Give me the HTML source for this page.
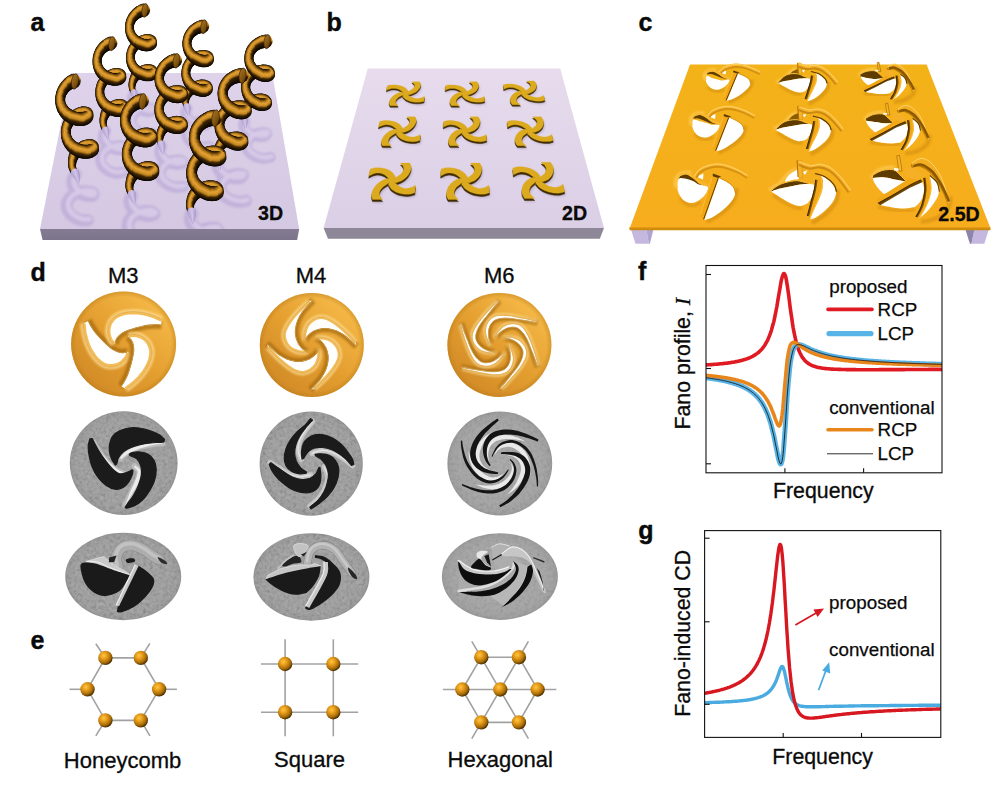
<!DOCTYPE html>
<html><head><meta charset="utf-8"><title>Figure</title>
<style>html,body{margin:0;padding:0;background:#fff;}body{width:1002px;height:787px;overflow:hidden;font-family:"Liberation Sans",sans-serif;}svg{display:block}</style>
</head><body>
<svg width="1002" height="787" viewBox="0 0 1002 787">
<rect width="1002" height="787" fill="#fff"/>
<linearGradient id="sa" x1="0" y1="0" x2="0" y2="1"><stop offset="0" stop-color="#ded3eb"/><stop offset="1" stop-color="#d5c8e2"/></linearGradient>
<linearGradient id="sas" x1="0" y1="0" x2="0" y2="1"><stop offset="0" stop-color="#857c94"/><stop offset="1" stop-color="#7c748a"/></linearGradient>
<path d="M71 73H272.1L299.2 229H40Z" fill="url(#sa)"/>
<path d="M40 229H299.2L297.1 239.9H42.6Z" fill="url(#sas)"/>
<linearGradient id="sb" x1="0" y1="0" x2="0" y2="1"><stop offset="0" stop-color="#e7dbed"/><stop offset="1" stop-color="#dbcfe6"/></linearGradient>
<path d="M367.8 68.5H560.2L604 228.1H323.6Z" fill="url(#sb)"/>
<path d="M323.6 228.1H604L599.8 238.7H328Z" fill="#8e8798"/>
<linearGradient id="gc" x1="0" y1="0" x2="0" y2="1"><stop offset="0" stop-color="#f3b218"/><stop offset="1" stop-color="#f7ad1e"/></linearGradient>
<path d="M631 229.5H646.3L648.9 243.7H635.5Z" fill="#c4b8e0"/><path d="M646.3 229.5H653.4L649.9 243.7H648.9Z" fill="#b0a4d0"/>
<path d="M974.4 229.5H988.8L984.3 243.7H971.4Z" fill="#c4b8e0"/><path d="M965.4 229.5H974.4L971.4 243.7H969.9Z" fill="#8d84ab"/>
<path d="M690 64.6H926.6L990.4 228H629.8Z" fill="url(#gc)"/>
<path d="M629.2 227.6H990.6L990.4 230.2H629.6Z" fill="#d08c0a"/>
<linearGradient id="hg0" x1="0" y1="0" x2="0" y2="1"><stop offset="0%" stop-color="#060300"/><stop offset="37.5%" stop-color="#3e2503"/><stop offset="54%" stop-color="#c4861f"/><stop offset="75%" stop-color="#e2a236"/><stop offset="85%" stop-color="#b47818"/><stop offset="95.5%" stop-color="#452a04"/><stop offset="100%" stop-color="#0c0600"/></linearGradient>
<linearGradient id="hg1" x1="0" y1="0" x2="0" y2="1"><stop offset="0%" stop-color="#060300"/><stop offset="30.2%" stop-color="#3e2503"/><stop offset="47.4%" stop-color="#c4861f"/><stop offset="68.8%" stop-color="#e2a236"/><stop offset="81.2%" stop-color="#b47818"/><stop offset="94.4%" stop-color="#452a04"/><stop offset="100%" stop-color="#0c0600"/></linearGradient>
<linearGradient id="hg2" x1="0" y1="0" x2="0" y2="1"><stop offset="0%" stop-color="#060300"/><stop offset="23.8%" stop-color="#3e2503"/><stop offset="41.2%" stop-color="#c4861f"/><stop offset="62.5%" stop-color="#e2a236"/><stop offset="77.5%" stop-color="#b47818"/><stop offset="93.2%" stop-color="#452a04"/><stop offset="100%" stop-color="#0c0600"/></linearGradient>
<linearGradient id="hg3" x1="0" y1="0" x2="0" y2="1"><stop offset="0%" stop-color="#060300"/><stop offset="18%" stop-color="#3e2503"/><stop offset="35.4%" stop-color="#c4861f"/><stop offset="56.2%" stop-color="#e2a236"/><stop offset="73.8%" stop-color="#b47818"/><stop offset="92.1%" stop-color="#452a04"/><stop offset="100%" stop-color="#0c0600"/></linearGradient>
<linearGradient id="hg4" x1="0" y1="0" x2="0" y2="1"><stop offset="0%" stop-color="#0c0600"/><stop offset="9%" stop-color="#452a04"/><stop offset="30%" stop-color="#b47818"/><stop offset="50%" stop-color="#e2a236"/><stop offset="70%" stop-color="#c4861f"/><stop offset="87%" stop-color="#3e2503"/><stop offset="100%" stop-color="#060300"/></linearGradient>
<linearGradient id="hg5" x1="0" y1="0" x2="0" y2="1"><stop offset="0%" stop-color="#0c0600"/><stop offset="7.9%" stop-color="#452a04"/><stop offset="26.2%" stop-color="#b47818"/><stop offset="43.8%" stop-color="#e2a236"/><stop offset="64.6%" stop-color="#c4861f"/><stop offset="82%" stop-color="#3e2503"/><stop offset="100%" stop-color="#060300"/></linearGradient>
<linearGradient id="hg6" x1="0" y1="0" x2="0" y2="1"><stop offset="0%" stop-color="#0c0600"/><stop offset="6.8%" stop-color="#452a04"/><stop offset="22.5%" stop-color="#b47818"/><stop offset="37.5%" stop-color="#e2a236"/><stop offset="58.8%" stop-color="#c4861f"/><stop offset="76.2%" stop-color="#3e2503"/><stop offset="100%" stop-color="#060300"/></linearGradient>
<linearGradient id="hg7" x1="0" y1="0" x2="0" y2="1"><stop offset="0%" stop-color="#0c0600"/><stop offset="5.6%" stop-color="#452a04"/><stop offset="18.8%" stop-color="#b47818"/><stop offset="31.2%" stop-color="#e2a236"/><stop offset="52.6%" stop-color="#c4861f"/><stop offset="69.8%" stop-color="#3e2503"/><stop offset="100%" stop-color="#060300"/></linearGradient>
<linearGradient id="hg8" x1="0" y1="0" x2="0" y2="1"><stop offset="0%" stop-color="#0c0600"/><stop offset="4.5%" stop-color="#452a04"/><stop offset="15%" stop-color="#b47818"/><stop offset="25%" stop-color="#e2a236"/><stop offset="46%" stop-color="#c4861f"/><stop offset="62.5%" stop-color="#3e2503"/><stop offset="100%" stop-color="#060300"/></linearGradient>
<linearGradient id="hlv" x1="0" y1="0" x2="0" y2="1"><stop offset="0" stop-color="#ab9acc"/><stop offset="0.45" stop-color="#d2c6e8"/><stop offset="1" stop-color="#b4a4d2"/></linearGradient>
<linearGradient id="htip" x1="0" y1="0" x2="1" y2="1"><stop offset="0" stop-color="#a87428"/><stop offset="0.6" stop-color="#80540e"/><stop offset="1" stop-color="#4a2c04"/></linearGradient>
<clipPath id="cla"><path d="M71 73H272.1L299.2 229H40Z"/></clipPath>
<g clip-path="url(#cla)" fill="none" stroke-linecap="round" filter="url(#b1)"><path d="M152.4 133.6C151.4 133.7 148.3 134.3 146.3 134.2C144.4 134 142.4 133.3 140.7 132.6C139 131.9 137.4 131 136.1 129.9C134.8 128.9 133.6 127.6 132.8 126.3C132 125 131.4 123.5 131.2 122.1C131 120.7 131.1 119.2 131.5 117.8C132 116.4 132.8 115.1 133.8 113.9C134.8 112.7 136.2 111.6 137.6 110.7C139.1 109.8 140.8 109.1 142.6 108.6C144.3 108.1 146.3 107.7 148.1 107.7C149.8 107.8 152.7 108.2 153.1 108.9C153.5 109.5 151.8 111.3 150.4 111.7C148.9 112.1 146.3 111.7 144.4 111.3C142.5 110.8 140.7 110.1 139.1 109.2C137.6 108.4 136.1 107.3 135 106.1C133.9 104.9 133.2 103.5 132.7 102.1C132.3 100.8 132 99.2 132.2 97.9C132.4 96.6 133.7 95 134 94.4" stroke="#b7a5d5" stroke-width="10.6" opacity="0.62"/>
<path d="M152.4 133.6C151.4 133.7 148.3 134.3 146.3 134.2C144.4 134 142.4 133.3 140.7 132.6C139 131.9 137.4 131 136.1 129.9C134.8 128.9 133.6 127.6 132.8 126.3C132 125 131.4 123.5 131.2 122.1C131 120.7 131.1 119.2 131.5 117.8C132 116.4 132.8 115.1 133.8 113.9C134.8 112.7 136.2 111.6 137.6 110.7C139.1 109.8 140.8 109.1 142.6 108.6C144.3 108.1 146.3 107.7 148.1 107.7C149.8 107.8 152.7 108.2 153.1 108.9C153.5 109.5 151.8 111.3 150.4 111.7C148.9 112.1 146.3 111.7 144.4 111.3C142.5 110.8 140.7 110.1 139.1 109.2C137.6 108.4 136.1 107.3 135 106.1C133.9 104.9 133.2 103.5 132.7 102.1C132.3 100.8 132 99.2 132.2 97.9C132.4 96.6 133.7 95 134 94.4" stroke="#e6ddf2" stroke-width="4" opacity="0.55" transform="translate(1.3 -0.9)"/>
<path d="M209.3 146.3C208.2 146.4 205.2 147.2 203.2 147.2C201.3 147.1 199.3 146.6 197.5 146C195.7 145.4 194 144.6 192.6 143.6C191.1 142.6 189.8 141.5 188.9 140.2C187.9 139 187.1 137.6 186.8 136.2C186.4 134.8 186.4 133.2 186.8 131.8C187.1 130.4 187.8 129 188.7 127.8C189.7 126.6 190.9 125.4 192.3 124.5C193.7 123.5 195.4 122.7 197.1 122.1C198.8 121.6 200.7 121.1 202.5 121.1C204.3 121 207.2 121.2 207.7 121.9C208.2 122.5 206.8 124.4 205.4 124.9C204 125.3 201.3 125 199.4 124.7C197.5 124.4 195.6 123.8 193.9 123.1C192.3 122.3 190.6 121.4 189.4 120.3C188.2 119.2 187.3 117.8 186.6 116.5C186 115.1 185.6 113.6 185.7 112.3C185.8 111 186.9 109.4 187.1 108.8" stroke="#b7a5d5" stroke-width="10.8" opacity="0.62"/>
<path d="M209.3 146.3C208.2 146.4 205.2 147.2 203.2 147.2C201.3 147.1 199.3 146.6 197.5 146C195.7 145.4 194 144.6 192.6 143.6C191.1 142.6 189.8 141.5 188.9 140.2C187.9 139 187.1 137.6 186.8 136.2C186.4 134.8 186.4 133.2 186.8 131.8C187.1 130.4 187.8 129 188.7 127.8C189.7 126.6 190.9 125.4 192.3 124.5C193.7 123.5 195.4 122.7 197.1 122.1C198.8 121.6 200.7 121.1 202.5 121.1C204.3 121 207.2 121.2 207.7 121.9C208.2 122.5 206.8 124.4 205.4 124.9C204 125.3 201.3 125 199.4 124.7C197.5 124.4 195.6 123.8 193.9 123.1C192.3 122.3 190.6 121.4 189.4 120.3C188.2 119.2 187.3 117.8 186.6 116.5C186 115.1 185.6 113.6 185.7 112.3C185.8 111 186.9 109.4 187.1 108.8" stroke="#e6ddf2" stroke-width="4" opacity="0.55" transform="translate(1.4 -0.9)"/>
<path d="M270.3 157.3C269.3 157.5 266.3 158.4 264.4 158.4C262.4 158.5 260.4 158.1 258.6 157.6C256.7 157.1 254.9 156.4 253.4 155.5C251.9 154.6 250.4 153.5 249.3 152.4C248.2 151.2 247.3 149.8 246.9 148.4C246.4 147 246.2 145.5 246.4 144.1C246.7 142.7 247.3 141.2 248.1 140C249 138.7 250.2 137.5 251.5 136.5C252.8 135.5 254.4 134.6 256.1 134C257.7 133.4 259.6 132.8 261.4 132.7C263.1 132.5 266.1 132.6 266.6 133.2C267.1 133.8 265.8 135.8 264.4 136.3C263 136.8 260.3 136.7 258.4 136.5C256.5 136.3 254.5 135.8 252.8 135.1C251 134.5 249.3 133.7 248 132.6C246.6 131.6 245.6 130.3 244.9 129C244.1 127.7 243.5 126.2 243.5 124.9C243.5 123.6 244.5 121.8 244.7 121.2" stroke="#b7a5d5" stroke-width="10.9" opacity="0.62"/>
<path d="M270.3 157.3C269.3 157.5 266.3 158.4 264.4 158.4C262.4 158.5 260.4 158.1 258.6 157.6C256.7 157.1 254.9 156.4 253.4 155.5C251.9 154.6 250.4 153.5 249.3 152.4C248.2 151.2 247.3 149.8 246.9 148.4C246.4 147 246.2 145.5 246.4 144.1C246.7 142.7 247.3 141.2 248.1 140C249 138.7 250.2 137.5 251.5 136.5C252.8 135.5 254.4 134.6 256.1 134C257.7 133.4 259.6 132.8 261.4 132.7C263.1 132.5 266.1 132.6 266.6 133.2C267.1 133.8 265.8 135.8 264.4 136.3C263 136.8 260.3 136.7 258.4 136.5C256.5 136.3 254.5 135.8 252.8 135.1C251 134.5 249.3 133.7 248 132.6C246.6 131.6 245.6 130.3 244.9 129C244.1 127.7 243.5 126.2 243.5 124.9C243.5 123.6 244.5 121.8 244.7 121.2" stroke="#e6ddf2" stroke-width="4.1" opacity="0.55" transform="translate(1.4 -0.9)"/>
<path d="M122.1 172.4C121.1 172.6 118 173.3 116 173.2C114.1 173.1 112.1 172.4 110.4 171.7C108.7 171 107.1 170 105.8 168.9C104.5 167.9 103.3 166.6 102.5 165.4C101.6 164.1 101 162.6 100.7 161.2C100.4 159.8 100.5 158.3 100.8 156.9C101.2 155.5 101.9 154.1 102.8 152.8C103.7 151.6 105 150.4 106.3 149.5C107.7 148.5 109.4 147.7 111.1 147.1C112.7 146.5 114.6 146 116.5 145.9C118.3 145.7 120.7 145.6 122 146.2C123.3 146.7 124.8 148.5 124.2 149.1C123.6 149.7 120.1 150.1 118.2 149.9C116.2 149.8 114.3 149.1 112.6 148.4C110.9 147.7 109.2 146.8 107.9 145.7C106.6 144.6 105.5 143.3 104.8 142C104 140.6 103.5 139.2 103.4 137.8C103.3 136.4 103.6 134.7 104 133.6C104.4 132.5 105.4 131.5 105.7 131.1" stroke="#b7a5d5" stroke-width="11" opacity="0.62"/>
<path d="M122.1 172.4C121.1 172.6 118 173.3 116 173.2C114.1 173.1 112.1 172.4 110.4 171.7C108.7 171 107.1 170 105.8 168.9C104.5 167.9 103.3 166.6 102.5 165.4C101.6 164.1 101 162.6 100.7 161.2C100.4 159.8 100.5 158.3 100.8 156.9C101.2 155.5 101.9 154.1 102.8 152.8C103.7 151.6 105 150.4 106.3 149.5C107.7 148.5 109.4 147.7 111.1 147.1C112.7 146.5 114.6 146 116.5 145.9C118.3 145.7 120.7 145.6 122 146.2C123.3 146.7 124.8 148.5 124.2 149.1C123.6 149.7 120.1 150.1 118.2 149.9C116.2 149.8 114.3 149.1 112.6 148.4C110.9 147.7 109.2 146.8 107.9 145.7C106.6 144.6 105.5 143.3 104.8 142C104 140.6 103.5 139.2 103.4 137.8C103.3 136.4 103.6 134.7 104 133.6C104.4 132.5 105.4 131.5 105.7 131.1" stroke="#e6ddf2" stroke-width="4.1" opacity="0.55" transform="translate(1.4 -0.9)"/>
<path d="M183 186.6C182 186.7 178.9 187.4 177 187.3C175 187.2 173 186.7 171.3 186.1C169.5 185.5 167.8 184.7 166.3 183.7C164.9 182.8 163.5 181.7 162.5 180.4C161.5 179.2 160.7 177.8 160.2 176.4C159.8 175 159.6 173.5 159.9 172.1C160.1 170.7 160.7 169.2 161.5 168C162.3 166.7 163.5 165.5 164.8 164.5C166.1 163.5 167.7 162.6 169.3 161.9C170.9 161.2 172.8 160.6 174.6 160.4C176.4 160.1 178.7 159.8 180.1 160.3C181.5 160.7 183.5 162.2 183 162.9C182.6 163.6 179.1 164.2 177.2 164.3C175.3 164.4 173.2 163.8 171.4 163.3C169.6 162.8 167.8 162 166.3 161.1C164.8 160.2 163.4 159.1 162.4 157.8C161.4 156.6 160.6 155.2 160.2 153.9C159.8 152.5 159.7 150.9 160 149.6C160.2 148.4 161.4 146.9 161.6 146.3" stroke="#b7a5d5" stroke-width="11.3" opacity="0.62"/>
<path d="M183 186.6C182 186.7 178.9 187.4 177 187.3C175 187.2 173 186.7 171.3 186.1C169.5 185.5 167.8 184.7 166.3 183.7C164.9 182.8 163.5 181.7 162.5 180.4C161.5 179.2 160.7 177.8 160.2 176.4C159.8 175 159.6 173.5 159.9 172.1C160.1 170.7 160.7 169.2 161.5 168C162.3 166.7 163.5 165.5 164.8 164.5C166.1 163.5 167.7 162.6 169.3 161.9C170.9 161.2 172.8 160.6 174.6 160.4C176.4 160.1 178.7 159.8 180.1 160.3C181.5 160.7 183.5 162.2 183 162.9C182.6 163.6 179.1 164.2 177.2 164.3C175.3 164.4 173.2 163.8 171.4 163.3C169.6 162.8 167.8 162 166.3 161.1C164.8 160.2 163.4 159.1 162.4 157.8C161.4 156.6 160.6 155.2 160.2 153.9C159.8 152.5 159.7 150.9 160 149.6C160.2 148.4 161.4 146.9 161.6 146.3" stroke="#e6ddf2" stroke-width="4.3" opacity="0.55" transform="translate(1.4 -0.9)"/>
<path d="M246 200.8C245 201 242 201.8 240.1 201.8C238.1 201.9 236.1 201.5 234.2 201.1C232.4 200.6 230.5 200 228.9 199.2C227.3 198.4 225.7 197.4 224.5 196.4C223.2 195.3 222.1 194 221.4 192.7C220.7 191.3 220.2 189.8 220.1 188.4C220.1 187 220.4 185.5 220.9 184.1C221.5 182.8 222.4 181.4 223.5 180.3C224.6 179.1 226 178.1 227.4 177.2C228.9 176.3 230.6 175.6 232.3 175C234 174.5 236 174 237.7 174C239.5 174 242.5 174.2 242.9 174.8C243.3 175.5 241.7 177.4 240.3 178C238.9 178.5 236.3 178.4 234.3 178.3C232.4 178.1 230.4 177.7 228.6 177.1C226.8 176.6 225 175.9 223.5 174.9C222.1 174 220.8 172.8 219.8 171.5C218.8 170.3 218 168.9 217.6 167.6C217.3 166.2 217.5 164.3 217.7 163.4C217.9 162.4 218.4 162.1 218.6 161.8" stroke="#b7a5d5" stroke-width="12" opacity="0.62"/>
<path d="M246 200.8C245 201 242 201.8 240.1 201.8C238.1 201.9 236.1 201.5 234.2 201.1C232.4 200.6 230.5 200 228.9 199.2C227.3 198.4 225.7 197.4 224.5 196.4C223.2 195.3 222.1 194 221.4 192.7C220.7 191.3 220.2 189.8 220.1 188.4C220.1 187 220.4 185.5 220.9 184.1C221.5 182.8 222.4 181.4 223.5 180.3C224.6 179.1 226 178.1 227.4 177.2C228.9 176.3 230.6 175.6 232.3 175C234 174.5 236 174 237.7 174C239.5 174 242.5 174.2 242.9 174.8C243.3 175.5 241.7 177.4 240.3 178C238.9 178.5 236.3 178.4 234.3 178.3C232.4 178.1 230.4 177.7 228.6 177.1C226.8 176.6 225 175.9 223.5 174.9C222.1 174 220.8 172.8 219.8 171.5C218.8 170.3 218 168.9 217.6 167.6C217.3 166.2 217.5 164.3 217.7 163.4C217.9 162.4 218.4 162.1 218.6 161.8" stroke="#e6ddf2" stroke-width="4.5" opacity="0.55" transform="translate(1.5 -1)"/>
<path d="M87.8 220.3C86.8 220.3 83.6 220.5 81.7 220.2C79.8 219.9 77.9 219.1 76.3 218.3C74.6 217.6 73.1 216.5 71.8 215.5C70.5 214.4 69.4 213.1 68.6 211.8C67.7 210.5 67.1 209.1 66.8 207.7C66.5 206.2 66.5 204.7 66.8 203.3C67.1 201.9 67.8 200.5 68.7 199.3C69.5 198 70.8 196.8 72.1 195.8C73.4 194.8 75 193.9 76.7 193.3C78.3 192.6 80.2 192 82 191.7C83.8 191.4 85.8 191.2 87.6 191.4C89.4 191.5 92 191.8 92.9 192.6C93.7 193.3 93.7 195.3 92.6 195.8C91.6 196.3 88.4 196 86.5 195.7C84.6 195.3 82.8 194.6 81.1 193.8C79.5 193 77.9 192 76.7 190.9C75.4 189.8 74.4 188.5 73.6 187.1C72.9 185.8 72.5 184.4 72.3 182.9C72.2 181.5 72.2 180.1 72.8 178.7C73.3 177.3 75.2 175.3 75.7 174.6C76.2 173.9 75.7 174.6 75.7 174.6" stroke="#b7a5d5" stroke-width="12" opacity="0.62"/>
<path d="M87.8 220.3C86.8 220.3 83.6 220.5 81.7 220.2C79.8 219.9 77.9 219.1 76.3 218.3C74.6 217.6 73.1 216.5 71.8 215.5C70.5 214.4 69.4 213.1 68.6 211.8C67.7 210.5 67.1 209.1 66.8 207.7C66.5 206.2 66.5 204.7 66.8 203.3C67.1 201.9 67.8 200.5 68.7 199.3C69.5 198 70.8 196.8 72.1 195.8C73.4 194.8 75 193.9 76.7 193.3C78.3 192.6 80.2 192 82 191.7C83.8 191.4 85.8 191.2 87.6 191.4C89.4 191.5 92 191.8 92.9 192.6C93.7 193.3 93.7 195.3 92.6 195.8C91.6 196.3 88.4 196 86.5 195.7C84.6 195.3 82.8 194.6 81.1 193.8C79.5 193 77.9 192 76.7 190.9C75.4 189.8 74.4 188.5 73.6 187.1C72.9 185.8 72.5 184.4 72.3 182.9C72.2 181.5 72.2 180.1 72.8 178.7C73.3 177.3 75.2 175.3 75.7 174.6C76.2 173.9 75.7 174.6 75.7 174.6" stroke="#e6ddf2" stroke-width="4.5" opacity="0.55" transform="translate(1.5 -1)"/>
<path d="M151.9 240.3C150.9 240.4 147.8 241 145.8 240.9C143.9 240.7 141.9 240.2 140.2 239.6C138.4 239 136.7 238.1 135.2 237.2C133.7 236.3 132.3 235.1 131.2 234C130.1 232.8 129.2 231.4 128.6 230C128 228.7 127.7 227.2 127.7 225.8C127.7 224.3 128 222.8 128.6 221.5C129.2 220.1 130.1 218.8 131.2 217.7C132.3 216.5 133.7 215.5 135.2 214.6C136.7 213.7 138.4 213 140.1 212.4C141.8 211.9 143.7 211.4 145.6 211.3C147.4 211.1 149.6 211 151.1 211.5C152.5 212 154.7 213.5 154.2 214.2C153.8 214.9 150.5 215.7 148.6 215.8C146.6 215.9 144.6 215.4 142.7 214.9C140.9 214.4 139.1 213.6 137.5 212.8C136 211.9 134.4 210.9 133.3 209.7C132.1 208.6 131.3 207.2 130.7 205.8C130.1 204.4 129.6 203 129.6 201.6C129.6 200.2 130.3 198.4 130.7 197.4C131.1 196.5 131.7 196.2 131.9 196" stroke="#b7a5d5" stroke-width="12.4" opacity="0.62"/>
<path d="M151.9 240.3C150.9 240.4 147.8 241 145.8 240.9C143.9 240.7 141.9 240.2 140.2 239.6C138.4 239 136.7 238.1 135.2 237.2C133.7 236.3 132.3 235.1 131.2 234C130.1 232.8 129.2 231.4 128.6 230C128 228.7 127.7 227.2 127.7 225.8C127.7 224.3 128 222.8 128.6 221.5C129.2 220.1 130.1 218.8 131.2 217.7C132.3 216.5 133.7 215.5 135.2 214.6C136.7 213.7 138.4 213 140.1 212.4C141.8 211.9 143.7 211.4 145.6 211.3C147.4 211.1 149.6 211 151.1 211.5C152.5 212 154.7 213.5 154.2 214.2C153.8 214.9 150.5 215.7 148.6 215.8C146.6 215.9 144.6 215.4 142.7 214.9C140.9 214.4 139.1 213.6 137.5 212.8C136 211.9 134.4 210.9 133.3 209.7C132.1 208.6 131.3 207.2 130.7 205.8C130.1 204.4 129.6 203 129.6 201.6C129.6 200.2 130.3 198.4 130.7 197.4C131.1 196.5 131.7 196.2 131.9 196" stroke="#e6ddf2" stroke-width="4.6" opacity="0.55" transform="translate(1.5 -1)"/>
<path d="M220.8 257.6C219.9 257.8 217 258.8 215 259C213.1 259.1 211 258.8 209.1 258.4C207.2 258.1 205.4 257.5 203.7 256.8C202 256.1 200.3 255.2 198.9 254.2C197.5 253.2 196.2 252 195.3 250.8C194.3 249.6 193.5 248.2 193 246.8C192.5 245.4 192.4 243.9 192.5 242.5C192.6 241 193.1 239.6 193.8 238.3C194.5 236.9 195.5 235.7 196.6 234.5C197.8 233.4 199.2 232.4 200.7 231.5C202.2 230.6 203.9 229.9 205.6 229.3C207.3 228.8 209.2 228.3 211 228.2C212.8 228.1 215.4 228 216.4 228.6C217.5 229.2 218 231.1 217.1 231.8C216.2 232.5 213.2 232.8 211.2 232.9C209.2 233 207.2 232.7 205.3 232.3C203.5 231.9 201.6 231.3 199.9 230.6C198.3 229.8 196.6 228.9 195.3 227.9C194 226.8 193 225.5 192.1 224.2C191.3 223 190.6 221.5 190.4 220.2C190.1 218.8 190.4 217.1 190.7 215.9C190.9 214.8 191.7 213.8 191.9 213.4" stroke="#b7a5d5" stroke-width="13.1" opacity="0.62"/>
<path d="M220.8 257.6C219.9 257.8 217 258.8 215 259C213.1 259.1 211 258.8 209.1 258.4C207.2 258.1 205.4 257.5 203.7 256.8C202 256.1 200.3 255.2 198.9 254.2C197.5 253.2 196.2 252 195.3 250.8C194.3 249.6 193.5 248.2 193 246.8C192.5 245.4 192.4 243.9 192.5 242.5C192.6 241 193.1 239.6 193.8 238.3C194.5 236.9 195.5 235.7 196.6 234.5C197.8 233.4 199.2 232.4 200.7 231.5C202.2 230.6 203.9 229.9 205.6 229.3C207.3 228.8 209.2 228.3 211 228.2C212.8 228.1 215.4 228 216.4 228.6C217.5 229.2 218 231.1 217.1 231.8C216.2 232.5 213.2 232.8 211.2 232.9C209.2 233 207.2 232.7 205.3 232.3C203.5 231.9 201.6 231.3 199.9 230.6C198.3 229.8 196.6 228.9 195.3 227.9C194 226.8 193 225.5 192.1 224.2C191.3 223 190.6 221.5 190.4 220.2C190.1 218.8 190.4 217.1 190.7 215.9C190.9 214.8 191.7 213.8 191.9 213.4" stroke="#e6ddf2" stroke-width="4.9" opacity="0.55" transform="translate(1.6 -1.1)"/></g>
<g fill="url(#hg0)">
<circle r="5.5" transform="translate(141 41.3)rotate(154.7)"/>
<circle r="5.5" transform="translate(142.5 71)rotate(156.9)"/>
<circle r="6.1" transform="translate(140.8 11.1)rotate(157.3)"/>
<circle r="6" transform="translate(139.5 11.7)rotate(152.6)"/>
<circle r="5.4" transform="translate(141.2 71.7)rotate(152.3)"/>
<circle r="5.5" transform="translate(142.4 40.8)rotate(159.5)"/>
<circle r="5.4" transform="translate(139.7 42)rotate(150.2)"/>
<circle r="5.6" transform="translate(143.9 70.5)rotate(161.7)"/>
<circle r="5.8" transform="translate(138.2 12.4)rotate(148.2)"/>
<circle r="6.3" transform="translate(142.2 10.5)rotate(162.1)"/>
<circle r="5.3" transform="translate(139.9 72.4)rotate(147.8)"/>
<circle r="5.6" transform="translate(143.8 40.3)rotate(164.5)"/>
<circle r="5.3" transform="translate(138.5 42.8)rotate(145.8)"/>
<circle r="5.6" transform="translate(137 13.2)rotate(143.8)"/>
<circle r="5.2" transform="translate(138.7 73.2)rotate(143.4)"/>
<circle r="5.7" transform="translate(145.4 70.1)rotate(167)"/>
<circle r="6.6" transform="translate(143.6 10.2)rotate(167.4)"/>
<circle r="5.2" transform="translate(137.3 43.7)rotate(141.4)"/>
<circle r="5.7" transform="translate(145.2 40)rotate(170)"/>
<circle r="5.5" transform="translate(135.8 14.1)rotate(139.4)"/>
<circle r="5.2" transform="translate(137.6 74.1)rotate(139.1)"/>
<circle r="5.7" transform="translate(146.8 69.8)rotate(172.8)"/>
<circle r="5.1" transform="translate(136.2 44.6)rotate(137.1)"/>
<circle r="5.3" transform="translate(134.8 15.1)rotate(135)"/>
<circle r="5.1" transform="translate(136.5 75.1)rotate(134.7)"/>
<circle r="5.7" transform="translate(146.7 39.8)rotate(176.3)"/>
<circle r="5" transform="translate(135.1 45.6)rotate(132.7)"/>
<circle r="5.7" transform="translate(148.4 69.8)rotate(179.7)"/>
<circle r="5.2" transform="translate(133.8 16.2)rotate(130.6)"/>
<circle r="5" transform="translate(135.5 76.2)rotate(130.3)"/>
<circle r="4.9" transform="translate(134.2 46.7)rotate(128.2)"/>
<circle r="5.8" transform="translate(148.3 39.8)rotate(-176)"/>
</g>
<g fill="url(#hg1)">
<circle r="5.1" transform="translate(132.9 17.3)rotate(126.2)"/>
<circle r="4.6" transform="translate(134.7 77.4)rotate(119.5)"/>
<circle r="5.7" transform="translate(149.9 69.9)rotate(-171.6)"/>
<circle r="4.8" transform="translate(133.3 47.9)rotate(123.7)"/>
<circle r="4.9" transform="translate(132.1 18.5)rotate(121.6)"/>
<circle r="4.4" transform="translate(134 78.7)rotate(115.9)"/>
<circle r="5.7" transform="translate(149.8 40.1)rotate(-165.4)"/>
<circle r="4.7" transform="translate(132.6 49.1)rotate(119.1)"/>
<circle r="4.2" transform="translate(133.4 80)rotate(112.2)"/>
<circle r="4.8" transform="translate(131.3 19.8)rotate(117)"/>
<circle r="5.6" transform="translate(151.4 70.3)rotate(-158.5)"/>
<circle r="4.6" transform="translate(131.9 50.4)rotate(114.5)"/>
<circle r="4" transform="translate(132.9 81.3)rotate(108.2)"/>
<circle r="4.7" transform="translate(130.7 21.1)rotate(112.3)"/>
<circle r="4.5" transform="translate(131.4 51.8)rotate(109.7)"/>
</g>
<g fill="url(#hg2)">
<circle r="5.5" transform="translate(151.3 40.7)rotate(-147.2)"/>
</g>
<g fill="url(#hg1)">
<circle r="3.8" transform="translate(132.5 82.7)rotate(103.9)"/>
<circle r="4.6" transform="translate(130.2 22.4)rotate(107.5)"/>
<circle r="4.5" transform="translate(130.9 53.2)rotate(104.9)"/>
</g>
<g fill="url(#hg2)">
<circle r="3.7" transform="translate(132.2 84.1)rotate(99.2)"/>
<circle r="4.6" transform="translate(129.8 23.8)rotate(102.6)"/>
</g>
<g fill="url(#hg3)">
<circle r="5.1" transform="translate(152.8 71.2)rotate(-132.3)"/>
</g>
<g fill="url(#hg2)">
<circle r="4.4" transform="translate(130.6 54.6)rotate(99.9)"/>
<circle r="3.5" transform="translate(132 85.5)rotate(94)"/>
<circle r="4.5" transform="translate(129.6 25.3)rotate(97.7)"/>
<circle r="4.4" transform="translate(130.4 56)rotate(95)"/>
<circle r="4.5" transform="translate(129.5 26.7)rotate(92.7)"/>
</g>
<g fill="url(#hg5)">
<circle r="4.6" transform="translate(152.4 42)rotate(-106.6)"/>
</g>
<g fill="url(#hg2)">
<circle r="3.3" transform="translate(132 86.9)rotate(88.1)"/>
<circle r="4.4" transform="translate(130.3 57.5)rotate(90)"/>
<circle r="4.5" transform="translate(129.4 28.2)rotate(87.7)"/>
</g>
<g fill="url(#hg3)">
<circle r="3.2" transform="translate(132.1 88.3)rotate(81.6)"/>
</g>
<g fill="url(#hg6)">
<circle r="4.5" transform="translate(153.3 72.6)rotate(-82.8)"/>
</g>
<g fill="url(#hg3)">
<circle r="4.5" transform="translate(130.4 58.9)rotate(85)"/>
<circle r="4.5" transform="translate(129.6 29.6)rotate(82.7)"/>
<circle r="3.1" transform="translate(132.4 89.7)rotate(74.3)"/>
<circle r="4.5" transform="translate(130.6 60.3)rotate(80)"/>
<circle r="4.6" transform="translate(129.8 31)rotate(77.7)"/>
</g>
<g fill="url(#hg7)">
<circle r="4.9" transform="translate(152.2 43.3)rotate(-59.9)"/>
</g>
<g fill="url(#hg3)">
<circle r="4.6" transform="translate(130.9 61.8)rotate(75.1)"/>
</g>
<g fill="url(#hg4)">
<circle r="3" transform="translate(132.9 91.1)rotate(66.4)"/>
</g>
<g fill="url(#hg3)">
<circle r="4.7" transform="translate(130.2 32.4)rotate(72.8)"/>
</g>
<g fill="url(#hg8)">
<circle r="5.3" transform="translate(152.7 73.7)rotate(-46.1)"/>
</g>
<g fill="url(#hlv)">
<circle r="3.6" transform="translate(134 93)rotate(76.9)"/>
<circle r="3.1" transform="translate(134.3 94.4)rotate(76.9)"/>
<circle r="2.7" transform="translate(134.6 95.8)rotate(76.9)"/>
<circle r="2.2" transform="translate(135 97.2)rotate(76.9)"/>
<circle r="1.8" transform="translate(135.3 98.6)rotate(76.9)"/>
<circle r="1.3" transform="translate(135.6 100)rotate(76.9)"/>
<circle r="0.7" transform="translate(135.9 101.4)rotate(76.9)"/>
</g>
<g fill="url(#hg4)">
<circle r="4.7" transform="translate(131.3 63.1)rotate(70.2)"/>
<circle r="4.8" transform="translate(130.6 33.8)rotate(67.9)"/>
</g>
<g fill="url(#hg8)">
<circle r="5.6" transform="translate(151.3 44.2)rotate(-34.3)"/>
</g>
<g fill="url(#hg4)">
<circle r="4.8" transform="translate(131.9 64.5)rotate(65.3)"/>
<circle r="4.9" transform="translate(131.2 35.1)rotate(63.2)"/>
</g>
<g fill="url(#hg8)">
<circle r="5.8" transform="translate(151.7 74.4)rotate(-26.8)"/>
</g>
<g fill="url(#hg4)">
<circle r="4.9" transform="translate(132.5 65.8)rotate(60.6)"/>
<circle r="5" transform="translate(131.9 36.4)rotate(58.5)"/>
</g>
<g fill="url(#hg8)">
<circle r="5.9" transform="translate(150.1 44.7)rotate(-19.9)"/>
</g>
<g fill="url(#hg5)">
<circle r="5.1" transform="translate(133.3 67)rotate(56)"/>
</g>
<g fill="url(#hg8)">
<circle r="6" transform="translate(150.4 74.9)rotate(-15)"/>
</g>
<g fill="url(#hg5)">
<circle r="5.2" transform="translate(132.7 37.6)rotate(53.9)"/>
<circle r="5.2" transform="translate(134.1 68.2)rotate(51.4)"/>
</g>
<g fill="url(#hg8)">
<circle r="6.1" transform="translate(148.8 45.1)rotate(-10.1)"/>
</g>
<g fill="url(#hg5)">
<circle r="5.3" transform="translate(133.6 38.7)rotate(49.4)"/>
</g>
<g fill="url(#hg8)">
<circle r="6.1" transform="translate(149.1 75.1)rotate(-6.4)"/>
</g>
<g fill="url(#hg5)">
<circle r="5.4" transform="translate(135.1 69.3)rotate(47)"/>
<circle r="5.4" transform="translate(134.6 39.8)rotate(44.9)"/>
</g>
<g fill="url(#hg8)">
<circle r="6.1" transform="translate(147.4 45.2)rotate(-2.6)"/>
</g>
<g fill="url(#hg6)">
<circle r="5.5" transform="translate(136.1 70.3)rotate(42.6)"/>
</g>
<g fill="url(#hg8)">
<circle r="6.1" transform="translate(147.7 75.2)rotate(0.4)"/>
</g>
<g fill="url(#hg6)">
<circle r="5.6" transform="translate(135.7 40.8)rotate(40.6)"/>
<circle r="5.6" transform="translate(137.2 71.2)rotate(38.2)"/>
</g>
<g fill="url(#hg8)">
<circle r="6.2" transform="translate(146 45.2)rotate(3.6)"/>
</g>
<g fill="url(#hg6)">
<circle r="5.7" transform="translate(136.8 41.7)rotate(36.3)"/>
</g>
<g fill="url(#hg7)">
<circle r="6.1" transform="translate(146.3 75.1)rotate(6.2)"/>
</g>
<g fill="url(#hg6)">
<circle r="5.7" transform="translate(138.4 72.1)rotate(33.9)"/>
</g>
<g fill="url(#hg7)">
<circle r="6.1" transform="translate(144.6 45)rotate(9.1)"/>
</g>
<g fill="url(#hg6)">
<circle r="5.8" transform="translate(138 42.5)rotate(32)"/>
</g>
<g fill="url(#hg7)">
<circle r="6.1" transform="translate(144.9 74.9)rotate(11.5)"/>
</g>
<g fill="url(#hg6)">
<circle r="5.8" transform="translate(139.6 72.9)rotate(29.6)"/>
</g>
<g fill="url(#hg7)">
<circle r="6.1" transform="translate(143.2 44.8)rotate(14.1)"/>
</g>
<g fill="url(#hg6)">
<circle r="5.9" transform="translate(139.2 43.2)rotate(27.7)"/>
</g>
<g fill="url(#hg7)">
<circle r="6.1" transform="translate(143.5 74.5)rotate(16.3)"/>
<circle r="5.9" transform="translate(140.8 73.5)rotate(25.3)"/>
<circle r="6" transform="translate(140.5 43.8)rotate(23.3)"/>
<circle r="6" transform="translate(141.9 44.4)rotate(18.8)"/>
<circle r="6" transform="translate(142.2 74.1)rotate(20.9)"/>
</g>
<ellipse cx="145" cy="10.3" rx="3.1" ry="6.9" transform="rotate(7 143.6 10.2)" fill="url(#htip)" stroke="#1c0e00" stroke-width="0.5"/>
<g fill="url(#hg0)">
<circle r="5.6" transform="translate(197.9 56.8)rotate(159.6)"/>
<circle r="5.6" transform="translate(196.1 86.6)rotate(157.5)"/>
<circle r="6.3" transform="translate(199.6 27.1)rotate(161.8)"/>
<circle r="6.2" transform="translate(198.2 27.6)rotate(157.3)"/>
<circle r="5.7" transform="translate(197.5 86.1)rotate(162)"/>
<circle r="5.6" transform="translate(196.5 57.4)rotate(155.2)"/>
<circle r="5.7" transform="translate(199.3 56.4)rotate(164.2)"/>
<circle r="5.5" transform="translate(194.8 87.2)rotate(153.2)"/>
<circle r="6" transform="translate(196.9 28.2)rotate(152.9)"/>
<circle r="6.5" transform="translate(201 26.7)rotate(166.5)"/>
<circle r="5.7" transform="translate(198.9 85.7)rotate(166.8)"/>
<circle r="5.5" transform="translate(195.2 58)rotate(150.9)"/>
<circle r="5.8" transform="translate(200.7 56)rotate(169.1)"/>
<circle r="5.4" transform="translate(193.5 87.9)rotate(148.9)"/>
<circle r="5.8" transform="translate(195.6 28.9)rotate(148.6)"/>
<circle r="6.7" transform="translate(202.5 26.4)rotate(171.6)"/>
<circle r="5.8" transform="translate(200.4 85.4)rotate(171.8)"/>
<circle r="5.4" transform="translate(194 58.8)rotate(146.6)"/>
<circle r="5.8" transform="translate(202.2 55.8)rotate(174.4)"/>
<circle r="5.4" transform="translate(192.3 88.7)rotate(144.6)"/>
<circle r="5.7" transform="translate(194.4 29.7)rotate(144.3)"/>
<circle r="5.3" transform="translate(192.8 59.6)rotate(142.3)"/>
<circle r="5.8" transform="translate(201.9 85.3)rotate(177.5)"/>
<circle r="5.3" transform="translate(191.1 89.6)rotate(140.2)"/>
<circle r="5.6" transform="translate(193.3 30.6)rotate(140)"/>
<circle r="5.8" transform="translate(203.7 55.8)rotate(-179.5)"/>
<circle r="5.2" transform="translate(191.6 60.6)rotate(137.9)"/>
<circle r="5.2" transform="translate(190.1 90.6)rotate(135.8)"/>
<circle r="5.4" transform="translate(192.2 31.6)rotate(135.6)"/>
</g>
<g fill="url(#hg1)">
<circle r="5.8" transform="translate(203.4 85.3)rotate(-175.8)"/>
</g>
<g fill="url(#hg0)">
<circle r="5.1" transform="translate(190.6 61.6)rotate(133.5)"/>
</g>
<g fill="url(#hg1)">
<circle r="5.8" transform="translate(205.2 55.9)rotate(-172)"/>
<circle r="4.9" transform="translate(189.1 91.7)rotate(124.9)"/>
</g>
<g fill="url(#hg0)">
<circle r="5.3" transform="translate(191.2 32.6)rotate(131.1)"/>
<circle r="5" transform="translate(189.6 62.7)rotate(128.9)"/>
</g>
<g fill="url(#hg1)">
<circle r="5.8" transform="translate(204.9 85.6)rotate(-167.1)"/>
<circle r="4.6" transform="translate(188.3 92.9)rotate(121.2)"/>
</g>
<g fill="url(#hg0)">
<circle r="5.1" transform="translate(190.3 33.7)rotate(126.5)"/>
</g>
<g fill="url(#hg1)">
<circle r="4.9" transform="translate(188.8 63.8)rotate(124.3)"/>
<circle r="5.7" transform="translate(206.8 56.2)rotate(-161.8)"/>
<circle r="4.4" transform="translate(187.6 94.1)rotate(117.5)"/>
<circle r="5" transform="translate(189.4 34.9)rotate(121.8)"/>
<circle r="4.8" transform="translate(188 65.1)rotate(119.5)"/>
<circle r="5.6" transform="translate(206.5 86.1)rotate(-153.9)"/>
<circle r="4.2" transform="translate(186.9 95.4)rotate(113.4)"/>
<circle r="4.9" transform="translate(188.7 36.2)rotate(117)"/>
<circle r="4.7" transform="translate(187.3 66.3)rotate(114.7)"/>
<circle r="4" transform="translate(186.4 96.7)rotate(109)"/>
</g>
<g fill="url(#hg2)">
<circle r="5.5" transform="translate(208.2 57)rotate(-143.9)"/>
</g>
<g fill="url(#hg1)">
<circle r="4.8" transform="translate(188.1 37.5)rotate(112.1)"/>
<circle r="4.6" transform="translate(186.8 67.7)rotate(109.7)"/>
<circle r="3.8" transform="translate(186 98.1)rotate(104.2)"/>
<circle r="4.7" transform="translate(187.6 38.9)rotate(107)"/>
<circle r="4.6" transform="translate(186.4 69.1)rotate(104.6)"/>
</g>
<g fill="url(#hg3)">
<circle r="5" transform="translate(207.8 87.1)rotate(-125.9)"/>
</g>
<g fill="url(#hg2)">
<circle r="3.6" transform="translate(185.7 99.5)rotate(98.9)"/>
<circle r="4.6" transform="translate(187.3 40.3)rotate(101.9)"/>
<circle r="4.5" transform="translate(186 70.5)rotate(99.4)"/>
<circle r="3.4" transform="translate(185.6 100.9)rotate(92.9)"/>
<circle r="4.6" transform="translate(187 41.7)rotate(96.7)"/>
</g>
<g fill="url(#hg5)">
<circle r="4.6" transform="translate(209.2 58.3)rotate(-101.9)"/>
</g>
<g fill="url(#hg2)">
<circle r="4.5" transform="translate(185.9 71.9)rotate(94.2)"/>
<circle r="4.6" transform="translate(186.9 43.1)rotate(91.5)"/>
</g>
<g fill="url(#hg3)">
<circle r="3.3" transform="translate(185.6 102.3)rotate(86.2)"/>
</g>
<g fill="url(#hg2)">
<circle r="4.5" transform="translate(185.8 73.4)rotate(89)"/>
</g>
<g fill="url(#hg7)">
<circle r="4.6" transform="translate(208.1 88.5)rotate(-74.1)"/>
</g>
<g fill="url(#hg3)">
<circle r="4.6" transform="translate(186.9 44.6)rotate(86.3)"/>
<circle r="3.1" transform="translate(185.7 103.7)rotate(78.7)"/>
<circle r="4.6" transform="translate(185.9 74.8)rotate(83.8)"/>
<circle r="4.6" transform="translate(187.1 46)rotate(81.1)"/>
</g>
<g fill="url(#hg7)">
<circle r="5.1" transform="translate(208.9 59.5)rotate(-54.4)"/>
</g>
<g fill="url(#hg3)">
<circle r="4.6" transform="translate(186.1 76.3)rotate(78.7)"/>
</g>
<g fill="url(#hg4)">
<circle r="3" transform="translate(186.1 105.1)rotate(70.6)"/>
</g>
<g fill="url(#hg3)">
<circle r="4.7" transform="translate(187.4 47.5)rotate(76)"/>
</g>
<g fill="url(#hlv)">
<circle r="3.7" transform="translate(187.1 107)rotate(80.8)"/>
<circle r="3.2" transform="translate(187.3 108.4)rotate(80.8)"/>
<circle r="2.8" transform="translate(187.6 109.8)rotate(80.8)"/>
<circle r="2.3" transform="translate(187.8 111.3)rotate(80.8)"/>
<circle r="1.9" transform="translate(188 112.7)rotate(80.8)"/>
<circle r="1.4" transform="translate(188.3 114.1)rotate(80.8)"/>
<circle r="0.9" transform="translate(188.5 115.6)rotate(80.8)"/>
</g>
<g fill="url(#hg8)">
<circle r="5.5" transform="translate(207.3 89.6)rotate(-39.2)"/>
</g>
<g fill="url(#hg3)">
<circle r="4.7" transform="translate(186.5 77.7)rotate(73.6)"/>
</g>
<g fill="url(#hg4)">
<circle r="4.8" transform="translate(187.8 48.8)rotate(71)"/>
</g>
<g fill="url(#hg8)">
<circle r="5.8" transform="translate(207.9 60.4)rotate(-29.3)"/>
</g>
<g fill="url(#hg4)">
<circle r="4.8" transform="translate(186.9 79)rotate(68.6)"/>
<circle r="4.9" transform="translate(188.3 50.2)rotate(66)"/>
</g>
<g fill="url(#hg8)">
<circle r="6" transform="translate(206.2 90.2)rotate(-21.2)"/>
</g>
<g fill="url(#hg4)">
<circle r="4.9" transform="translate(187.5 80.4)rotate(63.7)"/>
<circle r="5" transform="translate(189 51.5)rotate(61.2)"/>
</g>
<g fill="url(#hg8)">
<circle r="6.1" transform="translate(206.7 60.8)rotate(-15.4)"/>
</g>
<g fill="url(#hg4)">
<circle r="5.1" transform="translate(188.2 81.6)rotate(59)"/>
</g>
<g fill="url(#hg5)">
<circle r="5.2" transform="translate(189.7 52.7)rotate(56.6)"/>
</g>
<g fill="url(#hg8)">
<circle r="6.2" transform="translate(204.9 90.5)rotate(-10.1)"/>
</g>
<g fill="url(#hg5)">
<circle r="5.2" transform="translate(189 82.9)rotate(54.4)"/>
</g>
<g fill="url(#hg8)">
<circle r="6.2" transform="translate(205.4 61.1)rotate(-6)"/>
</g>
<g fill="url(#hg5)">
<circle r="5.3" transform="translate(190.5 53.9)rotate(52)"/>
<circle r="5.4" transform="translate(189.9 84)rotate(49.9)"/>
</g>
<g fill="url(#hg8)">
<circle r="6.2" transform="translate(203.5 90.7)rotate(-2)"/>
</g>
<g fill="url(#hg5)">
<circle r="5.4" transform="translate(191.5 55)rotate(47.6)"/>
</g>
<g fill="url(#hg8)">
<circle r="6.2" transform="translate(204 61.1)rotate(1.2)"/>
</g>
<g fill="url(#hg5)">
<circle r="5.5" transform="translate(190.9 85.1)rotate(45.5)"/>
</g>
<g fill="url(#hg7)">
<circle r="6.2" transform="translate(202.2 90.6)rotate(4.5)"/>
</g>
<g fill="url(#hg5)">
<circle r="5.6" transform="translate(192.5 56.1)rotate(43.2)"/>
</g>
<g fill="url(#hg7)">
<circle r="6.2" transform="translate(202.6 61)rotate(7.2)"/>
</g>
<g fill="url(#hg6)">
<circle r="5.6" transform="translate(191.9 86.1)rotate(41.2)"/>
<circle r="5.7" transform="translate(193.6 57)rotate(38.9)"/>
</g>
<g fill="url(#hg7)">
<circle r="6.2" transform="translate(200.8 90.5)rotate(10)"/>
</g>
<g fill="url(#hg6)">
<circle r="5.7" transform="translate(193 87)rotate(36.9)"/>
</g>
<g fill="url(#hg7)">
<circle r="6.2" transform="translate(201.2 60.8)rotate(12.5)"/>
</g>
<g fill="url(#hg6)">
<circle r="5.8" transform="translate(194.7 57.9)rotate(34.7)"/>
</g>
<g fill="url(#hg7)">
<circle r="6.2" transform="translate(199.4 90.1)rotate(15)"/>
</g>
<g fill="url(#hg6)">
<circle r="5.8" transform="translate(194.2 87.8)rotate(32.7)"/>
</g>
<g fill="url(#hg7)">
<circle r="6.2" transform="translate(199.8 60.4)rotate(17.3)"/>
</g>
<g fill="url(#hg6)">
<circle r="5.9" transform="translate(195.9 58.7)rotate(30.5)"/>
</g>
<g fill="url(#hg7)">
<circle r="6.1" transform="translate(198 89.7)rotate(19.7)"/>
</g>
<g fill="url(#hg6)">
<circle r="5.9" transform="translate(195.4 88.5)rotate(28.4)"/>
</g>
<g fill="url(#hg7)">
<circle r="6.1" transform="translate(198.5 59.9)rotate(21.8)"/>
<circle r="6" transform="translate(197.2 59.3)rotate(26.2)"/>
<circle r="6" transform="translate(196.7 89.2)rotate(24.1)"/>
</g>
<ellipse cx="203.9" cy="26.6" rx="3.1" ry="7" transform="rotate(7 202.5 26.4)" fill="url(#htip)" stroke="#1c0e00" stroke-width="0.5"/>
<g fill="url(#hg0)">
<circle r="5.7" transform="translate(259 71)rotate(164.2)"/>
<circle r="6.3" transform="translate(261.5 42.2)rotate(162)"/>
<circle r="5.7" transform="translate(255.1 100.3)rotate(162)"/>
<circle r="5.8" transform="translate(256.5 99.9)rotate(166.4)"/>
<circle r="6.4" transform="translate(262.9 41.8)rotate(166.4)"/>
<circle r="5.7" transform="translate(257.6 71.5)rotate(159.8)"/>
<circle r="5.8" transform="translate(260.4 70.7)rotate(168.7)"/>
<circle r="6.1" transform="translate(260.1 42.7)rotate(157.7)"/>
<circle r="5.7" transform="translate(253.7 100.8)rotate(157.7)"/>
<circle r="5.8" transform="translate(258 99.6)rotate(171)"/>
<circle r="6.6" transform="translate(264.3 41.5)rotate(171)"/>
<circle r="5.6" transform="translate(256.2 72)rotate(155.6)"/>
<circle r="5.8" transform="translate(261.9 70.4)rotate(173.4)"/>
<circle r="6" transform="translate(258.8 43.3)rotate(153.5)"/>
<circle r="5.6" transform="translate(252.4 101.4)rotate(153.5)"/>
<circle r="5.8" transform="translate(259.4 99.4)rotate(175.9)"/>
<circle r="6.8" transform="translate(265.8 41.3)rotate(175.9)"/>
<circle r="5.5" transform="translate(254.9 72.7)rotate(151.3)"/>
<circle r="5.9" transform="translate(263.4 70.3)rotate(178.6)"/>
<circle r="5.9" transform="translate(257.5 44)rotate(149.2)"/>
<circle r="5.5" transform="translate(251.1 102.1)rotate(149.2)"/>
<circle r="5.5" transform="translate(253.7 73.4)rotate(147)"/>
<circle r="5.9" transform="translate(260.9 99.4)rotate(-178.6)"/>
<circle r="5.7" transform="translate(256.3 44.8)rotate(144.9)"/>
<circle r="5.4" transform="translate(249.9 102.8)rotate(144.9)"/>
</g>
<g fill="url(#hg1)">
<circle r="5.9" transform="translate(264.9 70.4)rotate(-175.6)"/>
</g>
<g fill="url(#hg0)">
<circle r="5.4" transform="translate(252.5 74.2)rotate(142.7)"/>
</g>
<g fill="url(#hg1)">
<circle r="5.9" transform="translate(262.5 99.5)rotate(-172.2)"/>
</g>
<g fill="url(#hg0)">
<circle r="5.6" transform="translate(255.1 45.7)rotate(140.5)"/>
<circle r="5.3" transform="translate(248.7 103.7)rotate(140.5)"/>
<circle r="5.3" transform="translate(251.4 75.2)rotate(138.3)"/>
</g>
<g fill="url(#hg1)">
<circle r="5.8" transform="translate(266.4 70.6)rotate(-168.4)"/>
</g>
<g fill="url(#hg0)">
<circle r="5.5" transform="translate(254 46.6)rotate(136)"/>
<circle r="5" transform="translate(247.7 104.7)rotate(129.5)"/>
<circle r="5.2" transform="translate(250.3 76.2)rotate(133.7)"/>
</g>
<g fill="url(#hg1)">
<circle r="5.8" transform="translate(264 99.8)rotate(-164)"/>
<circle r="4.8" transform="translate(246.8 105.9)rotate(125.8)"/>
</g>
<g fill="url(#hg0)">
<circle r="5.3" transform="translate(253 47.7)rotate(131.4)"/>
</g>
<g fill="url(#hg1)">
<circle r="5.8" transform="translate(267.9 71)rotate(-158.6)"/>
</g>
<g fill="url(#hg0)">
<circle r="5.1" transform="translate(249.3 77.3)rotate(129)"/>
</g>
<g fill="url(#hg1)">
<circle r="4.6" transform="translate(246 107)rotate(121.9)"/>
</g>
<g fill="url(#hg0)">
<circle r="5.2" transform="translate(252.1 48.8)rotate(126.6)"/>
</g>
<g fill="url(#hg1)">
<circle r="5" transform="translate(248.5 78.4)rotate(124.2)"/>
</g>
<g fill="url(#hg2)">
<circle r="5.6" transform="translate(265.5 100.4)rotate(-151.7)"/>
</g>
<g fill="url(#hg1)">
<circle r="4.3" transform="translate(245.2 108.3)rotate(117.8)"/>
<circle r="5.1" transform="translate(251.3 50)rotate(121.7)"/>
<circle r="4.9" transform="translate(247.7 79.6)rotate(119.2)"/>
</g>
<g fill="url(#hg2)">
<circle r="5.5" transform="translate(269.3 71.8)rotate(-141.9)"/>
</g>
<g fill="url(#hg1)">
<circle r="4.1" transform="translate(244.6 109.6)rotate(113.3)"/>
<circle r="4.9" transform="translate(250.6 51.2)rotate(116.6)"/>
<circle r="4.8" transform="translate(247.1 80.9)rotate(114.1)"/>
<circle r="3.9" transform="translate(244.1 110.9)rotate(108.3)"/>
<circle r="4.8" transform="translate(250 52.6)rotate(111.5)"/>
</g>
<g fill="url(#hg3)">
<circle r="5.1" transform="translate(266.8 101.5)rotate(-125.9)"/>
</g>
<g fill="url(#hg1)">
<circle r="4.7" transform="translate(246.5 82.3)rotate(108.8)"/>
</g>
<g fill="url(#hg2)">
<circle r="3.7" transform="translate(243.7 112.3)rotate(102.7)"/>
</g>
<g fill="url(#hg1)">
<circle r="4.7" transform="translate(249.5 53.9)rotate(106.2)"/>
</g>
<g fill="url(#hg2)">
<circle r="4.6" transform="translate(246.1 83.7)rotate(103.5)"/>
</g>
<g fill="url(#hg5)">
<circle r="4.6" transform="translate(270.3 73.2)rotate(-100.8)"/>
</g>
<g fill="url(#hg2)">
<circle r="4.7" transform="translate(249.2 55.3)rotate(100.8)"/>
<circle r="3.4" transform="translate(243.5 113.7)rotate(96.5)"/>
<circle r="4.6" transform="translate(245.8 85.1)rotate(98.1)"/>
<circle r="4.6" transform="translate(248.9 56.8)rotate(95.4)"/>
<circle r="3.3" transform="translate(243.4 115.1)rotate(89.5)"/>
<circle r="4.6" transform="translate(245.7 86.5)rotate(92.7)"/>
</g>
<g fill="url(#hg7)">
<circle r="4.7" transform="translate(267.1 102.9)rotate(-73.3)"/>
</g>
<g fill="url(#hg2)">
<circle r="4.6" transform="translate(248.9 58.2)rotate(90.1)"/>
</g>
<g fill="url(#hg3)">
<circle r="3.1" transform="translate(243.5 116.5)rotate(81.7)"/>
</g>
<g fill="url(#hg2)">
<circle r="4.6" transform="translate(245.7 88)rotate(87.4)"/>
</g>
<g fill="url(#hg8)">
<circle r="5.2" transform="translate(269.9 74.5)rotate(-51.3)"/>
</g>
<g fill="url(#hg3)">
<circle r="4.6" transform="translate(248.9 59.7)rotate(84.7)"/>
<circle r="4.6" transform="translate(245.8 89.4)rotate(82)"/>
<circle r="3" transform="translate(243.8 117.9)rotate(73.3)"/>
<circle r="4.7" transform="translate(249.1 61.1)rotate(79.4)"/>
</g>
<g fill="url(#hg8)">
<circle r="5.7" transform="translate(266.3 103.9)rotate(-36.2)"/>
</g>
<g fill="url(#hlv)">
<circle r="3.6" transform="translate(244.6 120)rotate(84.9)"/>
<circle r="3.1" transform="translate(244.8 121.4)rotate(84.9)"/>
<circle r="2.7" transform="translate(244.9 122.9)rotate(84.9)"/>
<circle r="2.3" transform="translate(245 124.3)rotate(84.9)"/>
<circle r="1.8" transform="translate(245.2 125.8)rotate(84.9)"/>
<circle r="1.3" transform="translate(245.3 127.2)rotate(84.9)"/>
<circle r="0.8" transform="translate(245.4 128.7)rotate(84.9)"/>
</g>
<g fill="url(#hg3)">
<circle r="4.7" transform="translate(246.1 90.9)rotate(76.8)"/>
<circle r="4.8" transform="translate(249.4 62.5)rotate(74.3)"/>
</g>
<g fill="url(#hg8)">
<circle r="5.9" transform="translate(268.9 75.2)rotate(-25.5)"/>
</g>
<g fill="url(#hg4)">
<circle r="4.8" transform="translate(246.5 92.3)rotate(71.7)"/>
<circle r="4.9" transform="translate(249.9 63.9)rotate(69.3)"/>
</g>
<g fill="url(#hg8)">
<circle r="6.1" transform="translate(265.1 104.5)rotate(-17.7)"/>
</g>
<g fill="url(#hg4)">
<circle r="4.9" transform="translate(247 93.6)rotate(66.8)"/>
</g>
<g fill="url(#hg8)">
<circle r="6.2" transform="translate(267.7 75.6)rotate(-11.5)"/>
</g>
<g fill="url(#hg4)">
<circle r="5" transform="translate(250.5 65.2)rotate(64.4)"/>
<circle r="5.1" transform="translate(247.6 94.9)rotate(62)"/>
</g>
<g fill="url(#hg8)">
<circle r="6.2" transform="translate(263.8 104.7)rotate(-6.5)"/>
</g>
<g fill="url(#hg4)">
<circle r="5.1" transform="translate(251.1 66.5)rotate(59.7)"/>
</g>
<g fill="url(#hg5)">
<circle r="5.2" transform="translate(248.3 96.2)rotate(57.3)"/>
</g>
<g fill="url(#hg8)">
<circle r="6.3" transform="translate(266.3 75.8)rotate(-2.2)"/>
</g>
<g fill="url(#hg5)">
<circle r="5.3" transform="translate(251.9 67.7)rotate(55.1)"/>
</g>
<g fill="url(#hg8)">
<circle r="6.3" transform="translate(262.4 104.8)rotate(1.5)"/>
</g>
<g fill="url(#hg5)">
<circle r="5.3" transform="translate(249.2 97.4)rotate(52.8)"/>
</g>
<g fill="url(#hg7)">
<circle r="6.3" transform="translate(264.9 75.7)rotate(4.9)"/>
</g>
<g fill="url(#hg5)">
<circle r="5.4" transform="translate(252.8 68.9)rotate(50.6)"/>
<circle r="5.5" transform="translate(250.1 98.5)rotate(48.4)"/>
</g>
<g fill="url(#hg7)">
<circle r="6.3" transform="translate(261.1 104.7)rotate(8)"/>
</g>
<g fill="url(#hg5)">
<circle r="5.5" transform="translate(253.7 70)rotate(46.3)"/>
</g>
<g fill="url(#hg7)">
<circle r="6.3" transform="translate(263.6 75.5)rotate(10.8)"/>
</g>
<g fill="url(#hg5)">
<circle r="5.6" transform="translate(251.1 99.5)rotate(44.1)"/>
</g>
<g fill="url(#hg7)">
<circle r="6.2" transform="translate(259.7 104.4)rotate(13.4)"/>
</g>
<g fill="url(#hg6)">
<circle r="5.7" transform="translate(254.8 71)rotate(42)"/>
</g>
<g fill="url(#hg7)">
<circle r="6.2" transform="translate(262.2 75.2)rotate(16)"/>
</g>
<g fill="url(#hg6)">
<circle r="5.7" transform="translate(252.1 100.5)rotate(39.9)"/>
<circle r="5.8" transform="translate(255.9 71.9)rotate(37.8)"/>
</g>
<g fill="url(#hg7)">
<circle r="6.2" transform="translate(258.3 104)rotate(18.4)"/>
</g>
<g fill="url(#hg6)">
<circle r="5.8" transform="translate(253.3 101.4)rotate(35.7)"/>
</g>
<g fill="url(#hg7)">
<circle r="6.2" transform="translate(260.8 74.7)rotate(20.7)"/>
</g>
<g fill="url(#hg6)">
<circle r="5.9" transform="translate(257 72.8)rotate(33.7)"/>
</g>
<g fill="url(#hg7)">
<circle r="6.1" transform="translate(257 103.5)rotate(23)"/>
</g>
<g fill="url(#hg6)">
<circle r="5.9" transform="translate(254.5 102.2)rotate(31.6)"/>
</g>
<g fill="url(#hg7)">
<circle r="6.1" transform="translate(259.5 74.2)rotate(25.2)"/>
</g>
<g fill="url(#hg6)">
<circle r="6" transform="translate(258.3 73.5)rotate(29.5)"/>
<circle r="6" transform="translate(255.7 102.9)rotate(27.3)"/>
</g>
<ellipse cx="267.2" cy="41.5" rx="3.2" ry="7.1" transform="rotate(7 265.8 41.3)" fill="url(#htip)" stroke="#1c0e00" stroke-width="0.5"/>
<g fill="url(#hg0)">
<circle r="5.5" transform="translate(112.1 107.1)rotate(150.1)"/>
<circle r="5.5" transform="translate(109.4 76)rotate(149.8)"/>
<circle r="6.1" transform="translate(106.6 45)rotate(149.6)"/>
<circle r="6.3" transform="translate(107.9 44.3)rotate(154.1)"/>
<circle r="5.6" transform="translate(110.7 75.4)rotate(154.4)"/>
<circle r="5.6" transform="translate(113.4 106.4)rotate(154.6)"/>
<circle r="5.4" transform="translate(110.9 107.8)rotate(145.7)"/>
<circle r="5.4" transform="translate(108.1 76.8)rotate(145.5)"/>
<circle r="5.9" transform="translate(105.3 45.8)rotate(145.2)"/>
<circle r="6.5" transform="translate(109.2 43.8)rotate(158.9)"/>
<circle r="5.7" transform="translate(112 74.8)rotate(159.2)"/>
<circle r="5.7" transform="translate(114.8 105.8)rotate(159.4)"/>
<circle r="5.3" transform="translate(109.7 108.7)rotate(141.4)"/>
<circle r="5.3" transform="translate(106.9 77.7)rotate(141.2)"/>
<circle r="5.7" transform="translate(104.2 46.7)rotate(141)"/>
<circle r="6.7" transform="translate(110.7 43.3)rotate(164.1)"/>
<circle r="5.8" transform="translate(113.4 74.3)rotate(164.3)"/>
<circle r="5.8" transform="translate(116.2 105.3)rotate(164.6)"/>
<circle r="5.3" transform="translate(108.6 109.7)rotate(137.1)"/>
<circle r="5.2" transform="translate(105.8 78.7)rotate(136.9)"/>
<circle r="5.6" transform="translate(103.1 47.7)rotate(136.7)"/>
<circle r="5.9" transform="translate(114.9 74)rotate(170.1)"/>
<circle r="5.9" transform="translate(117.7 105)rotate(170.4)"/>
<circle r="5.2" transform="translate(107.5 110.7)rotate(132.9)"/>
<circle r="5.1" transform="translate(104.8 79.7)rotate(132.7)"/>
<circle r="5.4" transform="translate(102 48.7)rotate(132.5)"/>
<circle r="5.1" transform="translate(106.6 111.8)rotate(128.6)"/>
<circle r="5" transform="translate(103.8 80.8)rotate(128.4)"/>
<circle r="5.3" transform="translate(101.1 49.8)rotate(128.2)"/>
<circle r="5.9" transform="translate(116.4 73.8)rotate(177)"/>
<circle r="5.9" transform="translate(119.2 104.9)rotate(177.3)"/>
</g>
<g fill="url(#hg1)">
<circle r="5" transform="translate(105.7 112.9)rotate(124.4)"/>
<circle r="4.9" transform="translate(103 82)rotate(124.1)"/>
<circle r="5.2" transform="translate(100.2 51)rotate(123.9)"/>
<circle r="5.9" transform="translate(117.9 73.9)rotate(-174.3)"/>
<circle r="4.6" transform="translate(105 114.3)rotate(114.1)"/>
<circle r="5.9" transform="translate(120.7 104.9)rotate(-173.8)"/>
<circle r="4.9" transform="translate(102.2 83.2)rotate(119.8)"/>
<circle r="5" transform="translate(99.5 52.2)rotate(119.6)"/>
<circle r="4.4" transform="translate(104.5 115.7)rotate(110.6)"/>
<circle r="4.8" transform="translate(101.5 84.5)rotate(115.4)"/>
<circle r="4.9" transform="translate(98.8 53.5)rotate(115.2)"/>
<circle r="4.2" transform="translate(104 117)rotate(106.9)"/>
<circle r="5.8" transform="translate(119.5 74.2)rotate(-161.5)"/>
<circle r="4.7" transform="translate(101 85.8)rotate(110.9)"/>
<circle r="5.8" transform="translate(122.3 105.3)rotate(-160.6)"/>
<circle r="4.8" transform="translate(98.2 54.8)rotate(110.7)"/>
</g>
<g fill="url(#hg2)">
<circle r="4" transform="translate(103.6 118.4)rotate(102.9)"/>
</g>
<g fill="url(#hg1)">
<circle r="4.6" transform="translate(100.5 87.2)rotate(106.3)"/>
<circle r="4.7" transform="translate(97.8 56.2)rotate(106.1)"/>
</g>
<g fill="url(#hg2)">
<circle r="3.8" transform="translate(103.4 119.8)rotate(98.7)"/>
<circle r="4.6" transform="translate(100.1 88.6)rotate(101.7)"/>
<circle r="4.7" transform="translate(97.4 57.6)rotate(101.5)"/>
</g>
<g fill="url(#hg3)">
<circle r="5.4" transform="translate(120.9 75)rotate(-136.7)"/>
<circle r="5.3" transform="translate(123.7 106.1)rotate(-134.8)"/>
</g>
<g fill="url(#hg2)">
<circle r="3.7" transform="translate(103.2 121.2)rotate(94)"/>
<circle r="4.5" transform="translate(99.9 90)rotate(97)"/>
<circle r="4.6" transform="translate(97.2 59)rotate(96.8)"/>
<circle r="3.5" transform="translate(103.2 122.7)rotate(88.8)"/>
<circle r="4.5" transform="translate(99.8 91.5)rotate(92.3)"/>
<circle r="4.6" transform="translate(97.1 60.5)rotate(92.1)"/>
<circle r="4.6" transform="translate(99.8 92.9)rotate(87.6)"/>
</g>
<g fill="url(#hg3)">
<circle r="3.4" transform="translate(103.2 124.1)rotate(83.1)"/>
</g>
<g fill="url(#hg2)">
<circle r="4.6" transform="translate(97.1 61.9)rotate(87.3)"/>
</g>
<g fill="url(#hg6)">
<circle r="4.6" transform="translate(121.6 76.4)rotate(-89.8)"/>
</g>
<g fill="url(#hg3)">
<circle r="4.6" transform="translate(99.9 94.4)rotate(82.8)"/>
<circle r="4.7" transform="translate(97.2 63.4)rotate(82.6)"/>
</g>
<g fill="url(#hg6)">
<circle r="4.6" transform="translate(124.3 107.5)rotate(-87.4)"/>
</g>
<g fill="url(#hg3)">
<circle r="3.3" transform="translate(103.5 125.5)rotate(76.7)"/>
<circle r="4.7" transform="translate(100.1 95.8)rotate(78)"/>
<circle r="4.7" transform="translate(97.4 64.8)rotate(77.8)"/>
</g>
<g fill="url(#hg4)">
<circle r="3.2" transform="translate(103.9 126.8)rotate(69.6)"/>
</g>
<g fill="url(#hg3)">
<circle r="4.8" transform="translate(100.5 97.2)rotate(73.3)"/>
<circle r="4.8" transform="translate(97.8 66.2)rotate(73.1)"/>
</g>
<g fill="url(#hg8)">
<circle r="5.3" transform="translate(121.1 77.6)rotate(-52.4)"/>
</g>
<g fill="url(#hg4)">
<circle r="3.2" transform="translate(104.5 128.1)rotate(61.8)"/>
</g>
<g fill="url(#hg8)">
<circle r="5.3" transform="translate(123.8 108.6)rotate(-51.1)"/>
</g>
<g fill="url(#hlv)">
<circle r="3.6" transform="translate(105.7 130.1)rotate(73.7)"/>
<circle r="3.2" transform="translate(106.1 131.5)rotate(73.7)"/>
<circle r="2.7" transform="translate(106.5 132.9)rotate(73.7)"/>
<circle r="2.3" transform="translate(106.9 134.3)rotate(73.7)"/>
<circle r="1.8" transform="translate(107.3 135.7)rotate(73.7)"/>
<circle r="1.3" transform="translate(107.7 137.1)rotate(73.7)"/>
<circle r="0.7" transform="translate(108.1 138.5)rotate(73.7)"/>
</g>
<g fill="url(#hg4)">
<circle r="4.9" transform="translate(100.9 98.6)rotate(68.6)"/>
<circle r="4.9" transform="translate(98.3 67.6)rotate(68.4)"/>
<circle r="5" transform="translate(101.5 99.9)rotate(64)"/>
<circle r="5" transform="translate(98.8 68.9)rotate(63.8)"/>
</g>
<g fill="url(#hg8)">
<circle r="5.8" transform="translate(120.1 78.4)rotate(-32.3)"/>
<circle r="5.9" transform="translate(122.8 109.5)rotate(-31.5)"/>
</g>
<g fill="url(#hg4)">
<circle r="5.1" transform="translate(102.2 101.2)rotate(59.4)"/>
<circle r="5.2" transform="translate(99.5 70.2)rotate(59.2)"/>
</g>
<g fill="url(#hg5)">
<circle r="5.3" transform="translate(103 102.4)rotate(55)"/>
<circle r="5.3" transform="translate(100.3 71.4)rotate(54.7)"/>
</g>
<g fill="url(#hg8)">
<circle r="6.1" transform="translate(118.9 79)rotate(-20)"/>
<circle r="6.1" transform="translate(121.6 110)rotate(-19.5)"/>
</g>
<g fill="url(#hg5)">
<circle r="5.4" transform="translate(103.8 103.5)rotate(50.6)"/>
<circle r="5.4" transform="translate(101.2 72.5)rotate(50.3)"/>
<circle r="5.5" transform="translate(104.8 104.6)rotate(46.2)"/>
<circle r="5.6" transform="translate(102.2 73.6)rotate(46)"/>
</g>
<g fill="url(#hg8)">
<circle r="6.3" transform="translate(117.6 79.3)rotate(-11.2)"/>
<circle r="6.3" transform="translate(120.2 110.4)rotate(-10.8)"/>
</g>
<g fill="url(#hg6)">
<circle r="5.7" transform="translate(105.8 105.6)rotate(42)"/>
<circle r="5.7" transform="translate(103.2 74.6)rotate(41.7)"/>
</g>
<g fill="url(#hg8)">
<circle r="6.3" transform="translate(116.2 79.5)rotate(-4.2)"/>
<circle r="6.3" transform="translate(118.9 110.6)rotate(-3.9)"/>
</g>
<g fill="url(#hg6)">
<circle r="5.8" transform="translate(106.9 106.6)rotate(37.7)"/>
<circle r="5.8" transform="translate(104.3 75.6)rotate(37.5)"/>
</g>
<g fill="url(#hg8)">
<circle r="6.3" transform="translate(114.8 79.5)rotate(1.7)"/>
<circle r="6.3" transform="translate(117.5 110.6)rotate(2)"/>
</g>
<g fill="url(#hg6)">
<circle r="5.9" transform="translate(108.1 107.4)rotate(33.6)"/>
<circle r="5.9" transform="translate(105.5 76.4)rotate(33.4)"/>
<circle r="6" transform="translate(109.3 108.2)rotate(29.4)"/>
<circle r="6" transform="translate(106.7 77.1)rotate(29.2)"/>
</g>
<g fill="url(#hg7)">
<circle r="6.3" transform="translate(113.4 79.4)rotate(7)"/>
<circle r="6.3" transform="translate(116.1 110.5)rotate(7.2)"/>
<circle r="6.1" transform="translate(110.6 108.8)rotate(25.2)"/>
<circle r="6.1" transform="translate(108 77.8)rotate(25)"/>
<circle r="6.3" transform="translate(112 79.2)rotate(11.8)"/>
<circle r="6.3" transform="translate(114.7 110.2)rotate(12.1)"/>
<circle r="6.2" transform="translate(111.9 109.4)rotate(20.9)"/>
<circle r="6.2" transform="translate(109.3 78.4)rotate(20.7)"/>
<circle r="6.3" transform="translate(110.7 78.8)rotate(16.4)"/>
<circle r="6.2" transform="translate(113.3 109.9)rotate(16.6)"/>
</g>
<ellipse cx="112" cy="43.5" rx="3.2" ry="7.1" transform="rotate(7 110.7 43.3)" fill="url(#htip)" stroke="#1c0e00" stroke-width="0.5"/>
<g fill="url(#hg0)">
<circle r="5.9" transform="translate(170.9 123.2)rotate(158)"/>
<circle r="5.9" transform="translate(171.6 92.3)rotate(159.3)"/>
<circle r="6.5" transform="translate(170.8 61.8)rotate(156.4)"/>
<circle r="6.6" transform="translate(172.2 61.3)rotate(160.6)"/>
<circle r="5.8" transform="translate(170.2 92.8)rotate(155.1)"/>
<circle r="5.8" transform="translate(169.6 123.8)rotate(153.8)"/>
<circle r="6" transform="translate(172.3 122.7)rotate(162.4)"/>
<circle r="6" transform="translate(173 91.8)rotate(163.7)"/>
<circle r="6.3" transform="translate(169.5 62.5)rotate(152.2)"/>
<circle r="5.8" transform="translate(168.9 93.5)rotate(151)"/>
<circle r="6.8" transform="translate(173.6 60.9)rotate(165.1)"/>
<circle r="5.7" transform="translate(168.3 124.5)rotate(149.7)"/>
<circle r="6" transform="translate(173.8 122.4)rotate(166.9)"/>
<circle r="6.1" transform="translate(168.2 63.2)rotate(148.1)"/>
<circle r="6" transform="translate(174.4 91.4)rotate(168.4)"/>
<circle r="5.7" transform="translate(167.6 94.2)rotate(146.9)"/>
<circle r="7" transform="translate(175.1 60.5)rotate(169.9)"/>
<circle r="5.6" transform="translate(167.1 125.3)rotate(145.6)"/>
<circle r="6.1" transform="translate(175.2 122.1)rotate(171.9)"/>
<circle r="6" transform="translate(167 64)rotate(144)"/>
<circle r="5.6" transform="translate(166.4 95.1)rotate(142.8)"/>
<circle r="6.1" transform="translate(175.9 91.2)rotate(173.5)"/>
<circle r="5.6" transform="translate(165.9 126.2)rotate(141.5)"/>
<circle r="5.8" transform="translate(165.9 64.9)rotate(139.9)"/>
<circle r="6.1" transform="translate(176.7 121.9)rotate(177.5)"/>
<circle r="5.5" transform="translate(165.3 96)rotate(138.6)"/>
<circle r="5.5" transform="translate(164.8 127.1)rotate(137.4)"/>
<circle r="6.1" transform="translate(177.4 91.1)rotate(179.4)"/>
<circle r="5.7" transform="translate(164.8 65.9)rotate(135.7)"/>
<circle r="5.4" transform="translate(164.3 97)rotate(134.4)"/>
<circle r="5.4" transform="translate(163.8 128.1)rotate(133.2)"/>
</g>
<g fill="url(#hg1)">
<circle r="6.1" transform="translate(178.2 122)rotate(-175.8)"/>
</g>
<g fill="url(#hg0)">
<circle r="5.6" transform="translate(163.8 66.9)rotate(131.5)"/>
</g>
<g fill="url(#hg1)">
<circle r="6.1" transform="translate(178.9 91.2)rotate(-173.5)"/>
</g>
<g fill="url(#hg0)">
<circle r="5.3" transform="translate(163.3 98.1)rotate(130.2)"/>
</g>
<g fill="url(#hg1)">
<circle r="5" transform="translate(162.8 129.3)rotate(122.5)"/>
</g>
<g fill="url(#hg0)">
<circle r="5.4" transform="translate(162.9 68)rotate(127.1)"/>
</g>
<g fill="url(#hg1)">
<circle r="5.2" transform="translate(162.4 99.2)rotate(125.8)"/>
<circle r="6.1" transform="translate(179.8 122.2)rotate(-167.1)"/>
<circle r="4.8" transform="translate(162.1 130.5)rotate(119)"/>
<circle r="5.3" transform="translate(162 69.2)rotate(122.7)"/>
<circle r="6.1" transform="translate(180.4 91.5)rotate(-163.8)"/>
<circle r="5.1" transform="translate(161.6 100.4)rotate(121.3)"/>
<circle r="4.6" transform="translate(161.4 131.8)rotate(115.3)"/>
<circle r="5.2" transform="translate(161.3 70.5)rotate(118.1)"/>
<circle r="5" transform="translate(160.9 101.7)rotate(116.7)"/>
<circle r="4.4" transform="translate(160.9 133.1)rotate(111.3)"/>
<circle r="5.9" transform="translate(181.3 122.7)rotate(-153.7)"/>
<circle r="5.1" transform="translate(160.6 71.8)rotate(113.4)"/>
<circle r="4.9" transform="translate(160.3 103)rotate(112)"/>
</g>
<g fill="url(#hg2)">
<circle r="5.8" transform="translate(181.9 92.2)rotate(-147.6)"/>
</g>
<g fill="url(#hg1)">
<circle r="4.2" transform="translate(160.4 134.5)rotate(107.1)"/>
<circle r="5" transform="translate(160.1 73.1)rotate(108.6)"/>
<circle r="4.8" transform="translate(159.8 104.4)rotate(107.1)"/>
</g>
<g fill="url(#hg2)">
<circle r="4" transform="translate(160 135.8)rotate(102.4)"/>
<circle r="4.9" transform="translate(159.7 74.5)rotate(103.7)"/>
<circle r="4.8" transform="translate(159.4 105.8)rotate(102.2)"/>
</g>
<g fill="url(#hg3)">
<circle r="5.3" transform="translate(182.6 123.8)rotate(-125)"/>
</g>
<g fill="url(#hg2)">
<circle r="3.8" transform="translate(159.8 137.2)rotate(97.3)"/>
<circle r="4.8" transform="translate(159.4 75.9)rotate(98.8)"/>
<circle r="4.7" transform="translate(159.2 107.2)rotate(97.2)"/>
</g>
<g fill="url(#hg4)">
<circle r="4.9" transform="translate(183 93.4)rotate(-110.2)"/>
</g>
<g fill="url(#hg2)">
<circle r="3.6" transform="translate(159.6 138.7)rotate(91.5)"/>
<circle r="4.8" transform="translate(159.3 77.4)rotate(93.7)"/>
<circle r="4.7" transform="translate(159 108.6)rotate(92.2)"/>
</g>
<g fill="url(#hg3)">
<circle r="3.4" transform="translate(159.7 140.1)rotate(85.1)"/>
</g>
<g fill="url(#hg2)">
<circle r="4.8" transform="translate(159.2 78.8)rotate(88.7)"/>
</g>
<g fill="url(#hg3)">
<circle r="4.7" transform="translate(159 110.1)rotate(87.1)"/>
</g>
<g fill="url(#hg7)">
<circle r="4.9" transform="translate(182.9 125.2)rotate(-74.5)"/>
</g>
<g fill="url(#hg3)">
<circle r="3.3" transform="translate(159.9 141.5)rotate(77.9)"/>
<circle r="4.8" transform="translate(159.3 80.3)rotate(83.7)"/>
<circle r="4.8" transform="translate(159.2 111.5)rotate(82.1)"/>
</g>
<g fill="url(#hg7)">
<circle r="5.2" transform="translate(182.9 94.7)rotate(-61.7)"/>
</g>
<g fill="url(#hg3)">
<circle r="4.9" transform="translate(159.5 81.7)rotate(78.7)"/>
</g>
<g fill="url(#hg4)">
<circle r="3.2" transform="translate(160.3 142.9)rotate(70.1)"/>
</g>
<g fill="url(#hg3)">
<circle r="4.9" transform="translate(159.4 112.9)rotate(77.1)"/>
<circle r="5" transform="translate(159.9 83.1)rotate(73.7)"/>
</g>
<g fill="url(#hlv)">
<circle r="4" transform="translate(161.3 144.5)rotate(79.1)"/>
<circle r="3.6" transform="translate(161.6 145.9)rotate(79.1)"/>
<circle r="3.2" transform="translate(161.9 147.3)rotate(79.1)"/>
<circle r="2.7" transform="translate(162.2 148.8)rotate(79.1)"/>
<circle r="2.3" transform="translate(162.4 150.2)rotate(79.1)"/>
<circle r="1.8" transform="translate(162.7 151.6)rotate(79.1)"/>
<circle r="1.3" transform="translate(163 153)rotate(79.1)"/>
<circle r="0.7" transform="translate(163.3 154.5)rotate(79.1)"/>
</g>
<g fill="url(#hg8)">
<circle r="5.8" transform="translate(182.1 126.2)rotate(-41)"/>
</g>
<g fill="url(#hg4)">
<circle r="5" transform="translate(159.8 114.3)rotate(72.2)"/>
</g>
<g fill="url(#hg8)">
<circle r="6" transform="translate(182 95.6)rotate(-34.6)"/>
</g>
<g fill="url(#hg4)">
<circle r="5.1" transform="translate(160.3 84.5)rotate(68.9)"/>
<circle r="5.1" transform="translate(160.3 115.7)rotate(67.4)"/>
<circle r="5.2" transform="translate(160.9 85.8)rotate(64.2)"/>
</g>
<g fill="url(#hg8)">
<circle r="6.2" transform="translate(181 126.9)rotate(-23.5)"/>
</g>
<g fill="url(#hg4)">
<circle r="5.2" transform="translate(160.9 117)rotate(62.7)"/>
</g>
<g fill="url(#hg8)">
<circle r="6.3" transform="translate(180.9 96.2)rotate(-19.8)"/>
</g>
<g fill="url(#hg4)">
<circle r="5.3" transform="translate(161.6 87.1)rotate(59.5)"/>
<circle r="5.4" transform="translate(161.6 118.3)rotate(58.1)"/>
</g>
<g fill="url(#hg8)">
<circle r="6.4" transform="translate(179.8 127.3)rotate(-12.7)"/>
</g>
<g fill="url(#hg5)">
<circle r="5.5" transform="translate(162.4 88.3)rotate(55)"/>
<circle r="5.5" transform="translate(162.4 119.5)rotate(53.7)"/>
</g>
<g fill="url(#hg8)">
<circle r="6.5" transform="translate(179.5 96.6)rotate(-10)"/>
</g>
<g fill="url(#hg5)">
<circle r="5.6" transform="translate(163.2 89.5)rotate(50.7)"/>
<circle r="5.6" transform="translate(163.3 120.6)rotate(49.3)"/>
</g>
<g fill="url(#hg8)">
<circle r="6.5" transform="translate(178.4 127.5)rotate(-4.8)"/>
<circle r="6.5" transform="translate(178.2 96.7)rotate(-2.7)"/>
</g>
<g fill="url(#hg5)">
<circle r="5.8" transform="translate(164.2 90.6)rotate(46.4)"/>
<circle r="5.8" transform="translate(164.3 121.7)rotate(45.1)"/>
</g>
<g fill="url(#hg8)">
<circle r="6.5" transform="translate(177 127.5)rotate(1.6)"/>
</g>
<g fill="url(#hg6)">
<circle r="5.9" transform="translate(165.2 91.6)rotate(42.2)"/>
</g>
<g fill="url(#hg8)">
<circle r="6.6" transform="translate(176.8 96.7)rotate(3.3)"/>
</g>
<g fill="url(#hg6)">
<circle r="5.9" transform="translate(165.4 122.7)rotate(41)"/>
<circle r="6" transform="translate(166.3 92.5)rotate(38.1)"/>
</g>
<g fill="url(#hg7)">
<circle r="6.5" transform="translate(175.6 127.4)rotate(7)"/>
</g>
<g fill="url(#hg6)">
<circle r="6" transform="translate(166.5 123.6)rotate(36.9)"/>
</g>
<g fill="url(#hg7)">
<circle r="6.5" transform="translate(175.4 96.5)rotate(8.5)"/>
</g>
<g fill="url(#hg6)">
<circle r="6.1" transform="translate(167.5 93.4)rotate(34.1)"/>
</g>
<g fill="url(#hg7)">
<circle r="6.5" transform="translate(174.2 127.2)rotate(11.9)"/>
</g>
<g fill="url(#hg6)">
<circle r="6.1" transform="translate(167.7 124.4)rotate(32.8)"/>
</g>
<g fill="url(#hg7)">
<circle r="6.5" transform="translate(174 96.3)rotate(13.3)"/>
</g>
<g fill="url(#hg6)">
<circle r="6.2" transform="translate(168.7 94.1)rotate(30)"/>
<circle r="6.2" transform="translate(168.9 125.2)rotate(28.8)"/>
</g>
<g fill="url(#hg7)">
<circle r="6.5" transform="translate(172.8 126.8)rotate(16.4)"/>
<circle r="6.5" transform="translate(172.6 95.9)rotate(17.7)"/>
<circle r="6.3" transform="translate(170 94.8)rotate(26)"/>
<circle r="6.3" transform="translate(170.2 125.8)rotate(24.8)"/>
<circle r="6.4" transform="translate(171.5 126.4)rotate(20.6)"/>
<circle r="6.4" transform="translate(171.3 95.4)rotate(21.9)"/>
</g>
<ellipse cx="176.5" cy="60.7" rx="3.3" ry="7.3" transform="rotate(7 175.1 60.5)" fill="url(#htip)" stroke="#1c0e00" stroke-width="0.5"/>
<g fill="url(#hg0)">
<circle r="6.3" transform="translate(230.9 138.6)rotate(165)"/>
<circle r="7" transform="translate(236.8 76.2)rotate(163.3)"/>
<circle r="6.3" transform="translate(234.6 107.3)rotate(166.1)"/>
<circle r="6.3" transform="translate(233.2 107.6)rotate(162.2)"/>
<circle r="7.1" transform="translate(238.2 75.9)rotate(167.2)"/>
<circle r="6.3" transform="translate(229.5 139.1)rotate(161.1)"/>
<circle r="6.8" transform="translate(235.4 76.7)rotate(159.4)"/>
<circle r="6.4" transform="translate(232.4 138.3)rotate(169)"/>
<circle r="6.2" transform="translate(231.8 108.1)rotate(158.3)"/>
<circle r="6.4" transform="translate(236 107)rotate(170.2)"/>
<circle r="6.2" transform="translate(228.2 139.6)rotate(157.2)"/>
<circle r="7.3" transform="translate(239.6 75.6)rotate(171.4)"/>
<circle r="6.7" transform="translate(234 77.3)rotate(155.6)"/>
<circle r="6.4" transform="translate(233.8 138.1)rotate(173.2)"/>
<circle r="6.2" transform="translate(230.4 108.7)rotate(154.5)"/>
<circle r="6.4" transform="translate(237.5 106.8)rotate(174.5)"/>
<circle r="6.2" transform="translate(226.8 140.2)rotate(153.4)"/>
<circle r="7.5" transform="translate(241.1 75.4)rotate(175.8)"/>
<circle r="6.5" transform="translate(232.7 77.9)rotate(151.7)"/>
<circle r="6.1" transform="translate(229.1 109.4)rotate(150.6)"/>
<circle r="6.4" transform="translate(235.3 138)rotate(177.7)"/>
<circle r="6.1" transform="translate(225.6 140.9)rotate(149.5)"/>
<circle r="6.5" transform="translate(239 106.7)rotate(179.1)"/>
<circle r="6.4" transform="translate(231.5 78.6)rotate(147.9)"/>
<circle r="6" transform="translate(227.9 110.1)rotate(146.7)"/>
<circle r="6" transform="translate(224.3 141.7)rotate(145.6)"/>
<circle r="6.5" transform="translate(236.8 138)rotate(-177.2)"/>
<circle r="6.3" transform="translate(230.3 79.4)rotate(143.9)"/>
</g>
<g fill="url(#hg1)">
<circle r="6.5" transform="translate(240.5 106.7)rotate(-175.6)"/>
</g>
<g fill="url(#hg0)">
<circle r="5.9" transform="translate(226.7 111)rotate(142.8)"/>
<circle r="5.9" transform="translate(223.2 142.5)rotate(141.6)"/>
<circle r="6.1" transform="translate(229.1 80.3)rotate(139.8)"/>
</g>
<g fill="url(#hg1)">
<circle r="6.5" transform="translate(238.3 138.1)rotate(-171.2)"/>
</g>
<g fill="url(#hg0)">
<circle r="5.8" transform="translate(225.6 111.9)rotate(138.7)"/>
</g>
<g fill="url(#hg1)">
<circle r="6.4" transform="translate(242 106.9)rotate(-169.3)"/>
</g>
<g fill="url(#hg0)">
<circle r="5.8" transform="translate(222.1 143.5)rotate(136.8)"/>
<circle r="6" transform="translate(228 81.3)rotate(135.7)"/>
<circle r="5.7" transform="translate(224.5 112.9)rotate(134.5)"/>
<circle r="5.4" transform="translate(221.1 144.6)rotate(127.1)"/>
</g>
<g fill="url(#hg1)">
<circle r="6.4" transform="translate(239.8 138.5)rotate(-163.6)"/>
</g>
<g fill="url(#hg0)">
<circle r="5.9" transform="translate(227 82.4)rotate(131.4)"/>
</g>
<g fill="url(#hg1)">
<circle r="6.4" transform="translate(243.5 107.3)rotate(-161)"/>
</g>
<g fill="url(#hg0)">
<circle r="5.6" transform="translate(223.5 114)rotate(130.1)"/>
</g>
<g fill="url(#hg1)">
<circle r="5.1" transform="translate(220.2 145.8)rotate(123.6)"/>
</g>
<g fill="url(#hg0)">
<circle r="5.7" transform="translate(226.1 83.5)rotate(127)"/>
</g>
<g fill="url(#hg1)">
<circle r="5.5" transform="translate(222.7 115.1)rotate(125.7)"/>
<circle r="4.9" transform="translate(219.5 147)rotate(119.8)"/>
</g>
<g fill="url(#hg2)">
<circle r="6.2" transform="translate(241.3 139.1)rotate(-152.5)"/>
</g>
<g fill="url(#hg1)">
<circle r="5.6" transform="translate(225.3 84.7)rotate(122.4)"/>
</g>
<g fill="url(#hg2)">
<circle r="6.1" transform="translate(244.9 108)rotate(-148)"/>
</g>
<g fill="url(#hg1)">
<circle r="5.4" transform="translate(221.9 116.3)rotate(121)"/>
<circle r="4.6" transform="translate(218.8 148.3)rotate(115.7)"/>
<circle r="5.5" transform="translate(224.6 85.9)rotate(117.7)"/>
<circle r="5.3" transform="translate(221.2 117.6)rotate(116.3)"/>
<circle r="4.4" transform="translate(218.2 149.6)rotate(111.3)"/>
<circle r="5.3" transform="translate(223.9 87.2)rotate(112.8)"/>
</g>
<g fill="url(#hg3)">
<circle r="5.7" transform="translate(242.6 140.1)rotate(-130.9)"/>
</g>
<g fill="url(#hg1)">
<circle r="5.2" transform="translate(220.6 118.9)rotate(111.4)"/>
<circle r="4.2" transform="translate(217.8 150.9)rotate(106.4)"/>
<circle r="5.2" transform="translate(223.4 88.6)rotate(107.8)"/>
</g>
<g fill="url(#hg4)">
<circle r="5.4" transform="translate(246.1 109.2)rotate(-119.7)"/>
</g>
<g fill="url(#hg1)">
<circle r="5.1" transform="translate(220.1 120.3)rotate(106.4)"/>
</g>
<g fill="url(#hg2)">
<circle r="4" transform="translate(217.4 152.3)rotate(100.9)"/>
<circle r="5.2" transform="translate(223 90)rotate(102.8)"/>
<circle r="5.1" transform="translate(219.7 121.7)rotate(101.3)"/>
<circle r="3.8" transform="translate(217.2 153.7)rotate(94.9)"/>
<circle r="5.1" transform="translate(222.8 91.4)rotate(97.7)"/>
<circle r="5" transform="translate(219.5 123.1)rotate(96.2)"/>
</g>
<g fill="url(#hg6)">
<circle r="5" transform="translate(243.1 141.5)rotate(-82.9)"/>
</g>
<g fill="url(#hg2)">
<circle r="3.6" transform="translate(217.2 155.1)rotate(88.1)"/>
<circle r="5.1" transform="translate(222.6 92.8)rotate(92.6)"/>
<circle r="5" transform="translate(219.4 124.5)rotate(91.1)"/>
</g>
<g fill="url(#hg7)">
<circle r="5.3" transform="translate(246.3 110.6)rotate(-68.7)"/>
</g>
<g fill="url(#hg2)">
<circle r="5.1" transform="translate(222.6 94.3)rotate(87.5)"/>
</g>
<g fill="url(#hg3)">
<circle r="3.4" transform="translate(217.3 156.6)rotate(80.7)"/>
<circle r="5" transform="translate(219.4 126)rotate(86)"/>
<circle r="5.1" transform="translate(222.8 95.7)rotate(82.4)"/>
</g>
<g fill="url(#hg8)">
<circle r="6" transform="translate(242.5 142.6)rotate(-42.6)"/>
</g>
<g fill="url(#hg3)">
<circle r="5.1" transform="translate(219.6 127.4)rotate(81)"/>
<circle r="3.3" transform="translate(217.6 158)rotate(72.6)"/>
</g>
<g fill="url(#hlv)">
<circle r="4" transform="translate(218.6 160)rotate(84.6)"/>
<circle r="3.6" transform="translate(218.7 161.5)rotate(84.6)"/>
<circle r="3.2" transform="translate(218.8 162.9)rotate(84.6)"/>
<circle r="2.7" transform="translate(219 164.3)rotate(84.6)"/>
<circle r="2.3" transform="translate(219.1 165.8)rotate(84.6)"/>
<circle r="1.8" transform="translate(219.3 167.2)rotate(84.6)"/>
<circle r="1.3" transform="translate(219.4 168.7)rotate(84.6)"/>
<circle r="0.8" transform="translate(219.5 170.1)rotate(84.6)"/>
</g>
<g fill="url(#hg8)">
<circle r="6.3" transform="translate(245.5 111.6)rotate(-35.4)"/>
</g>
<g fill="url(#hg3)">
<circle r="5.2" transform="translate(223 97.2)rotate(77.5)"/>
<circle r="5.2" transform="translate(219.9 128.9)rotate(76.1)"/>
<circle r="5.3" transform="translate(223.4 98.6)rotate(72.6)"/>
</g>
<g fill="url(#hg4)">
<circle r="5.3" transform="translate(220.3 130.2)rotate(71.3)"/>
</g>
<g fill="url(#hg8)">
<circle r="6.6" transform="translate(241.4 143.3)rotate(-22.3)"/>
<circle r="6.7" transform="translate(244.3 112.1)rotate(-18.4)"/>
</g>
<g fill="url(#hg4)">
<circle r="5.4" transform="translate(223.9 99.9)rotate(67.9)"/>
<circle r="5.4" transform="translate(220.8 131.6)rotate(66.6)"/>
<circle r="5.6" transform="translate(224.5 101.3)rotate(63.4)"/>
</g>
<g fill="url(#hg8)">
<circle r="6.8" transform="translate(240.1 143.6)rotate(-10.5)"/>
</g>
<g fill="url(#hg4)">
<circle r="5.6" transform="translate(221.4 132.9)rotate(62.1)"/>
</g>
<g fill="url(#hg8)">
<circle r="6.9" transform="translate(243 112.4)rotate(-7.9)"/>
</g>
<g fill="url(#hg4)">
<circle r="5.7" transform="translate(225.2 102.5)rotate(59)"/>
</g>
<g fill="url(#hg5)">
<circle r="5.7" transform="translate(222.2 134.2)rotate(57.7)"/>
</g>
<g fill="url(#hg8)">
<circle r="6.9" transform="translate(238.8 143.8)rotate(-2.3)"/>
</g>
<g fill="url(#hg5)">
<circle r="5.8" transform="translate(225.9 103.8)rotate(54.7)"/>
</g>
<g fill="url(#hg8)">
<circle r="6.9" transform="translate(241.6 112.5)rotate(-0.4)"/>
</g>
<g fill="url(#hg5)">
<circle r="5.8" transform="translate(223 135.4)rotate(53.5)"/>
<circle r="6" transform="translate(226.8 104.9)rotate(50.6)"/>
</g>
<g fill="url(#hg8)">
<circle r="6.9" transform="translate(237.4 143.8)rotate(4)"/>
</g>
<g fill="url(#hg5)">
<circle r="6" transform="translate(223.9 136.5)rotate(49.4)"/>
</g>
<g fill="url(#hg7)">
<circle r="6.9" transform="translate(240.2 112.4)rotate(5.7)"/>
</g>
<g fill="url(#hg5)">
<circle r="6.1" transform="translate(227.8 106)rotate(46.6)"/>
<circle r="6.1" transform="translate(224.8 137.6)rotate(45.5)"/>
</g>
<g fill="url(#hg7)">
<circle r="6.9" transform="translate(236 143.6)rotate(9.4)"/>
<circle r="6.9" transform="translate(238.8 112.2)rotate(10.8)"/>
</g>
<g fill="url(#hg6)">
<circle r="6.2" transform="translate(228.8 107)rotate(42.7)"/>
<circle r="6.2" transform="translate(225.9 138.6)rotate(41.6)"/>
</g>
<g fill="url(#hg7)">
<circle r="6.9" transform="translate(234.6 143.3)rotate(14.1)"/>
<circle r="6.9" transform="translate(237.5 111.9)rotate(15.4)"/>
</g>
<g fill="url(#hg6)">
<circle r="6.3" transform="translate(229.9 108)rotate(38.8)"/>
<circle r="6.4" transform="translate(227 139.5)rotate(37.8)"/>
</g>
<g fill="url(#hg7)">
<circle r="6.8" transform="translate(233.3 142.9)rotate(18.4)"/>
</g>
<g fill="url(#hg6)">
<circle r="6.4" transform="translate(231 108.8)rotate(35.1)"/>
</g>
<g fill="url(#hg7)">
<circle r="6.8" transform="translate(236.1 111.5)rotate(19.6)"/>
</g>
<g fill="url(#hg6)">
<circle r="6.5" transform="translate(228.2 140.3)rotate(34)"/>
</g>
<g fill="url(#hg7)">
<circle r="6.7" transform="translate(231.9 142.4)rotate(22.5)"/>
</g>
<g fill="url(#hg6)">
<circle r="6.6" transform="translate(232.2 109.6)rotate(31.3)"/>
</g>
<g fill="url(#hg7)">
<circle r="6.7" transform="translate(234.8 110.9)rotate(23.6)"/>
</g>
<g fill="url(#hg6)">
<circle r="6.6" transform="translate(229.4 141.1)rotate(30.2)"/>
</g>
<g fill="url(#hg7)">
<circle r="6.7" transform="translate(230.6 141.8)rotate(26.4)"/>
</g>
<g fill="url(#hg6)">
<circle r="6.6" transform="translate(233.5 110.3)rotate(27.5)"/>
</g>
<ellipse cx="242.6" cy="75.6" rx="3.5" ry="7.8" transform="rotate(7 241.1 75.4)" fill="url(#htip)" stroke="#1c0e00" stroke-width="0.5"/>
<g fill="url(#hg0)">
<circle r="6.6" transform="translate(69.6 83.1)rotate(146.6)"/>
<circle r="6" transform="translate(75.1 115.8)rotate(146.3)"/>
<circle r="6" transform="translate(80.6 148.5)rotate(146)"/>
<circle r="6.1" transform="translate(81.9 147.8)rotate(150.1)"/>
<circle r="6.1" transform="translate(76.4 115)rotate(150.4)"/>
<circle r="6.8" transform="translate(70.9 82.3)rotate(150.7)"/>
<circle r="6.4" transform="translate(68.4 83.9)rotate(142.7)"/>
<circle r="5.9" transform="translate(73.9 116.7)rotate(142.4)"/>
<circle r="5.9" transform="translate(79.4 149.4)rotate(142.1)"/>
<circle r="6.2" transform="translate(83.2 147.1)rotate(154.4)"/>
<circle r="6.2" transform="translate(77.7 114.4)rotate(154.7)"/>
<circle r="7" transform="translate(72.2 81.6)rotate(155)"/>
<circle r="6.2" transform="translate(67.3 84.8)rotate(138.8)"/>
<circle r="5.8" transform="translate(72.8 117.6)rotate(138.5)"/>
<circle r="5.8" transform="translate(78.3 150.3)rotate(138.2)"/>
<circle r="6.3" transform="translate(84.5 146.5)rotate(158.9)"/>
<circle r="6.3" transform="translate(79 113.8)rotate(159.3)"/>
<circle r="7.3" transform="translate(73.5 81.1)rotate(159.6)"/>
<circle r="6.1" transform="translate(66.2 85.8)rotate(134.9)"/>
<circle r="5.7" transform="translate(71.7 118.6)rotate(134.6)"/>
<circle r="5.7" transform="translate(77.2 151.3)rotate(134.3)"/>
<circle r="6.3" transform="translate(85.9 146)rotate(163.9)"/>
<circle r="5.9" transform="translate(65.2 86.9)rotate(131)"/>
<circle r="6.4" transform="translate(80.5 113.3)rotate(164.3)"/>
<circle r="5.6" transform="translate(70.7 119.7)rotate(130.7)"/>
<circle r="5.6" transform="translate(76.3 152.4)rotate(130.4)"/>
<circle r="5.8" transform="translate(64.3 88)rotate(127.1)"/>
<circle r="5.5" transform="translate(69.8 120.8)rotate(126.8)"/>
<circle r="5.5" transform="translate(75.3 153.5)rotate(126.5)"/>
<circle r="6.4" transform="translate(87.4 145.7)rotate(169.6)"/>
<circle r="6.4" transform="translate(81.9 113)rotate(170)"/>
</g>
<g fill="url(#hg1)">
<circle r="5.6" transform="translate(63.4 89.2)rotate(123.2)"/>
<circle r="5.4" transform="translate(69 122)rotate(122.9)"/>
<circle r="5.4" transform="translate(74.5 154.7)rotate(122.6)"/>
</g>
<g fill="url(#hg0)">
<circle r="6.5" transform="translate(88.9 145.5)rotate(176.4)"/>
<circle r="6.5" transform="translate(83.4 112.8)rotate(177)"/>
</g>
<g fill="url(#hg1)">
<circle r="5.5" transform="translate(62.7 90.5)rotate(119.2)"/>
<circle r="5.3" transform="translate(68.2 123.2)rotate(118.9)"/>
<circle r="5.1" transform="translate(73.8 156.1)rotate(112.2)"/>
<circle r="5.4" transform="translate(62 91.7)rotate(115.1)"/>
<circle r="5.2" transform="translate(67.6 124.5)rotate(114.8)"/>
<circle r="4.9" transform="translate(73.3 157.4)rotate(108.9)"/>
<circle r="6.5" transform="translate(90.5 145.5)rotate(-174.5)"/>
<circle r="6.5" transform="translate(85 112.9)rotate(-173.6)"/>
<circle r="5.3" transform="translate(61.4 93.1)rotate(110.9)"/>
<circle r="4.7" transform="translate(72.9 158.8)rotate(105.6)"/>
<circle r="5.1" transform="translate(67 125.8)rotate(110.6)"/>
</g>
<g fill="url(#hg2)">
<circle r="4.5" transform="translate(72.5 160.2)rotate(102)"/>
</g>
<g fill="url(#hg1)">
<circle r="5.2" transform="translate(61 94.4)rotate(106.7)"/>
<circle r="5" transform="translate(66.5 127.2)rotate(106.3)"/>
<circle r="6.4" transform="translate(92 145.9)rotate(-160.2)"/>
</g>
<g fill="url(#hg2)">
<circle r="4.3" transform="translate(72.3 161.6)rotate(98.2)"/>
</g>
<g fill="url(#hg1)">
<circle r="6.4" transform="translate(86.6 113.2)rotate(-158.8)"/>
</g>
<g fill="url(#hg2)">
<circle r="5.1" transform="translate(60.6 95.8)rotate(102.3)"/>
<circle r="5" transform="translate(66.2 128.6)rotate(102)"/>
<circle r="4.2" transform="translate(72.1 163)rotate(94)"/>
<circle r="5.1" transform="translate(60.3 97.3)rotate(97.9)"/>
<circle r="5" transform="translate(65.9 130.1)rotate(97.5)"/>
<circle r="5.1" transform="translate(60.2 98.7)rotate(93.4)"/>
<circle r="4" transform="translate(72.1 164.4)rotate(89.5)"/>
<circle r="5" transform="translate(65.8 131.5)rotate(93)"/>
</g>
<g fill="url(#hg3)">
<circle r="5.7" transform="translate(93.4 146.8)rotate(-130.8)"/>
</g>
<g fill="url(#hg2)">
<circle r="5.1" transform="translate(60.2 100.2)rotate(88.8)"/>
</g>
<g fill="url(#hg3)">
<circle r="5.6" transform="translate(87.9 114.2)rotate(-127.4)"/>
</g>
<g fill="url(#hg2)">
<circle r="5" transform="translate(65.8 132.9)rotate(88.5)"/>
</g>
<g fill="url(#hg3)">
<circle r="3.9" transform="translate(72.1 165.9)rotate(84.5)"/>
<circle r="5.1" transform="translate(60.2 101.6)rotate(84.2)"/>
<circle r="5" transform="translate(65.9 134.4)rotate(83.9)"/>
<circle r="3.8" transform="translate(72.3 167.3)rotate(79)"/>
<circle r="5.1" transform="translate(60.4 103)rotate(79.6)"/>
<circle r="5.1" transform="translate(66.1 135.8)rotate(79.3)"/>
<circle r="3.7" transform="translate(72.7 168.6)rotate(72.9)"/>
<circle r="5.2" transform="translate(60.8 104.5)rotate(75)"/>
</g>
<g fill="url(#hg6)">
<circle r="5" transform="translate(93.9 148.1)rotate(-84)"/>
</g>
<g fill="url(#hg3)">
<circle r="5.2" transform="translate(66.4 137.2)rotate(74.7)"/>
</g>
<g fill="url(#hg6)">
<circle r="5.1" transform="translate(88.3 115.5)rotate(-80.8)"/>
</g>
<g fill="url(#hg4)">
<circle r="3.6" transform="translate(73.2 170)rotate(66.1)"/>
<circle r="5.3" transform="translate(61.2 105.8)rotate(70.4)"/>
<circle r="5.3" transform="translate(66.8 138.6)rotate(70.1)"/>
<circle r="3.6" transform="translate(73.8 171.2)rotate(58.9)"/>
<circle r="5.4" transform="translate(61.7 107.2)rotate(65.9)"/>
<circle r="5.4" transform="translate(67.4 140)rotate(65.6)"/>
</g>
<g fill="url(#hlv)">
<circle r="4.3" transform="translate(75.2 172.8)rotate(69)"/>
<circle r="3.9" transform="translate(75.7 174.2)rotate(69)"/>
<circle r="3.4" transform="translate(76.3 175.5)rotate(69)"/>
<circle r="3" transform="translate(76.8 176.9)rotate(69)"/>
<circle r="2.5" transform="translate(77.3 178.2)rotate(69)"/>
<circle r="2" transform="translate(77.8 179.6)rotate(69)"/>
<circle r="1.5" transform="translate(78.3 180.9)rotate(69)"/>
<circle r="0.9" transform="translate(78.9 182.3)rotate(69)"/>
</g>
<g fill="url(#hg8)">
<circle r="5.8" transform="translate(93.3 149.3)rotate(-52.4)"/>
<circle r="5.8" transform="translate(87.7 116.7)rotate(-50.7)"/>
</g>
<g fill="url(#hg4)">
<circle r="5.6" transform="translate(62.4 108.5)rotate(61.4)"/>
<circle r="5.5" transform="translate(68 141.3)rotate(61.1)"/>
</g>
<g fill="url(#hg5)">
<circle r="5.7" transform="translate(63.1 109.7)rotate(57)"/>
<circle r="5.7" transform="translate(68.8 142.5)rotate(56.7)"/>
</g>
<g fill="url(#hg8)">
<circle r="6.3" transform="translate(92.4 150.2)rotate(-35.2)"/>
<circle r="6.3" transform="translate(86.7 117.5)rotate(-34.2)"/>
</g>
<g fill="url(#hg5)">
<circle r="5.8" transform="translate(63.9 110.9)rotate(52.7)"/>
<circle r="5.8" transform="translate(69.6 143.7)rotate(52.4)"/>
<circle r="6" transform="translate(64.8 112.1)rotate(48.5)"/>
<circle r="6" transform="translate(70.5 144.8)rotate(48.1)"/>
</g>
<g fill="url(#hg8)">
<circle r="6.6" transform="translate(91.2 150.8)rotate(-24.3)"/>
<circle r="6.6" transform="translate(85.5 118.2)rotate(-23.6)"/>
</g>
<g fill="url(#hg5)">
<circle r="6.1" transform="translate(65.8 113.1)rotate(44.3)"/>
<circle r="6.1" transform="translate(71.5 145.9)rotate(44)"/>
</g>
<g fill="url(#hg8)">
<circle r="6.8" transform="translate(89.9 151.3)rotate(-16.4)"/>
</g>
<g fill="url(#hg6)">
<circle r="6.3" transform="translate(66.9 114.1)rotate(40.3)"/>
<circle r="6.2" transform="translate(72.6 146.8)rotate(40)"/>
</g>
<g fill="url(#hg8)">
<circle r="6.8" transform="translate(84.2 118.6)rotate(-15.8)"/>
</g>
<g fill="url(#hg6)">
<circle r="6.4" transform="translate(68 115)rotate(36.3)"/>
<circle r="6.4" transform="translate(73.7 147.7)rotate(36)"/>
</g>
<g fill="url(#hg8)">
<circle r="6.9" transform="translate(88.6 151.6)rotate(-10)"/>
<circle r="6.9" transform="translate(82.9 118.9)rotate(-9.6)"/>
</g>
<g fill="url(#hg6)">
<circle r="6.5" transform="translate(69.2 115.8)rotate(32.4)"/>
<circle r="6.5" transform="translate(74.9 148.5)rotate(32.1)"/>
</g>
<g fill="url(#hg8)">
<circle r="6.9" transform="translate(87.2 151.8)rotate(-4.6)"/>
<circle r="6.9" transform="translate(81.5 119.1)rotate(-4.2)"/>
</g>
<g fill="url(#hg6)">
<circle r="6.6" transform="translate(70.5 116.5)rotate(28.5)"/>
<circle r="6.6" transform="translate(76.2 149.3)rotate(28.2)"/>
</g>
<g fill="url(#hg8)">
<circle r="7" transform="translate(85.8 151.8)rotate(0.3)"/>
</g>
<g fill="url(#hg7)">
<circle r="6.7" transform="translate(71.8 117.2)rotate(24.7)"/>
</g>
<g fill="url(#hg8)">
<circle r="7" transform="translate(80.1 119.1)rotate(0.6)"/>
</g>
<g fill="url(#hg7)">
<circle r="6.7" transform="translate(77.5 149.9)rotate(24.4)"/>
<circle r="6.8" transform="translate(73.1 117.8)rotate(20.9)"/>
<circle r="7" transform="translate(84.3 151.7)rotate(4.7)"/>
<circle r="6.8" transform="translate(78.8 150.5)rotate(20.6)"/>
<circle r="7" transform="translate(78.6 119.1)rotate(5)"/>
<circle r="6.8" transform="translate(74.4 118.2)rotate(17.1)"/>
<circle r="6.8" transform="translate(80.1 150.9)rotate(16.8)"/>
<circle r="6.9" transform="translate(82.9 151.6)rotate(8.9)"/>
<circle r="6.9" transform="translate(77.2 118.9)rotate(9.2)"/>
<circle r="6.9" transform="translate(75.8 118.6)rotate(13.2)"/>
<circle r="6.9" transform="translate(81.5 151.3)rotate(12.9)"/>
</g>
<ellipse cx="75" cy="81.3" rx="3.5" ry="7.8" transform="rotate(7 73.5 81.1)" fill="url(#htip)" stroke="#1c0e00" stroke-width="0.5"/>
<g fill="url(#hg0)">
<circle r="6.3" transform="translate(139 136.1)rotate(154.5)"/>
<circle r="6.4" transform="translate(140.8 169.6)rotate(154.9)"/>
<circle r="7" transform="translate(137.1 102.5)rotate(154.1)"/>
<circle r="7.2" transform="translate(138.4 102)rotate(158)"/>
<circle r="6.3" transform="translate(139.5 170.2)rotate(151.1)"/>
<circle r="6.4" transform="translate(140.3 135.5)rotate(158.5)"/>
<circle r="6.3" transform="translate(137.7 136.7)rotate(150.7)"/>
<circle r="6.4" transform="translate(142.2 169)rotate(158.9)"/>
<circle r="6.8" transform="translate(135.8 103.2)rotate(150.2)"/>
<circle r="6.2" transform="translate(138.3 171)rotate(147.3)"/>
<circle r="7.4" transform="translate(139.8 101.5)rotate(162.1)"/>
<circle r="6.2" transform="translate(136.4 137.5)rotate(146.9)"/>
<circle r="6.5" transform="translate(141.7 135)rotate(162.6)"/>
<circle r="6.7" transform="translate(134.5 104)rotate(146.5)"/>
<circle r="6.5" transform="translate(143.6 168.5)rotate(163.1)"/>
<circle r="6.1" transform="translate(137.1 171.8)rotate(143.5)"/>
<circle r="6.1" transform="translate(135.2 138.3)rotate(143.1)"/>
<circle r="7.6" transform="translate(141.3 101.1)rotate(166.6)"/>
<circle r="6.5" transform="translate(133.3 104.8)rotate(142.7)"/>
<circle r="6.6" transform="translate(143.1 134.6)rotate(167)"/>
<circle r="6.6" transform="translate(145 168.1)rotate(167.5)"/>
<circle r="6" transform="translate(135.9 172.7)rotate(139.8)"/>
<circle r="6" transform="translate(134.1 139.2)rotate(139.4)"/>
<circle r="6.4" transform="translate(132.2 105.8)rotate(139)"/>
<circle r="6.6" transform="translate(144.6 134.3)rotate(171.9)"/>
<circle r="6.6" transform="translate(146.5 167.9)rotate(172.5)"/>
<circle r="5.9" transform="translate(134.8 173.7)rotate(136)"/>
<circle r="5.9" transform="translate(133 140.2)rotate(135.6)"/>
<circle r="6.2" transform="translate(131.1 106.7)rotate(135.2)"/>
<circle r="5.8" transform="translate(133.8 174.7)rotate(132.2)"/>
<circle r="6.7" transform="translate(146.1 134.2)rotate(177.5)"/>
<circle r="5.8" transform="translate(132 141.3)rotate(131.7)"/>
<circle r="6.7" transform="translate(148 167.8)rotate(178.2)"/>
<circle r="6.1" transform="translate(130.1 107.8)rotate(131.3)"/>
<circle r="5.7" transform="translate(132.9 175.8)rotate(128.3)"/>
<circle r="5.7" transform="translate(131.1 142.4)rotate(127.8)"/>
<circle r="5.9" transform="translate(129.2 108.9)rotate(127.4)"/>
</g>
<g fill="url(#hg1)">
<circle r="6.7" transform="translate(147.6 134.2)rotate(-175.6)"/>
<circle r="6.7" transform="translate(149.5 167.8)rotate(-174.8)"/>
<circle r="5.3" transform="translate(132.1 177.1)rotate(118.1)"/>
<circle r="5.6" transform="translate(130.2 143.5)rotate(123.8)"/>
<circle r="5.8" transform="translate(128.4 110.1)rotate(123.4)"/>
<circle r="5.1" transform="translate(131.4 178.4)rotate(114.8)"/>
<circle r="5.5" transform="translate(129.4 144.8)rotate(119.8)"/>
<circle r="5.7" transform="translate(127.6 111.3)rotate(119.3)"/>
<circle r="6.6" transform="translate(149.2 134.5)rotate(-166.5)"/>
<circle r="6.6" transform="translate(151.1 168.1)rotate(-165.2)"/>
<circle r="4.9" transform="translate(130.9 179.7)rotate(111.4)"/>
<circle r="5.4" transform="translate(128.8 146.1)rotate(115.6)"/>
<circle r="5.6" transform="translate(127 112.6)rotate(115.1)"/>
<circle r="4.7" transform="translate(130.4 181.1)rotate(107.8)"/>
<circle r="5.3" transform="translate(128.2 147.4)rotate(111.3)"/>
<circle r="5.4" transform="translate(126.4 113.9)rotate(110.8)"/>
</g>
<g fill="url(#hg2)">
<circle r="6.4" transform="translate(150.7 135)rotate(-151.8)"/>
</g>
<g fill="url(#hg1)">
<circle r="4.5" transform="translate(130 182.5)rotate(103.9)"/>
</g>
<g fill="url(#hg2)">
<circle r="6.4" transform="translate(152.6 168.7)rotate(-149.5)"/>
</g>
<g fill="url(#hg1)">
<circle r="5.2" transform="translate(127.7 148.7)rotate(106.9)"/>
<circle r="5.4" transform="translate(125.9 115.3)rotate(106.5)"/>
</g>
<g fill="url(#hg2)">
<circle r="4.3" transform="translate(129.7 183.9)rotate(99.6)"/>
<circle r="5.2" transform="translate(127.3 150.1)rotate(102.5)"/>
<circle r="5.3" transform="translate(125.6 116.7)rotate(102)"/>
<circle r="4.1" transform="translate(129.5 185.3)rotate(95)"/>
<circle r="5.1" transform="translate(127.1 151.6)rotate(98)"/>
<circle r="5.2" transform="translate(125.3 118.1)rotate(97.5)"/>
</g>
<g fill="url(#hg4)">
<circle r="5.6" transform="translate(151.9 136.1)rotate(-120.6)"/>
</g>
<g fill="url(#hg2)">
<circle r="4" transform="translate(129.4 186.7)rotate(89.8)"/>
</g>
<g fill="url(#hg4)">
<circle r="5.5" transform="translate(153.7 169.9)rotate(-115.7)"/>
</g>
<g fill="url(#hg2)">
<circle r="5.1" transform="translate(126.9 153)rotate(93.4)"/>
<circle r="5.2" transform="translate(125.2 119.6)rotate(92.9)"/>
<circle r="5.1" transform="translate(126.9 154.5)rotate(88.8)"/>
</g>
<g fill="url(#hg3)">
<circle r="3.8" transform="translate(129.5 188.1)rotate(84.1)"/>
</g>
<g fill="url(#hg2)">
<circle r="5.2" transform="translate(125.1 121)rotate(88.3)"/>
</g>
<g fill="url(#hg3)">
<circle r="5.2" transform="translate(127 155.9)rotate(84.2)"/>
<circle r="5.3" transform="translate(125.2 122.5)rotate(83.7)"/>
<circle r="3.7" transform="translate(129.7 189.5)rotate(77.8)"/>
</g>
<g fill="url(#hg7)">
<circle r="5.3" transform="translate(152.1 137.5)rotate(-73.9)"/>
</g>
<g fill="url(#hg3)">
<circle r="5.2" transform="translate(127.2 157.3)rotate(79.6)"/>
</g>
<g fill="url(#hg7)">
<circle r="5.4" transform="translate(153.8 171.2)rotate(-69.7)"/>
</g>
<g fill="url(#hg3)">
<circle r="5.3" transform="translate(125.5 123.9)rotate(79.1)"/>
</g>
<g fill="url(#hg4)">
<circle r="3.6" transform="translate(130.1 190.9)rotate(71)"/>
</g>
<g fill="url(#hg3)">
<circle r="5.3" transform="translate(127.5 158.8)rotate(75)"/>
<circle r="5.4" transform="translate(125.8 125.3)rotate(74.5)"/>
</g>
<g fill="url(#hg4)">
<circle r="3.5" transform="translate(130.7 192.2)rotate(63.6)"/>
<circle r="5.4" transform="translate(127.9 160.1)rotate(70.5)"/>
<circle r="5.5" transform="translate(126.2 126.7)rotate(70)"/>
</g>
<g fill="url(#hlv)">
<circle r="4.2" transform="translate(131.9 194.2)rotate(75.7)"/>
<circle r="3.7" transform="translate(132.2 195.6)rotate(75.7)"/>
<circle r="3.3" transform="translate(132.6 197)rotate(75.7)"/>
<circle r="2.8" transform="translate(133 198.4)rotate(75.7)"/>
<circle r="2.4" transform="translate(133.3 199.8)rotate(75.7)"/>
<circle r="1.9" transform="translate(133.7 201.2)rotate(75.7)"/>
<circle r="1.4" transform="translate(134 202.6)rotate(75.7)"/>
<circle r="0.9" transform="translate(134.4 204)rotate(75.7)"/>
</g>
<g fill="url(#hg8)">
<circle r="6.2" transform="translate(151.4 138.6)rotate(-44)"/>
<circle r="6.3" transform="translate(153 172.3)rotate(-41.8)"/>
</g>
<g fill="url(#hg4)">
<circle r="5.6" transform="translate(128.4 161.5)rotate(66)"/>
<circle r="5.6" transform="translate(126.8 128.1)rotate(65.6)"/>
<circle r="5.7" transform="translate(129.1 162.8)rotate(61.7)"/>
<circle r="5.8" transform="translate(127.4 129.4)rotate(61.2)"/>
</g>
<g fill="url(#hg8)">
<circle r="6.7" transform="translate(150.3 139.3)rotate(-27.7)"/>
<circle r="6.7" transform="translate(151.9 173)rotate(-26.4)"/>
</g>
<g fill="url(#hg5)">
<circle r="5.8" transform="translate(129.8 164.1)rotate(57.4)"/>
<circle r="5.9" transform="translate(128.1 130.6)rotate(57)"/>
<circle r="6" transform="translate(130.6 165.2)rotate(53.3)"/>
</g>
<g fill="url(#hg8)">
<circle r="6.9" transform="translate(149.1 139.8)rotate(-17.3)"/>
</g>
<g fill="url(#hg5)">
<circle r="6" transform="translate(129 131.8)rotate(52.8)"/>
</g>
<g fill="url(#hg8)">
<circle r="7" transform="translate(150.7 173.4)rotate(-16.4)"/>
</g>
<g fill="url(#hg5)">
<circle r="6.1" transform="translate(131.5 166.4)rotate(49.2)"/>
<circle r="6.2" transform="translate(129.9 132.9)rotate(48.8)"/>
</g>
<g fill="url(#hg8)">
<circle r="7.1" transform="translate(147.7 140.1)rotate(-9.7)"/>
<circle r="7.1" transform="translate(149.3 173.7)rotate(-8.9)"/>
</g>
<g fill="url(#hg5)">
<circle r="6.3" transform="translate(132.5 167.4)rotate(45.3)"/>
<circle r="6.3" transform="translate(130.9 134)rotate(44.9)"/>
</g>
<g fill="url(#hg6)">
<circle r="6.4" transform="translate(133.6 168.4)rotate(41.4)"/>
</g>
<g fill="url(#hg8)">
<circle r="7.1" transform="translate(146.3 140.3)rotate(-3.5)"/>
</g>
<g fill="url(#hg6)">
<circle r="6.4" transform="translate(131.9 135)rotate(41)"/>
</g>
<g fill="url(#hg8)">
<circle r="7.1" transform="translate(147.9 173.9)rotate(-2.9)"/>
</g>
<g fill="url(#hg6)">
<circle r="6.5" transform="translate(134.7 169.4)rotate(37.6)"/>
<circle r="6.6" transform="translate(133.1 135.9)rotate(37.2)"/>
</g>
<g fill="url(#hg8)">
<circle r="7.2" transform="translate(144.9 140.3)rotate(1.7)"/>
<circle r="7.1" transform="translate(146.5 173.9)rotate(2.2)"/>
</g>
<g fill="url(#hg6)">
<circle r="6.6" transform="translate(135.8 170.2)rotate(33.9)"/>
<circle r="6.7" transform="translate(134.2 136.7)rotate(33.5)"/>
</g>
<g fill="url(#hg7)">
<circle r="7.2" transform="translate(143.5 140.2)rotate(6.4)"/>
<circle r="7.1" transform="translate(145.1 173.8)rotate(6.8)"/>
</g>
<g fill="url(#hg6)">
<circle r="6.8" transform="translate(137.1 171)rotate(30.1)"/>
<circle r="6.8" transform="translate(135.5 137.5)rotate(29.7)"/>
</g>
<g fill="url(#hg7)">
<circle r="7.1" transform="translate(142.1 140)rotate(10.7)"/>
<circle r="7.1" transform="translate(143.7 173.5)rotate(11.1)"/>
<circle r="6.8" transform="translate(138.3 171.7)rotate(26.4)"/>
<circle r="6.9" transform="translate(136.7 138.2)rotate(26.1)"/>
<circle r="7.1" transform="translate(140.7 139.7)rotate(14.7)"/>
<circle r="7.1" transform="translate(142.3 173.2)rotate(15.1)"/>
<circle r="6.9" transform="translate(139.6 172.3)rotate(22.7)"/>
<circle r="7" transform="translate(138 138.8)rotate(22.3)"/>
<circle r="7" transform="translate(139.4 139.3)rotate(18.6)"/>
<circle r="7" transform="translate(141 172.8)rotate(19)"/>
</g>
<ellipse cx="142.8" cy="101.3" rx="3.6" ry="8" transform="rotate(7 141.3 101.1)" fill="url(#htip)" stroke="#1c0e00" stroke-width="0.5"/>
<g fill="url(#hg0)">
<circle r="7.6" transform="translate(209.6 118.8)rotate(162.4)"/>
<circle r="6.8" transform="translate(206.5 153.7)rotate(161.2)"/>
<circle r="6.9" transform="translate(204.8 188.1)rotate(163.7)"/>
<circle r="6.8" transform="translate(203.4 188.6)rotate(160.1)"/>
<circle r="6.9" transform="translate(207.9 153.3)rotate(164.9)"/>
<circle r="7.5" transform="translate(208.2 119.3)rotate(158.8)"/>
<circle r="7.8" transform="translate(211 118.4)rotate(166.1)"/>
<circle r="6.8" transform="translate(205.1 154.2)rotate(157.7)"/>
<circle r="6.9" transform="translate(206.3 187.8)rotate(167.5)"/>
<circle r="6.8" transform="translate(202.1 189.1)rotate(156.5)"/>
<circle r="7" transform="translate(209.4 152.9)rotate(168.7)"/>
<circle r="7.3" transform="translate(206.9 119.9)rotate(155.3)"/>
<circle r="7.9" transform="translate(212.5 118.1)rotate(170)"/>
<circle r="6.7" transform="translate(203.8 154.8)rotate(154.1)"/>
<circle r="7" transform="translate(207.7 187.5)rotate(171.4)"/>
<circle r="6.7" transform="translate(200.8 189.7)rotate(153)"/>
<circle r="7" transform="translate(210.8 152.7)rotate(172.7)"/>
<circle r="7.2" transform="translate(205.6 120.5)rotate(151.8)"/>
<circle r="6.6" transform="translate(202.5 155.5)rotate(150.6)"/>
<circle r="8.1" transform="translate(213.9 117.9)rotate(174.1)"/>
<circle r="6.6" transform="translate(199.5 190.4)rotate(149.5)"/>
<circle r="7" transform="translate(209.2 187.3)rotate(175.6)"/>
<circle r="7" transform="translate(204.3 121.2)rotate(148.2)"/>
<circle r="7" transform="translate(212.3 152.6)rotate(177)"/>
<circle r="6.6" transform="translate(201.3 156.2)rotate(147.1)"/>
<circle r="6.5" transform="translate(198.2 191.2)rotate(145.9)"/>
<circle r="6.9" transform="translate(203.1 122)rotate(144.6)"/>
<circle r="7" transform="translate(210.7 187.3)rotate(-179.8)"/>
<circle r="6.5" transform="translate(200.1 157)rotate(143.5)"/>
<circle r="7" transform="translate(213.8 152.6)rotate(-178.2)"/>
<circle r="6.4" transform="translate(197.1 192.1)rotate(142.3)"/>
<circle r="6.7" transform="translate(201.9 122.9)rotate(141)"/>
<circle r="6.4" transform="translate(198.9 157.9)rotate(139.8)"/>
</g>
<g fill="url(#hg1)">
<circle r="7" transform="translate(212.2 187.4)rotate(-174.5)"/>
</g>
<g fill="url(#hg0)">
<circle r="6.3" transform="translate(195.9 193)rotate(138.6)"/>
</g>
<g fill="url(#hg1)">
<circle r="7" transform="translate(215.3 152.7)rotate(-172.6)"/>
</g>
<g fill="url(#hg0)">
<circle r="6.6" transform="translate(200.8 123.8)rotate(137.3)"/>
<circle r="6.3" transform="translate(197.8 158.9)rotate(136.1)"/>
<circle r="6" transform="translate(194.9 194)rotate(128.2)"/>
<circle r="6.5" transform="translate(199.8 124.9)rotate(133.5)"/>
</g>
<g fill="url(#hg1)">
<circle r="7" transform="translate(213.7 187.6)rotate(-168.1)"/>
</g>
<g fill="url(#hg0)">
<circle r="6.2" transform="translate(196.8 159.9)rotate(132.3)"/>
</g>
<g fill="url(#hg1)">
<circle r="7" transform="translate(216.8 153)rotate(-165.6)"/>
<circle r="5.8" transform="translate(194 195.1)rotate(125.2)"/>
</g>
<g fill="url(#hg0)">
<circle r="6.3" transform="translate(198.8 125.9)rotate(129.6)"/>
<circle r="6.1" transform="translate(195.9 161)rotate(128.3)"/>
</g>
<g fill="url(#hg1)">
<circle r="5.6" transform="translate(193.2 196.3)rotate(122)"/>
<circle r="6.9" transform="translate(215.2 188)rotate(-159.5)"/>
<circle r="6.2" transform="translate(197.9 127.1)rotate(125.6)"/>
<circle r="6" transform="translate(195 162.2)rotate(124.3)"/>
<circle r="6.9" transform="translate(218.3 153.5)rotate(-156)"/>
<circle r="5.3" transform="translate(192.5 197.6)rotate(118.6)"/>
<circle r="6.1" transform="translate(197.1 128.3)rotate(121.5)"/>
<circle r="5.9" transform="translate(194.3 163.4)rotate(120.2)"/>
<circle r="5.1" transform="translate(191.8 198.8)rotate(115.1)"/>
</g>
<g fill="url(#hg2)">
<circle r="6.7" transform="translate(216.6 188.8)rotate(-146.2)"/>
</g>
<g fill="url(#hg1)">
<circle r="5.9" transform="translate(196.4 129.6)rotate(117.3)"/>
<circle r="5.7" transform="translate(193.6 164.7)rotate(116)"/>
<circle r="4.9" transform="translate(191.3 200.2)rotate(111.2)"/>
</g>
<g fill="url(#hg2)">
<circle r="6.5" transform="translate(219.7 154.3)rotate(-139.6)"/>
</g>
<g fill="url(#hg1)">
<circle r="5.8" transform="translate(195.8 130.9)rotate(113)"/>
<circle r="5.7" transform="translate(193 166)rotate(111.6)"/>
<circle r="4.6" transform="translate(190.8 201.5)rotate(107)"/>
<circle r="5.7" transform="translate(195.3 132.2)rotate(108.7)"/>
<circle r="5.6" transform="translate(192.5 167.4)rotate(107.2)"/>
</g>
<g fill="url(#hg2)">
<circle r="4.4" transform="translate(190.4 202.9)rotate(102.4)"/>
</g>
<g fill="url(#hg4)">
<circle r="5.9" transform="translate(217.8 190)rotate(-118.5)"/>
</g>
<g fill="url(#hg1)">
<circle r="5.6" transform="translate(194.8 133.6)rotate(104.2)"/>
</g>
<g fill="url(#hg2)">
<circle r="5.5" transform="translate(192.1 168.8)rotate(102.7)"/>
<circle r="4.2" transform="translate(190.2 204.3)rotate(97.4)"/>
<circle r="5.6" transform="translate(194.5 135)rotate(99.7)"/>
</g>
<g fill="url(#hg5)">
<circle r="5.6" transform="translate(220.6 155.7)rotate(-104.1)"/>
</g>
<g fill="url(#hg2)">
<circle r="5.5" transform="translate(191.8 170.2)rotate(98.2)"/>
<circle r="4" transform="translate(190.1 205.7)rotate(91.8)"/>
<circle r="5.5" transform="translate(194.4 136.4)rotate(95.1)"/>
<circle r="5.5" transform="translate(191.7 171.7)rotate(93.7)"/>
</g>
<g fill="url(#hg3)">
<circle r="3.9" transform="translate(190.1 207.1)rotate(85.6)"/>
</g>
<g fill="url(#hg2)">
<circle r="5.5" transform="translate(194.3 137.9)rotate(90.6)"/>
</g>
<g fill="url(#hg7)">
<circle r="5.7" transform="translate(217.9 191.4)rotate(-72.4)"/>
</g>
<g fill="url(#hg2)">
<circle r="5.5" transform="translate(191.6 173.1)rotate(89.1)"/>
</g>
<g fill="url(#hg3)">
<circle r="5.6" transform="translate(194.3 139.3)rotate(86.1)"/>
</g>
<g fill="url(#hg7)">
<circle r="6" transform="translate(220.4 157)rotate(-59.7)"/>
</g>
<g fill="url(#hg3)">
<circle r="3.8" transform="translate(190.3 208.5)rotate(79)"/>
<circle r="5.5" transform="translate(191.7 174.6)rotate(84.6)"/>
<circle r="5.6" transform="translate(194.5 140.8)rotate(81.6)"/>
<circle r="5.6" transform="translate(191.9 176)rotate(80.1)"/>
</g>
<g fill="url(#hg4)">
<circle r="3.7" transform="translate(190.6 209.9)rotate(71.8)"/>
</g>
<g fill="url(#hg8)">
<circle r="6.7" transform="translate(217.2 192.4)rotate(-40.3)"/>
</g>
<g fill="url(#hg3)">
<circle r="5.7" transform="translate(194.7 142.2)rotate(77.1)"/>
</g>
<g fill="url(#hlv)">
<circle r="4.5" transform="translate(191.7 211.9)rotate(83)"/>
<circle r="4.1" transform="translate(191.9 213.3)rotate(83)"/>
<circle r="3.6" transform="translate(192 214.7)rotate(83)"/>
<circle r="3.2" transform="translate(192.2 216.2)rotate(83)"/>
<circle r="2.8" transform="translate(192.4 217.6)rotate(83)"/>
<circle r="2.3" transform="translate(192.6 219.1)rotate(83)"/>
<circle r="1.8" transform="translate(192.7 220.5)rotate(83)"/>
<circle r="1.3" transform="translate(192.9 221.9)rotate(83)"/>
<circle r="0.8" transform="translate(193.1 223.4)rotate(83)"/>
</g>
<g fill="url(#hg3)">
<circle r="5.7" transform="translate(192.2 177.4)rotate(75.7)"/>
</g>
<g fill="url(#hg8)">
<circle r="6.9" transform="translate(219.5 157.9)rotate(-33.6)"/>
</g>
<g fill="url(#hg3)">
<circle r="5.8" transform="translate(195.1 143.6)rotate(72.8)"/>
</g>
<g fill="url(#hg4)">
<circle r="5.8" transform="translate(192.6 178.8)rotate(71.4)"/>
</g>
<g fill="url(#hg8)">
<circle r="7.2" transform="translate(216 193.1)rotate(-23)"/>
</g>
<g fill="url(#hg4)">
<circle r="5.9" transform="translate(195.6 145)rotate(68.6)"/>
<circle r="5.9" transform="translate(193.1 180.2)rotate(67.2)"/>
</g>
<g fill="url(#hg8)">
<circle r="7.3" transform="translate(218.3 158.5)rotate(-19)"/>
</g>
<g fill="url(#hg4)">
<circle r="6" transform="translate(196.1 146.3)rotate(64.4)"/>
<circle r="6" transform="translate(193.7 181.5)rotate(63.1)"/>
</g>
<g fill="url(#hg8)">
<circle r="7.4" transform="translate(214.8 193.5)rotate(-12.2)"/>
</g>
<g fill="url(#hg4)">
<circle r="6.1" transform="translate(196.8 147.6)rotate(60.4)"/>
</g>
<g fill="url(#hg8)">
<circle r="7.5" transform="translate(216.9 158.8)rotate(-9.5)"/>
</g>
<g fill="url(#hg4)">
<circle r="6.2" transform="translate(194.4 182.8)rotate(59.1)"/>
</g>
<g fill="url(#hg5)">
<circle r="6.3" transform="translate(197.6 148.9)rotate(56.5)"/>
</g>
<g fill="url(#hg8)">
<circle r="7.5" transform="translate(213.4 193.6)rotate(-4.5)"/>
</g>
<g fill="url(#hg5)">
<circle r="6.3" transform="translate(195.2 184)rotate(55.2)"/>
</g>
<g fill="url(#hg8)">
<circle r="7.5" transform="translate(215.6 158.9)rotate(-2.4)"/>
</g>
<g fill="url(#hg5)">
<circle r="6.4" transform="translate(198.4 150)rotate(52.6)"/>
<circle r="6.4" transform="translate(196.1 185.1)rotate(51.4)"/>
</g>
<g fill="url(#hg8)">
<circle r="7.5" transform="translate(212 193.7)rotate(1.6)"/>
</g>
<g fill="url(#hg5)">
<circle r="6.6" transform="translate(199.3 151.2)rotate(48.9)"/>
</g>
<g fill="url(#hg8)">
<circle r="7.5" transform="translate(214.2 158.9)rotate(3.3)"/>
</g>
<g fill="url(#hg5)">
<circle r="6.6" transform="translate(197 186.2)rotate(47.7)"/>
<circle r="6.7" transform="translate(200.3 152.2)rotate(45.3)"/>
</g>
<g fill="url(#hg7)">
<circle r="7.5" transform="translate(210.6 193.6)rotate(6.7)"/>
</g>
<g fill="url(#hg5)">
<circle r="6.7" transform="translate(198 187.3)rotate(44.1)"/>
</g>
<g fill="url(#hg7)">
<circle r="7.5" transform="translate(212.8 158.8)rotate(8.3)"/>
</g>
<g fill="url(#hg6)">
<circle r="6.8" transform="translate(201.3 153.2)rotate(41.7)"/>
</g>
<g fill="url(#hg7)">
<circle r="7.5" transform="translate(209.2 193.3)rotate(11.3)"/>
</g>
<g fill="url(#hg6)">
<circle r="6.8" transform="translate(199.1 188.3)rotate(40.5)"/>
</g>
<g fill="url(#hg7)">
<circle r="7.5" transform="translate(211.4 158.5)rotate(12.7)"/>
</g>
<g fill="url(#hg6)">
<circle r="6.9" transform="translate(202.5 154.1)rotate(38.2)"/>
<circle r="6.9" transform="translate(200.2 189.2)rotate(37)"/>
</g>
<g fill="url(#hg7)">
<circle r="7.5" transform="translate(207.8 193)rotate(15.4)"/>
<circle r="7.5" transform="translate(210 158.1)rotate(16.7)"/>
</g>
<g fill="url(#hg6)">
<circle r="7" transform="translate(203.6 155)rotate(34.7)"/>
<circle r="7.1" transform="translate(201.4 190)rotate(33.6)"/>
</g>
<g fill="url(#hg7)">
<circle r="7.4" transform="translate(206.5 192.6)rotate(19.3)"/>
<circle r="7.4" transform="translate(208.7 157.7)rotate(20.5)"/>
</g>
<g fill="url(#hg6)">
<circle r="7.1" transform="translate(204.8 155.8)rotate(31.2)"/>
<circle r="7.2" transform="translate(202.6 190.8)rotate(30.1)"/>
</g>
<g fill="url(#hg7)">
<circle r="7.3" transform="translate(205.2 192.1)rotate(23)"/>
<circle r="7.3" transform="translate(207.4 157.1)rotate(24.2)"/>
</g>
<g fill="url(#hg6)">
<circle r="7.2" transform="translate(206.1 156.5)rotate(27.7)"/>
<circle r="7.3" transform="translate(203.9 191.5)rotate(26.6)"/>
</g>
<ellipse cx="215.6" cy="118.1" rx="3.8" ry="8.5" transform="rotate(7 213.9 117.9)" fill="url(#htip)" stroke="#1c0e00" stroke-width="0.5"/>
<defs><path id="pw0" d="M408.1 91.2 L408.1 91.1 L408.1 91.1 L408 90.9 L407.8 90.7 L407.4 90.2 L407 89.5 L406.4 88.8 L405.7 88.2 L404.9 87.6 L403.8 87.1 L402.7 86.6 L401.6 86.1 L400.4 85.8 L399.1 85.5 L397.8 85.2 L396.5 85 L395.3 84.9 L394 84.9 L392.7 84.9 L391.5 84.9 L390.3 85.1 L389.1 85.3 L388.1 85.6 L387.3 85.8 L386.3 90.4 L387.1 90.1 L388.2 89.6 L389.4 89.2 L390.5 88.8 L391.6 88.6 L392.6 88.5 L393.7 88.4 L394.7 88.4 L395.7 88.6 L396.8 88.8 L397.8 89.1 L398.8 89.4 L399.6 89.8 L400.4 90.3 L401.1 90.8 L401.7 91.3 L402.3 91.7 L402.9 92 L403.3 92.3 L403.8 92.6 L404.2 93 L404.6 93.4 L405 93.7 L405.2 93.9ZM401.8 91.9 L401.8 91.9 L401.7 91.9 L401.5 92 L401 92.1 L400.1 92.4 L399 92.7 L397.7 93.2 L396.6 93.7 L395.5 94.2 L394.5 94.9 L393.5 95.7 L392.6 96.4 L391.8 97.2 L391.1 98.1 L390.5 98.9 L390 99.8 L389.7 100.6 L389.4 101.5 L389.2 102.3 L389.2 103.1 L389.3 103.8 L389.6 104.6 L389.9 105.3 L390.1 105.7 L398.2 105.7 L397.8 105.3 L397.1 104.6 L396.4 103.9 L395.9 103.2 L395.7 102.6 L395.6 101.9 L395.6 101.2 L395.8 100.6 L396.1 99.9 L396.6 99.2 L397.2 98.5 L397.9 97.9 L398.7 97.3 L399.6 96.7 L400.6 96.3 L401.4 95.8 L402.1 95.4 L402.7 95 L403.3 94.7 L403.9 94.4 L404.5 94.1 L405.2 93.8 L405.7 93.6 L406.1 93.4ZM402.5 95.7 L402.5 95.7 L402.5 95.8 L402.6 95.9 L402.8 96.2 L403.1 96.7 L403.6 97.4 L404.2 98.1 L404.9 98.8 L405.8 99.4 L406.8 99.9 L408 100.5 L409.2 101 L410.4 101.4 L411.7 101.7 L413.1 102 L414.5 102.2 L415.8 102.3 L417.2 102.3 L418.5 102.3 L419.7 102.3 L421 102.1 L422.2 101.8 L423.3 101.6 L424 101.4 L424.6 96.4 L423.8 96.8 L422.8 97.2 L421.6 97.7 L420.4 98.1 L419.4 98.3 L418.3 98.5 L417.3 98.5 L416.2 98.5 L415.1 98.4 L414 98.1 L412.9 97.8 L412 97.5 L411.1 97 L410.3 96.5 L409.6 96 L408.9 95.5 L408.3 95.2 L407.8 94.8 L407.3 94.5 L406.8 94.2 L406.4 93.8 L406 93.4 L405.6 93.1 L405.4 92.9ZM408.8 94.9 L408.9 94.9 L408.9 94.9 L409.2 94.8 L409.7 94.7 L410.5 94.4 L411.6 94.1 L412.9 93.6 L414 93.1 L415 92.6 L416.1 91.9 L417 91.2 L417.8 90.4 L418.5 89.6 L419.2 88.8 L419.7 88 L420.1 87.2 L420.4 86.4 L420.6 85.7 L420.6 84.9 L420.6 84.2 L420.4 83.5 L420.1 82.8 L419.8 82.2 L419.5 81.8 L411.9 81.8 L412.4 82.2 L413 82.8 L413.7 83.5 L414.2 84.1 L414.5 84.7 L414.6 85.3 L414.6 85.9 L414.5 86.5 L414.2 87.1 L413.7 87.8 L413.2 88.4 L412.5 89 L411.7 89.6 L410.9 90.1 L410 90.6 L409.2 91 L408.5 91.4 L407.9 91.8 L407.3 92.1 L406.7 92.4 L406.1 92.7 L405.4 93 L404.9 93.2 L404.5 93.4Z"/><path id="pw1" d="M467.1 91.2 L467 91.1 L467 91.1 L466.9 90.9 L466.6 90.7 L466.2 90.2 L465.7 89.5 L465 88.8 L464.2 88.2 L463.2 87.6 L462.1 87.1 L461 86.6 L459.7 86.1 L458.5 85.8 L457.2 85.5 L455.8 85.2 L454.5 85 L453.2 84.9 L451.9 84.9 L450.7 84.9 L449.5 84.9 L448.3 85.1 L447.1 85.3 L446.1 85.6 L445.4 85.8 L445.2 90.4 L445.9 90.1 L446.9 89.6 L448 89.2 L449.1 88.8 L450.1 88.6 L451.1 88.5 L452.2 88.4 L453.2 88.4 L454.3 88.6 L455.4 88.8 L456.5 89.1 L457.5 89.4 L458.4 89.8 L459.2 90.3 L460 90.8 L460.7 91.3 L461.4 91.7 L461.9 92 L462.5 92.3 L463 92.6 L463.4 93 L463.9 93.4 L464.3 93.7 L464.6 93.9ZM460.9 91.9 L460.8 91.9 L460.7 91.9 L460.5 92 L460.1 92.1 L459.3 92.4 L458.2 92.7 L457 93.2 L455.9 93.7 L455 94.2 L454 94.9 L453.1 95.7 L452.3 96.4 L451.7 97.2 L451.1 98.1 L450.7 98.9 L450.3 99.8 L450.1 100.6 L450 101.5 L449.9 102.3 L450 103.1 L450.3 103.8 L450.7 104.6 L451.1 105.3 L451.4 105.7 L459.5 105.7 L459 105.3 L458.2 104.6 L457.4 103.9 L456.8 103.2 L456.4 102.6 L456.2 101.9 L456.1 101.2 L456.2 100.6 L456.4 99.9 L456.8 99.2 L457.3 98.5 L457.9 97.9 L458.6 97.3 L459.5 96.7 L460.3 96.3 L461.1 95.8 L461.7 95.4 L462.3 95 L462.8 94.7 L463.4 94.4 L463.9 94.1 L464.5 93.8 L465.1 93.6 L465.4 93.4ZM462.1 95.7 L462.1 95.7 L462.2 95.8 L462.3 95.9 L462.5 96.2 L463 96.7 L463.5 97.4 L464.2 98.1 L465 98.8 L466 99.4 L467.1 99.9 L468.4 100.5 L469.7 101 L471 101.4 L472.4 101.7 L473.8 102 L475.2 102.1 L476.5 102.3 L477.9 102.3 L479.2 102.3 L480.4 102.3 L481.7 102.1 L482.8 101.8 L483.9 101.5 L484.6 101.4 L484.3 96.4 L483.7 96.8 L482.7 97.2 L481.5 97.7 L480.5 98.1 L479.4 98.3 L478.4 98.5 L477.4 98.5 L476.3 98.5 L475.2 98.4 L474 98.1 L472.9 97.8 L471.9 97.5 L471 97 L470.1 96.5 L469.3 96 L468.5 95.5 L467.9 95.2 L467.3 94.8 L466.8 94.5 L466.3 94.2 L465.8 93.8 L465.3 93.4 L464.9 93.1 L464.6 92.9ZM468.3 94.9 L468.4 94.9 L468.5 94.9 L468.7 94.8 L469.2 94.7 L470 94.4 L471 94.1 L472.2 93.6 L473.3 93.1 L474.2 92.6 L475.1 91.9 L475.9 91.2 L476.7 90.4 L477.2 89.6 L477.7 88.8 L478.1 88 L478.4 87.2 L478.6 86.4 L478.6 85.7 L478.6 84.9 L478.5 84.2 L478.2 83.5 L477.7 82.8 L477.3 82.2 L477 81.8 L469.4 81.8 L469.9 82.2 L470.7 82.8 L471.4 83.5 L472 84.1 L472.4 84.7 L472.6 85.3 L472.7 85.9 L472.7 86.5 L472.5 87.1 L472.1 87.8 L471.7 88.4 L471.1 89.1 L470.4 89.6 L469.6 90.1 L468.8 90.6 L468.1 91 L467.5 91.4 L466.9 91.8 L466.4 92.1 L465.8 92.4 L465.3 92.7 L464.7 93 L464.1 93.2 L463.8 93.4Z"/><path id="pw2" d="M525.7 90.2 L525.7 90.1 L525.6 90.1 L525.5 89.9 L525.2 89.7 L524.7 89.2 L524.1 88.5 L523.3 87.9 L522.4 87.2 L521.3 86.7 L520.2 86.1 L518.9 85.6 L517.6 85.2 L516.3 84.8 L514.9 84.5 L513.6 84.3 L512.2 84.1 L510.9 84 L509.6 83.9 L508.4 83.9 L507.2 84 L506 84.1 L504.9 84.4 L503.9 84.6 L503.3 84.8 L503.8 89.4 L504.4 89.1 L505.4 88.6 L506.4 88.2 L507.4 87.8 L508.4 87.6 L509.4 87.5 L510.4 87.4 L511.5 87.5 L512.6 87.6 L513.7 87.8 L514.8 88.1 L515.9 88.4 L516.8 88.9 L517.7 89.3 L518.6 89.8 L519.4 90.3 L520.1 90.7 L520.7 91 L521.3 91.3 L521.8 91.7 L522.4 92 L522.9 92.4 L523.4 92.7 L523.7 92.9ZM519.7 90.9 L519.6 90.9 L519.5 90.9 L519.3 91 L518.9 91.2 L518.1 91.4 L517.1 91.7 L516 92.2 L515 92.7 L514.1 93.2 L513.3 93.9 L512.5 94.7 L511.9 95.4 L511.3 96.2 L510.9 97.1 L510.6 97.9 L510.4 98.8 L510.3 99.6 L510.3 100.4 L510.4 101.2 L510.6 102 L511 102.8 L511.5 103.5 L512 104.2 L512.4 104.7 L520.5 104.7 L519.8 104.2 L519 103.6 L518 102.8 L517.3 102.2 L516.9 101.5 L516.6 100.9 L516.4 100.2 L516.4 99.5 L516.5 98.9 L516.8 98.1 L517.2 97.5 L517.6 96.8 L518.3 96.3 L519 95.7 L519.8 95.2 L520.5 94.8 L521 94.4 L521.5 94 L522 93.7 L522.5 93.4 L523.1 93.1 L523.6 92.8 L524.1 92.6 L524.4 92.4ZM521.5 94.7 L521.5 94.7 L521.5 94.8 L521.7 94.9 L522 95.2 L522.5 95.7 L523.1 96.3 L523.9 97.1 L524.9 97.7 L525.9 98.3 L527.2 98.9 L528.5 99.5 L529.8 99.9 L531.2 100.3 L532.6 100.6 L534.1 100.9 L535.5 101.1 L536.9 101.2 L538.2 101.3 L539.6 101.3 L540.8 101.2 L542 101.1 L543.1 100.8 L544.1 100.5 L544.8 100.3 L543.8 95.4 L543.1 95.8 L542.2 96.2 L541.2 96.7 L540.2 97.1 L539.2 97.3 L538.2 97.4 L537.1 97.5 L536.1 97.5 L534.9 97.3 L533.8 97.1 L532.6 96.8 L531.5 96.4 L530.5 96 L529.6 95.5 L528.7 95 L527.9 94.5 L527.1 94.2 L526.5 93.8 L525.9 93.5 L525.4 93.2 L524.8 92.8 L524.3 92.4 L523.8 92.1 L523.5 91.9ZM527.6 93.9 L527.6 93.9 L527.7 93.9 L527.9 93.8 L528.3 93.7 L529.1 93.4 L530.1 93.1 L531.2 92.6 L532.2 92.1 L533 91.6 L533.8 90.9 L534.6 90.2 L535.2 89.4 L535.6 88.7 L536 87.9 L536.2 87 L536.4 86.3 L536.4 85.5 L536.4 84.7 L536.2 84 L536 83.3 L535.6 82.6 L535 81.9 L534.5 81.3 L534.1 80.9 L526.6 80.9 L527.1 81.3 L528 81.9 L528.9 82.5 L529.5 83.1 L530 83.7 L530.3 84.3 L530.5 84.9 L530.6 85.5 L530.5 86.2 L530.2 86.8 L529.9 87.5 L529.4 88.1 L528.8 88.6 L528.1 89.1 L527.4 89.6 L526.7 90 L526.1 90.4 L525.6 90.8 L525.2 91.1 L524.7 91.4 L524.1 91.7 L523.6 92 L523.1 92.2 L522.8 92.4Z"/><path id="pw3" d="M402.4 128.1 L402.4 128 L402.4 128 L402.3 127.8 L402.1 127.5 L401.7 126.9 L401.2 126.1 L400.6 125.3 L399.8 124.5 L398.9 123.8 L397.8 123.2 L396.6 122.5 L395.4 122 L394.1 121.6 L392.7 121.2 L391.2 120.9 L389.8 120.7 L388.4 120.6 L387 120.5 L385.6 120.5 L384.3 120.6 L383 120.8 L381.7 121.1 L380.5 121.4 L379.7 121.6 L378.5 127.2 L379.4 126.8 L380.6 126.2 L381.9 125.7 L383.2 125.2 L384.3 125 L385.5 124.8 L386.6 124.8 L387.7 124.8 L388.9 125 L390.1 125.2 L391.2 125.6 L392.2 126 L393.1 126.5 L394 127.1 L394.7 127.7 L395.4 128.2 L396.1 128.7 L396.6 129.1 L397.1 129.5 L397.6 129.9 L398.1 130.3 L398.6 130.8 L398.9 131.1 L399.2 131.4ZM395.5 129 L395.4 129 L395.3 129 L395.1 129.1 L394.6 129.3 L393.6 129.6 L392.4 130 L391 130.5 L389.7 131.1 L388.5 131.8 L387.3 132.7 L386.2 133.6 L385.2 134.5 L384.3 135.5 L383.6 136.5 L382.9 137.5 L382.4 138.6 L381.9 139.6 L381.6 140.6 L381.4 141.6 L381.3 142.5 L381.5 143.5 L381.8 144.4 L382.1 145.2 L382.4 145.8 L391.3 145.8 L390.8 145.2 L390 144.4 L389.3 143.5 L388.8 142.7 L388.5 141.9 L388.4 141.1 L388.5 140.3 L388.7 139.5 L389.1 138.7 L389.6 137.8 L390.3 137 L391.1 136.2 L392 135.5 L393 134.9 L394 134.3 L395 133.7 L395.7 133.2 L396.4 132.8 L397.1 132.4 L397.7 132 L398.4 131.7 L399.1 131.3 L399.8 131 L400.2 130.8ZM396.1 133.6 L396.1 133.6 L396.2 133.7 L396.2 133.8 L396.5 134.2 L396.9 134.8 L397.3 135.6 L398 136.5 L398.7 137.3 L399.7 138 L400.8 138.7 L402.1 139.4 L403.4 140 L404.8 140.5 L406.3 140.9 L407.8 141.2 L409.3 141.4 L410.7 141.6 L412.2 141.7 L413.7 141.7 L415 141.6 L416.4 141.4 L417.8 141 L419 140.7 L419.8 140.5 L420.5 134.5 L419.6 134.9 L418.5 135.5 L417.1 136.1 L415.9 136.5 L414.7 136.8 L413.5 136.9 L412.4 137 L411.2 137 L410 136.8 L408.8 136.5 L407.6 136.2 L406.6 135.7 L405.6 135.2 L404.7 134.6 L403.9 134 L403.2 133.4 L402.6 132.9 L402 132.5 L401.5 132.1 L401 131.7 L400.5 131.3 L400 130.8 L399.7 130.5 L399.4 130.2ZM403.1 132.6 L403.2 132.6 L403.3 132.6 L403.5 132.5 L404.1 132.3 L405 132 L406.3 131.6 L407.6 131.1 L408.9 130.5 L410 129.8 L411.1 129 L412.2 128.1 L413.1 127.2 L413.9 126.2 L414.6 125.3 L415.2 124.3 L415.6 123.3 L416 122.4 L416.2 121.4 L416.3 120.5 L416.3 119.7 L416.1 118.9 L415.7 118 L415.3 117.3 L415.1 116.8 L406.8 116.8 L407.3 117.3 L408 118 L408.7 118.8 L409.2 119.6 L409.5 120.3 L409.7 121 L409.7 121.7 L409.5 122.5 L409.2 123.2 L408.7 124 L408 124.8 L407.3 125.5 L406.5 126.2 L405.5 126.8 L404.5 127.4 L403.6 127.9 L402.8 128.4 L402.1 128.8 L401.5 129.2 L400.8 129.6 L400.2 129.9 L399.5 130.3 L398.8 130.6 L398.4 130.8Z"/><path id="pw4" d="M467.3 128.1 L467.3 128 L467.2 128 L467.1 127.8 L466.8 127.5 L466.4 126.9 L465.8 126.1 L465 125.3 L464.2 124.5 L463.1 123.8 L461.9 123.2 L460.6 122.5 L459.3 122 L457.9 121.6 L456.4 121.2 L455 120.9 L453.5 120.7 L452.1 120.6 L450.7 120.5 L449.3 120.5 L448 120.6 L446.7 120.8 L445.4 121.1 L444.3 121.4 L443.5 121.6 L443.2 127.2 L444 126.8 L445.1 126.2 L446.4 125.7 L447.6 125.2 L448.7 125 L449.8 124.8 L450.9 124.8 L452.1 124.8 L453.3 125 L454.5 125.2 L455.7 125.6 L456.8 126 L457.7 126.5 L458.7 127.1 L459.5 127.7 L460.3 128.2 L461 128.7 L461.7 129.1 L462.2 129.5 L462.8 129.9 L463.3 130.3 L463.8 130.8 L464.3 131.1 L464.6 131.4ZM460.5 129 L460.5 129 L460.4 129 L460.1 129.1 L459.6 129.3 L458.7 129.6 L457.5 130 L456.3 130.5 L455.1 131.1 L454 131.8 L452.9 132.7 L452 133.6 L451.1 134.5 L450.4 135.5 L449.8 136.5 L449.3 137.5 L448.9 138.6 L448.6 139.6 L448.5 140.6 L448.4 141.6 L448.5 142.5 L448.8 143.5 L449.2 144.4 L449.7 145.2 L450 145.8 L459 145.8 L458.4 145.2 L457.5 144.4 L456.6 143.5 L456 142.7 L455.6 141.9 L455.4 141.1 L455.3 140.3 L455.3 139.5 L455.6 138.7 L456 137.8 L456.6 137 L457.3 136.2 L458 135.5 L458.9 134.9 L459.9 134.3 L460.7 133.7 L461.4 133.2 L462.1 132.8 L462.6 132.4 L463.2 132 L463.9 131.7 L464.5 131.3 L465.1 131 L465.5 130.8ZM461.9 133.6 L461.9 133.6 L461.9 133.7 L462 133.8 L462.3 134.2 L462.8 134.8 L463.4 135.6 L464.2 136.5 L465.1 137.3 L466.1 138 L467.4 138.7 L468.8 139.4 L470.2 140 L471.6 140.5 L473.2 140.9 L474.7 141.2 L476.2 141.4 L477.7 141.6 L479.2 141.7 L480.7 141.7 L482.1 141.6 L483.4 141.4 L484.7 141 L485.9 140.7 L486.6 140.5 L486.3 134.5 L485.6 134.9 L484.5 135.5 L483.3 136.1 L482.1 136.5 L481 136.8 L479.8 136.9 L478.7 137 L477.5 137 L476.3 136.8 L475 136.5 L473.8 136.2 L472.6 135.7 L471.6 135.2 L470.6 134.6 L469.7 134 L468.9 133.4 L468.2 132.9 L467.6 132.5 L467 132.1 L466.4 131.7 L465.9 131.3 L465.4 130.8 L464.9 130.5 L464.6 130.2ZM468.7 132.6 L468.8 132.6 L468.9 132.6 L469.1 132.5 L469.6 132.3 L470.5 132 L471.7 131.6 L473 131.1 L474.1 130.5 L475.2 129.8 L476.2 129 L477.1 128.1 L477.9 127.2 L478.5 126.2 L479 125.3 L479.4 124.3 L479.7 123.3 L479.9 122.4 L480 121.4 L480 120.5 L479.8 119.7 L479.5 118.9 L479 118 L478.5 117.3 L478.2 116.8 L469.9 116.8 L470.4 117.3 L471.3 118 L472.1 118.8 L472.8 119.6 L473.1 120.3 L473.4 121 L473.5 121.7 L473.5 122.5 L473.3 123.2 L472.9 124 L472.4 124.8 L471.8 125.5 L471 126.2 L470.1 126.8 L469.2 127.4 L468.4 127.9 L467.7 128.4 L467.1 128.8 L466.5 129.2 L466 129.6 L465.3 129.9 L464.7 130.3 L464.1 130.6 L463.7 130.8Z"/><path id="pw5" d="M531.9 128.1 L531.8 128 L531.8 128 L531.7 127.8 L531.3 127.5 L530.8 126.9 L530 126.1 L529.2 125.3 L528.2 124.5 L527 123.8 L525.7 123.2 L524.3 122.5 L522.9 122 L521.4 121.6 L519.9 121.2 L518.4 120.9 L516.9 120.7 L515.5 120.6 L514.1 120.5 L512.7 120.5 L511.4 120.6 L510.1 120.8 L508.9 121.1 L507.8 121.4 L507.1 121.6 L507.7 127.2 L508.4 126.8 L509.4 126.2 L510.6 125.7 L511.7 125.2 L512.8 125 L513.9 124.8 L515 124.8 L516.1 124.8 L517.3 125 L518.6 125.2 L519.8 125.6 L521 126 L522.1 126.5 L523.1 127.1 L524 127.7 L524.9 128.2 L525.7 128.7 L526.4 129.1 L527 129.5 L527.6 129.9 L528.3 130.3 L528.8 130.8 L529.3 131.1 L529.7 131.4ZM525.2 129 L525.2 129 L525.1 129 L524.9 129.1 L524.4 129.3 L523.5 129.6 L522.4 130 L521.2 130.5 L520.1 131.1 L519.2 131.8 L518.2 132.7 L517.4 133.6 L516.7 134.5 L516.1 135.5 L515.7 136.5 L515.3 137.5 L515.1 138.6 L515 139.6 L515 140.6 L515.1 141.6 L515.4 142.5 L515.8 143.5 L516.4 144.4 L517 145.2 L517.4 145.8 L526.3 145.8 L525.7 145.2 L524.7 144.4 L523.6 143.5 L522.9 142.7 L522.3 141.9 L522 141.1 L521.8 140.3 L521.7 139.5 L521.9 138.7 L522.2 137.8 L522.6 137 L523.1 136.2 L523.8 135.5 L524.6 134.9 L525.4 134.3 L526.2 133.7 L526.8 133.2 L527.4 132.8 L527.9 132.4 L528.4 132 L529 131.7 L529.6 131.3 L530.1 131 L530.5 130.8ZM527.3 133.6 L527.3 133.6 L527.4 133.7 L527.5 133.8 L527.8 134.2 L528.4 134.8 L529.2 135.6 L530.1 136.5 L531.1 137.3 L532.3 138 L533.7 138.7 L535.1 139.4 L536.6 140 L538.1 140.5 L539.7 140.9 L541.3 141.2 L542.9 141.4 L544.4 141.6 L545.9 141.6 L547.4 141.6 L548.8 141.6 L550.1 141.4 L551.3 141 L552.4 140.7 L553.2 140.4 L551.9 134.5 L551.2 134.9 L550.2 135.5 L549.1 136.1 L548 136.5 L546.9 136.8 L545.8 136.9 L544.6 137 L543.5 137 L542.2 136.8 L540.9 136.5 L539.6 136.2 L538.4 135.7 L537.3 135.2 L536.2 134.6 L535.2 134 L534.3 133.4 L533.5 132.9 L532.8 132.5 L532.2 132.1 L531.6 131.7 L530.9 131.3 L530.4 130.8 L529.9 130.5 L529.5 130.2ZM534 132.6 L534.1 132.6 L534.2 132.6 L534.4 132.5 L534.8 132.3 L535.7 132 L536.8 131.6 L538 131.1 L539.1 130.5 L540 129.8 L540.9 129 L541.6 128.1 L542.3 127.2 L542.8 126.2 L543.1 125.3 L543.4 124.3 L543.6 123.3 L543.6 122.4 L543.5 121.5 L543.3 120.5 L543.1 119.7 L542.6 118.9 L542 118 L541.4 117.3 L541 116.8 L532.6 116.8 L533.3 117.3 L534.2 118 L535.2 118.8 L536 119.6 L536.5 120.3 L536.9 121 L537.1 121.7 L537.2 122.5 L537.1 123.2 L536.8 124 L536.4 124.8 L535.9 125.5 L535.3 126.2 L534.5 126.8 L533.7 127.4 L533 127.9 L532.4 128.4 L531.8 128.8 L531.3 129.2 L530.8 129.6 L530.2 129.9 L529.6 130.3 L529.1 130.6 L528.7 130.8Z"/><path id="pw6" d="M395.5 177.2 L395.4 177.1 L395.4 177 L395.3 176.8 L395.1 176.4 L394.7 175.7 L394.1 174.7 L393.5 173.7 L392.6 172.7 L391.6 171.8 L390.4 171 L389.1 170.2 L387.7 169.6 L386.2 169 L384.7 168.6 L383.1 168.2 L381.5 168 L380 167.8 L378.4 167.7 L376.8 167.7 L375.4 167.8 L373.9 168 L372.4 168.4 L371.1 168.8 L370.2 169 L368.7 176.1 L369.7 175.6 L371 174.9 L372.5 174.2 L374 173.6 L375.3 173.3 L376.5 173.1 L377.8 173 L379.1 173.1 L380.4 173.3 L381.7 173.6 L382.9 174.1 L384.1 174.6 L385.1 175.2 L386 175.9 L386.8 176.7 L387.6 177.4 L388.3 177.9 L388.9 178.5 L389.5 179 L390.1 179.5 L390.6 180 L391.1 180.5 L391.5 181 L391.8 181.4ZM387.7 178.3 L387.6 178.3 L387.5 178.4 L387.2 178.5 L386.6 178.7 L385.6 179.1 L384.1 179.6 L382.6 180.2 L381.2 181 L379.8 181.9 L378.5 182.9 L377.2 184.1 L376 185.2 L375 186.5 L374.1 187.8 L373.3 189.1 L372.7 190.4 L372.2 191.7 L371.8 193 L371.6 194.2 L371.5 195.4 L371.6 196.6 L371.9 197.8 L372.3 198.8 L372.5 199.5 L382.6 199.5 L382 198.8 L381.2 197.8 L380.4 196.7 L379.8 195.6 L379.6 194.6 L379.4 193.6 L379.5 192.6 L379.8 191.6 L380.2 190.5 L380.9 189.4 L381.7 188.4 L382.6 187.4 L383.6 186.5 L384.8 185.7 L385.9 185 L387 184.3 L387.9 183.6 L388.6 183.1 L389.4 182.6 L390.1 182.1 L390.9 181.7 L391.7 181.2 L392.4 180.9 L392.9 180.6ZM388.3 184.1 L388.3 184.1 L388.3 184.2 L388.4 184.4 L388.7 184.8 L389.1 185.6 L389.6 186.6 L390.3 187.8 L391.1 188.8 L392.2 189.7 L393.5 190.6 L394.9 191.4 L396.3 192.2 L397.9 192.8 L399.5 193.3 L401.2 193.7 L402.9 194 L404.5 194.2 L406.2 194.3 L407.8 194.3 L409.4 194.2 L410.9 193.9 L412.5 193.5 L413.8 193.1 L414.8 192.8 L415.6 185.2 L414.6 185.7 L413.3 186.5 L411.8 187.2 L410.4 187.8 L409.1 188.1 L407.8 188.3 L406.5 188.4 L405.2 188.4 L403.8 188.2 L402.5 187.8 L401.1 187.3 L399.9 186.8 L398.9 186.1 L397.9 185.4 L397.1 184.6 L396.3 183.9 L395.5 183.3 L394.9 182.7 L394.3 182.2 L393.8 181.7 L393.2 181.2 L392.7 180.7 L392.3 180.2 L392 179.8ZM396.1 182.9 L396.2 182.9 L396.3 182.9 L396.6 182.8 L397.2 182.5 L398.3 182.1 L399.7 181.6 L401.2 181 L402.6 180.2 L403.9 179.3 L405.2 178.3 L406.4 177.2 L407.5 176.1 L408.4 174.9 L409.1 173.7 L409.8 172.4 L410.3 171.2 L410.7 170.1 L411 168.9 L411.1 167.7 L411.1 166.7 L410.9 165.6 L410.5 164.6 L410.1 163.7 L409.8 163.1 L400.5 163.1 L401.1 163.7 L401.9 164.6 L402.7 165.6 L403.2 166.5 L403.5 167.4 L403.7 168.3 L403.7 169.2 L403.5 170.1 L403.1 171.1 L402.5 172.1 L401.8 173.1 L401 174 L400 174.8 L398.9 175.6 L397.8 176.3 L396.8 177 L395.9 177.6 L395.1 178.1 L394.4 178.6 L393.7 179.1 L392.9 179.5 L392.1 180 L391.4 180.3 L390.9 180.6Z"/><path id="pw7" d="M467.6 177.2 L467.6 177.1 L467.6 177 L467.4 176.8 L467.1 176.4 L466.6 175.7 L465.9 174.7 L465.1 173.7 L464.1 172.7 L462.9 171.9 L461.6 171 L460.1 170.2 L458.6 169.6 L457.1 169 L455.5 168.6 L453.8 168.2 L452.2 168 L450.6 167.8 L449.1 167.7 L447.5 167.7 L446.1 167.8 L444.6 168 L443.2 168.4 L441.9 168.8 L441.1 169 L440.7 176.1 L441.6 175.6 L442.8 174.9 L444.2 174.2 L445.6 173.6 L446.8 173.3 L448.1 173.1 L449.3 173 L450.6 173.1 L451.9 173.3 L453.3 173.6 L454.6 174.1 L455.8 174.6 L456.9 175.2 L458 175.9 L458.9 176.7 L459.8 177.4 L460.6 177.9 L461.3 178.5 L462 179 L462.6 179.5 L463.2 180 L463.8 180.5 L464.3 181 L464.6 181.4ZM460 178.3 L460 178.3 L459.9 178.4 L459.6 178.5 L459 178.7 L458 179.1 L456.7 179.6 L455.2 180.2 L453.9 181 L452.7 181.9 L451.5 182.9 L450.4 184.1 L449.5 185.2 L448.6 186.5 L448 187.8 L447.4 189.1 L447 190.4 L446.6 191.7 L446.5 192.9 L446.4 194.2 L446.5 195.4 L446.8 196.6 L447.3 197.8 L447.8 198.8 L448.2 199.5 L458.3 199.5 L457.6 198.8 L456.6 197.8 L455.6 196.7 L454.9 195.6 L454.5 194.6 L454.2 193.6 L454.1 192.6 L454.2 191.6 L454.5 190.5 L455 189.4 L455.6 188.4 L456.3 187.4 L457.2 186.5 L458.3 185.7 L459.3 185 L460.2 184.3 L461 183.6 L461.7 183.1 L462.4 182.6 L463.1 182.1 L463.8 181.7 L464.5 181.2 L465.2 180.9 L465.6 180.6ZM461.5 184.1 L461.6 184.1 L461.6 184.2 L461.7 184.4 L462 184.8 L462.6 185.6 L463.3 186.6 L464.1 187.8 L465.1 188.8 L466.3 189.7 L467.8 190.6 L469.3 191.4 L470.9 192.2 L472.5 192.8 L474.2 193.3 L476 193.7 L477.7 194 L479.4 194.2 L481.1 194.3 L482.7 194.3 L484.2 194.2 L485.7 193.9 L487.2 193.5 L488.5 193.1 L489.4 192.8 L489 185.2 L488.1 185.7 L486.9 186.5 L485.6 187.2 L484.2 187.8 L483 188.1 L481.7 188.3 L480.4 188.4 L479.1 188.4 L477.7 188.2 L476.3 187.8 L474.9 187.3 L473.6 186.8 L472.5 186.1 L471.4 185.4 L470.4 184.6 L469.5 183.9 L468.6 183.3 L467.9 182.7 L467.3 182.2 L466.6 181.7 L466 181.2 L465.4 180.7 L464.9 180.2 L464.6 179.8ZM469.2 182.9 L469.3 182.9 L469.4 182.9 L469.7 182.8 L470.2 182.5 L471.2 182.1 L472.5 181.6 L474 181 L475.3 180.2 L476.4 179.3 L477.5 178.3 L478.6 177.2 L479.4 176.1 L480.2 174.9 L480.7 173.7 L481.2 172.4 L481.5 171.2 L481.7 170.1 L481.8 168.9 L481.8 167.7 L481.6 166.7 L481.2 165.6 L480.7 164.6 L480.1 163.7 L479.8 163.1 L470.5 163.1 L471.1 163.7 L472 164.6 L473 165.6 L473.7 166.5 L474.2 167.4 L474.4 168.3 L474.6 169.2 L474.5 170.1 L474.3 171.1 L473.9 172.1 L473.3 173.1 L472.6 174 L471.8 174.8 L470.8 175.6 L469.8 176.3 L468.9 177 L468.1 177.6 L467.4 178.1 L466.8 178.6 L466.1 179.1 L465.4 179.5 L464.7 180 L464 180.3 L463.6 180.6Z"/><path id="pw8" d="M540.5 176.2 L540.4 176.1 L540.4 176.1 L540.2 175.9 L539.8 175.4 L539.2 174.7 L538.4 173.7 L537.4 172.7 L536.2 171.7 L534.9 170.9 L533.5 170.1 L531.9 169.3 L530.3 168.6 L528.7 168.1 L527 167.6 L525.3 167.3 L523.7 167 L522 166.8 L520.4 166.7 L518.9 166.7 L517.5 166.8 L516.1 167.1 L514.7 167.5 L513.5 167.8 L512.7 168.1 L513.4 175.1 L514.2 174.6 L515.4 173.9 L516.7 173.2 L517.9 172.7 L519.1 172.4 L520.3 172.1 L521.6 172.1 L522.8 172.1 L524.2 172.3 L525.6 172.6 L527 173.1 L528.3 173.6 L529.5 174.2 L530.6 174.9 L531.7 175.7 L532.7 176.4 L533.6 177 L534.4 177.5 L535.1 178 L535.8 178.5 L536.5 179 L537.2 179.5 L537.7 180 L538.1 180.4ZM533.1 177.3 L533 177.4 L532.9 177.4 L532.7 177.5 L532.1 177.7 L531.2 178.1 L529.9 178.6 L528.6 179.2 L527.4 180 L526.3 180.9 L525.3 181.9 L524.4 183.1 L523.6 184.2 L523 185.4 L522.5 186.7 L522.2 188 L521.9 189.3 L521.8 190.6 L521.9 191.9 L522 193.2 L522.3 194.3 L522.8 195.5 L523.5 196.7 L524.2 197.7 L524.6 198.4 L534.7 198.4 L533.9 197.7 L532.8 196.7 L531.6 195.6 L530.7 194.5 L530.1 193.5 L529.7 192.5 L529.4 191.5 L529.4 190.5 L529.5 189.5 L529.8 188.4 L530.3 187.3 L530.8 186.4 L531.6 185.5 L532.5 184.7 L533.4 183.9 L534.2 183.2 L534.9 182.6 L535.5 182.1 L536.1 181.6 L536.7 181.1 L537.4 180.7 L538 180.2 L538.6 179.9 L539 179.6ZM535.5 183.1 L535.5 183.1 L535.6 183.2 L535.7 183.4 L536.1 183.8 L536.8 184.6 L537.6 185.6 L538.6 186.7 L539.8 187.7 L541.2 188.7 L542.7 189.6 L544.4 190.4 L546.1 191.1 L547.8 191.7 L549.6 192.2 L551.4 192.6 L553.2 192.9 L554.9 193.1 L556.6 193.2 L558.2 193.2 L559.7 193.1 L561.2 192.8 L562.6 192.4 L563.8 192 L564.7 191.7 L563.1 184.2 L562.3 184.7 L561.2 185.4 L560 186.2 L558.7 186.7 L557.5 187.1 L556.3 187.3 L555 187.4 L553.7 187.3 L552.3 187.1 L550.8 186.8 L549.3 186.3 L548 185.8 L546.7 185.1 L545.5 184.3 L544.4 183.6 L543.4 182.9 L542.5 182.3 L541.7 181.7 L540.9 181.2 L540.2 180.7 L539.5 180.2 L538.8 179.7 L538.3 179.2 L537.9 178.8ZM543 181.9 L543 181.9 L543.1 181.8 L543.4 181.8 L543.9 181.5 L544.8 181.1 L546.1 180.6 L547.4 180 L548.6 179.2 L549.6 178.3 L550.5 177.3 L551.4 176.2 L552.1 175.1 L552.6 173.9 L553 172.7 L553.3 171.5 L553.4 170.3 L553.4 169.1 L553.3 167.9 L553.1 166.8 L552.8 165.7 L552.2 164.7 L551.5 163.7 L550.8 162.8 L550.3 162.2 L541.1 162.2 L541.8 162.8 L542.9 163.7 L544 164.6 L544.9 165.6 L545.4 166.5 L545.9 167.3 L546.1 168.3 L546.2 169.2 L546.2 170.1 L545.9 171.1 L545.5 172.1 L544.9 173 L544.3 173.9 L543.4 174.6 L542.5 175.3 L541.7 176 L541 176.6 L540.4 177.1 L539.9 177.6 L539.3 178.1 L538.6 178.5 L538 179 L537.4 179.3 L537 179.6Z"/></defs>
<g fill="#8878a8" opacity="0.35" filter="url(#b1)"><use href="#pw0" x="1.2" y="2.9"/><use href="#pw1" x="1.2" y="2.9"/><use href="#pw2" x="1.2" y="2.9"/><use href="#pw3" x="1.2" y="3.2"/><use href="#pw4" x="1.2" y="3.2"/><use href="#pw5" x="1.2" y="3.2"/><use href="#pw6" x="1.2" y="3.5"/><use href="#pw7" x="1.2" y="3.5"/><use href="#pw8" x="1.2" y="3.5"/></g>
<g fill="#3e2c00" stroke="#3e2c00" stroke-width="0.5"><use href="#pw0" y="1.5"/><use href="#pw1" y="1.5"/><use href="#pw2" y="1.5"/><use href="#pw3" y="1.8"/><use href="#pw4" y="1.8"/><use href="#pw5" y="1.8"/><use href="#pw6" y="2.1"/><use href="#pw7" y="2.1"/><use href="#pw8" y="2.1"/></g>
<g fill="#dcaa1e" stroke="#dcaa1e" stroke-width="0.3"><use href="#pw0"/><use href="#pw1"/><use href="#pw2"/><use href="#pw3"/><use href="#pw4"/><use href="#pw5"/><use href="#pw6"/><use href="#pw7"/><use href="#pw8"/></g>
<g><path d="M751.7 80C751.5 81.1 751.2 84.4 750.2 86.5C749.2 88.5 747.6 90.5 745.6 92.3C743.5 94.2 740.7 95.9 737.9 97.5C735.1 99.1 730.2 101.3 728.7 102" fill="none" stroke="#c98408" stroke-width="4" opacity="0.55" filter="url(#b1)"/>
<path d="M704.9 80C704.9 79 704.1 75.8 704.9 74.1C705.6 72.5 707.5 71 709.5 70.3C711.4 69.6 715.2 70 716.4 69.9" fill="none" stroke="#ffd060" stroke-width="3.5" opacity="0.7" filter="url(#b1)"/>
<path d="M707.9 86.5C708.7 87.1 710.7 89.6 712.5 90.4C714.3 91.2 716.8 91.6 718.7 91.3C720.6 91.1 723.2 89.4 724.1 89.1" fill="none" stroke="#c98408" stroke-width="3" opacity="0.5" filter="url(#b1)"/>
<path d="M706.4 74.1C706.1 73.6 707.9 71.5 709.1 71C710.3 70.6 712 70.9 713.7 71.4C715.4 72 717.5 73.5 719.1 74.5C720.6 75.5 721.2 76.6 722.9 77.4C724.6 78.2 729.6 79.4 729.4 79.5C729.3 79.6 724.1 78.7 721.8 78C719.5 77.4 717.4 76.2 715.6 75.6C713.8 74.9 712.5 74.4 711 74.1C709.5 73.9 706.7 74.7 706.4 74.1Z" fill="#5e3c00"/>
<path d="M706.8 75.9C707.8 75.6 709.9 77.3 711.8 77.9C713.6 78.4 716.1 79 717.9 79.4C719.7 79.9 720.6 80.5 722.5 80.5C724.5 80.5 728.8 78.7 729.6 79.4C730.4 80.1 728.4 83 727.1 84.5C725.8 86 723.6 87.5 721.8 88.4C720 89.3 718.2 89.8 716.4 89.8C714.6 89.7 712.5 89.1 711 88.1C709.5 87.1 708 85.2 707.2 83.9C706.3 82.5 705.8 81.2 705.8 79.9C705.7 78.6 705.8 76.3 706.8 75.9Z" fill="#fff"/>
<path d="M705.8 80C705.8 79.3 705.3 77.4 705.6 76.1C706 74.7 706.7 72.8 707.9 71.9C709.1 71 711.1 70.6 712.9 70.8C714.7 71 717.7 72.8 718.7 73.2" fill="none" stroke="#ffc23c" stroke-width="1.1"/>
<path d="M722.9 71.7 L726.1 70.5 L725.7 74.5 L721.8 73.2Z" fill="#fff"/>
<path d="M737.9 73.5C738.9 73.9 742.3 75.1 744 76.1C745.8 77.1 747.6 78 748.7 79.3C749.7 80.6 750.6 82.3 750.3 83.9C750.1 85.5 748.7 87.3 747.1 89.1C745.6 90.8 743.3 92.6 741 94.3C738.7 95.9 735.7 97.7 733.3 98.8C730.9 99.9 727.8 100.5 726.8 100.9Z" fill="#fff"/>
<path d="M738.3 73.4C739.2 73.8 742.3 74.9 744 75.8C745.8 76.8 747.9 77.9 749 79.2C750.1 80.5 750.4 83 750.7 83.7" fill="none" stroke="#d48c10" stroke-width="0.9"/>
<path d="M732.7 72.3 L737.4 73.5 L726.2 100.4 L723.5 97.7Z" fill="#f2a716"/>
<path d="M737.4 73.6 L726.1 100.4" fill="none" stroke="#5e3c00" stroke-width="1"/>
<path d="M732.8 72.6 L723.8 97.5" fill="none" stroke="#ffc23c" stroke-width="0.8"/>
<path d="M733.3 70.6 L739.6 72.6 L737.3 73.4 L733.1 72.3Z" fill="#5e3c00"/>
<path d="M718.8 73C719.4 72.3 720.8 70 722.1 69C723.5 67.9 725 67.2 727.1 66.5C729.3 65.8 732.3 65 734.8 64.8C737.4 64.6 739.7 64.8 742.5 65.4C745.3 66 748.9 67.2 751.7 68.3C754.6 69.4 758.3 71.3 759.6 71.9" fill="none" stroke="#c07c08" stroke-width="3.2" opacity="0.6" filter="url(#b05)" transform="translate(0.4 1.6)"/>
<path d="M718.8 73C719.4 72.3 720.8 70 722.1 69C723.5 67.9 725 67.2 727.1 66.5C729.3 65.8 732.3 65 734.8 64.8C737.4 64.6 739.7 64.8 742.5 65.4C745.3 66 748.9 67.2 751.7 68.3C754.6 69.4 758.3 71.3 759.6 71.9" fill="none" stroke="#f8b42a" stroke-width="2.4" stroke-linecap="round"/>
<path d="M718.8 73C719.4 72.3 720.8 70 722.1 69C723.5 67.9 725 67.2 727.1 66.5C729.3 65.8 732.3 65 734.8 64.8C737.4 64.6 739.7 64.8 742.5 65.4C745.3 66 748.9 67.2 751.7 68.3C754.6 69.4 758.3 71.3 759.6 71.9" fill="none" stroke="#ffd874" stroke-width="0.9" stroke-linecap="round" transform="translate(0 -0.5)"/>
<path d="M707.9 71.6C708.8 71.4 711.1 70.3 712.9 70.6C714.7 70.8 717 72.1 718.7 73C720.4 73.9 721 75 722.9 76C724.8 76.9 729 78.3 730.2 78.8" fill="none" stroke="#f9b830" stroke-width="2.2" stroke-linecap="round"/></g>
<g><path d="M828.1 82.1C827.9 83.3 828.1 87 827 89.2C825.9 91.5 823.6 93.8 821.4 95.7C819.2 97.7 816 99.6 813.9 100.9C811.8 102.2 809.5 103.1 808.7 103.5" fill="none" stroke="#c98408" stroke-width="4" opacity="0.55" filter="url(#b1)"/>
<path d="M779.5 85.3C780.7 86.1 784.3 88.5 787 89.9C789.6 91.2 792.7 92.8 795.2 93.5C797.7 94.2 800.8 94 801.9 94.1" fill="none" stroke="#c98408" stroke-width="3" opacity="0.5" filter="url(#b1)"/>
<path d="M776.5 82.1C777.9 81.3 782.3 79.3 784.7 77.6C787.1 75.8 788.7 73.2 790.7 71.7C792.7 70.2 795.7 69 796.7 68.5" fill="none" stroke="#ffd060" stroke-width="3" opacity="0.7" filter="url(#b1)"/>
<path d="M788.5 76.4C788.7 75.7 790.2 73.5 791.4 72.4C792.7 71.3 794.8 70.3 795.9 69.8C797.1 69.3 797.8 68.6 798.3 69.4C798.8 70.2 799.5 73.7 798.9 74.7C798.4 75.7 796.7 75.1 795.2 75.4C793.7 75.7 791.2 76.5 790.1 76.7C789 76.8 788.2 77.1 788.5 76.4Z" fill="#8a5c06"/>
<path d="M777.8 82.9C778.6 82 780.7 79.1 782.5 77.7C784.2 76.2 786 74.9 788.5 74.3C790.9 73.6 794.6 73.3 797.4 73.8C800.3 74.2 803.3 76.2 805.7 77C808 77.8 810.5 78.3 811.4 78.5C810.7 78.5 809.1 78.2 807.2 78.2C805.2 78.2 802.2 78.3 799.7 78.5C797.2 78.8 794.7 79.4 792.2 79.8C789.7 80.3 787.1 80.6 784.7 81.1C782.3 81.7 779.1 82.8 778 83.1Z" fill="#5e3c00"/>
<path d="M778 83.1C779.1 82.8 782.3 81.7 784.7 81.1C787.1 80.6 789.7 80.3 792.2 79.8C794.7 79.4 797.2 78.8 799.7 78.5C802.2 78.3 805.2 78.2 807.2 78.2C809.1 78.2 810.7 78.5 811.4 78.5C811.3 79.1 811.4 80.8 810.9 82.1C810.4 83.5 809.5 85.2 808.7 86.6C807.8 88.1 806.2 90 805.7 90.7C804.8 91 802.3 92.4 800.4 92.6C798.6 92.7 796.7 92.3 794.4 91.5C792.2 90.7 789.2 89.1 787 87.9C784.7 86.8 782.5 85.5 781 84.7C779.5 83.9 778.5 83.3 778 83.1Z" fill="#fff"/>
<path d="M777.8 82.9C778.6 82 780.7 79.1 782.5 77.7C784.2 76.2 786 74.9 788.5 74.3C790.9 73.6 794.6 73.3 797.4 73.8C800.3 74.2 803.3 76.2 805.7 77C808 77.8 810.5 78.3 811.4 78.5" fill="none" stroke="#ffc23c" stroke-width="1"/>
<path d="M801.9 70.5 L805.4 69.4 L803.4 72.4Z" fill="#fff"/>
<path d="M815.4 72.7C816.1 73.1 818.4 73.9 819.9 75C821.4 76 823.2 77.5 824.4 78.9C825.5 80.3 826.6 81.8 826.7 83.4C826.8 85 826.3 86.8 825.1 88.6C824 90.4 822 92.6 819.9 94.4C817.8 96.3 814.5 98.5 812.4 99.6C810.3 100.8 808 101.1 807.2 101.4L808.7 97.7C809.4 96.4 811.8 92.5 813.2 89.9C814.5 87.3 815.9 84.5 816.5 82.1C817.2 79.7 816.9 76.7 817 75.6Z" fill="#fff"/>
<path d="M810.9 71.5C812.2 71.8 816 72.4 818.4 73.5C820.8 74.7 823.7 77 825.1 78.6C826.6 80.2 826.8 82.5 827.1 83.3" fill="none" stroke="#5e3c00" stroke-width="1.2"/>
<path d="M811.5 75.6C811.3 76.7 811 79.7 810.4 82.1C809.8 84.5 808.9 87.1 808.1 89.9C807.2 92.7 805.7 97.6 805.2 99.1L807.2 101C808 99.2 810.9 93.3 812.4 89.9C813.9 86.5 815.6 83.4 816.1 80.8C816.7 78.2 815.6 75.4 815.5 74.3Z" fill="#f2a716"/>
<path d="M811.5 75.6C811.3 76.7 811 79.7 810.4 82.1C809.8 84.5 808.9 87.1 808.1 89.9C807.2 92.7 805.7 97.6 805.2 99.1" fill="none" stroke="#7a5000" stroke-width="2.2" transform="translate(0.7 0)"/>
<path d="M811.5 75.6C811.3 76.7 811 79.7 810.4 82.1C809.8 84.5 808.9 87.1 808.1 89.9C807.2 92.7 805.7 97.6 805.2 99.1" fill="none" stroke="#3a2400" stroke-width="0.9"/>
<path d="M807.2 101C808 99.2 810.9 93.3 812.4 89.9C813.9 86.5 815.6 83.4 816.1 80.8C816.7 78.2 815.6 75.4 815.5 74.3" fill="none" stroke="#ffc23c" stroke-width="0.8"/>
<path d="M797.6 62.9 L801 63.3 L801.7 74.5 L798.3 73.8Z" fill="#f7b32a" stroke="#d48c10" stroke-width="0.5"/>
<path d="M797.6 63 L798.3 73.7" fill="none" stroke="#a86a04" stroke-width="0.9"/>
<path d="M799.3 64.3C800.6 64.7 804.6 66.4 807.2 66.7C809.7 66.9 812.2 65.7 814.7 65.9C817.1 66.1 819.6 66.6 822.1 68C824.6 69.3 827.1 71.4 829.6 73.8C832.1 76.2 835.9 80.8 837.1 82.2" fill="none" stroke="#b87608" stroke-width="3.4" opacity="0.65" filter="url(#b05)" transform="translate(-0.6 1.8)"/>
<path d="M799.3 64.3C800.6 64.7 804.6 66.4 807.2 66.7C809.7 66.9 812.2 65.7 814.7 65.9C817.1 66.1 819.6 66.6 822.1 68C824.6 69.3 827.1 71.4 829.6 73.8C832.1 76.2 835.9 80.8 837.1 82.2" fill="none" stroke="#f8b42a" stroke-width="2.8" stroke-linecap="round"/>
<path d="M799.3 64.3C800.6 64.7 804.6 66.4 807.2 66.7C809.7 66.9 812.2 65.7 814.7 65.9C817.1 66.1 819.6 66.6 822.1 68C824.6 69.3 827.1 71.4 829.6 73.8C832.1 76.2 835.9 80.8 837.1 82.2" fill="none" stroke="#ffd874" stroke-width="0.9" stroke-linecap="round" transform="translate(0.3 -0.6)"/></g>
<g><path d="M914.9 87.1C914.6 88.3 914.7 92.1 912.8 94.3C911 96.5 906.9 98.9 903.8 100.2C900.6 101.5 895.6 101.7 894 102" fill="none" stroke="#c98408" stroke-width="4" opacity="0.5" filter="url(#b1)"/>
<path d="M863.9 93.1C865.7 93.4 871 94.5 874.4 94.9C877.8 95.3 881.6 95.5 884.2 95.5C886.8 95.4 888.9 94.7 889.8 94.6" fill="none" stroke="#c98408" stroke-width="3" opacity="0.5" filter="url(#b1)"/>
<path d="M859.1 75.7C859.8 75 861.4 72.5 863.2 71.5C865.1 70.5 868.1 69.8 870.2 69.4C872.3 69.1 874.9 69.4 875.8 69.4" fill="none" stroke="#ffd060" stroke-width="3" opacity="0.7" filter="url(#b1)"/>
<path d="M887.7 66.8C888.7 66.4 891.9 64.1 894 64C896.1 63.9 898.2 64.7 900.3 66.1C902.4 67.6 904.8 70.2 906.6 72.7C908.3 75.2 909.6 78.1 910.7 81.1C911.9 84.1 913.2 89.2 913.7 90.8L913.3 90.1C912.8 89.1 911.6 86.2 910.4 84.1C909.2 82 907.8 79.6 906.2 77.5C904.6 75.4 903 73.2 901 71.6C898.9 70 896.1 68.5 894 68C891.9 67.6 889.3 68.7 888.4 68.9Z" fill="#a86a04" opacity="0.7" filter="url(#b05)" transform="translate(-1.2 1.6)"/>
<path d="M887.7 66.8C888.7 66.4 891.9 64.1 894 64C896.1 63.9 898.2 64.7 900.3 66.1C902.4 67.6 904.8 70.2 906.6 72.7C908.3 75.2 909.6 78.1 910.7 81.1C911.9 84.1 913.2 89.2 913.7 90.8L913.3 90.1C912.8 89.1 911.6 86.2 910.4 84.1C909.2 82 907.8 79.6 906.2 77.5C904.6 75.4 903 73.2 901 71.6C898.9 70 896.1 68.5 894 68C891.9 67.6 889.3 68.7 888.4 68.9Z" fill="#f4ae22"/>
<path d="M887.7 66.8C888.7 66.4 891.9 64.1 894 64C896.1 63.9 898.2 64.7 900.3 66.1C902.4 67.6 904.8 70.2 906.6 72.7C908.3 75.2 909.6 78.1 910.7 81.1C911.9 84.1 913.2 89.2 913.7 90.8" fill="none" stroke="#ffd874" stroke-width="0.9"/>
<path d="M913.3 90.1C912.8 89.1 911.6 86.2 910.4 84.1C909.2 82 907.8 79.6 906.2 77.5C904.6 75.4 903 73.2 901 71.6C898.9 70 896.1 68.5 894 68C891.9 67.6 889.3 68.7 888.4 68.9" fill="none" stroke="#8a5600" stroke-width="2.4" transform="translate(0.5 -0.4)"/>
<path d="M860.6 74C861.3 73.7 863.3 72.5 864.6 72C866 71.5 867.1 71.1 868.8 70.9C870.6 70.7 873.4 70.4 875.1 70.9C876.9 71.4 877.9 72.8 879.3 73.9C880.7 75 882.8 77 883.5 77.6C882.3 78.1 878.3 79 875.8 79.1C873.3 79.2 871.4 78.8 868.8 78.3C866.3 77.9 861.8 76.8 860.4 76.5Z" fill="#5e3c00"/>
<path d="M860.4 76.5C861.8 76.8 866.3 77.9 868.8 78.3C871.4 78.8 873.3 79.2 875.8 79.1C878.3 79 882.3 78.1 883.6 77.8C882.7 78.4 879.8 80 877.9 81.1C876 82.1 874 83.4 872.3 84.1C870.7 84.8 868.8 85.1 868.1 85.3C867.4 84.7 865.1 82.9 863.9 81.7C862.8 80.5 861.7 79.1 861.1 78.1C860.6 77.1 860.6 76.1 860.4 75.7Z" fill="#fff"/>
<path d="M860.6 74C861.3 73.7 863.3 72.5 864.6 72C866 71.5 867.1 71.1 868.8 70.9C870.6 70.7 873.4 70.4 875.1 70.9C876.9 71.4 877.9 72.8 879.3 73.9C880.7 75 882.8 77 883.5 77.6" fill="none" stroke="#ffc23c" stroke-width="1"/>
<path d="M865.3 92C867.1 91 872.3 87.8 875.8 85.9C879.3 84 883.1 81.9 886.3 80.5C889.5 79.1 893.4 78 894.8 77.5C895.1 78.4 896.4 80.9 896.2 82.9C896.1 84.9 895.1 87.7 894 89.5C892.9 91.2 890.5 92.6 889.8 93.2C888.6 93.3 885.4 94 882.8 94C880.2 94.1 877.3 93.8 874.4 93.4C871.5 93.1 866.9 92.2 865.3 92Z" fill="#fff"/>
<path d="M863.8 90.8 L862.7 88.6 L887.7 75 L892.2 76.4 L875.8 85.9Z" fill="#f2a716"/>
<path d="M863.8 90.8 L875.8 85.2 L886.3 79.9 L894.1 76.8 L895.2 78.2 L886.3 81.6 L875.8 86.9 L865.5 92.1Z" fill="#6a4400"/>
<path d="M864.1 90.9C866 90 872.1 87.1 875.8 85.3C879.5 83.5 883.3 81.4 886.3 80C889.3 78.6 892.7 77.4 894 76.9" fill="none" stroke="#3a2400" stroke-width="0.9"/>
<path d="M900.3 74.5C901.1 75.2 904.1 77.1 905.2 78.7C906.2 80.3 906.9 82.2 906.6 84.1C906.4 86 905.2 88.1 903.8 90.1C902.4 92.1 900 94.4 898.2 96.1C896.3 97.7 893.5 99.4 892.6 100.1L896.8 94.3C897.4 93.1 899.5 89.3 900.3 87.1C901 84.9 901.4 83.2 901.4 81.1C901.4 79 900.5 75.6 900.3 74.5Z" fill="#fff"/>
<path d="M900.3 74.3C901.1 75 904.2 76.8 905.3 78.4C906.4 80.1 906.7 83 907 84" fill="none" stroke="#5e3c00" stroke-width="1.1"/>
<path d="M896.1 75.7C896.2 76.9 897 80.2 896.8 82.9C896.5 85.6 895.7 89.1 894.7 91.9C893.6 94.6 891.2 97.9 890.5 99.2L892.6 100.4C893.5 98.9 896.8 94.8 898.2 91.9C899.6 88.9 900.7 85.8 901 82.9C901.2 80 899.9 75.9 899.7 74.5Z" fill="#f2a716"/>
<path d="M896.1 75.7C896.2 76.9 897 80.2 896.8 82.9C896.5 85.6 895.7 89.1 894.7 91.9C893.6 94.6 891.2 97.9 890.5 99.2" fill="none" stroke="#7a5000" stroke-width="2.2" transform="translate(0.6 0)"/>
<path d="M896.1 75.7C896.2 76.9 897 80.2 896.8 82.9C896.5 85.6 895.7 89.1 894.7 91.9C893.6 94.6 891.2 97.9 890.5 99.2" fill="none" stroke="#3a2400" stroke-width="0.9"/>
<path d="M892.6 100.4C893.5 98.9 896.8 94.8 898.2 91.9C899.6 88.9 900.7 85.8 901 82.9C901.2 80 899.9 75.9 899.7 74.5" fill="none" stroke="#ffc23c" stroke-width="0.8"/>
<path d="M882.8 71.5C883 70.5 885.8 69.4 887.7 69.7C889.6 70 893.2 72.1 894 73.3C894.8 74.4 893.9 76.2 892.6 76.6C891.3 77 887.9 76.5 886.3 75.7C884.7 74.8 882.6 72.5 882.8 71.5Z" fill="#f6b028"/>
<path d="M877.1 62.5 L879 62.2 L880.8 71.6 L878.6 71.6Z" fill="#f7b32a" stroke="#9c6200" stroke-width="0.6"/>
<path d="M875.1 69.8 L878.5 70.1 L878.2 71.6 L875.5 71.3Z" fill="#fff"/></g>
<g><path d="M745.2 125.6C744.9 126.9 744.6 131 743.4 133.6C742.2 136.1 740.5 138.5 738.1 140.8C735.7 143 732.5 145.1 729.2 147.1C725.9 149.1 720.3 151.8 718.5 152.7" fill="none" stroke="#c98408" stroke-width="4" opacity="0.55" filter="url(#b1)"/>
<path d="M691 125.6C691 124.4 690.1 120.4 691 118.4C691.9 116.4 694.1 114.5 696.3 113.6C698.6 112.7 703 113.3 704.3 113.2" fill="none" stroke="#ffd060" stroke-width="3.5" opacity="0.7" filter="url(#b1)"/>
<path d="M694.6 133.6C695.4 134.4 697.8 137.4 699.9 138.4C702 139.4 704.8 139.8 707 139.6C709.2 139.3 712.2 137.2 713.2 136.8" fill="none" stroke="#c98408" stroke-width="3" opacity="0.5" filter="url(#b1)"/>
<path d="M692.8 118.4C692.4 117.8 694.5 115.1 695.9 114.6C697.3 114 699.3 114.3 701.2 115C703.1 115.8 705.7 117.6 707.4 118.8C709.2 120 709.9 121.4 711.9 122.4C713.9 123.4 719.7 124.8 719.4 124.9C719.2 125.1 713.2 124 710.5 123.2C707.9 122.4 705.5 121 703.4 120.2C701.4 119.4 699.9 118.7 698.1 118.4C696.3 118.1 693.2 119 692.8 118.4Z" fill="#5e3c00"/>
<path d="M693.2 119.6C694.4 118.9 696.9 120.3 699 120.9C701.1 121.4 704 122.1 706.1 122.8C708.2 123.4 709.2 124.4 711.4 124.7C713.7 125.1 718.7 123.8 719.6 124.9C720.5 125.9 718.3 129.3 716.8 131.2C715.3 133 712.6 134.9 710.5 136C708.5 137 706.4 137.7 704.3 137.6C702.3 137.6 699.9 136.8 698.1 135.6C696.3 134.4 694.7 132.2 693.7 130.4C692.7 128.6 692.1 126.6 692.1 124.8C692 123 692.1 120.2 693.2 119.6Z" fill="#fff"/>
<path d="M692.1 125.6C692 124.8 691.5 122.5 691.9 120.8C692.3 119.1 693.2 116.7 694.6 115.6C696 114.5 698.3 114 700.3 114.2C702.4 114.5 705.9 116.7 707 117.2" fill="none" stroke="#ffc23c" stroke-width="1.1"/>
<path d="M711.9 115.4 L715.5 113.9 L715.1 118.9 L710.5 117.3Z" fill="#fff"/>
<path d="M729.2 117.6C730.4 118.1 734.2 119.6 736.3 120.8C738.4 122 740.4 123.2 741.6 124.8C742.8 126.4 743.9 128.4 743.6 130.4C743.3 132.4 741.7 134.6 739.9 136.8C738.1 138.9 735.4 141.2 732.8 143.1C730.1 145.1 726.6 147.4 723.9 148.7C721.1 150.1 717.6 150.9 716.3 151.3Z" fill="#fff"/>
<path d="M729.6 117.4C730.8 117.9 734.2 119.3 736.3 120.5C738.4 121.7 740.7 123 742 124.6C743.3 126.2 743.7 129.3 744 130.2" fill="none" stroke="#d48c10" stroke-width="0.9"/>
<path d="M723.2 116.2 L728.7 117.6 L715.7 150.7 L712.5 147.4Z" fill="#f2a716"/>
<path d="M728.6 117.8 L715.6 150.7" fill="none" stroke="#5e3c00" stroke-width="1"/>
<path d="M723.3 116.5 L712.9 147.1" fill="none" stroke="#ffc23c" stroke-width="0.8"/>
<path d="M723.9 114.1 L731.2 116.5 L728.5 117.5 L723.7 116.2Z" fill="#5e3c00"/>
<path d="M707.2 117C707.8 116.1 709.4 113.3 711 112C712.6 110.7 714.3 109.8 716.8 109C719.2 108.1 722.7 107.1 725.6 106.9C728.6 106.7 731.3 106.9 734.5 107.6C737.8 108.3 741.9 109.9 745.2 111.2C748.5 112.6 752.7 114.9 754.2 115.7" fill="none" stroke="#c07c08" stroke-width="3.2" opacity="0.6" filter="url(#b05)" transform="translate(0.4 1.6)"/>
<path d="M707.2 117C707.8 116.1 709.4 113.3 711 112C712.6 110.7 714.3 109.8 716.8 109C719.2 108.1 722.7 107.1 725.6 106.9C728.6 106.7 731.3 106.9 734.5 107.6C737.8 108.3 741.9 109.9 745.2 111.2C748.5 112.6 752.7 114.9 754.2 115.7" fill="none" stroke="#f8b42a" stroke-width="2.4" stroke-linecap="round"/>
<path d="M707.2 117C707.8 116.1 709.4 113.3 711 112C712.6 110.7 714.3 109.8 716.8 109C719.2 108.1 722.7 107.1 725.6 106.9C728.6 106.7 731.3 106.9 734.5 107.6C737.8 108.3 741.9 109.9 745.2 111.2C748.5 112.6 752.7 114.9 754.2 115.7" fill="none" stroke="#ffd874" stroke-width="0.9" stroke-linecap="round" transform="translate(0 -0.5)"/>
<path d="M694.6 115.2C695.5 115 698.3 113.7 700.3 114C702.4 114.3 705.1 115.9 707 117C708.9 118.1 709.7 119.4 711.9 120.6C714.1 121.8 718.9 123.6 720.3 124.1" fill="none" stroke="#f9b830" stroke-width="2.2" stroke-linecap="round"/></g>
<g><path d="M832.4 128.7C832.2 130.2 832.4 134.5 831.1 137.2C829.9 139.9 827.3 142.6 824.8 144.9C822.3 147.2 818.7 149.5 816.3 151C813.9 152.6 811.4 153.6 810.4 154.1" fill="none" stroke="#c98408" stroke-width="4" opacity="0.55" filter="url(#b1)"/>
<path d="M777.3 132.6C778.7 133.5 782.8 136.4 785.8 138C788.7 139.6 792.3 141.4 795.1 142.2C797.9 143 801.5 142.8 802.7 143" fill="none" stroke="#c98408" stroke-width="3" opacity="0.5" filter="url(#b1)"/>
<path d="M773.9 128.7C775.4 127.8 780.5 125.4 783.2 123.4C785.9 121.3 787.7 118.2 790 116.4C792.3 114.7 795.7 113.2 796.8 112.6" fill="none" stroke="#ffd060" stroke-width="3" opacity="0.7" filter="url(#b1)"/>
<path d="M787.5 122C787.7 121.1 789.4 118.5 790.9 117.2C792.3 115.9 794.6 114.7 795.9 114.1C797.2 113.6 798.1 112.7 798.7 113.7C799.2 114.7 799.9 118.8 799.3 120C798.7 121.2 796.8 120.4 795.1 120.8C793.4 121.2 790.6 122.1 789.3 122.3C788.1 122.5 787.2 122.8 787.5 122Z" fill="#8a5c06"/>
<path d="M775.4 129.7C776.3 128.8 778.7 125.8 780.7 124.3C782.7 122.8 784.6 121.5 787.5 120.7C790.3 120 794.4 119.4 797.6 119.8C800.9 120.2 804.3 122.2 807 123C809.6 123.8 812.4 124.3 813.5 124.5C812.7 124.5 810.9 124.1 808.7 124.1C806.4 124.1 803 124.2 800.2 124.5C797.4 124.8 794.5 125.5 791.7 126.1C788.9 126.6 785.9 126.9 783.2 127.6C780.5 128.2 776.9 129.5 775.6 129.9Z" fill="#5e3c00"/>
<path d="M775.6 129.9C776.9 129.5 780.5 128.2 783.2 127.6C785.9 126.9 788.9 126.6 791.7 126.1C794.5 125.5 797.4 124.8 800.2 124.5C803 124.2 806.4 124.1 808.7 124.1C810.9 124.1 812.7 124.5 813.5 124.5C813.4 125.2 813.4 127.1 812.9 128.7C812.4 130.3 811.4 132.4 810.4 134.1C809.4 135.8 807.5 138.1 807 138.9C806 139.3 803.2 140.9 801 141.1C798.9 141.3 796.8 140.8 794.2 139.9C791.7 139 788.3 137 785.8 135.7C783.2 134.3 780.7 132.8 779 131.8C777.3 130.9 776.2 130.2 775.6 129.9Z" fill="#fff"/>
<path d="M775.4 129.7C776.3 128.8 778.7 125.8 780.7 124.3C782.7 122.8 784.6 121.5 787.5 120.7C790.3 120 794.4 119.4 797.6 119.8C800.9 120.2 804.3 122.2 807 123C809.6 123.8 812.4 124.3 813.5 124.5" fill="none" stroke="#ffc23c" stroke-width="1"/>
<path d="M802.7 115 L806.6 113.7 L804.4 117.3Z" fill="#fff"/>
<path d="M818 117.6C818.8 118 821.4 119.1 823.1 120.3C824.8 121.5 826.9 123.2 828.2 124.9C829.5 126.6 830.7 128.4 830.8 130.3C831 132.2 830.3 134.3 829 136.4C827.7 138.6 825.5 141.2 823.1 143.3C820.7 145.5 817 148.1 814.6 149.5C812.2 150.9 809.7 151.2 808.7 151.6L810.4 147.2C811.2 145.6 814 141 815.5 138C816.9 134.9 818.6 131.6 819.3 128.7C820 125.9 819.7 122.3 819.8 121.1Z" fill="#fff"/>
<path d="M812.9 116.1C814.3 116.5 818.7 117.2 821.4 118.6C824.1 120 827.4 122.7 829 124.6C830.7 126.5 830.9 129.2 831.2 130.1" fill="none" stroke="#5e3c00" stroke-width="1.2"/>
<path d="M813.6 121.1C813.4 122.3 813 125.9 812.3 128.7C811.7 131.6 810.7 134.6 809.7 138C808.7 141.3 807 147.1 806.5 148.9L808.7 151.2C809.7 149 812.9 142 814.6 138C816.3 134 818.3 130.3 818.8 127.2C819.4 124.1 818.3 120.8 818.2 119.5Z" fill="#f2a716"/>
<path d="M813.6 121.1C813.4 122.3 813 125.9 812.3 128.7C811.7 131.6 810.7 134.6 809.7 138C808.7 141.3 807 147.1 806.5 148.9" fill="none" stroke="#7a5000" stroke-width="2.2" transform="translate(0.7 0)"/>
<path d="M813.6 121.1C813.4 122.3 813 125.9 812.3 128.7C811.7 131.6 810.7 134.6 809.7 138C808.7 141.3 807 147.1 806.5 148.9" fill="none" stroke="#3a2400" stroke-width="0.9"/>
<path d="M808.7 151.2C809.7 149 812.9 142 814.6 138C816.3 134 818.3 130.3 818.8 127.2C819.4 124.1 818.3 120.8 818.2 119.5" fill="none" stroke="#ffc23c" stroke-width="0.8"/>
<path d="M797.8 106 L801.7 106.5 L802.5 119.7 L798.7 118.9Z" fill="#f7b32a" stroke="#d48c10" stroke-width="0.5"/>
<path d="M797.8 106.1 L798.7 118.8" fill="none" stroke="#a86a04" stroke-width="0.9"/>
<path d="M799.8 107.6C801.2 108.1 805.8 110.1 808.7 110.5C811.6 110.8 814.3 109.3 817.2 109.5C820 109.8 822.8 110.4 825.6 112C828.5 113.6 831.3 116.1 834.1 118.9C836.9 121.7 841.2 127.2 842.6 128.9" fill="none" stroke="#b87608" stroke-width="3.4" opacity="0.65" filter="url(#b05)" transform="translate(-0.6 1.8)"/>
<path d="M799.8 107.6C801.2 108.1 805.8 110.1 808.7 110.5C811.6 110.8 814.3 109.3 817.2 109.5C820 109.8 822.8 110.4 825.6 112C828.5 113.6 831.3 116.1 834.1 118.9C836.9 121.7 841.2 127.2 842.6 128.9" fill="none" stroke="#f8b42a" stroke-width="2.8" stroke-linecap="round"/>
<path d="M799.8 107.6C801.2 108.1 805.8 110.1 808.7 110.5C811.6 110.8 814.3 109.3 817.2 109.5C820 109.8 822.8 110.4 825.6 112C828.5 113.6 831.3 116.1 834.1 118.9C836.9 121.7 841.2 127.2 842.6 128.9" fill="none" stroke="#ffd874" stroke-width="0.9" stroke-linecap="round" transform="translate(0.3 -0.6)"/></g>
<g><path d="M929.8 134.6C929.4 136.1 929.5 140.9 927.3 143.7C925.2 146.5 920.4 149.7 916.7 151.3C913 153 907.1 153.2 905.2 153.6" fill="none" stroke="#c98408" stroke-width="4" opacity="0.5" filter="url(#b1)"/>
<path d="M870 142.2C872.1 142.6 878.4 144 882.3 144.5C886.3 145 890.8 145.3 893.8 145.2C896.8 145.2 899.2 144.3 900.3 144.1" fill="none" stroke="#c98408" stroke-width="3" opacity="0.5" filter="url(#b1)"/>
<path d="M864.3 120.2C865.1 119.3 867 116.2 869.2 114.9C871.4 113.6 875 112.7 877.4 112.2C879.9 111.8 882.9 112.2 884 112.2" fill="none" stroke="#ffd060" stroke-width="3" opacity="0.7" filter="url(#b1)"/>
<path d="M897.9 109C899.1 108.4 902.8 105.6 905.2 105.4C907.7 105.3 910.1 106.2 912.6 108.1C915.1 109.9 917.9 113.3 920 116.4C922 119.6 923.5 123.2 924.9 127C926.3 130.9 927.7 137.3 928.3 139.3L927.8 138.4C927.3 137.1 925.8 133.5 924.5 130.8C923.1 128.2 921.4 125.1 919.6 122.5C917.7 119.9 915.8 117 913.4 115.1C911 113.1 907.7 111.1 905.2 110.5C902.8 109.9 899.8 111.4 898.7 111.6Z" fill="#a86a04" opacity="0.7" filter="url(#b05)" transform="translate(-1.2 1.6)"/>
<path d="M897.9 109C899.1 108.4 902.8 105.6 905.2 105.4C907.7 105.3 910.1 106.2 912.6 108.1C915.1 109.9 917.9 113.3 920 116.4C922 119.6 923.5 123.2 924.9 127C926.3 130.9 927.7 137.3 928.3 139.3L927.8 138.4C927.3 137.1 925.8 133.5 924.5 130.8C923.1 128.2 921.4 125.1 919.6 122.5C917.7 119.9 915.8 117 913.4 115.1C911 113.1 907.7 111.1 905.2 110.5C902.8 109.9 899.8 111.4 898.7 111.6Z" fill="#f4ae22"/>
<path d="M897.9 109C899.1 108.4 902.8 105.6 905.2 105.4C907.7 105.3 910.1 106.2 912.6 108.1C915.1 109.9 917.9 113.3 920 116.4C922 119.6 923.5 123.2 924.9 127C926.3 130.9 927.7 137.3 928.3 139.3" fill="none" stroke="#ffd874" stroke-width="0.9"/>
<path d="M927.8 138.4C927.3 137.1 925.8 133.5 924.5 130.8C923.1 128.2 921.4 125.1 919.6 122.5C917.7 119.9 915.8 117 913.4 115.1C911 113.1 907.7 111.1 905.2 110.5C902.8 109.9 899.8 111.4 898.7 111.6" fill="none" stroke="#8a5600" stroke-width="2.4" transform="translate(0.5 -0.4)"/>
<path d="M866.1 118.1C866.9 117.7 869.3 116.2 870.9 115.5C872.5 114.8 873.7 114.4 875.8 114.1C877.8 113.9 881.1 113.5 883.1 114.1C885.2 114.8 886.4 116.5 888.1 117.9C889.7 119.3 892.1 121.9 893 122.6C891.6 123 886.9 123.4 884 123.3C881.1 123.1 878.8 122.5 875.8 122.1C872.8 121.7 867.6 121 866 120.8Z" fill="#5e3c00"/>
<path d="M866 120.8C867.6 121 872.8 121.7 875.8 122.1C878.8 122.5 881.1 123.1 884 123.3C886.9 123.4 891.6 123 893.1 122.9C892 123.6 888.6 125.7 886.4 127C884.2 128.4 881.8 129.9 879.9 130.8C878 131.7 875.8 132.2 875 132.4C874.1 131.6 871.4 129.3 870 127.8C868.7 126.3 867.5 124.5 866.8 123.2C866.1 122 866.1 120.7 866 120.2Z" fill="#fff"/>
<path d="M866.1 118.1C866.9 117.7 869.3 116.2 870.9 115.5C872.5 114.8 873.7 114.4 875.8 114.1C877.8 113.9 881.1 113.5 883.1 114.1C885.2 114.8 886.4 116.5 888.1 117.9C889.7 119.3 892.1 121.9 893 122.6" fill="none" stroke="#ffc23c" stroke-width="1"/>
<path d="M871.7 140.8C873.7 139.6 879.9 135.5 884 133.1C888.1 130.7 892.5 128 896.2 126.3C899.9 124.5 904.6 123.1 906.2 122.5C906.5 123.6 908 126.8 907.9 129.3C907.7 131.8 906.5 135.5 905.2 137.7C904 139.8 901.1 141.6 900.3 142.4C899 142.5 895.1 143.4 892.1 143.4C889.1 143.5 885.7 143.1 882.3 142.7C878.9 142.2 873.5 141.1 871.7 140.8Z" fill="#fff"/>
<path d="M869.9 139.3 L868.6 136.6 L897.9 119.3 L903.2 121.1 L884 133.1Z" fill="#f2a716"/>
<path d="M869.9 139.3 L884 132.2 L896.2 125.5 L905.4 121.6 L906.7 123.4 L896.2 127.6 L884 134.5 L871.8 141Z" fill="#6a4400"/>
<path d="M870.2 139.5C872.5 138.3 879.6 134.6 884 132.3C888.3 130 892.7 127.4 896.2 125.7C899.8 123.9 903.7 122.4 905.2 121.7" fill="none" stroke="#3a2400" stroke-width="0.9"/>
<path d="M912.6 118.7C913.6 119.6 917.1 122 918.3 124C919.6 126 920.3 128.4 920.1 130.8C919.8 133.2 918.3 135.9 916.7 138.4C915 140.9 912.3 143.9 910.1 146C908 148.1 904.7 150.2 903.6 151.1L908.5 143.7C909.2 142.2 911.7 137.4 912.6 134.6C913.5 131.8 913.9 129.7 913.9 127C913.9 124.4 912.8 120.1 912.6 118.7Z" fill="#fff"/>
<path d="M912.6 118.4C913.6 119.3 917.2 121.7 918.5 123.7C919.8 125.7 920.1 129.5 920.5 130.7" fill="none" stroke="#5e3c00" stroke-width="1.1"/>
<path d="M907.7 120.2C907.8 121.7 908.8 125.9 908.5 129.3C908.2 132.7 907.3 137.2 906.1 140.7C904.8 144.1 902 148.4 901.1 149.9L903.6 151.5C904.7 149.7 908.5 144.4 910.1 140.7C911.8 137 913.1 133 913.4 129.3C913.7 125.6 912.2 120.5 911.9 118.7Z" fill="#f2a716"/>
<path d="M907.7 120.2C907.8 121.7 908.8 125.9 908.5 129.3C908.2 132.7 907.3 137.2 906.1 140.7C904.8 144.1 902 148.4 901.1 149.9" fill="none" stroke="#7a5000" stroke-width="2.2" transform="translate(0.6 0)"/>
<path d="M907.7 120.2C907.8 121.7 908.8 125.9 908.5 129.3C908.2 132.7 907.3 137.2 906.1 140.7C904.8 144.1 902 148.4 901.1 149.9" fill="none" stroke="#3a2400" stroke-width="0.9"/>
<path d="M903.6 151.5C904.7 149.7 908.5 144.4 910.1 140.7C911.8 137 913.1 133 913.4 129.3C913.7 125.6 912.2 120.5 911.9 118.7" fill="none" stroke="#ffc23c" stroke-width="0.8"/>
<path d="M892.1 114.9C892.4 113.6 895.7 112.2 897.9 112.6C900.1 113 904.3 115.7 905.2 117.2C906.2 118.6 905.1 120.8 903.6 121.3C902.1 121.9 898.1 121.3 896.2 120.2C894.3 119.1 891.9 116.2 892.1 114.9Z" fill="#f6b028"/>
<path d="M885.4 103.5 L887.7 103.1 L889.9 115.1 L887.2 115.1Z" fill="#f7b32a" stroke="#9c6200" stroke-width="0.6"/>
<path d="M883.1 112.7 L887.1 113.1 L886.7 115.1 L883.6 114.6Z" fill="#fff"/></g>
<g><path d="M736.9 188C736.5 189.6 736.2 194.8 734.9 198C733.5 201.1 731.5 204.1 728.9 206.9C726.2 209.8 722.6 212.4 718.9 214.9C715.2 217.4 708.9 220.7 706.9 221.9" fill="none" stroke="#c98408" stroke-width="4" opacity="0.55" filter="url(#b1)"/>
<path d="M676 188C676 186.5 675 181.5 676 179C677 176.5 679.5 174.1 682 173C684.5 171.9 689.5 172.6 691 172.5" fill="none" stroke="#ffd060" stroke-width="3.5" opacity="0.7" filter="url(#b1)"/>
<path d="M680 198C681 199 683.6 202.7 686 203.9C688.3 205.2 691.5 205.8 693.9 205.4C696.4 205.1 699.8 202.5 700.9 202" fill="none" stroke="#c98408" stroke-width="3" opacity="0.5" filter="url(#b1)"/>
<path d="M678 179C677.6 178.2 679.9 174.9 681.5 174.2C683.1 173.5 685.3 173.9 687.5 174.8C689.6 175.7 692.5 178 694.4 179.5C696.4 181 697.2 182.7 699.4 184C701.7 185.3 708.2 187 707.9 187.2C707.7 187.3 700.9 186 697.9 185C694.9 184 692.3 182.2 690 181.2C687.6 180.2 686 179.4 684 179C682 178.6 678.4 179.8 678 179Z" fill="#5e3c00"/>
<path d="M678.5 178.7C679.8 177.5 682.6 178.2 685 178.6C687.4 179 690.6 180 693 181C695.3 182 696.4 183.5 698.9 184.5C701.5 185.5 707.1 185.3 708.1 187.1C709.1 188.8 706.6 192.7 704.9 195C703.2 197.3 700.3 199.6 697.9 201C695.6 202.3 693.3 203.1 691 203C688.6 203 686 202 684 200.5C682 198.9 680.1 196.4 679 194C677.8 191.6 677.3 188.5 677.2 186C677.1 183.4 677.2 179.9 678.5 178.7Z" fill="#fff"/>
<path d="M677.2 188C677.2 187 676.5 184.1 677 182C677.4 179.9 678.4 176.9 680 175.5C681.6 174.1 684.1 173.5 686.5 173.8C688.8 174.1 692.7 176.9 693.9 177.5" fill="none" stroke="#ffc23c" stroke-width="1.1"/>
<path d="M699.4 175.2 L703.5 173.4 L703 179.6 L697.9 177.6Z" fill="#fff"/>
<path d="M718.9 178C720.2 178.7 724.6 180.5 726.9 182C729.2 183.5 731.5 185 732.9 187C734.2 189 735.4 191.5 735.1 194C734.7 196.5 732.9 199.3 730.9 202C728.8 204.6 725.9 207.4 722.9 209.9C719.9 212.4 716 215.2 712.9 216.9C709.8 218.6 705.8 219.6 704.4 220.1Z" fill="#fff"/>
<path d="M719.4 177.8C720.6 178.4 724.6 180.1 726.9 181.6C729.2 183.1 731.8 184.8 733.3 186.8C734.7 188.8 735.2 192.6 735.6 193.8" fill="none" stroke="#d48c10" stroke-width="0.9"/>
<path d="M712.1 176.2 L718.3 178 L703.7 219.4 L700.1 215.2Z" fill="#f2a716"/>
<path d="M718.2 178.2 L703.6 219.3" fill="none" stroke="#5e3c00" stroke-width="1"/>
<path d="M712.3 176.6 L700.5 214.9" fill="none" stroke="#ffc23c" stroke-width="0.8"/>
<path d="M712.9 173.6 L721.1 176.6 L718.1 177.9 L712.7 176.2Z" fill="#5e3c00"/>
<path d="M694.1 177.2C694.9 176.2 696.6 172.7 698.4 171C700.2 169.4 702.2 168.3 704.9 167.2C707.7 166.2 711.6 164.9 714.9 164.6C718.2 164.3 721.2 164.6 724.9 165.5C728.5 166.4 733.2 168.3 736.9 170C740.6 171.7 745.3 174.7 747 175.6" fill="none" stroke="#c07c08" stroke-width="3.2" opacity="0.6" filter="url(#b05)" transform="translate(0.4 1.6)"/>
<path d="M694.1 177.2C694.9 176.2 696.6 172.7 698.4 171C700.2 169.4 702.2 168.3 704.9 167.2C707.7 166.2 711.6 164.9 714.9 164.6C718.2 164.3 721.2 164.6 724.9 165.5C728.5 166.4 733.2 168.3 736.9 170C740.6 171.7 745.3 174.7 747 175.6" fill="none" stroke="#f8b42a" stroke-width="2.4" stroke-linecap="round"/>
<path d="M694.1 177.2C694.9 176.2 696.6 172.7 698.4 171C700.2 169.4 702.2 168.3 704.9 167.2C707.7 166.2 711.6 164.9 714.9 164.6C718.2 164.3 721.2 164.6 724.9 165.5C728.5 166.4 733.2 168.3 736.9 170C740.6 171.7 745.3 174.7 747 175.6" fill="none" stroke="#ffd874" stroke-width="0.9" stroke-linecap="round" transform="translate(0 -0.5)"/>
<path d="M680 175C681.1 174.8 684.1 173.1 686.5 173.5C688.8 173.9 691.8 175.8 693.9 177.2C696.1 178.6 696.9 180.3 699.4 181.8C701.9 183.3 707.3 185.5 708.9 186.2" fill="none" stroke="#f9b830" stroke-width="2.2" stroke-linecap="round"/></g>
<g><path d="M837.9 189.9C837.6 191.7 837.9 197.4 836.4 200.8C834.9 204.3 831.8 207.8 828.9 210.8C826 213.8 821.7 216.8 818.9 218.8C816.1 220.8 813.1 222.1 811.9 222.8" fill="none" stroke="#c98408" stroke-width="4" opacity="0.55" filter="url(#b1)"/>
<path d="M773 194.9C774.7 196 779.5 199.8 783 201.8C786.5 203.9 790.6 206.3 794 207.3C797.3 208.4 801.4 208.2 802.9 208.3" fill="none" stroke="#c98408" stroke-width="3" opacity="0.5" filter="url(#b1)"/>
<path d="M769 189.9C770.8 188.7 776.8 185.5 780 182.9C783.1 180.2 785.3 176.2 788 173.9C790.6 171.6 794.6 169.7 795.9 168.9" fill="none" stroke="#ffd060" stroke-width="3" opacity="0.7" filter="url(#b1)"/>
<path d="M785 181.1C785.3 180 787.3 176.6 789 174.9C790.6 173.2 793.4 171.7 795 170.9C796.5 170.1 797.5 169 798.1 170.3C798.8 171.6 799.6 176.9 798.9 178.5C798.2 180 795.9 179.1 794 179.6C792 180.1 788.7 181.2 787.2 181.5C785.7 181.7 784.7 182.2 785 181.1Z" fill="#fff"/>
<path d="M770.8 191.1C771.8 190.2 774.6 187.5 777 186.1C779.3 184.7 781.6 183.6 785 182.7C788.3 181.8 793.1 180.6 796.9 180.7C800.8 180.8 804.8 182.6 807.9 183.2C811 183.8 814.3 184.2 815.6 184.4C814.7 184.3 812.5 183.9 809.9 183.9C807.3 183.9 803.3 184 799.9 184.4C796.6 184.8 793.3 185.7 790 186.4C786.6 187 783.1 187.5 780 188.4C776.8 189.2 772.5 190.9 771 191.4Z" fill="#5e3c00"/>
<path d="M771 191.4C772.5 190.9 776.8 189.2 780 188.4C783.1 187.5 786.6 187 790 186.4C793.3 185.7 796.6 184.8 799.9 184.4C803.3 184 807.3 183.9 809.9 183.9C812.5 183.9 814.7 184.3 815.6 184.4C815.5 185.3 815.5 187.8 814.9 189.9C814.3 192 813.1 194.7 811.9 196.9C810.8 199.1 808.6 202 807.9 203C806.8 203.5 803.4 205.7 800.9 205.9C798.4 206.2 795.9 205.5 793 204.3C790 203.2 786 200.6 783 198.9C780 197.1 777 195.1 775 193.9C773 192.6 771.7 191.8 771 191.4Z" fill="#fff"/>
<path d="M770.8 191.1C771.8 190.2 774.6 187.5 777 186.1C779.3 184.7 781.6 183.6 785 182.7C788.3 181.8 793.1 180.6 796.9 180.7C800.8 180.8 804.8 182.6 807.9 183.2C811 183.8 814.3 184.2 815.6 184.4" fill="none" stroke="#ffc23c" stroke-width="1"/>
<path d="M802.9 172 L807.5 170.3 L804.9 175Z" fill="#fff"/>
<path d="M820.9 175.4C821.9 176 824.9 177.3 826.9 178.9C828.9 180.5 831.4 182.7 832.9 184.9C834.4 187 835.8 189.4 836 191.9C836.1 194.4 835.4 197 833.9 199.9C832.4 202.7 829.7 206 826.9 208.8C824.1 211.7 819.7 215 816.9 216.8C814.1 218.6 811.1 219.1 809.9 219.5L811.9 213.8C812.9 211.8 816.2 205.8 817.9 201.8C819.7 197.9 821.5 193.5 822.4 189.9C823.2 186.2 822.9 181.6 823 179.9Z" fill="#fff"/>
<path d="M814.9 173.5C816.6 174 821.7 174.9 824.9 176.7C828.1 178.5 831.9 182 833.9 184.5C835.8 187 836 190.5 836.5 191.7" fill="none" stroke="#5e3c00" stroke-width="1.2"/>
<path d="M815.7 179.9C815.5 181.6 815 186.2 814.2 189.9C813.4 193.5 812.3 197.5 811.1 201.8C810 206.2 808 213.7 807.3 216L809.9 219C811.1 216.2 814.9 207 816.9 201.8C818.9 196.7 821.2 191.9 821.9 187.9C822.6 183.9 821.2 179.6 821.1 177.9Z" fill="#f2a716"/>
<path d="M815.7 179.9C815.5 181.6 815 186.2 814.2 189.9C813.4 193.5 812.3 197.5 811.1 201.8C810 206.2 808 213.7 807.3 216" fill="none" stroke="#7a5000" stroke-width="2.2" transform="translate(0.7 0)"/>
<path d="M815.7 179.9C815.5 181.6 815 186.2 814.2 189.9C813.4 193.5 812.3 197.5 811.1 201.8C810 206.2 808 213.7 807.3 216" fill="none" stroke="#3a2400" stroke-width="0.9"/>
<path d="M809.9 219C811.1 216.2 814.9 207 816.9 201.8C818.9 196.7 821.2 191.9 821.9 187.9C822.6 183.9 821.2 179.6 821.1 177.9" fill="none" stroke="#ffc23c" stroke-width="0.8"/>
<path d="M797.1 160.3 L801.7 160.9 L802.6 178.1 L798.1 177.1Z" fill="#f7b32a" stroke="#d48c10" stroke-width="0.5"/>
<path d="M797.1 160.5 L798.1 176.9" fill="none" stroke="#a86a04" stroke-width="0.9"/>
<path d="M799.4 162.4C801.2 163 806.5 165.7 809.9 166.1C813.3 166.5 816.6 164.6 819.9 164.9C823.2 165.3 826.6 166.1 829.9 168.1C833.2 170.1 836.5 173.4 839.9 177.1C843.2 180.8 848.2 187.9 849.8 190.1" fill="none" stroke="#b87608" stroke-width="3.4" opacity="0.65" filter="url(#b05)" transform="translate(-0.6 1.8)"/>
<path d="M799.4 162.4C801.2 163 806.5 165.7 809.9 166.1C813.3 166.5 816.6 164.6 819.9 164.9C823.2 165.3 826.6 166.1 829.9 168.1C833.2 170.1 836.5 173.4 839.9 177.1C843.2 180.8 848.2 187.9 849.8 190.1" fill="none" stroke="#f8b42a" stroke-width="2.8" stroke-linecap="round"/>
<path d="M799.4 162.4C801.2 163 806.5 165.7 809.9 166.1C813.3 166.5 816.6 164.6 819.9 164.9C823.2 165.3 826.6 166.1 829.9 168.1C833.2 170.1 836.5 173.4 839.9 177.1C843.2 180.8 848.2 187.9 849.8 190.1" fill="none" stroke="#ffd874" stroke-width="0.9" stroke-linecap="round" transform="translate(0.3 -0.6)"/></g>
<g><path d="M950.8 196.8C950.3 198.8 950.5 205.2 947.8 208.8C945.2 212.5 939.3 216.6 934.8 218.8C930.4 221 923.2 221.3 920.9 221.8" fill="none" stroke="#c98408" stroke-width="4" opacity="0.5" filter="url(#b1)"/>
<path d="M878 206.8C880.5 207.3 888.1 209.2 892.9 209.8C897.8 210.5 903.2 210.9 906.9 210.8C910.6 210.7 913.6 209.6 914.9 209.3" fill="none" stroke="#c98408" stroke-width="3" opacity="0.5" filter="url(#b1)"/>
<path d="M871 177.9C872 176.7 874.3 172.6 877 170.9C879.6 169.2 883.9 168 886.9 167.4C889.9 166.8 893.6 167.4 894.9 167.4" fill="none" stroke="#ffd060" stroke-width="3" opacity="0.7" filter="url(#b1)"/>
<path d="M911.9 163.1C913.4 162.3 917.9 158.6 920.9 158.4C923.9 158.2 926.9 159.5 929.9 161.9C932.9 164.3 936.3 168.7 938.8 172.9C941.3 177.1 943.1 181.8 944.8 186.9C946.5 191.9 948.3 200.3 949 203L948.4 201.8C947.7 200.2 946 195.4 944.3 191.9C942.6 188.4 940.6 184.3 938.3 180.9C936.1 177.4 933.8 173.7 930.9 171.1C927.9 168.5 923.9 165.9 920.9 165.1C917.9 164.3 914.2 166.3 912.9 166.5Z" fill="#a86a04" opacity="0.7" filter="url(#b05)" transform="translate(-1.2 1.6)"/>
<path d="M911.9 163.1C913.4 162.3 917.9 158.6 920.9 158.4C923.9 158.2 926.9 159.5 929.9 161.9C932.9 164.3 936.3 168.7 938.8 172.9C941.3 177.1 943.1 181.8 944.8 186.9C946.5 191.9 948.3 200.3 949 203L948.4 201.8C947.7 200.2 946 195.4 944.3 191.9C942.6 188.4 940.6 184.3 938.3 180.9C936.1 177.4 933.8 173.7 930.9 171.1C927.9 168.5 923.9 165.9 920.9 165.1C917.9 164.3 914.2 166.3 912.9 166.5Z" fill="#f4ae22"/>
<path d="M911.9 163.1C913.4 162.3 917.9 158.6 920.9 158.4C923.9 158.2 926.9 159.5 929.9 161.9C932.9 164.3 936.3 168.7 938.8 172.9C941.3 177.1 943.1 181.8 944.8 186.9C946.5 191.9 948.3 200.3 949 203" fill="none" stroke="#ffd874" stroke-width="0.9"/>
<path d="M948.4 201.8C947.7 200.2 946 195.4 944.3 191.9C942.6 188.4 940.6 184.3 938.3 180.9C936.1 177.4 933.8 173.7 930.9 171.1C927.9 168.5 923.9 165.9 920.9 165.1C917.9 164.3 914.2 166.3 912.9 166.5" fill="none" stroke="#8a5600" stroke-width="2.4" transform="translate(0.5 -0.4)"/>
<path d="M873.2 175.1C874.1 174.5 877 172.6 879 171.7C880.9 170.8 882.5 170.2 884.9 169.9C887.4 169.6 891.4 169.1 893.9 169.9C896.4 170.7 897.9 173 899.9 174.9C901.9 176.8 904.9 180 905.9 181.1C904.2 181.1 898.5 180.1 894.9 179.4C891.4 178.7 888.6 177.6 884.9 177.4C881.3 177.1 875 177.8 873 177.9Z" fill="#5e3c00"/>
<path d="M873 177.9C875 177.8 881.3 177.1 884.9 177.4C888.6 177.6 891.4 178.7 894.9 179.4C898.5 180.1 904.2 181.1 906.1 181.5C904.7 182.4 900.6 185.1 897.9 186.9C895.2 188.6 892.3 190.7 889.9 191.9C887.6 193 884.9 193.6 883.9 194C882.9 192.9 879.6 189.9 878 187.9C876.3 185.9 874.8 183.5 874 181.9C873.1 180.2 873.1 178.6 873 177.9Z" fill="#fff"/>
<path d="M873.2 175.1C874.1 174.5 877 172.6 879 171.7C880.9 170.8 882.5 170.2 884.9 169.9C887.4 169.6 891.4 169.1 893.9 169.9C896.4 170.7 897.9 173 899.9 174.9C901.9 176.8 904.9 180 905.9 181.1" fill="none" stroke="#ffc23c" stroke-width="1"/>
<path d="M880 205C882.5 203.3 889.9 198 894.9 194.9C899.9 191.7 905.4 188.2 909.9 185.9C914.4 183.5 920 181.7 922.1 180.9C922.4 182.4 924.3 186.5 924.1 189.9C923.9 193.2 922.4 198 920.9 200.8C919.3 203.7 915.9 206 914.9 207C913.2 207.3 908.6 208.4 904.9 208.4C901.2 208.5 897.1 208 892.9 207.4C888.8 206.9 882.1 205.4 880 205Z" fill="#fff"/>
<path d="M877.8 203 L876.2 199.4 L911.9 176.7 L918.4 179.1 L894.9 194.9Z" fill="#f2a716"/>
<path d="M877.8 203 L894.9 193.7 L909.9 184.9 L921.1 179.7 L922.7 182.1 L909.9 187.7 L894.9 196.6 L880.2 205.2Z" fill="#6a4400"/>
<path d="M878.2 203.2C881 201.7 889.6 196.9 894.9 193.9C900.2 190.8 905.6 187.4 909.9 185.1C914.2 182.7 919 180.7 920.9 179.9" fill="none" stroke="#3a2400" stroke-width="0.9"/>
<path d="M929.9 175.9C931 177.1 935.3 180.2 936.8 182.9C938.4 185.5 939.3 188.7 938.9 191.9C938.6 195 936.9 198.5 934.8 201.8C932.8 205.2 929.5 209 926.9 211.8C924.2 214.6 920.2 217.4 918.9 218.5L924.9 208.8C925.7 206.8 928.8 200.5 929.9 196.8C931 193.2 931.5 190.4 931.5 186.9C931.5 183.4 930.1 177.7 929.9 175.9Z" fill="#fff"/>
<path d="M929.9 175.5C931.1 176.7 935.4 179.8 937 182.5C938.6 185.2 939 190.1 939.4 191.7" fill="none" stroke="#5e3c00" stroke-width="1.1"/>
<path d="M923.9 177.9C924 179.9 925.2 185.4 924.9 189.9C924.5 194.4 923.4 200.3 921.9 204.8C920.4 209.4 916.9 215 915.9 217L918.9 219C920.2 216.6 924.9 209.7 926.9 204.8C928.9 200 930.5 194.7 930.9 189.9C931.2 185 929.4 178.2 929.1 175.9Z" fill="#f2a716"/>
<path d="M923.9 177.9C924 179.9 925.2 185.4 924.9 189.9C924.5 194.4 923.4 200.3 921.9 204.8C920.4 209.4 916.9 215 915.9 217" fill="none" stroke="#7a5000" stroke-width="2.2" transform="translate(0.6 0)"/>
<path d="M923.9 177.9C924 179.9 925.2 185.4 924.9 189.9C924.5 194.4 923.4 200.3 921.9 204.8C920.4 209.4 916.9 215 915.9 217" fill="none" stroke="#3a2400" stroke-width="0.9"/>
<path d="M918.9 219C920.2 216.6 924.9 209.7 926.9 204.8C928.9 200 930.5 194.7 930.9 189.9C931.2 185 929.4 178.2 929.1 175.9" fill="none" stroke="#ffc23c" stroke-width="0.8"/>
<path d="M904.9 170.9C905.2 169.2 909.2 167.4 911.9 167.9C914.6 168.4 919.7 172 920.9 173.9C922 175.8 920.7 178.7 918.9 179.4C917 180 912.2 179.3 909.9 177.9C907.6 176.5 904.6 172.6 904.9 170.9Z" fill="#f6b028"/>
<path d="M896.7 155.9 L899.5 155.3 L902.1 171.1 L898.9 171.1Z" fill="#f7b32a" stroke="#9c6200" stroke-width="0.6"/>
<path d="M893.9 168 L898.7 168.5 L898.3 171.1 L894.5 170.5Z" fill="#fff"/></g>
<linearGradient id="gd" x1="0.85" y1="0.1" x2="0.15" y2="0.9"><stop offset="0" stop-color="#f6ba48"/><stop offset="0.5" stop-color="#e49f30"/><stop offset="1" stop-color="#d18a26"/></linearGradient>
<radialGradient id="gdr" cx="0.5" cy="0.5" r="0.5"><stop offset="0.9" stop-color="#b87a18" stop-opacity="0"/><stop offset="1" stop-color="#b87a18" stop-opacity="0.45"/></radialGradient>
<filter id="b1" x="-20%" y="-20%" width="140%" height="140%"><feGaussianBlur stdDeviation="1"/></filter>
<filter id="b2" x="-20%" y="-20%" width="140%" height="140%"><feGaussianBlur stdDeviation="2"/></filter>
<filter id="b05" x="-20%" y="-20%" width="140%" height="140%"><feGaussianBlur stdDeviation="0.6"/></filter>
<filter id="semn" x="0" y="0" width="100%" height="100%"><feTurbulence type="fractalNoise" baseFrequency="0.32" numOctaves="3" seed="3" result="n"/><feColorMatrix in="n" type="matrix" values="0 0 0 0 0  0 0 0 0 0  0 0 0 0 0  1.6 0 0 0 -0.62" result="a"/><feFlood flood-color="#fff"/><feComposite in2="a" operator="in" result="w"/><feTurbulence type="fractalNoise" baseFrequency="0.3" numOctaves="3" seed="11" result="n2"/><feColorMatrix in="n2" type="matrix" values="0 0 0 0 0  0 0 0 0 0  0 0 0 0 0  1.6 0 0 0 -0.62" result="a2"/><feFlood flood-color="#000"/><feComposite in2="a2" operator="in" result="k"/><feMerge><feMergeNode in="w"/><feMergeNode in="k"/></feMerge><feComposite in2="SourceGraphic" operator="in"/></filter>
<radialGradient id="semg" cx="0.5" cy="0.5" r="0.5"><stop offset="0" stop-color="#a2a2a2"/><stop offset="0.85" stop-color="#9e9e9e"/><stop offset="0.97" stop-color="#989898"/><stop offset="1" stop-color="#929292"/></radialGradient>
<radialGradient id="semg6" cx="0.5" cy="0.5" r="0.5"><stop offset="0" stop-color="#a8a8a8"/><stop offset="0.8" stop-color="#a4a4a4"/><stop offset="0.95" stop-color="#9e9e9e"/><stop offset="1" stop-color="#969696"/></radialGradient>
<circle cx="123.6" cy="344.1" r="52.5" fill="url(#gd)"/>
<circle cx="123.6" cy="344.1" r="52.5" fill="url(#gdr)"/>
<clipPath id="cd1"><circle cx="123.6" cy="344.1" r="51.5"/></clipPath>
<g clip-path="url(#cd1)">
<path d="M127.5 351.4C126.8 351.6 124.7 352.6 123 352.7C121.4 352.8 119.5 352.4 117.7 351.8C116 351.2 114.3 350.4 112.3 349.1C110.4 347.8 108.2 345.7 106.1 343.8C104.1 341.9 101.9 339.7 99.9 337.6C98 335.5 96.1 333.5 94.5 331.4C93 329.3 91.6 326.9 90.5 325.1C89.5 323.3 88.7 321.4 88.3 320.7" fill="none" stroke="#a4680c" stroke-width="7.5" opacity="0.7" filter="url(#b1)"/>
<path d="M82.8 323.5C83 325.1 83.3 329.9 83.9 333.1C84.6 336.3 85.4 339.8 86.5 342.9C87.6 346 88.9 349 90.5 351.8C92.2 354.6 94.2 357.6 96.3 359.8C98.5 362 101.1 364 103.4 365.2C105.8 366.4 108.3 366.8 110.5 366.9C112.8 367 114.8 366.7 116.8 366C118.9 365.3 121.3 364 123 362.5C124.8 361 126.6 358.8 127.5 357.2C128.5 355.6 128.6 353.4 128.8 352.7" fill="none" stroke="#ffdc90" stroke-width="5.2" opacity="0.75" filter="url(#b1)"/>
<path d="M115.3 343.8C115.5 343 115.6 340.7 116.4 339.2C117.1 337.8 118.4 336.3 119.8 335.1C121.2 333.9 122.7 332.8 124.9 331.8C127 330.8 129.9 329.9 132.5 329.1C135.2 328.2 138.3 327.4 141 326.8C143.8 326.1 146.5 325.5 149.1 325.2C151.7 324.9 154.5 324.9 156.5 324.9C158.6 324.9 160.6 325.1 161.5 325.2" fill="none" stroke="#a4680c" stroke-width="7.5" opacity="0.7" filter="url(#b1)"/>
<path d="M161.8 319C160.3 318.4 156 316.3 152.9 315.2C149.8 314.1 146.4 313.1 143.1 312.5C139.9 311.9 136.7 311.5 133.4 311.5C130.2 311.6 126.6 311.8 123.6 312.6C120.6 313.3 117.6 314.6 115.4 316C113.2 317.5 111.6 319.4 110.3 321.3C109.1 323.2 108.4 325 108 327.2C107.6 329.4 107.5 332.1 107.9 334.3C108.3 336.6 109.3 339.2 110.2 340.9C111.2 342.5 112.9 343.7 113.5 344.3" fill="none" stroke="#ffdc90" stroke-width="5.2" opacity="0.75" filter="url(#b1)"/>
<path d="M128 337C128.6 337.5 130.5 338.8 131.4 340.2C132.2 341.6 132.9 343.4 133.2 345.2C133.6 347.1 133.8 348.9 133.6 351.3C133.4 353.6 132.7 356.5 132.1 359.3C131.5 362 130.7 365.1 129.8 367.8C129 370.5 128.2 373.1 127.2 375.5C126.2 377.9 124.7 380.4 123.7 382.2C122.7 383.9 121.5 385.6 121 386.3" fill="none" stroke="#a4680c" stroke-width="7.5" opacity="0.7" filter="url(#b1)"/>
<path d="M126.2 389.6C127.5 388.7 131.5 386 133.9 383.9C136.4 381.7 139 379.2 141.1 376.7C143.3 374.2 145.2 371.6 146.8 368.8C148.5 366 150 362.8 150.9 359.8C151.7 356.8 152.2 353.6 152 350.9C151.8 348.3 150.9 345.9 149.9 343.9C148.9 341.9 147.7 340.4 146 338.9C144.3 337.5 142 336.1 139.9 335.3C137.7 334.5 134.9 334.1 133 334.1C131.1 334 129.2 335 128.5 335.2" fill="none" stroke="#ffdc90" stroke-width="5.2" opacity="0.75" filter="url(#b1)"/>
<clipPath id="cd1s0"><path d="M82.8 323.5C83 325.1 83.3 329.9 83.9 333.1C84.6 336.3 85.4 339.8 86.5 342.9C87.6 346 88.9 349 90.5 351.8C92.2 354.6 94.2 357.6 96.3 359.8C98.5 362 101.1 364 103.4 365.2C105.8 366.4 108.3 366.8 110.5 366.9C112.8 367 114.8 366.7 116.8 366C118.9 365.3 121.3 364 123 362.5C124.8 361 126.6 358.8 127.5 357.2C128.5 355.6 128.6 353.4 128.8 352.7L127.5 351.4C126.8 351.6 124.7 352.6 123 352.7C121.4 352.8 119.5 352.4 117.7 351.8C116 351.2 114.3 350.4 112.3 349.1C110.4 347.8 108.2 345.7 106.1 343.8C104.1 341.9 101.9 339.7 99.9 337.6C98 335.5 96.1 333.5 94.5 331.4C93 329.3 91.6 326.9 90.5 325.1C89.5 323.3 88.7 321.4 88.3 320.7Z"/></clipPath>
<path d="M82.8 323.5C83 325.1 83.3 329.9 83.9 333.1C84.6 336.3 85.4 339.8 86.5 342.9C87.6 346 88.9 349 90.5 351.8C92.2 354.6 94.2 357.6 96.3 359.8C98.5 362 101.1 364 103.4 365.2C105.8 366.4 108.3 366.8 110.5 366.9C112.8 367 114.8 366.7 116.8 366C118.9 365.3 121.3 364 123 362.5C124.8 361 126.6 358.8 127.5 357.2C128.5 355.6 128.6 353.4 128.8 352.7L127.5 351.4C126.8 351.6 124.7 352.6 123 352.7C121.4 352.8 119.5 352.4 117.7 351.8C116 351.2 114.3 350.4 112.3 349.1C110.4 347.8 108.2 345.7 106.1 343.8C104.1 341.9 101.9 339.7 99.9 337.6C98 335.5 96.1 333.5 94.5 331.4C93 329.3 91.6 326.9 90.5 325.1C89.5 323.3 88.7 321.4 88.3 320.7Z" fill="#fff"/>
<g clip-path="url(#cd1s0)"><path d="M82.8 323.5C83 325.1 83.3 329.9 83.9 333.1C84.6 336.3 85.4 339.8 86.5 342.9C87.6 346 88.9 349 90.5 351.8C92.2 354.6 94.2 357.6 96.3 359.8C98.5 362 101.1 364 103.4 365.2C105.8 366.4 108.3 366.8 110.5 366.9C112.8 367 114.8 366.7 116.8 366C118.9 365.3 121.3 364 123 362.5C124.8 361 126.6 358.8 127.5 357.2C128.5 355.6 128.6 353.4 128.8 352.7" fill="none" stroke="#f2bc58" stroke-width="5.6"/><path d="M127.5 351.4C126.8 351.6 124.7 352.6 123 352.7C121.4 352.8 119.5 352.4 117.7 351.8C116 351.2 114.3 350.4 112.3 349.1C110.4 347.8 108.2 345.7 106.1 343.8C104.1 341.9 101.9 339.7 99.9 337.6C98 335.5 96.1 333.5 94.5 331.4C93 329.3 91.6 326.9 90.5 325.1C89.5 323.3 88.7 321.4 88.3 320.7" fill="none" stroke="#b47a18" stroke-width="1.2"/></g>
<path d="M82.8 323.5C83 325.1 83.3 329.9 83.9 333.1C84.6 336.3 85.4 339.8 86.5 342.9C87.6 346 88.9 349 90.5 351.8C92.2 354.6 94.2 357.6 96.3 359.8C98.5 362 101.1 364 103.4 365.2C105.8 366.4 108.3 366.8 110.5 366.9C112.8 367 114.8 366.7 116.8 366C118.9 365.3 121.3 364 123 362.5C124.8 361 126.6 358.8 127.5 357.2C128.5 355.6 128.6 353.4 128.8 352.7L127.5 351.4C126.8 351.6 124.7 352.6 123 352.7C121.4 352.8 119.5 352.4 117.7 351.8C116 351.2 114.3 350.4 112.3 349.1C110.4 347.8 108.2 345.7 106.1 343.8C104.1 341.9 101.9 339.7 99.9 337.6C98 335.5 96.1 333.5 94.5 331.4C93 329.3 91.6 326.9 90.5 325.1C89.5 323.3 88.7 321.4 88.3 320.7Z" fill="none" stroke="#c58a22" stroke-width="0.5" stroke-linejoin="round" opacity="0.8"/>
<clipPath id="cd1s1"><path d="M161.8 319C160.3 318.4 156 316.3 152.9 315.2C149.8 314.1 146.4 313.1 143.1 312.5C139.9 311.9 136.7 311.5 133.4 311.5C130.2 311.6 126.6 311.8 123.6 312.6C120.6 313.3 117.6 314.6 115.4 316C113.2 317.5 111.6 319.4 110.3 321.3C109.1 323.2 108.4 325 108 327.2C107.6 329.4 107.5 332.1 107.9 334.3C108.3 336.6 109.3 339.2 110.2 340.9C111.2 342.5 112.9 343.7 113.5 344.3L115.3 343.8C115.5 343 115.6 340.7 116.4 339.2C117.1 337.8 118.4 336.3 119.8 335.1C121.2 333.9 122.7 332.8 124.9 331.8C127 330.8 129.9 329.9 132.5 329.1C135.2 328.2 138.3 327.4 141 326.8C143.8 326.1 146.5 325.5 149.1 325.2C151.7 324.9 154.5 324.9 156.5 324.9C158.6 324.9 160.6 325.1 161.5 325.2Z"/></clipPath>
<path d="M161.8 319C160.3 318.4 156 316.3 152.9 315.2C149.8 314.1 146.4 313.1 143.1 312.5C139.9 311.9 136.7 311.5 133.4 311.5C130.2 311.6 126.6 311.8 123.6 312.6C120.6 313.3 117.6 314.6 115.4 316C113.2 317.5 111.6 319.4 110.3 321.3C109.1 323.2 108.4 325 108 327.2C107.6 329.4 107.5 332.1 107.9 334.3C108.3 336.6 109.3 339.2 110.2 340.9C111.2 342.5 112.9 343.7 113.5 344.3L115.3 343.8C115.5 343 115.6 340.7 116.4 339.2C117.1 337.8 118.4 336.3 119.8 335.1C121.2 333.9 122.7 332.8 124.9 331.8C127 330.8 129.9 329.9 132.5 329.1C135.2 328.2 138.3 327.4 141 326.8C143.8 326.1 146.5 325.5 149.1 325.2C151.7 324.9 154.5 324.9 156.5 324.9C158.6 324.9 160.6 325.1 161.5 325.2Z" fill="#fff"/>
<g clip-path="url(#cd1s1)"><path d="M161.8 319C160.3 318.4 156 316.3 152.9 315.2C149.8 314.1 146.4 313.1 143.1 312.5C139.9 311.9 136.7 311.5 133.4 311.5C130.2 311.6 126.6 311.8 123.6 312.6C120.6 313.3 117.6 314.6 115.4 316C113.2 317.5 111.6 319.4 110.3 321.3C109.1 323.2 108.4 325 108 327.2C107.6 329.4 107.5 332.1 107.9 334.3C108.3 336.6 109.3 339.2 110.2 340.9C111.2 342.5 112.9 343.7 113.5 344.3" fill="none" stroke="#f2bc58" stroke-width="5.6"/><path d="M115.3 343.8C115.5 343 115.6 340.7 116.4 339.2C117.1 337.8 118.4 336.3 119.8 335.1C121.2 333.9 122.7 332.8 124.9 331.8C127 330.8 129.9 329.9 132.5 329.1C135.2 328.2 138.3 327.4 141 326.8C143.8 326.1 146.5 325.5 149.1 325.2C151.7 324.9 154.5 324.9 156.5 324.9C158.6 324.9 160.6 325.1 161.5 325.2" fill="none" stroke="#b47a18" stroke-width="1.2"/></g>
<path d="M161.8 319C160.3 318.4 156 316.3 152.9 315.2C149.8 314.1 146.4 313.1 143.1 312.5C139.9 311.9 136.7 311.5 133.4 311.5C130.2 311.6 126.6 311.8 123.6 312.6C120.6 313.3 117.6 314.6 115.4 316C113.2 317.5 111.6 319.4 110.3 321.3C109.1 323.2 108.4 325 108 327.2C107.6 329.4 107.5 332.1 107.9 334.3C108.3 336.6 109.3 339.2 110.2 340.9C111.2 342.5 112.9 343.7 113.5 344.3L115.3 343.8C115.5 343 115.6 340.7 116.4 339.2C117.1 337.8 118.4 336.3 119.8 335.1C121.2 333.9 122.7 332.8 124.9 331.8C127 330.8 129.9 329.9 132.5 329.1C135.2 328.2 138.3 327.4 141 326.8C143.8 326.1 146.5 325.5 149.1 325.2C151.7 324.9 154.5 324.9 156.5 324.9C158.6 324.9 160.6 325.1 161.5 325.2Z" fill="none" stroke="#c58a22" stroke-width="0.5" stroke-linejoin="round" opacity="0.8"/>
<clipPath id="cd1s2"><path d="M126.2 389.6C127.5 388.7 131.5 386 133.9 383.9C136.4 381.7 139 379.2 141.1 376.7C143.3 374.2 145.2 371.6 146.8 368.8C148.5 366 150 362.8 150.9 359.8C151.7 356.8 152.2 353.6 152 350.9C151.8 348.3 150.9 345.9 149.9 343.9C148.9 341.9 147.7 340.4 146 338.9C144.3 337.5 142 336.1 139.9 335.3C137.7 334.5 134.9 334.1 133 334.1C131.1 334 129.2 335 128.5 335.2L128 337C128.6 337.5 130.5 338.8 131.4 340.2C132.2 341.6 132.9 343.4 133.2 345.2C133.6 347.1 133.8 348.9 133.6 351.3C133.4 353.6 132.7 356.5 132.1 359.3C131.5 362 130.7 365.1 129.8 367.8C129 370.5 128.2 373.1 127.2 375.5C126.2 377.9 124.7 380.4 123.7 382.2C122.7 383.9 121.5 385.6 121 386.3Z"/></clipPath>
<path d="M126.2 389.6C127.5 388.7 131.5 386 133.9 383.9C136.4 381.7 139 379.2 141.1 376.7C143.3 374.2 145.2 371.6 146.8 368.8C148.5 366 150 362.8 150.9 359.8C151.7 356.8 152.2 353.6 152 350.9C151.8 348.3 150.9 345.9 149.9 343.9C148.9 341.9 147.7 340.4 146 338.9C144.3 337.5 142 336.1 139.9 335.3C137.7 334.5 134.9 334.1 133 334.1C131.1 334 129.2 335 128.5 335.2L128 337C128.6 337.5 130.5 338.8 131.4 340.2C132.2 341.6 132.9 343.4 133.2 345.2C133.6 347.1 133.8 348.9 133.6 351.3C133.4 353.6 132.7 356.5 132.1 359.3C131.5 362 130.7 365.1 129.8 367.8C129 370.5 128.2 373.1 127.2 375.5C126.2 377.9 124.7 380.4 123.7 382.2C122.7 383.9 121.5 385.6 121 386.3Z" fill="#fff"/>
<g clip-path="url(#cd1s2)"><path d="M126.2 389.6C127.5 388.7 131.5 386 133.9 383.9C136.4 381.7 139 379.2 141.1 376.7C143.3 374.2 145.2 371.6 146.8 368.8C148.5 366 150 362.8 150.9 359.8C151.7 356.8 152.2 353.6 152 350.9C151.8 348.3 150.9 345.9 149.9 343.9C148.9 341.9 147.7 340.4 146 338.9C144.3 337.5 142 336.1 139.9 335.3C137.7 334.5 134.9 334.1 133 334.1C131.1 334 129.2 335 128.5 335.2" fill="none" stroke="#f2bc58" stroke-width="5.6"/><path d="M128 337C128.6 337.5 130.5 338.8 131.4 340.2C132.2 341.6 132.9 343.4 133.2 345.2C133.6 347.1 133.8 348.9 133.6 351.3C133.4 353.6 132.7 356.5 132.1 359.3C131.5 362 130.7 365.1 129.8 367.8C129 370.5 128.2 373.1 127.2 375.5C126.2 377.9 124.7 380.4 123.7 382.2C122.7 383.9 121.5 385.6 121 386.3" fill="none" stroke="#b47a18" stroke-width="1.2"/></g>
<path d="M126.2 389.6C127.5 388.7 131.5 386 133.9 383.9C136.4 381.7 139 379.2 141.1 376.7C143.3 374.2 145.2 371.6 146.8 368.8C148.5 366 150 362.8 150.9 359.8C151.7 356.8 152.2 353.6 152 350.9C151.8 348.3 150.9 345.9 149.9 343.9C148.9 341.9 147.7 340.4 146 338.9C144.3 337.5 142 336.1 139.9 335.3C137.7 334.5 134.9 334.1 133 334.1C131.1 334 129.2 335 128.5 335.2L128 337C128.6 337.5 130.5 338.8 131.4 340.2C132.2 341.6 132.9 343.4 133.2 345.2C133.6 347.1 133.8 348.9 133.6 351.3C133.4 353.6 132.7 356.5 132.1 359.3C131.5 362 130.7 365.1 129.8 367.8C129 370.5 128.2 373.1 127.2 375.5C126.2 377.9 124.7 380.4 123.7 382.2C122.7 383.9 121.5 385.6 121 386.3Z" fill="none" stroke="#c58a22" stroke-width="0.5" stroke-linejoin="round" opacity="0.8"/>
</g>
<circle cx="311.8" cy="345" r="52" fill="url(#gd)"/>
<circle cx="311.8" cy="345" r="52" fill="url(#gdr)"/>
<clipPath id="cd2"><circle cx="311.8" cy="345" r="51"/></clipPath>
<g clip-path="url(#cd2)">
<path d="M306.8 351.4C306.1 350.9 303.9 350.2 302.4 348.7C300.9 347.2 299 344.7 297.9 342.5C296.8 340.3 296.1 337.8 295.7 335.4C295.3 333 295.3 330.8 295.7 328.3C296.1 325.8 296.8 322.9 297.9 320.2C299 317.5 300.8 314.6 302.4 312.2C304 309.8 305.9 308 307.7 306C309.5 304 312.1 301.3 313 300.4" fill="none" stroke="#a4680c" stroke-width="6.5" opacity="0.7" filter="url(#b1)"/>
<path d="M309.2 300.8C308.1 301.8 304.7 304.7 302.4 306.9C300.1 309.1 297.5 311.5 295.3 314C293.1 316.5 290.8 319.3 289 322C287.2 324.7 285.5 327.5 284.6 330C283.7 332.5 283.4 334.7 283.7 337.1C284 339.5 285.1 342.2 286.4 344.3C287.7 346.4 289.6 348.3 291.7 349.6C293.8 350.9 296.6 351.8 298.8 352.3C301 352.8 303.6 352.7 305 352.7C306.4 352.7 306.8 352.4 307.2 352.3" fill="none" stroke="#ffdc90" stroke-width="4.5" opacity="0.75" filter="url(#b1)"/>
<path d="M305.4 340.1C305.8 339.3 306.6 337.1 308.1 335.6C309.5 334.2 312 332.3 314.2 331.1C316.5 330 319 329.3 321.4 328.9C323.7 328.6 325.9 328.6 328.4 328.9C331 329.3 333.9 330 336.6 331.1C339.2 332.3 342.2 334 344.6 335.6C346.9 337.3 348.8 339.2 350.8 340.9C352.7 342.7 355.4 345.4 356.4 346.2" fill="none" stroke="#a4680c" stroke-width="6.5" opacity="0.7" filter="url(#b1)"/>
<path d="M355.9 342.4C354.9 341.3 352.1 338 349.9 335.6C347.7 333.3 345.3 330.8 342.8 328.6C340.2 326.3 337.4 324 334.8 322.2C332.1 320.5 329.3 318.7 326.8 317.9C324.2 317 322 316.6 319.6 316.9C317.3 317.2 314.5 318.3 312.4 319.6C310.4 321 308.5 322.9 307.1 324.9C305.8 327 305 329.8 304.4 332.1C303.9 334.3 304.1 336.9 304.1 338.2C304.1 339.6 304.4 340.1 304.4 340.4" fill="none" stroke="#ffdc90" stroke-width="4.5" opacity="0.75" filter="url(#b1)"/>
<path d="M316.7 338.6C317.4 339.1 319.6 339.8 321.1 341.3C322.6 342.8 324.5 345.3 325.6 347.5C326.7 349.7 327.4 352.2 327.8 354.6C328.2 357 328.2 359.2 327.8 361.7C327.4 364.2 326.7 367.1 325.6 369.8C324.5 372.5 322.7 375.4 321.1 377.8C319.5 380.2 317.6 382 315.8 384C314 386 311.4 388.7 310.5 389.6" fill="none" stroke="#a4680c" stroke-width="6.5" opacity="0.7" filter="url(#b1)"/>
<path d="M314.3 389.2C315.4 388.2 318.8 385.3 321.1 383.1C323.4 380.9 326 378.5 328.2 376C330.4 373.5 332.7 370.7 334.5 368C336.3 365.3 338 362.5 338.9 360C339.8 357.5 340.1 355.3 339.8 352.9C339.5 350.5 338.4 347.8 337.1 345.7C335.8 343.6 333.9 341.7 331.8 340.4C329.7 339.1 326.9 338.2 324.7 337.7C322.5 337.2 319.9 337.3 318.5 337.3C317.1 337.3 316.7 337.6 316.3 337.7" fill="none" stroke="#ffdc90" stroke-width="4.5" opacity="0.75" filter="url(#b1)"/>
<path d="M318.1 349.9C317.7 350.7 316.9 352.9 315.4 354.4C314 355.8 311.5 357.7 309.2 358.9C307 360 304.5 360.7 302.1 361.1C299.8 361.4 297.6 361.4 295.1 361.1C292.5 360.7 289.6 360 286.9 358.9C284.3 357.7 281.3 356 278.9 354.4C276.6 352.7 274.7 350.8 272.8 349.1C270.8 347.3 268.1 344.6 267.1 343.8" fill="none" stroke="#a4680c" stroke-width="6.5" opacity="0.7" filter="url(#b1)"/>
<path d="M267.6 347.6C268.6 348.7 271.4 352 273.6 354.4C275.8 356.7 278.2 359.2 280.8 361.4C283.3 363.7 286.1 366 288.8 367.8C291.4 369.5 294.2 371.3 296.8 372.1C299.3 373 301.5 373.4 303.9 373.1C306.2 372.8 309 371.7 311.1 370.4C313.1 369 315 367.1 316.4 365.1C317.7 363 318.5 360.2 319.1 357.9C319.6 355.7 319.4 353.1 319.4 351.8C319.4 350.4 319.1 349.9 319.1 349.6" fill="none" stroke="#ffdc90" stroke-width="4.5" opacity="0.75" filter="url(#b1)"/>
<clipPath id="cd2s0"><path d="M309.2 300.8C308.1 301.8 304.7 304.7 302.4 306.9C300.1 309.1 297.5 311.5 295.3 314C293.1 316.5 290.8 319.3 289 322C287.2 324.7 285.5 327.5 284.6 330C283.7 332.5 283.4 334.7 283.7 337.1C284 339.5 285.1 342.2 286.4 344.3C287.7 346.4 289.6 348.3 291.7 349.6C293.8 350.9 296.6 351.8 298.8 352.3C301 352.8 303.6 352.7 305 352.7C306.4 352.7 306.8 352.4 307.2 352.3L306.8 351.4C306.1 350.9 303.9 350.2 302.4 348.7C300.9 347.2 299 344.7 297.9 342.5C296.8 340.3 296.1 337.8 295.7 335.4C295.3 333 295.3 330.8 295.7 328.3C296.1 325.8 296.8 322.9 297.9 320.2C299 317.5 300.8 314.6 302.4 312.2C304 309.8 305.9 308 307.7 306C309.5 304 312.1 301.3 313 300.4Z"/></clipPath>
<path d="M309.2 300.8C308.1 301.8 304.7 304.7 302.4 306.9C300.1 309.1 297.5 311.5 295.3 314C293.1 316.5 290.8 319.3 289 322C287.2 324.7 285.5 327.5 284.6 330C283.7 332.5 283.4 334.7 283.7 337.1C284 339.5 285.1 342.2 286.4 344.3C287.7 346.4 289.6 348.3 291.7 349.6C293.8 350.9 296.6 351.8 298.8 352.3C301 352.8 303.6 352.7 305 352.7C306.4 352.7 306.8 352.4 307.2 352.3L306.8 351.4C306.1 350.9 303.9 350.2 302.4 348.7C300.9 347.2 299 344.7 297.9 342.5C296.8 340.3 296.1 337.8 295.7 335.4C295.3 333 295.3 330.8 295.7 328.3C296.1 325.8 296.8 322.9 297.9 320.2C299 317.5 300.8 314.6 302.4 312.2C304 309.8 305.9 308 307.7 306C309.5 304 312.1 301.3 313 300.4Z" fill="#fff"/>
<g clip-path="url(#cd2s0)"><path d="M309.2 300.8C308.1 301.8 304.7 304.7 302.4 306.9C300.1 309.1 297.5 311.5 295.3 314C293.1 316.5 290.8 319.3 289 322C287.2 324.7 285.5 327.5 284.6 330C283.7 332.5 283.4 334.7 283.7 337.1C284 339.5 285.1 342.2 286.4 344.3C287.7 346.4 289.6 348.3 291.7 349.6C293.8 350.9 296.6 351.8 298.8 352.3C301 352.8 303.6 352.7 305 352.7C306.4 352.7 306.8 352.4 307.2 352.3" fill="none" stroke="#f2bc58" stroke-width="4.4"/><path d="M306.8 351.4C306.1 350.9 303.9 350.2 302.4 348.7C300.9 347.2 299 344.7 297.9 342.5C296.8 340.3 296.1 337.8 295.7 335.4C295.3 333 295.3 330.8 295.7 328.3C296.1 325.8 296.8 322.9 297.9 320.2C299 317.5 300.8 314.6 302.4 312.2C304 309.8 305.9 308 307.7 306C309.5 304 312.1 301.3 313 300.4" fill="none" stroke="#b47a18" stroke-width="1.2"/></g>
<path d="M309.2 300.8C308.1 301.8 304.7 304.7 302.4 306.9C300.1 309.1 297.5 311.5 295.3 314C293.1 316.5 290.8 319.3 289 322C287.2 324.7 285.5 327.5 284.6 330C283.7 332.5 283.4 334.7 283.7 337.1C284 339.5 285.1 342.2 286.4 344.3C287.7 346.4 289.6 348.3 291.7 349.6C293.8 350.9 296.6 351.8 298.8 352.3C301 352.8 303.6 352.7 305 352.7C306.4 352.7 306.8 352.4 307.2 352.3L306.8 351.4C306.1 350.9 303.9 350.2 302.4 348.7C300.9 347.2 299 344.7 297.9 342.5C296.8 340.3 296.1 337.8 295.7 335.4C295.3 333 295.3 330.8 295.7 328.3C296.1 325.8 296.8 322.9 297.9 320.2C299 317.5 300.8 314.6 302.4 312.2C304 309.8 305.9 308 307.7 306C309.5 304 312.1 301.3 313 300.4Z" fill="none" stroke="#c58a22" stroke-width="0.5" stroke-linejoin="round" opacity="0.8"/>
<clipPath id="cd2s1"><path d="M355.9 342.4C354.9 341.3 352.1 338 349.9 335.6C347.7 333.3 345.3 330.8 342.8 328.6C340.2 326.3 337.4 324 334.8 322.2C332.1 320.5 329.3 318.7 326.8 317.9C324.2 317 322 316.6 319.6 316.9C317.3 317.2 314.5 318.3 312.4 319.6C310.4 321 308.5 322.9 307.1 324.9C305.8 327 305 329.8 304.4 332.1C303.9 334.3 304.1 336.9 304.1 338.2C304.1 339.6 304.4 340.1 304.4 340.4L305.4 340.1C305.8 339.3 306.6 337.1 308.1 335.6C309.5 334.2 312 332.3 314.2 331.1C316.5 330 319 329.3 321.4 328.9C323.7 328.6 325.9 328.6 328.4 328.9C331 329.3 333.9 330 336.6 331.1C339.2 332.3 342.2 334 344.6 335.6C346.9 337.3 348.8 339.2 350.8 340.9C352.7 342.7 355.4 345.4 356.4 346.2Z"/></clipPath>
<path d="M355.9 342.4C354.9 341.3 352.1 338 349.9 335.6C347.7 333.3 345.3 330.8 342.8 328.6C340.2 326.3 337.4 324 334.8 322.2C332.1 320.5 329.3 318.7 326.8 317.9C324.2 317 322 316.6 319.6 316.9C317.3 317.2 314.5 318.3 312.4 319.6C310.4 321 308.5 322.9 307.1 324.9C305.8 327 305 329.8 304.4 332.1C303.9 334.3 304.1 336.9 304.1 338.2C304.1 339.6 304.4 340.1 304.4 340.4L305.4 340.1C305.8 339.3 306.6 337.1 308.1 335.6C309.5 334.2 312 332.3 314.2 331.1C316.5 330 319 329.3 321.4 328.9C323.7 328.6 325.9 328.6 328.4 328.9C331 329.3 333.9 330 336.6 331.1C339.2 332.3 342.2 334 344.6 335.6C346.9 337.3 348.8 339.2 350.8 340.9C352.7 342.7 355.4 345.4 356.4 346.2Z" fill="#fff"/>
<g clip-path="url(#cd2s1)"><path d="M355.9 342.4C354.9 341.3 352.1 338 349.9 335.6C347.7 333.3 345.3 330.8 342.8 328.6C340.2 326.3 337.4 324 334.8 322.2C332.1 320.5 329.3 318.7 326.8 317.9C324.2 317 322 316.6 319.6 316.9C317.3 317.2 314.5 318.3 312.4 319.6C310.4 321 308.5 322.9 307.1 324.9C305.8 327 305 329.8 304.4 332.1C303.9 334.3 304.1 336.9 304.1 338.2C304.1 339.6 304.4 340.1 304.4 340.4" fill="none" stroke="#f2bc58" stroke-width="4.4"/><path d="M305.4 340.1C305.8 339.3 306.6 337.1 308.1 335.6C309.5 334.2 312 332.3 314.2 331.1C316.5 330 319 329.3 321.4 328.9C323.7 328.6 325.9 328.6 328.4 328.9C331 329.3 333.9 330 336.6 331.1C339.2 332.3 342.2 334 344.6 335.6C346.9 337.3 348.8 339.2 350.8 340.9C352.7 342.7 355.4 345.4 356.4 346.2" fill="none" stroke="#b47a18" stroke-width="1.2"/></g>
<path d="M355.9 342.4C354.9 341.3 352.1 338 349.9 335.6C347.7 333.3 345.3 330.8 342.8 328.6C340.2 326.3 337.4 324 334.8 322.2C332.1 320.5 329.3 318.7 326.8 317.9C324.2 317 322 316.6 319.6 316.9C317.3 317.2 314.5 318.3 312.4 319.6C310.4 321 308.5 322.9 307.1 324.9C305.8 327 305 329.8 304.4 332.1C303.9 334.3 304.1 336.9 304.1 338.2C304.1 339.6 304.4 340.1 304.4 340.4L305.4 340.1C305.8 339.3 306.6 337.1 308.1 335.6C309.5 334.2 312 332.3 314.2 331.1C316.5 330 319 329.3 321.4 328.9C323.7 328.6 325.9 328.6 328.4 328.9C331 329.3 333.9 330 336.6 331.1C339.2 332.3 342.2 334 344.6 335.6C346.9 337.3 348.8 339.2 350.8 340.9C352.7 342.7 355.4 345.4 356.4 346.2Z" fill="none" stroke="#c58a22" stroke-width="0.5" stroke-linejoin="round" opacity="0.8"/>
<clipPath id="cd2s2"><path d="M314.3 389.2C315.4 388.2 318.8 385.3 321.1 383.1C323.4 380.9 326 378.5 328.2 376C330.4 373.5 332.7 370.7 334.5 368C336.3 365.3 338 362.5 338.9 360C339.8 357.5 340.1 355.3 339.8 352.9C339.5 350.5 338.4 347.8 337.1 345.7C335.8 343.6 333.9 341.7 331.8 340.4C329.7 339.1 326.9 338.2 324.7 337.7C322.5 337.2 319.9 337.3 318.5 337.3C317.1 337.3 316.7 337.6 316.3 337.7L316.7 338.6C317.4 339.1 319.6 339.8 321.1 341.3C322.6 342.8 324.5 345.3 325.6 347.5C326.7 349.7 327.4 352.2 327.8 354.6C328.2 357 328.2 359.2 327.8 361.7C327.4 364.2 326.7 367.1 325.6 369.8C324.5 372.5 322.7 375.4 321.1 377.8C319.5 380.2 317.6 382 315.8 384C314 386 311.4 388.7 310.5 389.6Z"/></clipPath>
<path d="M314.3 389.2C315.4 388.2 318.8 385.3 321.1 383.1C323.4 380.9 326 378.5 328.2 376C330.4 373.5 332.7 370.7 334.5 368C336.3 365.3 338 362.5 338.9 360C339.8 357.5 340.1 355.3 339.8 352.9C339.5 350.5 338.4 347.8 337.1 345.7C335.8 343.6 333.9 341.7 331.8 340.4C329.7 339.1 326.9 338.2 324.7 337.7C322.5 337.2 319.9 337.3 318.5 337.3C317.1 337.3 316.7 337.6 316.3 337.7L316.7 338.6C317.4 339.1 319.6 339.8 321.1 341.3C322.6 342.8 324.5 345.3 325.6 347.5C326.7 349.7 327.4 352.2 327.8 354.6C328.2 357 328.2 359.2 327.8 361.7C327.4 364.2 326.7 367.1 325.6 369.8C324.5 372.5 322.7 375.4 321.1 377.8C319.5 380.2 317.6 382 315.8 384C314 386 311.4 388.7 310.5 389.6Z" fill="#fff"/>
<g clip-path="url(#cd2s2)"><path d="M314.3 389.2C315.4 388.2 318.8 385.3 321.1 383.1C323.4 380.9 326 378.5 328.2 376C330.4 373.5 332.7 370.7 334.5 368C336.3 365.3 338 362.5 338.9 360C339.8 357.5 340.1 355.3 339.8 352.9C339.5 350.5 338.4 347.8 337.1 345.7C335.8 343.6 333.9 341.7 331.8 340.4C329.7 339.1 326.9 338.2 324.7 337.7C322.5 337.2 319.9 337.3 318.5 337.3C317.1 337.3 316.7 337.6 316.3 337.7" fill="none" stroke="#f2bc58" stroke-width="4.4"/><path d="M316.7 338.6C317.4 339.1 319.6 339.8 321.1 341.3C322.6 342.8 324.5 345.3 325.6 347.5C326.7 349.7 327.4 352.2 327.8 354.6C328.2 357 328.2 359.2 327.8 361.7C327.4 364.2 326.7 367.1 325.6 369.8C324.5 372.5 322.7 375.4 321.1 377.8C319.5 380.2 317.6 382 315.8 384C314 386 311.4 388.7 310.5 389.6" fill="none" stroke="#b47a18" stroke-width="1.2"/></g>
<path d="M314.3 389.2C315.4 388.2 318.8 385.3 321.1 383.1C323.4 380.9 326 378.5 328.2 376C330.4 373.5 332.7 370.7 334.5 368C336.3 365.3 338 362.5 338.9 360C339.8 357.5 340.1 355.3 339.8 352.9C339.5 350.5 338.4 347.8 337.1 345.7C335.8 343.6 333.9 341.7 331.8 340.4C329.7 339.1 326.9 338.2 324.7 337.7C322.5 337.2 319.9 337.3 318.5 337.3C317.1 337.3 316.7 337.6 316.3 337.7L316.7 338.6C317.4 339.1 319.6 339.8 321.1 341.3C322.6 342.8 324.5 345.3 325.6 347.5C326.7 349.7 327.4 352.2 327.8 354.6C328.2 357 328.2 359.2 327.8 361.7C327.4 364.2 326.7 367.1 325.6 369.8C324.5 372.5 322.7 375.4 321.1 377.8C319.5 380.2 317.6 382 315.8 384C314 386 311.4 388.7 310.5 389.6Z" fill="none" stroke="#c58a22" stroke-width="0.5" stroke-linejoin="round" opacity="0.8"/>
<clipPath id="cd2s3"><path d="M267.6 347.6C268.6 348.7 271.4 352 273.6 354.4C275.8 356.7 278.2 359.2 280.8 361.4C283.3 363.7 286.1 366 288.8 367.8C291.4 369.5 294.2 371.3 296.8 372.1C299.3 373 301.5 373.4 303.9 373.1C306.2 372.8 309 371.7 311.1 370.4C313.1 369 315 367.1 316.4 365.1C317.7 363 318.5 360.2 319.1 357.9C319.6 355.7 319.4 353.1 319.4 351.8C319.4 350.4 319.1 349.9 319.1 349.6L318.1 349.9C317.7 350.7 316.9 352.9 315.4 354.4C314 355.8 311.5 357.7 309.2 358.9C307 360 304.5 360.7 302.1 361.1C299.8 361.4 297.6 361.4 295.1 361.1C292.5 360.7 289.6 360 286.9 358.9C284.3 357.7 281.3 356 278.9 354.4C276.6 352.7 274.7 350.8 272.8 349.1C270.8 347.3 268.1 344.6 267.1 343.8Z"/></clipPath>
<path d="M267.6 347.6C268.6 348.7 271.4 352 273.6 354.4C275.8 356.7 278.2 359.2 280.8 361.4C283.3 363.7 286.1 366 288.8 367.8C291.4 369.5 294.2 371.3 296.8 372.1C299.3 373 301.5 373.4 303.9 373.1C306.2 372.8 309 371.7 311.1 370.4C313.1 369 315 367.1 316.4 365.1C317.7 363 318.5 360.2 319.1 357.9C319.6 355.7 319.4 353.1 319.4 351.8C319.4 350.4 319.1 349.9 319.1 349.6L318.1 349.9C317.7 350.7 316.9 352.9 315.4 354.4C314 355.8 311.5 357.7 309.2 358.9C307 360 304.5 360.7 302.1 361.1C299.8 361.4 297.6 361.4 295.1 361.1C292.5 360.7 289.6 360 286.9 358.9C284.3 357.7 281.3 356 278.9 354.4C276.6 352.7 274.7 350.8 272.8 349.1C270.8 347.3 268.1 344.6 267.1 343.8Z" fill="#fff"/>
<g clip-path="url(#cd2s3)"><path d="M267.6 347.6C268.6 348.7 271.4 352 273.6 354.4C275.8 356.7 278.2 359.2 280.8 361.4C283.3 363.7 286.1 366 288.8 367.8C291.4 369.5 294.2 371.3 296.8 372.1C299.3 373 301.5 373.4 303.9 373.1C306.2 372.8 309 371.7 311.1 370.4C313.1 369 315 367.1 316.4 365.1C317.7 363 318.5 360.2 319.1 357.9C319.6 355.7 319.4 353.1 319.4 351.8C319.4 350.4 319.1 349.9 319.1 349.6" fill="none" stroke="#f2bc58" stroke-width="4.4"/><path d="M318.1 349.9C317.7 350.7 316.9 352.9 315.4 354.4C314 355.8 311.5 357.7 309.2 358.9C307 360 304.5 360.7 302.1 361.1C299.8 361.4 297.6 361.4 295.1 361.1C292.5 360.7 289.6 360 286.9 358.9C284.3 357.7 281.3 356 278.9 354.4C276.6 352.7 274.7 350.8 272.8 349.1C270.8 347.3 268.1 344.6 267.1 343.8" fill="none" stroke="#b47a18" stroke-width="1.2"/></g>
<path d="M267.6 347.6C268.6 348.7 271.4 352 273.6 354.4C275.8 356.7 278.2 359.2 280.8 361.4C283.3 363.7 286.1 366 288.8 367.8C291.4 369.5 294.2 371.3 296.8 372.1C299.3 373 301.5 373.4 303.9 373.1C306.2 372.8 309 371.7 311.1 370.4C313.1 369 315 367.1 316.4 365.1C317.7 363 318.5 360.2 319.1 357.9C319.6 355.7 319.4 353.1 319.4 351.8C319.4 350.4 319.1 349.9 319.1 349.6L318.1 349.9C317.7 350.7 316.9 352.9 315.4 354.4C314 355.8 311.5 357.7 309.2 358.9C307 360 304.5 360.7 302.1 361.1C299.8 361.4 297.6 361.4 295.1 361.1C292.5 360.7 289.6 360 286.9 358.9C284.3 357.7 281.3 356 278.9 354.4C276.6 352.7 274.7 350.8 272.8 349.1C270.8 347.3 268.1 344.6 267.1 343.8Z" fill="none" stroke="#c58a22" stroke-width="0.5" stroke-linejoin="round" opacity="0.8"/>
</g>
<circle cx="499.4" cy="344.9" r="52" fill="url(#gd)"/>
<circle cx="499.4" cy="344.9" r="52" fill="url(#gdr)"/>
<clipPath id="cd3"><circle cx="499.4" cy="344.9" r="51"/></clipPath>
<g clip-path="url(#cd3)">
<path d="M494.2 352C493.3 351.8 490.7 351.6 488.8 350.9C486.9 350.2 484.4 349.1 482.6 347.8C480.8 346.6 479.2 345 478.1 343.4C477 341.8 476.1 339.9 475.9 338C475.7 336.1 476 334.2 476.8 331.8C477.6 329.4 479.1 326.5 480.8 323.8C482.5 321.1 484.9 318.5 487 315.8C489.1 313.1 491.3 310.3 493.3 307.8C495.3 305.3 498.2 302.1 499.2 301" fill="none" stroke="#a4680c" stroke-width="5.6" opacity="0.7" filter="url(#b1)"/>
<path d="M497.5 300.8C496.4 302 492.9 305.3 490.6 307.8C488.3 310.3 485.7 313.1 483.5 315.8C481.3 318.5 479 321.1 477.2 323.8C475.4 326.5 473.7 329.4 472.8 331.8C471.9 334.2 471.7 335.9 471.9 338C472.1 340.1 472.9 342.4 474.1 344.3C475.3 346.2 477.1 348.3 479 349.6C480.9 350.9 483.1 351.7 485.3 352.3C487.5 352.9 490.7 353.1 492.4 353.2C494.1 353.3 494.9 352.8 495.4 352.7" fill="none" stroke="#ffdc90" stroke-width="3.9" opacity="0.75" filter="url(#b1)"/>
<path d="M490.7 344C490.4 343.1 489.3 340.8 488.9 338.7C488.6 336.7 488.3 334 488.5 331.8C488.7 329.7 489.2 327.5 490.1 325.7C490.9 323.9 492.1 322.3 493.7 321.1C495.2 320 497 319.3 499.5 318.8C501.9 318.3 505.3 318.1 508.4 318.3C511.6 318.4 515.1 319.2 518.4 319.6C521.8 320.1 525.4 320.6 528.5 321.1C531.7 321.6 535.9 322.5 537.4 322.8" fill="none" stroke="#a4680c" stroke-width="5.6" opacity="0.7" filter="url(#b1)"/>
<path d="M536.7 321.2C535.1 320.8 530.5 319.5 527.2 318.8C523.8 318 520.1 317.2 516.7 316.6C513.3 316 509.8 315.4 506.6 315.1C503.4 314.9 500 314.9 497.5 315.3C495 315.8 493.4 316.4 491.7 317.7C490 318.9 488.4 320.7 487.3 322.7C486.2 324.7 485.4 327.3 485.2 329.6C485 331.9 485.4 334.2 486 336.4C486.6 338.6 488 341.5 488.8 343C489.5 344.5 490.4 345 490.7 345.4" fill="none" stroke="#ffdc90" stroke-width="3.9" opacity="0.75" filter="url(#b1)"/>
<path d="M495.9 336.9C496.5 336.2 498 334.1 499.5 332.8C501.1 331.5 503.4 329.9 505.3 329C507.3 328.1 509.4 327.4 511.4 327.3C513.4 327.1 515.4 327.3 517.2 328.1C519 328.9 520.4 330.1 522.1 332C523.7 333.8 525.6 336.6 527 339.4C528.5 342.2 529.6 345.6 530.8 348.8C532.1 351.9 533.5 355.2 534.6 358.2C535.7 361.2 537.1 365.3 537.6 366.8" fill="none" stroke="#a4680c" stroke-width="5.6" opacity="0.7" filter="url(#b1)"/>
<path d="M538.6 365.4C538.1 363.8 537 359.2 536 355.9C535 352.6 533.8 349 532.6 345.8C531.4 342.5 530.2 339.2 528.8 336.3C527.4 333.4 525.7 330.4 524.1 328.5C522.5 326.5 521.1 325.5 519.2 324.6C517.3 323.8 514.9 323.3 512.6 323.4C510.3 323.4 507.7 324 505.6 325C503.5 325.9 501.7 327.4 500.1 329.1C498.4 330.7 496.7 333.3 495.8 334.8C494.9 336.2 494.9 337.1 494.7 337.6" fill="none" stroke="#ffdc90" stroke-width="3.9" opacity="0.75" filter="url(#b1)"/>
<path d="M504.6 337.9C505.5 338.1 508.1 338.3 510 339C511.9 339.7 514.4 340.8 516.2 342.1C518 343.3 519.6 344.9 520.7 346.5C521.8 348.1 522.7 350 522.9 351.9C523.1 353.8 522.8 355.7 522 358.1C521.2 360.5 519.7 363.4 518 366.1C516.3 368.8 513.9 371.4 511.8 374.1C509.7 376.8 507.5 379.6 505.5 382.1C503.5 384.6 500.6 387.8 499.6 388.9" fill="none" stroke="#a4680c" stroke-width="5.6" opacity="0.7" filter="url(#b1)"/>
<path d="M501.3 389.1C502.4 387.9 505.9 384.6 508.2 382.1C510.5 379.6 513.1 376.8 515.3 374.1C517.5 371.4 519.8 368.8 521.6 366.1C523.4 363.4 525.1 360.5 526 358.1C526.9 355.7 527.1 354 526.9 351.9C526.7 349.8 525.9 347.5 524.7 345.6C523.5 343.7 521.7 341.6 519.8 340.3C517.9 339 515.7 338.2 513.5 337.6C511.3 337 508.1 336.8 506.4 336.7C504.7 336.6 503.9 337.1 503.4 337.2" fill="none" stroke="#ffdc90" stroke-width="3.9" opacity="0.75" filter="url(#b1)"/>
<path d="M508.1 345.9C508.4 346.8 509.5 349.1 509.9 351.2C510.2 353.2 510.5 355.9 510.3 358.1C510.1 360.2 509.6 362.4 508.7 364.2C507.9 366 506.7 367.6 505.1 368.8C503.6 369.9 501.8 370.6 499.3 371.1C496.9 371.6 493.5 371.8 490.4 371.6C487.2 371.5 483.7 370.7 480.4 370.3C477 369.8 473.4 369.3 470.3 368.8C467.1 368.3 462.9 367.4 461.4 367.1" fill="none" stroke="#a4680c" stroke-width="5.6" opacity="0.7" filter="url(#b1)"/>
<path d="M462.1 368.7C463.7 369.1 468.3 370.4 471.6 371.1C475 371.9 478.7 372.7 482.1 373.3C485.5 373.9 489 374.5 492.2 374.8C495.4 375 498.8 375 501.3 374.6C503.8 374.1 505.4 373.5 507.1 372.2C508.8 371 510.4 369.2 511.5 367.2C512.6 365.2 513.4 362.6 513.6 360.3C513.8 358 513.4 355.7 512.8 353.5C512.2 351.3 510.8 348.4 510 346.9C509.3 345.4 508.4 344.9 508.1 344.5" fill="none" stroke="#ffdc90" stroke-width="3.9" opacity="0.75" filter="url(#b1)"/>
<path d="M502.9 353C502.3 353.7 500.8 355.8 499.3 357.1C497.7 358.4 495.4 360 493.5 360.9C491.5 361.8 489.4 362.5 487.4 362.6C485.4 362.8 483.4 362.6 481.6 361.8C479.8 361 478.4 359.8 476.7 357.9C475.1 356.1 473.2 353.3 471.8 350.5C470.3 347.7 469.2 344.3 468 341.1C466.7 338 465.3 334.7 464.2 331.7C463.1 328.7 461.7 324.6 461.2 323.1" fill="none" stroke="#a4680c" stroke-width="5.6" opacity="0.7" filter="url(#b1)"/>
<path d="M460.2 324.5C460.7 326.1 461.8 330.7 462.8 334C463.8 337.3 465 340.9 466.2 344.1C467.4 347.4 468.6 350.7 470 353.6C471.4 356.5 473.1 359.5 474.7 361.4C476.3 363.4 477.7 364.4 479.6 365.3C481.5 366.1 483.9 366.6 486.2 366.5C488.5 366.5 491.1 365.9 493.2 364.9C495.3 364 497.1 362.5 498.7 360.8C500.4 359.2 502.1 356.6 503 355.1C503.9 353.7 503.9 352.8 504.1 352.3" fill="none" stroke="#ffdc90" stroke-width="3.9" opacity="0.75" filter="url(#b1)"/>
<clipPath id="cd3s0"><path d="M497.5 300.8C496.4 302 492.9 305.3 490.6 307.8C488.3 310.3 485.7 313.1 483.5 315.8C481.3 318.5 479 321.1 477.2 323.8C475.4 326.5 473.7 329.4 472.8 331.8C471.9 334.2 471.7 335.9 471.9 338C472.1 340.1 472.9 342.4 474.1 344.3C475.3 346.2 477.1 348.3 479 349.6C480.9 350.9 483.1 351.7 485.3 352.3C487.5 352.9 490.7 353.1 492.4 353.2C494.1 353.3 494.9 352.8 495.4 352.7L494.2 352C493.3 351.8 490.7 351.6 488.8 350.9C486.9 350.2 484.4 349.1 482.6 347.8C480.8 346.6 479.2 345 478.1 343.4C477 341.8 476.1 339.9 475.9 338C475.7 336.1 476 334.2 476.8 331.8C477.6 329.4 479.1 326.5 480.8 323.8C482.5 321.1 484.9 318.5 487 315.8C489.1 313.1 491.3 310.3 493.3 307.8C495.3 305.3 498.2 302.1 499.2 301Z"/></clipPath>
<path d="M497.5 300.8C496.4 302 492.9 305.3 490.6 307.8C488.3 310.3 485.7 313.1 483.5 315.8C481.3 318.5 479 321.1 477.2 323.8C475.4 326.5 473.7 329.4 472.8 331.8C471.9 334.2 471.7 335.9 471.9 338C472.1 340.1 472.9 342.4 474.1 344.3C475.3 346.2 477.1 348.3 479 349.6C480.9 350.9 483.1 351.7 485.3 352.3C487.5 352.9 490.7 353.1 492.4 353.2C494.1 353.3 494.9 352.8 495.4 352.7L494.2 352C493.3 351.8 490.7 351.6 488.8 350.9C486.9 350.2 484.4 349.1 482.6 347.8C480.8 346.6 479.2 345 478.1 343.4C477 341.8 476.1 339.9 475.9 338C475.7 336.1 476 334.2 476.8 331.8C477.6 329.4 479.1 326.5 480.8 323.8C482.5 321.1 484.9 318.5 487 315.8C489.1 313.1 491.3 310.3 493.3 307.8C495.3 305.3 498.2 302.1 499.2 301Z" fill="#fff"/>
<g clip-path="url(#cd3s0)"><path d="M497.5 300.8C496.4 302 492.9 305.3 490.6 307.8C488.3 310.3 485.7 313.1 483.5 315.8C481.3 318.5 479 321.1 477.2 323.8C475.4 326.5 473.7 329.4 472.8 331.8C471.9 334.2 471.7 335.9 471.9 338C472.1 340.1 472.9 342.4 474.1 344.3C475.3 346.2 477.1 348.3 479 349.6C480.9 350.9 483.1 351.7 485.3 352.3C487.5 352.9 490.7 353.1 492.4 353.2C494.1 353.3 494.9 352.8 495.4 352.7" fill="none" stroke="#f2bc58" stroke-width="1.6"/><path d="M494.2 352C493.3 351.8 490.7 351.6 488.8 350.9C486.9 350.2 484.4 349.1 482.6 347.8C480.8 346.6 479.2 345 478.1 343.4C477 341.8 476.1 339.9 475.9 338C475.7 336.1 476 334.2 476.8 331.8C477.6 329.4 479.1 326.5 480.8 323.8C482.5 321.1 484.9 318.5 487 315.8C489.1 313.1 491.3 310.3 493.3 307.8C495.3 305.3 498.2 302.1 499.2 301" fill="none" stroke="#b47a18" stroke-width="0.7"/></g>
<path d="M497.5 300.8C496.4 302 492.9 305.3 490.6 307.8C488.3 310.3 485.7 313.1 483.5 315.8C481.3 318.5 479 321.1 477.2 323.8C475.4 326.5 473.7 329.4 472.8 331.8C471.9 334.2 471.7 335.9 471.9 338C472.1 340.1 472.9 342.4 474.1 344.3C475.3 346.2 477.1 348.3 479 349.6C480.9 350.9 483.1 351.7 485.3 352.3C487.5 352.9 490.7 353.1 492.4 353.2C494.1 353.3 494.9 352.8 495.4 352.7L494.2 352C493.3 351.8 490.7 351.6 488.8 350.9C486.9 350.2 484.4 349.1 482.6 347.8C480.8 346.6 479.2 345 478.1 343.4C477 341.8 476.1 339.9 475.9 338C475.7 336.1 476 334.2 476.8 331.8C477.6 329.4 479.1 326.5 480.8 323.8C482.5 321.1 484.9 318.5 487 315.8C489.1 313.1 491.3 310.3 493.3 307.8C495.3 305.3 498.2 302.1 499.2 301Z" fill="none" stroke="#c58a22" stroke-width="0.5" stroke-linejoin="round" opacity="0.8"/>
<clipPath id="cd3s1"><path d="M536.7 321.2C535.1 320.8 530.5 319.5 527.2 318.8C523.8 318 520.1 317.2 516.7 316.6C513.3 316 509.8 315.4 506.6 315.1C503.4 314.9 500 314.9 497.5 315.3C495 315.8 493.4 316.4 491.7 317.7C490 318.9 488.4 320.7 487.3 322.7C486.2 324.7 485.4 327.3 485.2 329.6C485 331.9 485.4 334.2 486 336.4C486.6 338.6 488 341.5 488.8 343C489.5 344.5 490.4 345 490.7 345.4L490.7 344C490.4 343.1 489.3 340.8 488.9 338.7C488.6 336.7 488.3 334 488.5 331.8C488.7 329.7 489.2 327.5 490.1 325.7C490.9 323.9 492.1 322.3 493.7 321.1C495.2 320 497 319.3 499.5 318.8C501.9 318.3 505.3 318.1 508.4 318.3C511.6 318.4 515.1 319.2 518.4 319.6C521.8 320.1 525.4 320.6 528.5 321.1C531.7 321.6 535.9 322.5 537.4 322.8Z"/></clipPath>
<path d="M536.7 321.2C535.1 320.8 530.5 319.5 527.2 318.8C523.8 318 520.1 317.2 516.7 316.6C513.3 316 509.8 315.4 506.6 315.1C503.4 314.9 500 314.9 497.5 315.3C495 315.8 493.4 316.4 491.7 317.7C490 318.9 488.4 320.7 487.3 322.7C486.2 324.7 485.4 327.3 485.2 329.6C485 331.9 485.4 334.2 486 336.4C486.6 338.6 488 341.5 488.8 343C489.5 344.5 490.4 345 490.7 345.4L490.7 344C490.4 343.1 489.3 340.8 488.9 338.7C488.6 336.7 488.3 334 488.5 331.8C488.7 329.7 489.2 327.5 490.1 325.7C490.9 323.9 492.1 322.3 493.7 321.1C495.2 320 497 319.3 499.5 318.8C501.9 318.3 505.3 318.1 508.4 318.3C511.6 318.4 515.1 319.2 518.4 319.6C521.8 320.1 525.4 320.6 528.5 321.1C531.7 321.6 535.9 322.5 537.4 322.8Z" fill="#fff"/>
<g clip-path="url(#cd3s1)"><path d="M536.7 321.2C535.1 320.8 530.5 319.5 527.2 318.8C523.8 318 520.1 317.2 516.7 316.6C513.3 316 509.8 315.4 506.6 315.1C503.4 314.9 500 314.9 497.5 315.3C495 315.8 493.4 316.4 491.7 317.7C490 318.9 488.4 320.7 487.3 322.7C486.2 324.7 485.4 327.3 485.2 329.6C485 331.9 485.4 334.2 486 336.4C486.6 338.6 488 341.5 488.8 343C489.5 344.5 490.4 345 490.7 345.4" fill="none" stroke="#f2bc58" stroke-width="1.6"/><path d="M490.7 344C490.4 343.1 489.3 340.8 488.9 338.7C488.6 336.7 488.3 334 488.5 331.8C488.7 329.7 489.2 327.5 490.1 325.7C490.9 323.9 492.1 322.3 493.7 321.1C495.2 320 497 319.3 499.5 318.8C501.9 318.3 505.3 318.1 508.4 318.3C511.6 318.4 515.1 319.2 518.4 319.6C521.8 320.1 525.4 320.6 528.5 321.1C531.7 321.6 535.9 322.5 537.4 322.8" fill="none" stroke="#b47a18" stroke-width="0.7"/></g>
<path d="M536.7 321.2C535.1 320.8 530.5 319.5 527.2 318.8C523.8 318 520.1 317.2 516.7 316.6C513.3 316 509.8 315.4 506.6 315.1C503.4 314.9 500 314.9 497.5 315.3C495 315.8 493.4 316.4 491.7 317.7C490 318.9 488.4 320.7 487.3 322.7C486.2 324.7 485.4 327.3 485.2 329.6C485 331.9 485.4 334.2 486 336.4C486.6 338.6 488 341.5 488.8 343C489.5 344.5 490.4 345 490.7 345.4L490.7 344C490.4 343.1 489.3 340.8 488.9 338.7C488.6 336.7 488.3 334 488.5 331.8C488.7 329.7 489.2 327.5 490.1 325.7C490.9 323.9 492.1 322.3 493.7 321.1C495.2 320 497 319.3 499.5 318.8C501.9 318.3 505.3 318.1 508.4 318.3C511.6 318.4 515.1 319.2 518.4 319.6C521.8 320.1 525.4 320.6 528.5 321.1C531.7 321.6 535.9 322.5 537.4 322.8Z" fill="none" stroke="#c58a22" stroke-width="0.5" stroke-linejoin="round" opacity="0.8"/>
<clipPath id="cd3s2"><path d="M538.6 365.4C538.1 363.8 537 359.2 536 355.9C535 352.6 533.8 349 532.6 345.8C531.4 342.5 530.2 339.2 528.8 336.3C527.4 333.4 525.7 330.4 524.1 328.5C522.5 326.5 521.1 325.5 519.2 324.6C517.3 323.8 514.9 323.3 512.6 323.4C510.3 323.4 507.7 324 505.6 325C503.5 325.9 501.7 327.4 500.1 329.1C498.4 330.7 496.7 333.3 495.8 334.8C494.9 336.2 494.9 337.1 494.7 337.6L495.9 336.9C496.5 336.2 498 334.1 499.5 332.8C501.1 331.5 503.4 329.9 505.3 329C507.3 328.1 509.4 327.4 511.4 327.3C513.4 327.1 515.4 327.3 517.2 328.1C519 328.9 520.4 330.1 522.1 332C523.7 333.8 525.6 336.6 527 339.4C528.5 342.2 529.6 345.6 530.8 348.8C532.1 351.9 533.5 355.2 534.6 358.2C535.7 361.2 537.1 365.3 537.6 366.8Z"/></clipPath>
<path d="M538.6 365.4C538.1 363.8 537 359.2 536 355.9C535 352.6 533.8 349 532.6 345.8C531.4 342.5 530.2 339.2 528.8 336.3C527.4 333.4 525.7 330.4 524.1 328.5C522.5 326.5 521.1 325.5 519.2 324.6C517.3 323.8 514.9 323.3 512.6 323.4C510.3 323.4 507.7 324 505.6 325C503.5 325.9 501.7 327.4 500.1 329.1C498.4 330.7 496.7 333.3 495.8 334.8C494.9 336.2 494.9 337.1 494.7 337.6L495.9 336.9C496.5 336.2 498 334.1 499.5 332.8C501.1 331.5 503.4 329.9 505.3 329C507.3 328.1 509.4 327.4 511.4 327.3C513.4 327.1 515.4 327.3 517.2 328.1C519 328.9 520.4 330.1 522.1 332C523.7 333.8 525.6 336.6 527 339.4C528.5 342.2 529.6 345.6 530.8 348.8C532.1 351.9 533.5 355.2 534.6 358.2C535.7 361.2 537.1 365.3 537.6 366.8Z" fill="#fff"/>
<g clip-path="url(#cd3s2)"><path d="M538.6 365.4C538.1 363.8 537 359.2 536 355.9C535 352.6 533.8 349 532.6 345.8C531.4 342.5 530.2 339.2 528.8 336.3C527.4 333.4 525.7 330.4 524.1 328.5C522.5 326.5 521.1 325.5 519.2 324.6C517.3 323.8 514.9 323.3 512.6 323.4C510.3 323.4 507.7 324 505.6 325C503.5 325.9 501.7 327.4 500.1 329.1C498.4 330.7 496.7 333.3 495.8 334.8C494.9 336.2 494.9 337.1 494.7 337.6" fill="none" stroke="#f2bc58" stroke-width="1.6"/><path d="M495.9 336.9C496.5 336.2 498 334.1 499.5 332.8C501.1 331.5 503.4 329.9 505.3 329C507.3 328.1 509.4 327.4 511.4 327.3C513.4 327.1 515.4 327.3 517.2 328.1C519 328.9 520.4 330.1 522.1 332C523.7 333.8 525.6 336.6 527 339.4C528.5 342.2 529.6 345.6 530.8 348.8C532.1 351.9 533.5 355.2 534.6 358.2C535.7 361.2 537.1 365.3 537.6 366.8" fill="none" stroke="#b47a18" stroke-width="0.7"/></g>
<path d="M538.6 365.4C538.1 363.8 537 359.2 536 355.9C535 352.6 533.8 349 532.6 345.8C531.4 342.5 530.2 339.2 528.8 336.3C527.4 333.4 525.7 330.4 524.1 328.5C522.5 326.5 521.1 325.5 519.2 324.6C517.3 323.8 514.9 323.3 512.6 323.4C510.3 323.4 507.7 324 505.6 325C503.5 325.9 501.7 327.4 500.1 329.1C498.4 330.7 496.7 333.3 495.8 334.8C494.9 336.2 494.9 337.1 494.7 337.6L495.9 336.9C496.5 336.2 498 334.1 499.5 332.8C501.1 331.5 503.4 329.9 505.3 329C507.3 328.1 509.4 327.4 511.4 327.3C513.4 327.1 515.4 327.3 517.2 328.1C519 328.9 520.4 330.1 522.1 332C523.7 333.8 525.6 336.6 527 339.4C528.5 342.2 529.6 345.6 530.8 348.8C532.1 351.9 533.5 355.2 534.6 358.2C535.7 361.2 537.1 365.3 537.6 366.8Z" fill="none" stroke="#c58a22" stroke-width="0.5" stroke-linejoin="round" opacity="0.8"/>
<clipPath id="cd3s3"><path d="M501.3 389.1C502.4 387.9 505.9 384.6 508.2 382.1C510.5 379.6 513.1 376.8 515.3 374.1C517.5 371.4 519.8 368.8 521.6 366.1C523.4 363.4 525.1 360.5 526 358.1C526.9 355.7 527.1 354 526.9 351.9C526.7 349.8 525.9 347.5 524.7 345.6C523.5 343.7 521.7 341.6 519.8 340.3C517.9 339 515.7 338.2 513.5 337.6C511.3 337 508.1 336.8 506.4 336.7C504.7 336.6 503.9 337.1 503.4 337.2L504.6 337.9C505.5 338.1 508.1 338.3 510 339C511.9 339.7 514.4 340.8 516.2 342.1C518 343.3 519.6 344.9 520.7 346.5C521.8 348.1 522.7 350 522.9 351.9C523.1 353.8 522.8 355.7 522 358.1C521.2 360.5 519.7 363.4 518 366.1C516.3 368.8 513.9 371.4 511.8 374.1C509.7 376.8 507.5 379.6 505.5 382.1C503.5 384.6 500.6 387.8 499.6 388.9Z"/></clipPath>
<path d="M501.3 389.1C502.4 387.9 505.9 384.6 508.2 382.1C510.5 379.6 513.1 376.8 515.3 374.1C517.5 371.4 519.8 368.8 521.6 366.1C523.4 363.4 525.1 360.5 526 358.1C526.9 355.7 527.1 354 526.9 351.9C526.7 349.8 525.9 347.5 524.7 345.6C523.5 343.7 521.7 341.6 519.8 340.3C517.9 339 515.7 338.2 513.5 337.6C511.3 337 508.1 336.8 506.4 336.7C504.7 336.6 503.9 337.1 503.4 337.2L504.6 337.9C505.5 338.1 508.1 338.3 510 339C511.9 339.7 514.4 340.8 516.2 342.1C518 343.3 519.6 344.9 520.7 346.5C521.8 348.1 522.7 350 522.9 351.9C523.1 353.8 522.8 355.7 522 358.1C521.2 360.5 519.7 363.4 518 366.1C516.3 368.8 513.9 371.4 511.8 374.1C509.7 376.8 507.5 379.6 505.5 382.1C503.5 384.6 500.6 387.8 499.6 388.9Z" fill="#fff"/>
<g clip-path="url(#cd3s3)"><path d="M501.3 389.1C502.4 387.9 505.9 384.6 508.2 382.1C510.5 379.6 513.1 376.8 515.3 374.1C517.5 371.4 519.8 368.8 521.6 366.1C523.4 363.4 525.1 360.5 526 358.1C526.9 355.7 527.1 354 526.9 351.9C526.7 349.8 525.9 347.5 524.7 345.6C523.5 343.7 521.7 341.6 519.8 340.3C517.9 339 515.7 338.2 513.5 337.6C511.3 337 508.1 336.8 506.4 336.7C504.7 336.6 503.9 337.1 503.4 337.2" fill="none" stroke="#f2bc58" stroke-width="1.6"/><path d="M504.6 337.9C505.5 338.1 508.1 338.3 510 339C511.9 339.7 514.4 340.8 516.2 342.1C518 343.3 519.6 344.9 520.7 346.5C521.8 348.1 522.7 350 522.9 351.9C523.1 353.8 522.8 355.7 522 358.1C521.2 360.5 519.7 363.4 518 366.1C516.3 368.8 513.9 371.4 511.8 374.1C509.7 376.8 507.5 379.6 505.5 382.1C503.5 384.6 500.6 387.8 499.6 388.9" fill="none" stroke="#b47a18" stroke-width="0.7"/></g>
<path d="M501.3 389.1C502.4 387.9 505.9 384.6 508.2 382.1C510.5 379.6 513.1 376.8 515.3 374.1C517.5 371.4 519.8 368.8 521.6 366.1C523.4 363.4 525.1 360.5 526 358.1C526.9 355.7 527.1 354 526.9 351.9C526.7 349.8 525.9 347.5 524.7 345.6C523.5 343.7 521.7 341.6 519.8 340.3C517.9 339 515.7 338.2 513.5 337.6C511.3 337 508.1 336.8 506.4 336.7C504.7 336.6 503.9 337.1 503.4 337.2L504.6 337.9C505.5 338.1 508.1 338.3 510 339C511.9 339.7 514.4 340.8 516.2 342.1C518 343.3 519.6 344.9 520.7 346.5C521.8 348.1 522.7 350 522.9 351.9C523.1 353.8 522.8 355.7 522 358.1C521.2 360.5 519.7 363.4 518 366.1C516.3 368.8 513.9 371.4 511.8 374.1C509.7 376.8 507.5 379.6 505.5 382.1C503.5 384.6 500.6 387.8 499.6 388.9Z" fill="none" stroke="#c58a22" stroke-width="0.5" stroke-linejoin="round" opacity="0.8"/>
<clipPath id="cd3s4"><path d="M462.1 368.7C463.7 369.1 468.3 370.4 471.6 371.1C475 371.9 478.7 372.7 482.1 373.3C485.5 373.9 489 374.5 492.2 374.8C495.4 375 498.8 375 501.3 374.6C503.8 374.1 505.4 373.5 507.1 372.2C508.8 371 510.4 369.2 511.5 367.2C512.6 365.2 513.4 362.6 513.6 360.3C513.8 358 513.4 355.7 512.8 353.5C512.2 351.3 510.8 348.4 510 346.9C509.3 345.4 508.4 344.9 508.1 344.5L508.1 345.9C508.4 346.8 509.5 349.1 509.9 351.2C510.2 353.2 510.5 355.9 510.3 358.1C510.1 360.2 509.6 362.4 508.7 364.2C507.9 366 506.7 367.6 505.1 368.8C503.6 369.9 501.8 370.6 499.3 371.1C496.9 371.6 493.5 371.8 490.4 371.6C487.2 371.5 483.7 370.7 480.4 370.3C477 369.8 473.4 369.3 470.3 368.8C467.1 368.3 462.9 367.4 461.4 367.1Z"/></clipPath>
<path d="M462.1 368.7C463.7 369.1 468.3 370.4 471.6 371.1C475 371.9 478.7 372.7 482.1 373.3C485.5 373.9 489 374.5 492.2 374.8C495.4 375 498.8 375 501.3 374.6C503.8 374.1 505.4 373.5 507.1 372.2C508.8 371 510.4 369.2 511.5 367.2C512.6 365.2 513.4 362.6 513.6 360.3C513.8 358 513.4 355.7 512.8 353.5C512.2 351.3 510.8 348.4 510 346.9C509.3 345.4 508.4 344.9 508.1 344.5L508.1 345.9C508.4 346.8 509.5 349.1 509.9 351.2C510.2 353.2 510.5 355.9 510.3 358.1C510.1 360.2 509.6 362.4 508.7 364.2C507.9 366 506.7 367.6 505.1 368.8C503.6 369.9 501.8 370.6 499.3 371.1C496.9 371.6 493.5 371.8 490.4 371.6C487.2 371.5 483.7 370.7 480.4 370.3C477 369.8 473.4 369.3 470.3 368.8C467.1 368.3 462.9 367.4 461.4 367.1Z" fill="#fff"/>
<g clip-path="url(#cd3s4)"><path d="M462.1 368.7C463.7 369.1 468.3 370.4 471.6 371.1C475 371.9 478.7 372.7 482.1 373.3C485.5 373.9 489 374.5 492.2 374.8C495.4 375 498.8 375 501.3 374.6C503.8 374.1 505.4 373.5 507.1 372.2C508.8 371 510.4 369.2 511.5 367.2C512.6 365.2 513.4 362.6 513.6 360.3C513.8 358 513.4 355.7 512.8 353.5C512.2 351.3 510.8 348.4 510 346.9C509.3 345.4 508.4 344.9 508.1 344.5" fill="none" stroke="#f2bc58" stroke-width="1.6"/><path d="M508.1 345.9C508.4 346.8 509.5 349.1 509.9 351.2C510.2 353.2 510.5 355.9 510.3 358.1C510.1 360.2 509.6 362.4 508.7 364.2C507.9 366 506.7 367.6 505.1 368.8C503.6 369.9 501.8 370.6 499.3 371.1C496.9 371.6 493.5 371.8 490.4 371.6C487.2 371.5 483.7 370.7 480.4 370.3C477 369.8 473.4 369.3 470.3 368.8C467.1 368.3 462.9 367.4 461.4 367.1" fill="none" stroke="#b47a18" stroke-width="0.7"/></g>
<path d="M462.1 368.7C463.7 369.1 468.3 370.4 471.6 371.1C475 371.9 478.7 372.7 482.1 373.3C485.5 373.9 489 374.5 492.2 374.8C495.4 375 498.8 375 501.3 374.6C503.8 374.1 505.4 373.5 507.1 372.2C508.8 371 510.4 369.2 511.5 367.2C512.6 365.2 513.4 362.6 513.6 360.3C513.8 358 513.4 355.7 512.8 353.5C512.2 351.3 510.8 348.4 510 346.9C509.3 345.4 508.4 344.9 508.1 344.5L508.1 345.9C508.4 346.8 509.5 349.1 509.9 351.2C510.2 353.2 510.5 355.9 510.3 358.1C510.1 360.2 509.6 362.4 508.7 364.2C507.9 366 506.7 367.6 505.1 368.8C503.6 369.9 501.8 370.6 499.3 371.1C496.9 371.6 493.5 371.8 490.4 371.6C487.2 371.5 483.7 370.7 480.4 370.3C477 369.8 473.4 369.3 470.3 368.8C467.1 368.3 462.9 367.4 461.4 367.1Z" fill="none" stroke="#c58a22" stroke-width="0.5" stroke-linejoin="round" opacity="0.8"/>
<clipPath id="cd3s5"><path d="M460.2 324.5C460.7 326.1 461.8 330.7 462.8 334C463.8 337.3 465 340.9 466.2 344.1C467.4 347.4 468.6 350.7 470 353.6C471.4 356.5 473.1 359.5 474.7 361.4C476.3 363.4 477.7 364.4 479.6 365.3C481.5 366.1 483.9 366.6 486.2 366.5C488.5 366.5 491.1 365.9 493.2 364.9C495.3 364 497.1 362.5 498.7 360.8C500.4 359.2 502.1 356.6 503 355.1C503.9 353.7 503.9 352.8 504.1 352.3L502.9 353C502.3 353.7 500.8 355.8 499.3 357.1C497.7 358.4 495.4 360 493.5 360.9C491.5 361.8 489.4 362.5 487.4 362.6C485.4 362.8 483.4 362.6 481.6 361.8C479.8 361 478.4 359.8 476.7 357.9C475.1 356.1 473.2 353.3 471.8 350.5C470.3 347.7 469.2 344.3 468 341.1C466.7 338 465.3 334.7 464.2 331.7C463.1 328.7 461.7 324.6 461.2 323.1Z"/></clipPath>
<path d="M460.2 324.5C460.7 326.1 461.8 330.7 462.8 334C463.8 337.3 465 340.9 466.2 344.1C467.4 347.4 468.6 350.7 470 353.6C471.4 356.5 473.1 359.5 474.7 361.4C476.3 363.4 477.7 364.4 479.6 365.3C481.5 366.1 483.9 366.6 486.2 366.5C488.5 366.5 491.1 365.9 493.2 364.9C495.3 364 497.1 362.5 498.7 360.8C500.4 359.2 502.1 356.6 503 355.1C503.9 353.7 503.9 352.8 504.1 352.3L502.9 353C502.3 353.7 500.8 355.8 499.3 357.1C497.7 358.4 495.4 360 493.5 360.9C491.5 361.8 489.4 362.5 487.4 362.6C485.4 362.8 483.4 362.6 481.6 361.8C479.8 361 478.4 359.8 476.7 357.9C475.1 356.1 473.2 353.3 471.8 350.5C470.3 347.7 469.2 344.3 468 341.1C466.7 338 465.3 334.7 464.2 331.7C463.1 328.7 461.7 324.6 461.2 323.1Z" fill="#fff"/>
<g clip-path="url(#cd3s5)"><path d="M460.2 324.5C460.7 326.1 461.8 330.7 462.8 334C463.8 337.3 465 340.9 466.2 344.1C467.4 347.4 468.6 350.7 470 353.6C471.4 356.5 473.1 359.5 474.7 361.4C476.3 363.4 477.7 364.4 479.6 365.3C481.5 366.1 483.9 366.6 486.2 366.5C488.5 366.5 491.1 365.9 493.2 364.9C495.3 364 497.1 362.5 498.7 360.8C500.4 359.2 502.1 356.6 503 355.1C503.9 353.7 503.9 352.8 504.1 352.3" fill="none" stroke="#f2bc58" stroke-width="1.6"/><path d="M502.9 353C502.3 353.7 500.8 355.8 499.3 357.1C497.7 358.4 495.4 360 493.5 360.9C491.5 361.8 489.4 362.5 487.4 362.6C485.4 362.8 483.4 362.6 481.6 361.8C479.8 361 478.4 359.8 476.7 357.9C475.1 356.1 473.2 353.3 471.8 350.5C470.3 347.7 469.2 344.3 468 341.1C466.7 338 465.3 334.7 464.2 331.7C463.1 328.7 461.7 324.6 461.2 323.1" fill="none" stroke="#b47a18" stroke-width="0.7"/></g>
<path d="M460.2 324.5C460.7 326.1 461.8 330.7 462.8 334C463.8 337.3 465 340.9 466.2 344.1C467.4 347.4 468.6 350.7 470 353.6C471.4 356.5 473.1 359.5 474.7 361.4C476.3 363.4 477.7 364.4 479.6 365.3C481.5 366.1 483.9 366.6 486.2 366.5C488.5 366.5 491.1 365.9 493.2 364.9C495.3 364 497.1 362.5 498.7 360.8C500.4 359.2 502.1 356.6 503 355.1C503.9 353.7 503.9 352.8 504.1 352.3L502.9 353C502.3 353.7 500.8 355.8 499.3 357.1C497.7 358.4 495.4 360 493.5 360.9C491.5 361.8 489.4 362.5 487.4 362.6C485.4 362.8 483.4 362.6 481.6 361.8C479.8 361 478.4 359.8 476.7 357.9C475.1 356.1 473.2 353.3 471.8 350.5C470.3 347.7 469.2 344.3 468 341.1C466.7 338 465.3 334.7 464.2 331.7C463.1 328.7 461.7 324.6 461.2 323.1Z" fill="none" stroke="#c58a22" stroke-width="0.5" stroke-linejoin="round" opacity="0.8"/>
</g>
<ellipse cx="123.7" cy="463.1" rx="53.9" ry="51.9" fill="url(#semg)"/><ellipse cx="123.7" cy="463.1" rx="53.4" ry="51.4" fill="#000" filter="url(#semn)" opacity="0.18"/>
<path d="M93.9 442.9C94.9 444.6 97.8 449.7 100.2 453.2C102.6 456.6 105.5 460.6 108.2 463.5C110.9 466.3 113.6 468.7 116.2 470.3C118.8 472 122.4 473 123.6 473.5" fill="none" stroke="#bcbcbc" stroke-width="6" stroke-linecap="round" filter="url(#b05)"/>
<path d="M123.9 472.7 L123 472.2 L121.6 471.6 L120.1 470.9 L118.5 470 L117 469 L115.6 467.9 L114.1 466.7 L112.6 465.3 L111.1 463.8 L109.5 462.3 L107.9 460.5 L106.2 458.6 L104.5 456.6 L102.8 454.5 L101.1 452.5 L99.5 450.4 L97.9 448.2 L96.3 446 L95 444.1 L94 442.8 L93.7 443 L94.4 444.4 L95.4 446.5 L96.6 449 L97.9 451.5 L99.2 453.8 L100.6 456.1 L102 458.4 L103.6 460.6 L105.2 462.7 L106.9 464.7 L108.5 466.4 L110.2 468 L111.9 469.4 L113.6 470.6 L115.4 471.7 L117.2 472.6 L119.1 473.2 L120.8 473.7 L122.3 474.1 L123.3 474.4Z" fill="#ececec" filter="url(#b05)"/>
<path d="M162.5 443.2C160.5 443.4 154.4 443.9 150.5 444.5C146.6 445.1 142.9 445.7 139.1 447C135.3 448.3 130.7 450.4 127.6 452.3C124.5 454.2 121.7 457.3 120.5 458.3" fill="none" stroke="#bcbcbc" stroke-width="6" stroke-linecap="round" filter="url(#b05)"/>
<path d="M121.2 459 L122.1 458.2 L123.5 457.1 L125 455.9 L126.7 454.7 L128.5 453.6 L130.5 452.6 L132.7 451.6 L135 450.5 L137.4 449.5 L139.6 448.6 L141.8 447.9 L144 447.2 L146.2 446.7 L148.4 446.1 L150.7 445.6 L153.2 445.1 L155.9 444.6 L158.6 444.1 L160.9 443.7 L162.5 443.4 L162.5 443 L160.9 443.1 L158.5 443.1 L155.8 443.1 L153 443.2 L150.3 443.4 L148 443.6 L145.6 443.9 L143.3 444.2 L140.9 444.7 L138.5 445.4 L136.1 446.2 L133.6 447.2 L131.1 448.4 L128.8 449.6 L126.8 450.9 L124.9 452.3 L123.3 453.9 L121.9 455.5 L120.7 456.8 L119.9 457.7Z" fill="#ececec" filter="url(#b05)"/>
<path d="M125.3 505.2C126.3 503.2 129.2 497.1 131.1 493.2C133 489.3 135.4 485.4 136.8 481.8C138.2 478.2 139.7 474.1 139.3 471.5C138.9 468.9 135.3 467.2 134.5 466.3" fill="none" stroke="#bcbcbc" stroke-width="6" stroke-linecap="round" filter="url(#b05)"/>
<path d="M133.9 467 L134.7 467.7 L135.7 468.7 L136.8 469.7 L137.5 470.8 L137.8 471.8 L137.7 473.1 L137.3 474.8 L136.7 476.8 L135.9 479 L135.1 481.1 L134.3 483.3 L133.2 485.5 L132.1 487.8 L131 490.2 L129.9 492.7 L128.9 495.3 L127.8 498.2 L126.7 501 L125.8 503.5 L125.2 505.2 L125.5 505.3 L126.4 503.7 L127.7 501.5 L129.2 498.9 L130.8 496.2 L132.2 493.8 L133.5 491.5 L134.9 489.3 L136.2 487 L137.4 484.7 L138.4 482.4 L139.3 480.2 L140.1 477.9 L140.6 475.6 L140.9 473.3 L140.8 471.2 L139.9 469.3 L138.6 467.9 L137.1 466.9 L135.9 466.2 L135.1 465.6Z" fill="#ececec" filter="url(#b05)"/>
<path d="M89.9 438.9C89.6 440.1 88.3 443.4 88.2 446.3C88.1 449.3 88.6 453.2 89.3 456.6C90 460 90.7 463.5 92.2 466.9C93.6 470.3 95.6 474.2 97.9 477.2C100.2 480.3 103 483.2 105.9 485.2C108.8 487.2 112.2 488.8 115 489.2C117.9 489.6 120.8 488.7 123.1 487.5C125.3 486.3 127.3 483.9 128.8 481.8C130.3 479.7 131.5 476.8 132.2 474.9C132.9 473 132.8 471.1 132.9 470.3L132.2 469.9C131.3 470.3 128.6 472 126.5 472.6C124.4 473.3 121.9 474.3 119.6 473.8C117.3 473.2 115 471.3 112.8 469.2C110.5 467.1 108.1 464.1 105.9 461.2C103.7 458.3 101.4 454.9 99.6 452C97.8 449.2 96.3 446.3 95 444C93.8 441.8 92.6 439.5 92.2 438.6Z" fill="#1b1b1b" stroke="#1b1b1b" stroke-width="1.2" stroke-linejoin="round"/>
<path d="M164.5 439.2C163.7 438.5 162 436.3 159.7 434.9C157.3 433.5 153.9 432 150.5 430.9C147.1 429.7 142.7 428.5 139.1 428C135.5 427.5 132 427.5 128.8 428C125.5 428.5 122.3 429.5 119.6 430.9C117 432.2 114.4 434 112.8 436C111.1 438 110.5 440.4 109.9 442.9C109.3 445.4 109 448.2 109.3 450.9C109.6 453.6 110.6 456.5 111.6 458.9C112.6 461.3 114.7 464.1 115.3 465.1L116.8 464.1C117 463 117.4 459.8 118.5 457.8C119.5 455.8 121 453.8 123.1 452C125.2 450.3 128.2 448.7 131.1 447.5C133.9 446.2 137 445.4 140.2 444.6C143.5 443.8 147.3 443.3 150.5 442.9C153.8 442.5 157.4 442.5 159.7 442.3C161.9 442.2 163.3 442 164 442Z" fill="#1b1b1b" stroke="#1b1b1b" stroke-width="1.2" stroke-linejoin="round"/>
<path d="M126.3 508.3C127.6 507.9 131.8 507.2 134.5 505.8C137.2 504.4 140 502.6 142.5 500.1C145 497.6 147.4 494.2 149.4 490.9C151.4 487.7 153.4 484.3 154.5 480.6C155.7 477 156.3 472.6 156.2 469.2C156.1 465.8 155.3 462.5 153.9 460C152.6 457.6 150.5 455.7 148.2 454.3C145.9 453 142.9 452.3 140.2 452C137.5 451.8 134 452.2 132.2 452.6C130.4 453 129.7 454 129.2 454.3L129.9 455.5C131.1 456 135 457.2 136.8 458.9C138.6 460.6 140 463.1 140.8 465.8C141.6 468.4 141.7 471.7 141.4 474.9C141 478.2 139.8 481.8 138.5 485.2C137.2 488.6 135.2 492.5 133.4 495.5C131.5 498.6 129 501.6 127.6 503.5C126.3 505.5 125.5 506.6 125.1 507.2Z" fill="#1b1b1b" stroke="#1b1b1b" stroke-width="1.2" stroke-linejoin="round"/>
<ellipse cx="311.2" cy="463.6" rx="51.6" ry="52.2" fill="url(#semg)"/><ellipse cx="311.2" cy="463.6" rx="51.1" ry="51.7" fill="#000" filter="url(#semn)" opacity="0.18"/>
<path d="M312.3 421.7C311.2 423.1 307.5 427.3 305.5 430.3C303.4 433.3 301.2 436.2 300 439.5C298.8 442.7 298 446.4 298.2 449.7C298.3 453.1 300.6 457.9 301.1 459.5" fill="none" stroke="#c6c6c6" stroke-width="5.4" stroke-linecap="round" filter="url(#b05)"/>
<path d="M312.3 421.7C311.2 423.1 307.5 427.3 305.5 430.3C303.4 433.3 301.2 436.2 300 439.5C298.8 442.7 298 446.4 298.2 449.7C298.3 453.1 300.6 457.9 301.1 459.5" fill="none" stroke="#e6e6e6" stroke-width="1.2" filter="url(#b05)"/>
<path d="M352.6 465.8C350.9 464.4 345.6 460 342.1 457.8C338.6 455.5 335.2 453.5 331.8 452.3C328.4 451 324.8 450.2 321.5 450.4C318.2 450.6 313.7 452.9 312.1 453.4" fill="none" stroke="#c6c6c6" stroke-width="5.4" stroke-linecap="round" filter="url(#b05)"/>
<path d="M352.6 465.8C350.9 464.4 345.6 460 342.1 457.8C338.6 455.5 335.2 453.5 331.8 452.3C328.4 451 324.8 450.2 321.5 450.4C318.2 450.6 313.7 452.9 312.1 453.4" fill="none" stroke="#e6e6e6" stroke-width="1.2" filter="url(#b05)"/>
<path d="M310.1 506C311.6 504.7 316.7 500.7 319.2 497.8C321.7 494.9 323.5 492.1 324.9 488.6C326.4 485.2 328 480.9 327.9 477.2C327.8 473.5 324.9 468.4 324.4 466.7" fill="none" stroke="#c6c6c6" stroke-width="5.4" stroke-linecap="round" filter="url(#b05)"/>
<path d="M310.1 506C311.6 504.7 316.7 500.7 319.2 497.8C321.7 494.9 323.5 492.1 324.9 488.6C326.4 485.2 328 480.9 327.9 477.2C327.8 473.5 324.9 468.4 324.4 466.7" fill="none" stroke="#e6e6e6" stroke-width="1.2" filter="url(#b05)"/>
<path d="M270 462.6C271.5 463.5 276.1 466.2 279.2 468.1C282.2 469.9 284.9 472.3 288.3 473.8C291.7 475.2 296 476.6 299.8 476.8C303.5 476.9 308.8 475.2 310.6 474.9" fill="none" stroke="#c6c6c6" stroke-width="5.4" stroke-linecap="round" filter="url(#b05)"/>
<path d="M270 462.6C271.5 463.5 276.1 466.2 279.2 468.1C282.2 469.9 284.9 472.3 288.3 473.8C291.7 475.2 296 476.6 299.8 476.8C303.5 476.9 308.8 475.2 310.6 474.9" fill="none" stroke="#e6e6e6" stroke-width="1.2" filter="url(#b05)"/>
<path d="M310.6 418.6C309.8 419.6 307.7 422.4 305.5 424.6C303.3 426.7 299.9 429 297.5 431.4C295 433.9 292.5 436.6 290.6 439.5C288.7 442.3 287.1 445.6 286 448.6C285 451.7 284.3 454.9 284.3 457.8C284.3 460.6 284.8 463.5 286 465.8C287.3 468.1 289.5 470.2 291.7 471.5C294 472.8 297.3 473.5 299.8 473.8C302.2 474.1 305.2 473.3 306.3 473.2L306.6 472.1C305.7 471.4 302.6 469.9 300.9 468.1C299.2 466.2 297.4 463.7 296.3 461.2C295.3 458.7 294.7 455.9 294.6 453.2C294.5 450.5 294.9 448 295.8 445.2C296.6 442.3 298.1 438.9 299.8 436C301.4 433.2 303.3 430.6 305.5 428C307.6 425.4 311.4 421.5 312.6 420.2Z" fill="#1b1b1b" stroke="#1b1b1b" stroke-width="1.2" stroke-linejoin="round"/>
<path d="M353.8 464.4C353.5 463.5 353.4 461 352.4 458.9C351.4 456.8 349.7 454.5 347.8 452C345.9 449.6 343.4 446.3 340.9 444C338.5 441.7 335.8 439.8 332.9 438.3C330.1 436.8 326.8 435.4 323.8 434.9C320.7 434.3 317.3 434.3 314.6 434.9C312 435.4 309.7 436.8 307.8 438.3C305.9 439.8 304.2 441.7 303.2 444C302.1 446.3 301.7 449.5 301.5 452C301.3 454.6 302 457.9 302 459.1L303.8 458.3C304.4 457.3 306 453.8 307.8 452C309.6 450.3 312.2 448.8 314.6 448C317.1 447.3 319.8 447.2 322.6 447.5C325.5 447.7 328.9 448.6 331.8 449.7C334.7 450.9 337.3 452.6 339.8 454.3C342.3 456 344.7 458.2 346.7 460C348.6 461.9 350.7 464.5 351.5 465.4Z" fill="#1b1b1b" stroke="#1b1b1b" stroke-width="1.2" stroke-linejoin="round"/>
<path d="M311 508.9C312.3 508 316.5 505.6 319.2 503.5C321.9 501.5 324.7 499.3 327.2 496.7C329.7 494 332.3 490.7 334.1 487.5C335.9 484.3 337.3 480.5 338.1 477.2C338.8 474 339.1 470.9 338.7 468.1C338.2 465.2 336.8 462.1 335.2 460C333.7 457.9 331.8 456.5 329.5 455.5C327.2 454.4 323.9 453.9 321.5 453.8C319.1 453.6 316.1 454.2 315 454.3L315.8 456C316.7 456.6 319.8 457.9 321.5 459.5C323.2 461.1 324.9 463.4 326.1 465.8C327.2 468.2 328.2 470.9 328.4 473.8C328.6 476.6 328 479.9 327.2 482.9C326.5 486 325.3 489.2 323.8 492.1C322.3 494.9 320.4 497.6 318.1 500.1C315.7 502.6 311.2 506 309.8 507.2Z" fill="#1b1b1b" stroke="#1b1b1b" stroke-width="1.2" stroke-linejoin="round"/>
<path d="M269.2 464.2C269.5 465 270.1 467.2 271.2 469.2C272.2 471.2 273.8 473.8 275.7 476.1C277.6 478.4 280.1 480.8 282.6 482.9C285.1 485 287.7 487.1 290.6 488.6C293.5 490.2 296.7 491.4 299.8 492.1C302.8 492.7 306.2 493 308.9 492.7C311.6 492.3 314 491.2 315.8 489.8C317.6 488.4 318.9 486.4 319.8 484.1C320.6 481.8 320.9 478.9 320.9 476.1C320.9 473.3 320.1 468.7 319.9 467.3L318.6 468.1C318.2 469 317.2 472.1 315.8 473.8C314.3 475.5 312.3 477.4 310.1 478.4C307.8 479.3 304.9 479.7 302 479.5C299.2 479.3 295.8 478.4 292.9 477.2C290 476.1 287.6 474.3 284.9 472.6C282.2 470.9 279.2 468.6 276.9 466.9C274.5 465.3 271.9 463.4 270.9 462.7Z" fill="#1b1b1b" stroke="#1b1b1b" stroke-width="1.2" stroke-linejoin="round"/>
<ellipse cx="499.8" cy="463.4" rx="52.4" ry="52" fill="url(#semg6)"/><ellipse cx="499.8" cy="463.4" rx="51.9" ry="51.5" fill="#000" filter="url(#semn)" opacity="0.1"/>
<path d="M490.5 432.6 L489.5 433.4 L487.9 434.4 L486.2 435.7 L484.4 437.1 L482.8 438.5 L481.5 439.9 L480.2 441.4 L479 443 L478 444.6 L477.1 446.2 L476.4 447.9 L475.8 449.6 L475.3 451.3 L475 453 L474.9 454.7 L475 456.4 L475.2 458 L475.6 459.5 L476.2 461 L476.9 462.3 L477.7 463.6 L478.7 464.8 L479.8 465.9 L481 466.9 L482.2 467.7 L483.7 468.5 L485.5 469.1 L487.1 469.6 L488.6 470 L489.6 470.3 L489.7 470.1 L488.8 469.5 L487.5 468.7 L486.1 467.8 L484.7 466.8 L483.6 465.9 L482.8 464.9 L482 463.9 L481.3 462.8 L480.8 461.8 L480.3 460.7 L479.9 459.6 L479.7 458.4 L479.5 457.3 L479.4 456.1 L479.4 454.9 L479.6 453.6 L479.8 452.3 L480.1 450.9 L480.6 449.4 L481.1 448 L481.7 446.5 L482.4 445 L483.2 443.4 L484 441.8 L485 440.3 L486.1 438.7 L487.4 436.9 L488.7 435.2 L489.9 433.8 L490.7 432.8Z" fill="#e9e9e9" filter="url(#b05)"/>
<path d="M525.3 441.2 L524.1 440.7 L522.6 439.9 L520.7 438.9 L518.8 438 L516.9 437.3 L515 436.7 L513 436.1 L511 435.6 L509 435.2 L507 435 L505.1 434.9 L503.1 434.9 L501.2 435.1 L499.4 435.3 L497.7 435.8 L496 436.3 L494.5 437 L493.1 437.8 L491.8 438.7 L490.6 439.8 L489.5 440.9 L488.6 442.3 L487.8 443.6 L487.2 445.1 L486.7 446.5 L486.3 448 L486.1 449.5 L486.1 451 L486.1 452.4 L486.3 453.9 L486.6 455.4 L487.2 457 L487.7 458.4 L488.2 459.7 L488.6 460.6 L488.8 460.5 L488.7 459.6 L488.5 458.2 L488.3 456.7 L488.2 455.2 L488.2 453.8 L488.3 452.5 L488.6 451.2 L488.9 450 L489.3 448.8 L489.8 447.7 L490.3 446.6 L491 445.6 L491.8 444.6 L492.6 443.7 L493.5 442.9 L494.4 442.2 L495.4 441.6 L496.5 441.1 L497.7 440.6 L498.9 440.2 L500.3 439.8 L501.9 439.5 L503.5 439.3 L505.2 439.1 L506.9 439 L508.7 439 L510.5 439.1 L512.5 439.2 L514.4 439.4 L516.3 439.6 L518.2 439.9 L520.3 440.3 L522.3 440.8 L524 441.2 L525.2 441.4Z" fill="#e9e9e9" filter="url(#b05)"/>
<path d="M531.1 474.9 L531 473.6 L530.9 471.7 L530.8 469.5 L530.5 467.2 L530.2 465 L529.8 463 L529.2 460.8 L528.6 458.7 L527.9 456.6 L527 454.7 L526 453 L524.9 451.3 L523.6 449.8 L522.3 448.5 L520.9 447.2 L519.3 446.1 L517.6 445.1 L515.8 444.2 L514 443.6 L512.2 443.1 L510.4 442.9 L508.5 443 L506.8 443.3 L505.1 443.7 L503.6 444.2 L502.2 444.8 L500.9 445.5 L499.7 446.4 L498.7 447.3 L497.7 448.4 L496.8 449.7 L496 451.1 L495.3 452.6 L494.8 453.8 L494.4 454.7 L494.6 454.8 L495.1 454.1 L496 453 L496.9 451.7 L497.9 450.6 L498.9 449.7 L500 449 L501 448.3 L502.1 447.8 L503.3 447.4 L504.5 447.2 L505.8 447 L507.2 446.8 L508.6 446.8 L510 447 L511.3 447.2 L512.6 447.7 L514 448.3 L515.4 449 L516.8 449.9 L518 450.8 L519.2 451.8 L520.3 452.9 L521.4 454.1 L522.5 455.4 L523.5 456.8 L524.4 458.3 L525.4 460.1 L526.3 461.9 L527.1 463.8 L527.9 465.7 L528.6 467.7 L529.3 469.8 L530 471.9 L530.5 473.7 L530.9 475Z" fill="#e9e9e9" filter="url(#b05)"/>
<path d="M508 494.3 L509.2 493.4 L510.9 492.2 L512.9 490.7 L514.9 489.1 L516.7 487.4 L518.3 485.6 L519.8 483.7 L521.2 481.7 L522.4 479.7 L523.4 477.8 L524.2 475.8 L524.9 473.9 L525.3 472 L525.6 470.1 L525.5 468.1 L525.2 466.2 L524.6 464.3 L523.8 462.5 L522.9 460.9 L521.9 459.5 L520.7 458.3 L519.4 457.3 L518 456.4 L516.5 455.8 L515 455.2 L513.3 454.9 L511.4 454.7 L509.6 454.7 L508.1 454.7 L507 454.7 L506.9 454.9 L508 455.2 L509.5 455.6 L511.2 456 L512.9 456.6 L514.3 457.2 L515.4 457.9 L516.5 458.7 L517.4 459.6 L518.3 460.6 L519 461.6 L519.6 462.8 L520.2 464.2 L520.6 465.6 L520.9 467 L521 468.4 L521 469.7 L520.8 471.2 L520.4 472.7 L519.9 474.3 L519.3 476 L518.6 477.8 L517.7 479.8 L516.7 481.8 L515.6 483.8 L514.5 485.6 L513.2 487.5 L511.7 489.5 L510.1 491.3 L508.8 493 L507.8 494.1Z" fill="#e9e9e9" filter="url(#b05)"/>
<path d="M476.2 484.7 L477.4 485.2 L479.2 486 L481.3 486.9 L483.5 487.7 L485.6 488.3 L487.6 488.7 L489.6 489 L491.7 489.2 L493.7 489.2 L495.8 489.1 L497.8 488.7 L499.8 488.2 L501.7 487.5 L503.6 486.6 L505.3 485.5 L507 484.2 L508.4 482.7 L509.8 481.1 L510.9 479.5 L511.8 477.8 L512.6 476 L513.1 474.3 L513.4 472.5 L513.6 470.8 L513.6 469.2 L513.4 467.7 L512.9 466.3 L512.3 465.1 L511.7 464.1 L511.4 463.4 L511.2 463.5 L511.3 464.3 L511.6 465.4 L511.8 466.6 L511.9 467.9 L511.8 469.2 L511.5 470.5 L511 471.9 L510.4 473.3 L509.7 474.7 L508.8 476 L507.8 477.2 L506.7 478.5 L505.4 479.7 L504.1 480.8 L502.8 481.7 L501.4 482.5 L499.9 483.3 L498.3 483.9 L496.7 484.4 L495 484.9 L493.4 485.2 L491.6 485.4 L489.8 485.6 L487.9 485.6 L486 485.7 L484 485.5 L481.7 485.3 L479.5 485 L477.6 484.7 L476.2 484.5Z" fill="#e9e9e9" filter="url(#b05)"/>
<path d="M468.4 451.9 L468.5 453.2 L468.7 454.9 L468.9 456.9 L469.3 459.1 L469.7 461 L470.3 462.8 L471 464.5 L471.7 466.2 L472.6 467.9 L473.6 469.5 L474.6 471 L475.8 472.6 L477.1 474.1 L478.5 475.5 L480.1 476.8 L481.8 477.9 L483.6 478.9 L485.5 479.7 L487.4 480.3 L489.3 480.6 L491.2 480.7 L493 480.5 L494.7 480 L496.3 479.5 L497.7 478.8 L499.1 477.9 L500.4 476.9 L501.6 475.7 L502.5 474.8 L503.2 474.1 L503 473.9 L502.2 474.4 L501.1 475.1 L499.7 475.8 L498.3 476.5 L497 476.9 L495.6 477.1 L494.2 477.3 L492.7 477.4 L491.3 477.3 L490 477 L488.6 476.5 L487.2 475.8 L485.7 475 L484.2 474.1 L482.9 473.1 L481.6 472.1 L480.4 470.9 L479.2 469.7 L478 468.4 L476.9 467 L475.8 465.7 L474.8 464.4 L473.9 463 L472.9 461.5 L472.1 460.1 L471.3 458.4 L470.4 456.5 L469.7 454.7 L469.1 453 L468.6 451.9Z" fill="#e9e9e9" filter="url(#b05)"/>
<path d="M497.3 418.5 L496 419.4 L494.1 420.7 L491.9 422.3 L489.7 423.9 L487.7 425.5 L485.9 427 L484.1 428.5 L482.3 430 L480.6 431.7 L479 433.4 L477.6 435.2 L476.2 437.1 L474.9 439 L473.7 441 L472.7 442.9 L471.9 444.9 L471.2 447 L470.6 449 L470.3 451.1 L470.1 453.1 L470.1 455.1 L470.4 457 L470.8 458.9 L471.4 460.7 L472.2 462.4 L473.1 464 L474.2 465.5 L475.5 466.9 L476.8 468.2 L478.3 469.3 L479.9 470.3 L481.6 471.2 L483.4 472 L485.3 472.6 L487.3 473.1 L489.5 473.5 L492 473.7 L494.4 473.9 L496.5 474 L497.9 474 L498.2 472.4 L496.7 472 L494.7 471.6 L492.4 471.1 L490.2 470.5 L488.2 469.8 L486.6 469.1 L485.1 468.4 L483.6 467.5 L482.3 466.6 L481.2 465.7 L480.1 464.6 L479.2 463.5 L478.3 462.4 L477.6 461.2 L477 460 L476.5 458.8 L476.1 457.4 L475.9 456.1 L475.7 454.7 L475.7 453.3 L475.8 451.8 L476.1 450.2 L476.5 448.5 L477 446.8 L477.6 445.1 L478.4 443.4 L479.3 441.6 L480.4 439.9 L481.5 438.1 L482.7 436.4 L484 434.7 L485.4 433.1 L486.9 431.5 L488.5 429.9 L490.1 428.2 L491.9 426.5 L493.9 424.7 L495.9 422.9 L497.6 421.4 L498.8 420.3Z" fill="#151515"/>
<path d="M538.5 439.6 L537.5 439.1 L536.1 438.3 L534.4 437.5 L532.5 436.6 L530.6 435.7 L528.8 434.9 L526.8 434.1 L524.7 433.2 L522.5 432.4 L520.3 431.7 L518 431.1 L515.6 430.6 L513.2 430.1 L510.8 429.8 L508.4 429.6 L506.1 429.5 L503.8 429.6 L501.6 429.8 L499.4 430.2 L497.3 430.7 L495.4 431.3 L493.6 432.1 L491.9 433 L490.3 434.1 L488.9 435.3 L487.6 436.7 L486.4 438.2 L485.4 439.8 L484.6 441.5 L483.9 443.2 L483.4 445 L483.1 446.8 L482.9 448.6 L482.9 450.4 L483 452.1 L483.3 453.9 L483.7 455.7 L484.2 457.4 L484.8 459 L485.4 460.5 L486.2 462 L487.1 463.3 L488.1 464.5 L488.9 465.5 L489.4 466.2 L490.7 465.3 L490.3 464.5 L489.6 463.5 L488.9 462.2 L488.3 460.9 L487.8 459.6 L487.5 458.2 L487.1 456.6 L486.9 455 L486.8 453.5 L486.8 452 L486.9 450.5 L487 449 L487.3 447.5 L487.7 446.1 L488.2 444.8 L488.8 443.6 L489.6 442.3 L490.4 441.1 L491.4 440 L492.3 439 L493.4 438.2 L494.6 437.4 L495.9 436.8 L497.3 436.2 L498.8 435.6 L500.4 435.2 L502.3 434.9 L504.2 434.6 L506.2 434.5 L508.3 434.4 L510.4 434.5 L512.6 434.7 L514.9 435 L517.1 435.3 L519.3 435.7 L521.4 436.2 L523.5 436.7 L525.6 437.4 L527.6 438 L529.5 438.6 L531.4 439.2 L533.3 439.9 L535.1 440.6 L536.6 441.2 L537.7 441.6Z" fill="#151515"/>
<path d="M538.1 486.3 L538.1 485.1 L538.1 483.4 L538.1 481.4 L538 479.3 L537.8 477.1 L537.6 474.9 L537.2 472.6 L536.9 470.2 L536.4 467.8 L535.8 465.4 L535.1 463 L534.3 460.6 L533.4 458.2 L532.4 455.8 L531.3 453.6 L530.1 451.7 L528.7 449.8 L527.3 448.1 L525.8 446.6 L524.1 445.2 L522.3 443.9 L520.4 442.7 L518.4 441.7 L516.4 440.9 L514.4 440.4 L512.3 440.1 L510.3 440.1 L508.3 440.3 L506.4 440.7 L504.6 441.2 L502.9 441.8 L501.4 442.6 L500 443.5 L498.6 444.5 L497.4 445.7 L496.3 447 L495.2 448.6 L494.4 450.2 L493.6 451.7 L493 452.9 L492.5 453.9 L492.2 454.8 L491.9 455.5 L491.8 456.1 L491.7 456.5 L492.5 456.7 L492.7 456.3 L492.9 455.8 L493.1 455.1 L493.5 454.4 L494 453.5 L494.7 452.3 L495.6 450.9 L496.6 449.5 L497.6 448.1 L498.7 447 L499.9 446 L501.1 445.2 L502.4 444.5 L503.8 443.9 L505.3 443.5 L506.9 443.1 L508.6 442.9 L510.3 442.8 L512.1 442.8 L513.8 443.1 L515.5 443.6 L517.3 444.3 L519 445.3 L520.7 446.3 L522.3 447.5 L523.8 448.7 L525.2 450.1 L526.5 451.6 L527.7 453.2 L528.9 455 L530 457 L531 459.2 L531.9 461.5 L532.8 463.8 L533.6 466.1 L534.2 468.4 L534.8 470.7 L535.3 473 L535.7 475.2 L536.1 477.3 L536.4 479.4 L536.6 481.5 L536.7 483.5 L536.8 485.2 L536.9 486.4Z" fill="#151515"/>
<path d="M500.3 507.3 L501.7 506.6 L503.7 505.6 L505.9 504.3 L508.3 502.9 L510.5 501.4 L512.6 499.8 L514.6 498.1 L516.6 496.3 L518.6 494.4 L520.4 492.3 L522.1 490.1 L523.8 487.7 L525.3 485.3 L526.7 482.9 L527.9 480.5 L528.8 478.2 L529.5 475.9 L530.1 473.7 L530.4 471.4 L530.4 469 L530.1 466.7 L529.4 464.5 L528.5 462.3 L527.5 460.4 L526.3 458.7 L524.9 457.1 L523.4 455.8 L521.7 454.7 L520 453.8 L518.2 453.1 L516.3 452.5 L514.3 452.2 L512.2 452 L510.3 451.9 L508.5 451.9 L506.7 451.9 L504.9 452 L503.2 452.1 L501.9 452.3 L500.9 452.4 L500.9 454 L501.9 454 L503.3 454.1 L504.9 454.1 L506.6 454.3 L508.2 454.5 L510 454.8 L511.8 455.2 L513.6 455.6 L515.3 456.1 L516.8 456.7 L518.1 457.5 L519.4 458.3 L520.6 459.3 L521.6 460.3 L522.5 461.4 L523.3 462.8 L524 464.4 L524.6 466.1 L525 467.7 L525.2 469.4 L525.2 471 L525 472.7 L524.5 474.5 L523.9 476.5 L523.2 478.5 L522.2 480.6 L521.1 482.9 L519.8 485.2 L518.4 487.5 L516.9 489.6 L515.4 491.6 L513.7 493.5 L512 495.4 L510.2 497.1 L508.5 498.8 L506.5 500.4 L504.4 501.9 L502.3 503.4 L500.5 504.6 L499.2 505.5Z" fill="#151515"/>
<path d="M461.7 485.3 L463 485.9 L464.8 486.8 L466.9 487.8 L469.2 488.8 L471.4 489.7 L473.6 490.5 L475.9 491.2 L478.2 491.9 L480.6 492.5 L483 493 L485.4 493.3 L487.8 493.5 L490.2 493.6 L492.6 493.5 L494.9 493.2 L497.2 492.7 L499.5 492 L501.8 491.2 L503.9 490.2 L505.9 488.9 L507.8 487.5 L509.5 485.8 L511.1 484 L512.5 482.2 L513.7 480.3 L514.6 478.3 L515.4 476.3 L515.9 474.2 L516.2 472.3 L516.4 470.4 L516.3 468.7 L515.9 467.1 L515.4 465.6 L514.8 464.3 L514.2 463.1 L513.5 462 L512.6 461 L511.7 460.2 L511 459.6 L510.4 459.1 L509.7 459.8 L510.2 460.4 L510.8 461.1 L511.6 461.9 L512.3 462.9 L512.8 463.9 L513.2 465 L513.6 466.2 L513.9 467.5 L514.1 468.9 L514 470.3 L513.8 471.8 L513.3 473.6 L512.7 475.3 L511.9 477.1 L511 478.7 L509.9 480.3 L508.6 481.9 L507.1 483.4 L505.6 484.9 L503.9 486.1 L502.2 487.1 L500.4 488 L498.4 488.7 L496.4 489.4 L494.3 489.8 L492.3 490.2 L490.1 490.3 L487.9 490.3 L485.6 490.2 L483.4 490 L481.1 489.8 L478.8 489.3 L476.5 488.8 L474.3 488.2 L472.1 487.6 L469.9 486.9 L467.6 486.1 L465.5 485.2 L463.6 484.5 L462.3 484Z" fill="#151515"/>
<path d="M460.8 440.7 L460.8 441.9 L460.9 443.6 L461.1 445.7 L461.3 447.8 L461.6 449.9 L462 452 L462.4 454.1 L462.9 456.3 L463.5 458.5 L464.2 460.5 L465 462.6 L466 464.5 L467 466.4 L468.1 468.3 L469.3 470.1 L470.7 471.9 L472.1 473.7 L473.6 475.4 L475.3 477.1 L477 478.5 L479 479.8 L481 481 L483.2 482 L485.3 482.8 L487.5 483.3 L489.6 483.5 L491.7 483.3 L493.7 483 L495.6 482.5 L497.4 481.8 L499 481 L500.5 480.1 L501.9 479 L503.2 477.9 L504.4 476.7 L505.5 475.3 L506.6 473.8 L507.5 472.3 L508.2 471 L508.8 470 L507.9 469.5 L507.3 470.4 L506.4 471.6 L505.4 473 L504.3 474.3 L503.1 475.4 L502 476.4 L500.7 477.3 L499.3 478.2 L497.9 478.9 L496.5 479.5 L494.9 479.9 L493.2 480.3 L491.4 480.5 L489.7 480.5 L488 480.3 L486.3 479.8 L484.4 479 L482.6 478.1 L480.7 477 L479 475.9 L477.5 474.6 L476 473.2 L474.5 471.6 L473.1 470 L471.9 468.3 L470.6 466.6 L469.5 464.9 L468.5 463.2 L467.5 461.4 L466.7 459.5 L465.9 457.6 L465.2 455.6 L464.6 453.6 L464.1 451.5 L463.6 449.6 L463.2 447.6 L462.8 445.5 L462.5 443.5 L462.3 441.7 L462.1 440.5Z" fill="#151515"/>
<ellipse cx="123.2" cy="576.5" rx="58" ry="43.7" fill="url(#semg)"/>
<ellipse cx="123.2" cy="576.5" rx="57.5" ry="43.2" fill="#000" filter="url(#semn)" opacity="0.18"/>
<path d="M117.9 566.8C117.6 565.3 115.5 560.9 116.2 557.7C116.9 554.5 118.9 549.7 121.8 547.7C124.6 545.6 129.5 545 133.2 545.4C137 545.8 141.2 548.3 144.4 550C147.7 551.8 150.4 554.5 152.8 556C155.3 557.6 158 558.8 159.1 559.4" fill="none" stroke="#8a8a8a" stroke-width="11.4" stroke-linecap="round" opacity="0.7" filter="url(#b05)"/>
<path d="M117.9 566.8C117.6 565.3 115.5 560.9 116.2 557.7C116.9 554.5 118.9 549.7 121.8 547.7C124.6 545.6 129.5 545 133.2 545.4C137 545.8 141.2 548.3 144.4 550C147.7 551.8 150.4 554.5 152.8 556C155.3 557.6 158 558.8 159.1 559.4" fill="none" stroke="#adadad" stroke-width="9.8" stroke-linecap="round"/>
<path d="M117.9 566.8C117.6 565.3 115.5 560.9 116.2 557.7C116.9 554.5 118.9 549.7 121.8 547.7C124.6 545.6 129.5 545 133.2 545.4C137 545.8 141.2 548.3 144.4 550C147.7 551.8 150.4 554.5 152.8 556C155.3 557.6 158 558.8 159.1 559.4" fill="none" stroke="#c2c2c2" stroke-width="3.6" stroke-linecap="round" transform="translate(-0.6 -1.6)" filter="url(#b05)"/>
<path d="M86 561.6 L96.9 558.4 L103.9 556.6 L110.2 561.9 L116.5 566.8 L124.2 570.6 L129.8 574.8 L116.5 571.4 L106.7 567.9 L94.1 563.6Z" fill="#c9c9c9" stroke="#dedede" stroke-width="0.8"/>
<path d="M81.5 563.6C83.6 562 89.9 562.7 94.1 563.3C98.3 564 103 566.2 106.7 567.5C110.4 568.8 112.7 569.8 116.5 571C120.3 572.2 127.8 572.8 129.3 574.8C130.8 576.8 127 580.4 125.6 582.9C124.1 585.4 122.6 588 120.7 589.9C118.7 591.7 116.5 593 113.7 594.1C110.9 595.1 107.2 596.4 103.9 596.1C100.6 595.9 97.1 594.6 94.1 592.7C91.1 590.7 87.8 587.5 85.7 584.3C83.6 581 82.2 576.5 81.5 573.1C80.8 569.6 79.5 565.2 81.5 563.6Z" fill="#1a1a1a"/>
<path d="M137.7 565C139.3 566.1 144.5 569.4 147.2 571.7C149.9 574 153 576.1 153.9 578.7C154.9 581.2 154.2 584 152.8 587.1C151.5 590.1 148.8 593.6 145.8 596.8C142.8 600.1 138.6 604.1 134.6 606.6C130.7 609.2 125 611.4 122.1 612.2C119.1 613.1 117.6 611.9 116.8 611.8L117.9 605.5L124.9 589.9L131.8 575.9L137.7 565Z" fill="#1a1a1a"/>
<path d="M109.2 557.4 L116.5 555.5 L114.2 561.9 L108.8 562.2Z" fill="#222"/>
<path d="M126 559.4C126.9 558.6 131.8 557.9 133.2 558.3C134.7 558.7 135.8 560.9 134.9 561.6C134 562.4 129.4 563.3 127.9 562.9C126.4 562.5 125.1 560.2 126 559.4Z" fill="#1c1c1c"/>
<path d="M157.7 557C158.3 556.7 163.8 559.8 165.4 560.9C166.9 562.1 167.6 563.8 166.9 564.2C166.3 564.5 163 563.9 161.5 562.8C159.9 561.6 157 557.3 157.7 557Z" fill="#2a2a2a"/>
<path d="M134.9 564.4 L138.8 565.5 L119 606.3 L115.6 605.5Z" fill="#c6c6c6"/>
<path d="M135.2 564.7 L116.2 605.2" fill="none" stroke="#efefef" stroke-width="1.1"/>
<path d="M86.4 561.5C88.2 561.6 93.3 561 96.9 561.9C100.5 562.8 104.6 565.4 108.1 566.8C111.6 568.3 114.4 569.3 117.9 570.6C121.4 571.9 127.2 573.8 129.1 574.5" fill="none" stroke="#e8e8e8" stroke-width="1.2"/>
<ellipse cx="311.4" cy="577" rx="58" ry="43.7" fill="url(#semg)"/>
<ellipse cx="311.4" cy="577" rx="57.5" ry="43.2" fill="#000" filter="url(#semn)" opacity="0.18"/>
<path d="M282.4 565C283.4 563.5 288.5 559.2 291.1 557.7C293.8 556.2 296.7 555.4 298.4 556C300.1 556.7 301.9 560.7 301.2 561.9C300.4 563.2 296.5 562.8 293.9 563.6C291.3 564.3 287.4 566.2 285.5 566.4C283.6 566.6 281.5 566.4 282.4 565Z" fill="#232323"/>
<path d="M277.8 568.9C279.1 567.5 282.8 562.8 285.5 560.5C288.2 558.2 292.5 555.9 293.9 554.9" fill="none" stroke="#c4c4c4" stroke-width="1.6"/>
<path d="M307.5 562.6C308 560.7 308.3 553.9 310.7 551C313.1 548.1 317.9 545.4 321.8 545.2C325.8 544.9 330.9 547.1 334.4 549.6C337.9 552.2 339.9 556.6 342.8 560.5C345.7 564.4 350.4 571 351.9 573.1" fill="none" stroke="#858585" stroke-width="8.6" stroke-linecap="round" opacity="0.7" filter="url(#b05)"/>
<path d="M307.5 562.6C308 560.7 308.3 553.9 310.7 551C313.1 548.1 317.9 545.4 321.8 545.2C325.8 544.9 330.9 547.1 334.4 549.6C337.9 552.2 339.9 556.6 342.8 560.5C345.7 564.4 350.4 571 351.9 573.1" fill="none" stroke="#b2b2b2" stroke-width="7" stroke-linecap="round"/>
<path d="M307.5 562.6C308 560.7 308.3 553.9 310.7 551C313.1 548.1 317.9 545.4 321.8 545.2C325.8 544.9 330.9 547.1 334.4 549.6C337.9 552.2 339.9 556.6 342.8 560.5C345.7 564.4 350.4 571 351.9 573.1" fill="none" stroke="#c8c8c8" stroke-width="2.6" stroke-linecap="round" transform="translate(-0.5 -1.4)" filter="url(#b05)"/>
<path d="M293.9 545.4C294.9 544.1 298.5 543.4 300.9 543.5C303.3 543.6 307.6 544.5 308.2 546C308.7 547.5 305.9 550.6 304.4 552.4C302.8 554.2 300.4 556.8 298.8 556.6C297.2 556.4 295.8 553.3 295 551.4C294.2 549.6 292.9 546.8 293.9 545.4Z" fill="#c2c2c2" stroke="#e0e0e0" stroke-width="0.8"/>
<path d="M267.4 575.6 L279.9 568.9 L291.1 566.1 L300.9 564.7 L309.3 565.4 L314.9 563.6 L321.1 566.1 L307.9 568.5 L293.9 571.3 L279.9 574.8 L266 579.2Z" fill="#c6c6c6" stroke="#e2e2e2" stroke-width="0.8"/>
<path d="M265.3 579.4C267.7 578.6 275.2 575.9 279.9 574.5C284.7 573.1 289.2 572 293.9 571C298.6 570 303.4 569 307.9 568.2C312.3 567.4 318.6 566.5 320.7 566.1C320.5 567.7 320.3 572.6 319.1 575.9C317.8 579.1 315.6 582.8 313.5 585.7C311.4 588.5 307.6 591.7 306.5 592.9C304.6 593.2 299 594.9 295.3 594.8C291.6 594.6 287.8 593.5 284.1 592C280.4 590.4 276.1 587.8 272.9 585.7C269.8 583.6 266.5 580.4 265.3 579.4Z" fill="#1a1a1a"/>
<path d="M314.9 554.9C316.3 555.2 320.5 555.2 323.2 556.3C326 557.5 328.8 559.4 331.6 561.9C334.4 564.5 338.6 568.2 340 571.7C341.5 575.2 341.2 579.4 340.3 582.9C339.4 586.4 337.3 589.4 334.4 592.7C331.6 595.9 327.2 599.6 323.2 602.4C319.3 605.3 313.7 608.7 310.7 609.7C307.6 610.7 305.8 608.5 304.8 608.3L310.7 598.2C312.3 596.1 317.7 589.9 320.5 585.7C323.2 581.5 326.3 576.6 327.4 573.1C328.6 569.6 328.6 567 327.4 564.7C326.3 562.4 322.5 560.2 320.5 559.1C318.4 558 315.8 558.2 314.9 558Z" fill="#1a1a1a"/>
<path d="M300.9 554.4 L306.8 552.1 L303.7 556.6Z" fill="#222"/>
<path d="M348.4 567.5C349.4 567.9 353.9 572.3 355.4 574.2C356.8 576.1 357.5 578.5 357.1 579C356.6 579.5 353.9 578.5 352.6 577.3C351.3 576.1 349.8 573.6 349.1 572C348.4 570.3 347.3 567.1 348.4 567.5Z" fill="#262626"/>
<path d="M325.6 561.9C325.6 563.8 326.4 568.9 325.2 573.1C324 577.3 321.4 581.4 318.4 587.1C315.4 592.7 309 603.6 307.2 606.9" fill="none" stroke="#c8c8c8" stroke-width="4.6"/>
<path d="M325.6 561.9C325.6 563.8 326.4 568.9 325.2 573.1C324 577.3 321.4 581.4 318.4 587.1C315.4 592.7 309 603.6 307.2 606.9" fill="none" stroke="#ececec" stroke-width="1.1" transform="translate(-1.6 -0.6)"/>
<ellipse cx="499.9" cy="576.6" rx="58" ry="43.3" fill="url(#semg6)"/>
<ellipse cx="499.9" cy="576.6" rx="57.5" ry="42.8" fill="#000" filter="url(#semn)" opacity="0.1"/>
<path d="M501.6 553.9C503.2 552.7 508.2 547.8 511.5 547.1C514.8 546.3 518.4 547.6 521.4 549.3C524.3 550.9 527 553.8 529.3 557C531.5 560.1 533 564.3 534.8 567.9C536.5 571.6 538 574.9 539.7 578.9C541.4 583 544.2 590.1 545.1 592.3L542.9 592.3C542 590.4 539.5 584.6 537.8 581.1C536.2 577.6 534 574 532.9 571.2C531.8 568.5 532.4 566.6 531.2 564.6C530 562.7 528.3 560.7 525.7 559.4C523.2 558 519.7 557.1 515.9 556.6C512 556.2 504.9 556.6 502.7 556.6Z" fill="#c6c6c6"/>
<path d="M501.6 553.9C503.2 552.7 508.2 547.8 511.5 547.1C514.8 546.3 518.4 547.6 521.4 549.3C524.3 550.9 527 553.8 529.3 557C531.5 560.1 533 564.3 534.8 567.9C536.5 571.6 538 574.9 539.7 578.9C541.4 583 544.2 590.1 545.1 592.3" fill="none" stroke="#eeeeee" stroke-width="1.2" stroke-linecap="round" filter="url(#b05)"/>
<path d="M491.7 547.3C493 546.7 496.4 544 499.4 543.8C502.4 543.6 507.8 545.6 509.5 546L501.6 552.6C500.3 553.6 495.5 558.4 493.9 558.6C492.4 558.8 492.5 554.5 492.3 553.7Z" fill="#b2b2b2"/>
<path d="M491.7 547.3C493 546.7 496.4 544 499.4 543.8C502.4 543.6 507.8 545.6 509.5 546" fill="none" stroke="#e0e0e0" stroke-width="1" stroke-linecap="round" filter="url(#b05)"/>
<path d="M493.9 560.2C495 558.6 499.2 557.3 502.7 557C506.2 556.6 511.7 557.1 514.8 558.1C517.9 559 520.4 560.8 521.4 562.4C522.3 564.1 523 566.7 520.3 567.9C517.5 569.2 508.9 570.3 504.9 570.1C500.9 569.9 497.9 568.5 496.1 566.8C494.3 565.2 492.8 561.9 493.9 560.2Z" fill="#adadad"/>
<path d="M489.3 595.8C491 595.2 496.1 594.2 499.2 592.7C502.4 591.2 505.7 588.9 508.4 586.6C511 584.3 513.6 581.5 515.2 579C516.9 576.4 518 573.6 518.4 571.4C518.9 569.1 518.6 567 517.7 565.3C516.8 563.5 513.9 561.4 513.1 560.7L526.8 565.5C527 565.7 527.7 565 527.5 566.8C527.3 568.7 526.8 573.2 525.5 576.7C524.3 580.2 522.4 584.2 520 587.7C517.7 591.2 514.2 594.6 511.5 597.6C508.7 600.5 504.9 604.2 503.6 605.5Z" fill="#b7b7b7"/>
<path d="M503.6 605.5C504.9 604.2 508.7 600.5 511.5 597.6C514.2 594.6 517.7 591.2 520 587.7C522.4 584.2 524.3 580.2 525.5 576.7C526.8 573.2 527.2 568.5 527.5 566.8" fill="none" stroke="#dadada" stroke-width="1" stroke-linecap="round" filter="url(#b05)"/>
<path d="M459.2 569.8C459.9 571.2 461.5 575.9 463.4 578.2C465.2 580.5 467.6 582.3 470.3 583.6C472.9 584.8 476.2 585.5 479.4 585.5C482.6 585.5 486.1 584.5 489.3 583.6C492.5 582.6 495.5 581.4 498.5 579.7C501.4 578.1 504.7 575.4 506.9 573.6C509 571.8 510.8 569.7 511.6 568.9L513.7 562.2C514.1 563.3 516.1 566.8 516 569.1C515.9 571.4 514.5 573.8 513 575.9C511.4 578.1 509.3 580.2 506.9 582C504.4 583.8 501.4 585.3 498.5 586.6C495.5 587.9 492.7 588.8 489.3 589.7C485.9 590.5 481.7 591.2 477.9 591.6C474.1 592 469.6 592.1 466.4 592C463.2 592 460 591.3 458.7 591.2Z" fill="#ababab"/>
<path d="M458.8 591C460.1 590.8 463.3 590.3 466.4 589.8C469.6 589.3 474.1 588.9 477.9 588.1C481.7 587.4 485.9 586.5 489.3 585.2C492.7 584 495.5 582.4 498.5 580.7C501.4 578.9 504.4 576.7 506.9 574.6C509.3 572.4 511.9 569.7 513.1 567.7C514.3 565.7 513.7 563.4 513.9 562.6" fill="none" stroke="#dedede" stroke-width="2.6" stroke-linecap="round" filter="url(#b05)"/>
<path d="M458.1 560.5C458.4 560.7 459.2 560.7 460.3 561.4C461.5 562.2 462.9 563.6 464.9 564.9C466.9 566.1 469.7 568 472.5 569.1C475.3 570.1 478.3 570.7 481.7 571C485.1 571.3 489.7 571.3 493.1 571C496.6 570.7 499.7 569.7 502.3 569.1C504.9 568.4 507.7 567.3 508.8 566.9L509.9 569.1C509 569.6 506.7 571.3 504.6 572.1C502.4 572.9 500.1 573.6 496.9 574C493.8 574.4 489.3 574.5 485.5 574.4C481.7 574.3 477.5 574 474.1 573.3C470.6 572.5 467.3 571.5 464.9 569.8C462.5 568.1 460.5 564.1 459.6 563Z" fill="#cacaca"/>
<path d="M458.1 560.5C458.4 560.7 459.2 560.7 460.3 561.4C461.5 562.2 462.9 563.6 464.9 564.9C466.9 566.1 469.7 568 472.5 569.1C475.3 570.1 478.3 570.7 481.7 571C485.1 571.3 489.7 571.3 493.1 571C496.6 570.7 499.7 569.7 502.3 569.1C504.9 568.4 507.7 567.3 508.8 566.9" fill="none" stroke="#f2f2f2" stroke-width="1.2" stroke-linecap="round" filter="url(#b05)"/>
<path d="M476.7 553.2C477.5 552.1 479.8 551 481.7 550.8C483.6 550.5 487.6 551 487.9 551.7C488.3 552.3 485.1 553.6 484 554.7C482.9 555.8 481.2 556.9 481.3 558.4C481.5 559.9 483.3 562.2 484.9 563.7C486.5 565.2 490.9 567.1 491 567.4C491.1 567.7 487.3 567 485.5 565.6C483.7 564.3 481.5 560.5 480.2 559.2C478.8 557.8 477.8 558.6 477.3 557.6C476.7 556.6 476 554.3 476.7 553.2Z" fill="#e6e6e6"/>
<path d="M471 566.9C470.9 565.4 475.6 561.2 477.1 559.9C478.7 558.6 478.9 558.3 480.3 559.2C481.7 560 483.7 563.8 485.5 565.3C487.3 566.7 490.5 566.9 491 567.7C491.5 568.5 490.7 570 488.6 570.3C486.4 570.5 480.8 569.8 477.9 569.2C475 568.7 471.1 568.5 471 566.9Z" fill="#101010"/>
<path d="M484.4 555.9 L488.6 554.2 L491 566.4 L487 562.2Z" fill="#141414"/>
<path d="M492.4 559.9 L501.7 554.6" fill="none" stroke="#1a1a1a" stroke-width="1.2"/>
<path d="M458.1 561.4C458.2 562.8 458.3 567 459.2 569.8C460.1 572.6 461.5 575.9 463.4 578.2C465.2 580.5 467.6 582.3 470.3 583.6C472.9 584.8 476.2 585.5 479.4 585.5C482.6 585.5 486.1 584.5 489.3 583.6C492.5 582.6 495.5 581.4 498.5 579.7C501.4 578.1 504.7 575.4 506.9 573.6C509 571.8 510.8 569.7 511.6 568.9L509.9 569.1C509 569.6 506.7 571.3 504.6 572.1C502.4 572.9 500.1 573.6 496.9 574C493.8 574.4 489.3 574.5 485.5 574.4C481.7 574.3 477.5 574 474.1 573.3C470.6 572.5 467.3 571.5 464.9 569.8C462.5 568.1 460.5 564.1 459.6 563Z" fill="#0e0e0e"/>
<path d="M458.8 592.1C460.1 592.4 463.3 593.6 466.4 594.2C469.6 594.9 474.1 595.9 477.9 596.1C481.7 596.4 485.8 596.3 489.3 595.8C492.9 595.2 496.1 594.2 499.2 592.7C502.4 591.2 505.7 588.9 508.4 586.6C511 584.3 513.6 581.5 515.2 579C516.9 576.4 518 573.6 518.4 571.4C518.9 569.1 518.6 567 517.7 565.3C516.8 563.5 513.9 561.4 513.1 560.7L513.7 562.2C514.1 563.3 516.1 566.8 516 569.1C515.9 571.4 514.5 573.8 513 575.9C511.4 578.1 509.3 580.2 506.9 582C504.4 583.8 501.4 585.3 498.5 586.6C495.5 587.9 492.7 588.8 489.3 589.7C485.9 590.5 481.7 591.2 477.9 591.6C474.1 592 468.3 591.9 466.4 592Z" fill="#0e0e0e"/>
<path d="M501 607.7C502.8 606.7 507.9 604.7 511.5 602.1C515 599.5 519.3 595.7 522.5 592.2C525.6 588.7 528.5 584.7 530.3 581.2C532 577.7 532.8 574.1 533 571.3C533.2 568.6 531.6 565.8 531.3 564.6L527.5 566.8C527.2 568.5 526.8 573.2 525.5 576.7C524.3 580.2 522.4 584.2 520 587.7C517.7 591.2 514.2 594.6 511.5 597.6C508.7 600.5 504.9 604.2 503.6 605.5Z" fill="#0e0e0e"/>
<path d="M544.6 592.3C544.3 590.8 543.4 586.3 542.4 583.3C541.5 580.3 540.1 577.1 539.1 574.5C538.2 572 537.1 569 536.7 567.9L539.6 571.4C540.1 573.1 541.8 578 542.4 581.1C543.1 584.2 543.4 588.6 543.5 590.1Z" fill="#1c1c1c"/>
<path d="M533.4 557 L544.6 561.3 L544.2 562.7 L533.2 558.3Z" fill="#2a2a2a"/>
<g font-family="Liberation Sans, sans-serif" font-weight="bold" font-size="19.6" fill="#0a0a0a" stroke="#0a0a0a" stroke-width="0.3"><text x="258" y="219.8">3D</text><text x="562" y="220">2D</text><text x="938.3" y="220.5">2.5D</text></g>
<radialGradient id="ball" cx="0.38" cy="0.34" r="0.66"><stop offset="0" stop-color="#ffc642"/><stop offset="0.35" stop-color="#e89e1c"/><stop offset="0.75" stop-color="#a86c08"/><stop offset="1" stop-color="#4e3000"/></radialGradient>
<g stroke="#a2a2a2" stroke-width="1.6" fill="none">
<path d="M105.4 657.9 L140.8 657.9 L159.1 689.3 L140.8 720.4 L105.4 720.4 L87.5 689.3Z"/>
<path d="M105.4 657.9L95.8 643.8"/>
<path d="M140.8 657.9L149.9 643.4"/>
<path d="M87.5 689.3L69.5 689.3"/>
<path d="M159.1 689.3L176.9 689.3"/>
<path d="M105.4 720.4L95.8 735.8"/>
<path d="M140.8 720.4L149.9 735.8"/>
<path d="M261 664H358.2"/>
<path d="M261 712.2H358.2"/>
<path d="M285.1 639.3V736.3"/>
<path d="M333.3 639.3V736.3"/>
<path d="M442.9 689.5H556.3"/>
<path d="M481.3 657.2H518.9M481.3 722.4H518.9"/>
<path d="M471.8 641.3L528.4 738.7M528.4 641.3L471.8 738.7"/>
<path d="M462.3 689.5L481.3 657.2M462.3 689.5L481.3 722.4M537.6 689.5L518.9 657.2M537.6 689.5L518.9 722.4"/>
</g>
<circle cx="105.4" cy="657.9" r="7.2" fill="url(#ball)"/>
<circle cx="140.8" cy="657.9" r="7.2" fill="url(#ball)"/>
<circle cx="159.1" cy="689.3" r="7.2" fill="url(#ball)"/>
<circle cx="140.8" cy="720.4" r="7.2" fill="url(#ball)"/>
<circle cx="105.4" cy="720.4" r="7.2" fill="url(#ball)"/>
<circle cx="87.5" cy="689.3" r="7.2" fill="url(#ball)"/>
<circle cx="285.1" cy="664" r="7.2" fill="url(#ball)"/>
<circle cx="333.3" cy="664" r="7.2" fill="url(#ball)"/>
<circle cx="285.1" cy="712.2" r="7.2" fill="url(#ball)"/>
<circle cx="333.3" cy="712.2" r="7.2" fill="url(#ball)"/>
<circle cx="481.3" cy="657.2" r="7.2" fill="url(#ball)"/>
<circle cx="518.9" cy="657.2" r="7.2" fill="url(#ball)"/>
<circle cx="462.3" cy="689.5" r="7.2" fill="url(#ball)"/>
<circle cx="500.3" cy="689.5" r="7.2" fill="url(#ball)"/>
<circle cx="537.6" cy="689.5" r="7.2" fill="url(#ball)"/>
<circle cx="481.3" cy="722.4" r="7.2" fill="url(#ball)"/>
<circle cx="518.9" cy="722.4" r="7.2" fill="url(#ball)"/>
<clipPath id="cf"><rect x="706" y="265.5" width="236" height="207.3"/></clipPath>
<g clip-path="url(#cf)" fill="none" stroke-linejoin="round">
<path d="M704 365 L704.8 365 L705.5 365 L706.2 364.9 L707 364.9 L707.8 364.8 L708.5 364.8 L709.2 364.7 L710 364.7 L710.8 364.6 L711.5 364.6 L712.2 364.5 L713 364.5 L713.8 364.4 L714.5 364.3 L715.2 364.3 L716 364.2 L716.8 364.2 L717.5 364.1 L718.2 364 L719 364 L719.8 363.9 L720.5 363.8 L721.2 363.7 L722 363.7 L722.8 363.6 L723.5 363.5 L724.2 363.4 L725 363.3 L725.8 363.2 L726.5 363.2 L727.2 363.1 L728 363 L728.8 362.9 L729.5 362.8 L730.2 362.7 L731 362.5 L731.8 362.4 L732.5 362.3 L733.2 362.2 L734 362.1 L734.8 361.9 L735.5 361.8 L736.2 361.6 L737 361.5 L737.8 361.3 L738.5 361.2 L739.2 361 L740 360.8 L740.8 360.6 L741.5 360.5 L742.2 360.3 L743 360.1 L743.8 359.8 L744.5 359.6 L745.2 359.4 L746 359.1 L746.8 358.9 L747.5 358.6 L748.2 358.3 L749 358 L749.8 357.7 L750.5 357.4 L751.2 357 L752 356.6 L752.8 356.3 L753.5 355.8 L754.2 355.4 L755 354.9 L755.8 354.4 L756.5 353.9 L757.2 353.4 L758 352.8 L758.8 352.2 L759.5 351.5 L760.2 350.8 L761 350 L761.8 349.2 L762.5 348.3 L763.2 347.3 L764 346.3 L764.8 345.2 L765.5 344 L766.2 342.7 L767 341.3 L767.8 339.8 L768.5 338.1 L769.2 336.3 L770 334.3 L770.8 332.2 L771.5 329.9 L772.2 327.3 L773 324.6 L773.8 321.6 L774.5 318.3 L775.2 314.8 L776 311 L776.8 307 L777.5 302.7 L778.2 298.3 L779 293.8 L779.8 289.3 L780.5 285 L781.2 281 L782 277.7 L782.8 275.2 L783.5 273.8 L784.2 273.6 L785 274.7 L785.8 277.1 L786.5 280.6 L787.2 285.1 L788 290.4 L788.8 296 L789.5 301.9 L790.2 307.7 L791 313.3 L791.8 318.6 L792.5 323.5 L793.2 328 L794 332.1 L794.8 335.9 L795.5 339.2 L796.2 342.2 L797 344.9 L797.8 347.2 L798.5 349.4 L799.2 351.3 L800 353 L800.8 354.5 L801.5 355.9 L802.2 357.1 L803 358.2 L803.8 359.2 L804.5 360.1 L805.2 360.9 L806 361.6 L806.8 362.2 L807.5 362.8 L808.2 363.4 L809 363.9 L809.8 364.3 L810.5 364.7 L811.2 365.1 L812 365.5 L812.8 365.8 L813.5 366.1 L814.2 366.3 L815 366.6 L815.8 366.8 L816.5 367 L817.2 367.2 L818 367.4 L818.8 367.5 L819.5 367.7 L820.2 367.8 L821 367.9 L821.8 368.1 L822.5 368.2 L823.2 368.3 L824 368.4 L824.8 368.5 L825.5 368.6 L826.2 368.6 L827 368.7 L827.8 368.8 L828.5 368.8 L829.2 368.9 L830 369 L830.8 369 L831.5 369.1 L832.2 369.1 L833 369.1 L833.8 369.2 L834.5 369.2 L835.2 369.2 L836 369.3 L836.8 369.3 L837.5 369.3 L838.2 369.4 L839 369.4 L839.8 369.4 L840.5 369.4 L841.2 369.5 L842 369.5 L842.8 369.5 L843.5 369.5 L844.2 369.5 L845 369.5 L845.8 369.5 L846.5 369.6 L847.2 369.6 L848 369.6 L848.8 369.6 L849.5 369.6 L850.2 369.6 L851 369.6 L851.8 369.6 L852.5 369.6 L853.2 369.6 L854 369.6 L854.8 369.6 L855.5 369.6 L856.2 369.7 L857 369.7 L857.8 369.7 L858.5 369.7 L859.2 369.7 L860 369.7 L860.8 369.7 L861.5 369.7 L862.2 369.7 L863 369.7 L863.8 369.7 L864.5 369.7 L865.2 369.7 L866 369.7 L866.8 369.7 L867.5 369.7 L868.2 369.7 L869 369.7 L869.8 369.7 L870.5 369.7 L871.2 369.7 L872 369.7 L872.8 369.7 L873.5 369.7 L874.2 369.7 L875 369.7 L875.8 369.7 L876.5 369.7 L877.2 369.7 L878 369.7 L878.8 369.7 L879.5 369.6 L880.2 369.6 L881 369.6 L881.8 369.6 L882.5 369.6 L883.2 369.6 L884 369.6 L884.8 369.6 L885.5 369.6 L886.2 369.6 L887 369.6 L887.8 369.6 L888.5 369.6 L889.2 369.6 L890 369.6 L890.8 369.6 L891.5 369.6 L892.2 369.6 L893 369.6 L893.8 369.6 L894.5 369.6 L895.2 369.6 L896 369.6 L896.8 369.6 L897.5 369.6 L898.2 369.6 L899 369.6 L899.8 369.6 L900.5 369.6 L901.2 369.6 L902 369.6 L902.8 369.6 L903.5 369.6 L904.2 369.6 L905 369.5 L905.8 369.5 L906.5 369.5 L907.2 369.5 L908 369.5 L908.8 369.5 L909.5 369.5 L910.2 369.5 L911 369.5 L911.8 369.5 L912.5 369.5 L913.2 369.5 L914 369.5 L914.8 369.5 L915.5 369.5 L916.2 369.5 L917 369.5 L917.8 369.5 L918.5 369.5 L919.2 369.5 L920 369.5 L920.8 369.5 L921.5 369.5 L922.2 369.5 L923 369.5 L923.8 369.5 L924.5 369.5 L925.2 369.5 L926 369.5 L926.8 369.5 L927.5 369.5 L928.2 369.5 L929 369.4 L929.8 369.4 L930.5 369.4 L931.2 369.4 L932 369.4 L932.8 369.4 L933.5 369.4 L934.2 369.4 L935 369.4 L935.8 369.4 L936.5 369.4 L937.2 369.4 L938 369.4 L938.8 369.4 L939.5 369.4 L940.2 369.4 L941 369.4 L941.8 369.4 L942.5 369.4 L943.2 369.4 L944 369.4" stroke="#e01a22" stroke-width="3.6"/>
<path d="M704 377.5 L704.8 377.6 L705.5 377.7 L706.2 377.8 L707 377.9 L707.8 378 L708.5 378.1 L709.2 378.2 L710 378.3 L710.8 378.4 L711.5 378.5 L712.2 378.6 L713 378.7 L713.8 378.8 L714.5 379 L715.2 379.1 L716 379.2 L716.8 379.3 L717.5 379.4 L718.2 379.6 L719 379.7 L719.8 379.8 L720.5 380 L721.2 380.1 L722 380.3 L722.8 380.4 L723.5 380.6 L724.2 380.7 L725 380.9 L725.8 381.1 L726.5 381.2 L727.2 381.4 L728 381.6 L728.8 381.8 L729.5 382 L730.2 382.2 L731 382.4 L731.8 382.6 L732.5 382.8 L733.2 383 L734 383.3 L734.8 383.5 L735.5 383.7 L736.2 384 L737 384.3 L737.8 384.5 L738.5 384.8 L739.2 385.1 L740 385.4 L740.8 385.7 L741.5 386 L742.2 386.3 L743 386.7 L743.8 387 L744.5 387.4 L745.2 387.8 L746 388.2 L746.8 388.6 L747.5 389 L748.2 389.5 L749 390 L749.8 390.4 L750.5 391 L751.2 391.5 L752 392.1 L752.8 392.6 L753.5 393.3 L754.2 393.9 L755 394.6 L755.8 395.3 L756.5 396.1 L757.2 396.8 L758 397.7 L758.8 398.6 L759.5 399.5 L760.2 400.5 L761 401.5 L761.8 402.6 L762.5 403.8 L763.2 405.1 L764 406.4 L764.8 407.9 L765.5 409.4 L766.2 411 L767 412.8 L767.8 414.6 L768.5 416.7 L769.2 418.8 L770 421.1 L770.8 423.6 L771.5 426.3 L772.2 429.2 L773 432.3 L773.8 435.5 L774.5 439 L775.2 442.6 L776 446.4 L776.8 450.2 L777.5 453.9 L778.2 457.5 L779 460.5 L779.8 462.9 L780.5 464 L781.2 463.7 L782 461.3 L782.8 456.8 L783.5 449.9 L784.2 440.9 L785 430.3 L785.8 418.8 L786.5 407.2 L787.2 396.1 L788 386.1 L788.8 377.4 L789.5 370 L790.2 363.9 L791 359 L791.8 355.2 L792.5 352.2 L793.2 349.8 L794 348.1 L794.8 346.8 L795.5 345.9 L796.2 345.3 L797 344.9 L797.8 344.7 L798.5 344.6 L799.2 344.6 L800 344.8 L800.8 344.9 L801.5 345.2 L802.2 345.4 L803 345.7 L803.8 346.1 L804.5 346.4 L805.2 346.7 L806 347.1 L806.8 347.4 L807.5 347.8 L808.2 348.1 L809 348.5 L809.8 348.8 L810.5 349.2 L811.2 349.5 L812 349.8 L812.8 350.1 L813.5 350.5 L814.2 350.8 L815 351.1 L815.8 351.3 L816.5 351.6 L817.2 351.9 L818 352.2 L818.8 352.4 L819.5 352.7 L820.2 352.9 L821 353.2 L821.8 353.4 L822.5 353.6 L823.2 353.8 L824 354.1 L824.8 354.3 L825.5 354.5 L826.2 354.7 L827 354.9 L827.8 355.1 L828.5 355.2 L829.2 355.4 L830 355.6 L830.8 355.8 L831.5 355.9 L832.2 356.1 L833 356.3 L833.8 356.4 L834.5 356.6 L835.2 356.7 L836 356.9 L836.8 357 L837.5 357.1 L838.2 357.3 L839 357.4 L839.8 357.5 L840.5 357.7 L841.2 357.8 L842 357.9 L842.8 358 L843.5 358.1 L844.2 358.3 L845 358.4 L845.8 358.5 L846.5 358.6 L847.2 358.7 L848 358.8 L848.8 358.9 L849.5 359 L850.2 359.1 L851 359.2 L851.8 359.3 L852.5 359.4 L853.2 359.4 L854 359.5 L854.8 359.6 L855.5 359.7 L856.2 359.8 L857 359.9 L857.8 359.9 L858.5 360 L859.2 360.1 L860 360.2 L860.8 360.2 L861.5 360.3 L862.2 360.4 L863 360.5 L863.8 360.5 L864.5 360.6 L865.2 360.7 L866 360.7 L866.8 360.8 L867.5 360.9 L868.2 360.9 L869 361 L869.8 361 L870.5 361.1 L871.2 361.2 L872 361.2 L872.8 361.3 L873.5 361.3 L874.2 361.4 L875 361.4 L875.8 361.5 L876.5 361.6 L877.2 361.6 L878 361.7 L878.8 361.7 L879.5 361.8 L880.2 361.8 L881 361.9 L881.8 361.9 L882.5 361.9 L883.2 362 L884 362 L884.8 362.1 L885.5 362.1 L886.2 362.2 L887 362.2 L887.8 362.3 L888.5 362.3 L889.2 362.3 L890 362.4 L890.8 362.4 L891.5 362.5 L892.2 362.5 L893 362.5 L893.8 362.6 L894.5 362.6 L895.2 362.7 L896 362.7 L896.8 362.7 L897.5 362.8 L898.2 362.8 L899 362.8 L899.8 362.9 L900.5 362.9 L901.2 362.9 L902 363 L902.8 363 L903.5 363 L904.2 363.1 L905 363.1 L905.8 363.1 L906.5 363.2 L907.2 363.2 L908 363.2 L908.8 363.3 L909.5 363.3 L910.2 363.3 L911 363.3 L911.8 363.4 L912.5 363.4 L913.2 363.4 L914 363.5 L914.8 363.5 L915.5 363.5 L916.2 363.5 L917 363.6 L917.8 363.6 L918.5 363.6 L919.2 363.6 L920 363.7 L920.8 363.7 L921.5 363.7 L922.2 363.7 L923 363.8 L923.8 363.8 L924.5 363.8 L925.2 363.8 L926 363.9 L926.8 363.9 L927.5 363.9 L928.2 363.9 L929 364 L929.8 364 L930.5 364 L931.2 364 L932 364 L932.8 364.1 L933.5 364.1 L934.2 364.1 L935 364.1 L935.8 364.2 L936.5 364.2 L937.2 364.2 L938 364.2 L938.8 364.2 L939.5 364.3 L940.2 364.3 L941 364.3 L941.8 364.3 L942.5 364.3 L943.2 364.3 L944 364.4" stroke="#58b3e6" stroke-width="5"/>
<path d="M704 375.2 L704.8 375.3 L705.5 375.3 L706.2 375.4 L707 375.5 L707.8 375.6 L708.5 375.6 L709.2 375.7 L710 375.8 L710.8 375.9 L711.5 375.9 L712.2 376 L713 376.1 L713.8 376.2 L714.5 376.3 L715.2 376.3 L716 376.4 L716.8 376.5 L717.5 376.6 L718.2 376.7 L719 376.8 L719.8 376.9 L720.5 377 L721.2 377.1 L722 377.2 L722.8 377.3 L723.5 377.4 L724.2 377.6 L725 377.7 L725.8 377.8 L726.5 377.9 L727.2 378 L728 378.2 L728.8 378.3 L729.5 378.5 L730.2 378.6 L731 378.7 L731.8 378.9 L732.5 379 L733.2 379.2 L734 379.4 L734.8 379.5 L735.5 379.7 L736.2 379.9 L737 380.1 L737.8 380.3 L738.5 380.5 L739.2 380.7 L740 380.9 L740.8 381.1 L741.5 381.3 L742.2 381.6 L743 381.8 L743.8 382.1 L744.5 382.3 L745.2 382.6 L746 382.9 L746.8 383.2 L747.5 383.5 L748.2 383.8 L749 384.1 L749.8 384.5 L750.5 384.8 L751.2 385.2 L752 385.6 L752.8 386 L753.5 386.5 L754.2 386.9 L755 387.4 L755.8 387.9 L756.5 388.4 L757.2 389 L758 389.5 L758.8 390.2 L759.5 390.8 L760.2 391.5 L761 392.2 L761.8 393 L762.5 393.8 L763.2 394.6 L764 395.6 L764.8 396.5 L765.5 397.6 L766.2 398.7 L767 399.9 L767.8 401.1 L768.5 402.5 L769.2 403.9 L770 405.4 L770.8 407 L771.5 408.8 L772.2 410.6 L773 412.5 L773.8 414.5 L774.5 416.6 L775.2 418.6 L776 420.7 L776.8 422.6 L777.5 424.2 L778.2 425.4 L779 425.9 L779.8 425.4 L780.5 423.7 L781.2 420.5 L782 415.5 L782.8 408.9 L783.5 400.9 L784.2 392 L785 383 L785.8 374.4 L786.5 366.7 L787.2 360.1 L788 354.9 L788.8 350.8 L789.5 347.7 L790.2 345.5 L791 344.1 L791.8 343.1 L792.5 342.6 L793.2 342.4 L794 342.4 L794.8 342.6 L795.5 342.9 L796.2 343.3 L797 343.7 L797.8 344.2 L798.5 344.7 L799.2 345.3 L800 345.8 L800.8 346.3 L801.5 346.9 L802.2 347.4 L803 347.9 L803.8 348.4 L804.5 348.8 L805.2 349.3 L806 349.8 L806.8 350.2 L807.5 350.6 L808.2 351 L809 351.4 L809.8 351.8 L810.5 352.1 L811.2 352.5 L812 352.8 L812.8 353.1 L813.5 353.4 L814.2 353.7 L815 354 L815.8 354.3 L816.5 354.6 L817.2 354.8 L818 355.1 L818.8 355.3 L819.5 355.5 L820.2 355.8 L821 356 L821.8 356.2 L822.5 356.4 L823.2 356.6 L824 356.8 L824.8 357 L825.5 357.2 L826.2 357.3 L827 357.5 L827.8 357.7 L828.5 357.8 L829.2 358 L830 358.1 L830.8 358.3 L831.5 358.4 L832.2 358.6 L833 358.7 L833.8 358.9 L834.5 359 L835.2 359.1 L836 359.2 L836.8 359.3 L837.5 359.5 L838.2 359.6 L839 359.7 L839.8 359.8 L840.5 359.9 L841.2 360 L842 360.1 L842.8 360.2 L843.5 360.3 L844.2 360.4 L845 360.5 L845.8 360.6 L846.5 360.7 L847.2 360.8 L848 360.8 L848.8 360.9 L849.5 361 L850.2 361.1 L851 361.2 L851.8 361.2 L852.5 361.3 L853.2 361.4 L854 361.5 L854.8 361.5 L855.5 361.6 L856.2 361.7 L857 361.7 L857.8 361.8 L858.5 361.9 L859.2 361.9 L860 362 L860.8 362 L861.5 362.1 L862.2 362.2 L863 362.2 L863.8 362.3 L864.5 362.3 L865.2 362.4 L866 362.4 L866.8 362.5 L867.5 362.5 L868.2 362.6 L869 362.6 L869.8 362.7 L870.5 362.7 L871.2 362.8 L872 362.8 L872.8 362.9 L873.5 362.9 L874.2 363 L875 363 L875.8 363 L876.5 363.1 L877.2 363.1 L878 363.2 L878.8 363.2 L879.5 363.2 L880.2 363.3 L881 363.3 L881.8 363.4 L882.5 363.4 L883.2 363.4 L884 363.5 L884.8 363.5 L885.5 363.5 L886.2 363.6 L887 363.6 L887.8 363.7 L888.5 363.7 L889.2 363.7 L890 363.7 L890.8 363.8 L891.5 363.8 L892.2 363.8 L893 363.9 L893.8 363.9 L894.5 363.9 L895.2 364 L896 364 L896.8 364 L897.5 364.1 L898.2 364.1 L899 364.1 L899.8 364.1 L900.5 364.2 L901.2 364.2 L902 364.2 L902.8 364.2 L903.5 364.3 L904.2 364.3 L905 364.3 L905.8 364.3 L906.5 364.4 L907.2 364.4 L908 364.4 L908.8 364.4 L909.5 364.5 L910.2 364.5 L911 364.5 L911.8 364.5 L912.5 364.6 L913.2 364.6 L914 364.6 L914.8 364.6 L915.5 364.6 L916.2 364.7 L917 364.7 L917.8 364.7 L918.5 364.7 L919.2 364.7 L920 364.8 L920.8 364.8 L921.5 364.8 L922.2 364.8 L923 364.8 L923.8 364.9 L924.5 364.9 L925.2 364.9 L926 364.9 L926.8 364.9 L927.5 365 L928.2 365 L929 365 L929.8 365 L930.5 365 L931.2 365 L932 365.1 L932.8 365.1 L933.5 365.1 L934.2 365.1 L935 365.1 L935.8 365.1 L936.5 365.2 L937.2 365.2 L938 365.2 L938.8 365.2 L939.5 365.2 L940.2 365.2 L941 365.3 L941.8 365.3 L942.5 365.3 L943.2 365.3 L944 365.3" stroke="#e8861c" stroke-width="3.6"/>
<path d="M704 377.5 L704.8 377.6 L705.5 377.7 L706.2 377.8 L707 377.9 L707.8 378 L708.5 378.1 L709.2 378.2 L710 378.3 L710.8 378.4 L711.5 378.5 L712.2 378.6 L713 378.7 L713.8 378.8 L714.5 379 L715.2 379.1 L716 379.2 L716.8 379.3 L717.5 379.4 L718.2 379.6 L719 379.7 L719.8 379.8 L720.5 380 L721.2 380.1 L722 380.3 L722.8 380.4 L723.5 380.6 L724.2 380.7 L725 380.9 L725.8 381.1 L726.5 381.2 L727.2 381.4 L728 381.6 L728.8 381.8 L729.5 382 L730.2 382.2 L731 382.4 L731.8 382.6 L732.5 382.8 L733.2 383 L734 383.3 L734.8 383.5 L735.5 383.7 L736.2 384 L737 384.3 L737.8 384.5 L738.5 384.8 L739.2 385.1 L740 385.4 L740.8 385.7 L741.5 386 L742.2 386.3 L743 386.7 L743.8 387 L744.5 387.4 L745.2 387.8 L746 388.2 L746.8 388.6 L747.5 389 L748.2 389.5 L749 390 L749.8 390.4 L750.5 391 L751.2 391.5 L752 392.1 L752.8 392.6 L753.5 393.3 L754.2 393.9 L755 394.6 L755.8 395.3 L756.5 396.1 L757.2 396.8 L758 397.7 L758.8 398.6 L759.5 399.5 L760.2 400.5 L761 401.5 L761.8 402.6 L762.5 403.8 L763.2 405.1 L764 406.4 L764.8 407.9 L765.5 409.4 L766.2 411 L767 412.8 L767.8 414.6 L768.5 416.7 L769.2 418.8 L770 421.1 L770.8 423.6 L771.5 426.3 L772.2 429.2 L773 432.3 L773.8 435.5 L774.5 439 L775.2 442.6 L776 446.4 L776.8 450.2 L777.5 453.9 L778.2 457.5 L779 460.5 L779.8 462.9 L780.5 464 L781.2 463.7 L782 461.3 L782.8 456.8 L783.5 449.9 L784.2 440.9 L785 430.3 L785.8 418.8 L786.5 407.2 L787.2 396.1 L788 386.1 L788.8 377.4 L789.5 370 L790.2 363.9 L791 359 L791.8 355.2 L792.5 352.2 L793.2 349.8 L794 348.1 L794.8 346.8 L795.5 345.9 L796.2 345.3 L797 344.9 L797.8 344.7 L798.5 344.6 L799.2 344.6 L800 344.8 L800.8 344.9 L801.5 345.2 L802.2 345.4 L803 345.7 L803.8 346.1 L804.5 346.4 L805.2 346.7 L806 347.1 L806.8 347.4 L807.5 347.8 L808.2 348.1 L809 348.5 L809.8 348.8 L810.5 349.2 L811.2 349.5 L812 349.8 L812.8 350.1 L813.5 350.5 L814.2 350.8 L815 351.1 L815.8 351.3 L816.5 351.6 L817.2 351.9 L818 352.2 L818.8 352.4 L819.5 352.7 L820.2 352.9 L821 353.2 L821.8 353.4 L822.5 353.6 L823.2 353.8 L824 354.1 L824.8 354.3 L825.5 354.5 L826.2 354.7 L827 354.9 L827.8 355.1 L828.5 355.2 L829.2 355.4 L830 355.6 L830.8 355.8 L831.5 355.9 L832.2 356.1 L833 356.3 L833.8 356.4 L834.5 356.6 L835.2 356.7 L836 356.9 L836.8 357 L837.5 357.1 L838.2 357.3 L839 357.4 L839.8 357.5 L840.5 357.7 L841.2 357.8 L842 357.9 L842.8 358 L843.5 358.1 L844.2 358.3 L845 358.4 L845.8 358.5 L846.5 358.6 L847.2 358.7 L848 358.8 L848.8 358.9 L849.5 359 L850.2 359.1 L851 359.2 L851.8 359.3 L852.5 359.4 L853.2 359.4 L854 359.5 L854.8 359.6 L855.5 359.7 L856.2 359.8 L857 359.9 L857.8 359.9 L858.5 360 L859.2 360.1 L860 360.2 L860.8 360.2 L861.5 360.3 L862.2 360.4 L863 360.5 L863.8 360.5 L864.5 360.6 L865.2 360.7 L866 360.7 L866.8 360.8 L867.5 360.9 L868.2 360.9 L869 361 L869.8 361 L870.5 361.1 L871.2 361.2 L872 361.2 L872.8 361.3 L873.5 361.3 L874.2 361.4 L875 361.4 L875.8 361.5 L876.5 361.6 L877.2 361.6 L878 361.7 L878.8 361.7 L879.5 361.8 L880.2 361.8 L881 361.9 L881.8 361.9 L882.5 361.9 L883.2 362 L884 362 L884.8 362.1 L885.5 362.1 L886.2 362.2 L887 362.2 L887.8 362.3 L888.5 362.3 L889.2 362.3 L890 362.4 L890.8 362.4 L891.5 362.5 L892.2 362.5 L893 362.5 L893.8 362.6 L894.5 362.6 L895.2 362.7 L896 362.7 L896.8 362.7 L897.5 362.8 L898.2 362.8 L899 362.8 L899.8 362.9 L900.5 362.9 L901.2 362.9 L902 363 L902.8 363 L903.5 363 L904.2 363.1 L905 363.1 L905.8 363.1 L906.5 363.2 L907.2 363.2 L908 363.2 L908.8 363.3 L909.5 363.3 L910.2 363.3 L911 363.3 L911.8 363.4 L912.5 363.4 L913.2 363.4 L914 363.5 L914.8 363.5 L915.5 363.5 L916.2 363.5 L917 363.6 L917.8 363.6 L918.5 363.6 L919.2 363.6 L920 363.7 L920.8 363.7 L921.5 363.7 L922.2 363.7 L923 363.8 L923.8 363.8 L924.5 363.8 L925.2 363.8 L926 363.9 L926.8 363.9 L927.5 363.9 L928.2 363.9 L929 364 L929.8 364 L930.5 364 L931.2 364 L932 364 L932.8 364.1 L933.5 364.1 L934.2 364.1 L935 364.1 L935.8 364.2 L936.5 364.2 L937.2 364.2 L938 364.2 L938.8 364.2 L939.5 364.3 L940.2 364.3 L941 364.3 L941.8 364.3 L942.5 364.3 L943.2 364.3 L944 364.4" stroke="#1a1a1a" stroke-width="0.9"/>
</g>
<g stroke="#111" stroke-width="1.1" fill="none">
<rect x="706" y="265.5" width="236" height="207.3"/>
<path d="M706 274.5h5"/>
<path d="M706 368.5h5"/>
<path d="M706 463.8h5"/>
<path d="M784.9 472.8v-4.5"/>
<path d="M863.6 472.8v-4.5"/>
</g>
<g font-family="Liberation Sans, sans-serif" font-size="18.8" fill="#0a0a0a" stroke="#0a0a0a" stroke-width="0.25">
<text x="829.2" y="292.6">proposed</text>
<text x="877.6" y="315.8">RCP</text>
<text x="877.6" y="340">LCP</text>
<text x="829.2" y="413.6">conventional</text>
<text x="877.6" y="436.2">RCP</text>
<text x="877.6" y="460.3">LCP</text>
</g>
<path d="M828 309.4H872" stroke="#e01a22" stroke-width="3.6" stroke-linecap="round"/>
<path d="M829 333.6H871" stroke="#58b3e6" stroke-width="5.2" stroke-linecap="round"/>
<path d="M828 429.8H872" stroke="#e8861c" stroke-width="3.6" stroke-linecap="round"/>
<path d="M827 453.8H873" stroke="#1a1a1a" stroke-width="0.9"/>
<text font-family="Liberation Sans, sans-serif" font-size="21.3" fill="#0a0a0a" stroke="#0a0a0a" stroke-width="0.3" x="773" y="498.4">Frequency</text>
<text font-family="Liberation Sans, sans-serif" font-size="21.3" fill="#0a0a0a" stroke="#0a0a0a" stroke-width="0.3" transform="translate(689.5 429.5) rotate(-90)">Fano profile, <tspan font-family="Liberation Serif, serif" font-style="italic" font-size="22">I</tspan></text>
<clipPath id="cg"><rect x="704.6" y="530.6" width="236.2" height="206.8"/></clipPath>
<g clip-path="url(#cg)" fill="none" stroke-linejoin="round">
<path d="M702.6 702.7 L703.4 702.7 L704.1 702.7 L704.9 702.7 L705.6 702.6 L706.4 702.6 L707.1 702.6 L707.9 702.6 L708.6 702.5 L709.4 702.5 L710.1 702.5 L710.9 702.5 L711.6 702.5 L712.4 702.4 L713.1 702.4 L713.9 702.4 L714.6 702.4 L715.4 702.3 L716.1 702.3 L716.9 702.3 L717.6 702.2 L718.4 702.2 L719.1 702.2 L719.9 702.2 L720.6 702.1 L721.4 702.1 L722.1 702.1 L722.9 702 L723.6 702 L724.4 701.9 L725.1 701.9 L725.9 701.9 L726.6 701.8 L727.4 701.8 L728.1 701.7 L728.9 701.7 L729.6 701.7 L730.4 701.6 L731.1 701.6 L731.9 701.5 L732.6 701.5 L733.4 701.4 L734.1 701.4 L734.9 701.3 L735.6 701.2 L736.4 701.2 L737.1 701.1 L737.9 701.1 L738.6 701 L739.4 700.9 L740.1 700.9 L740.9 700.8 L741.6 700.7 L742.4 700.6 L743.1 700.5 L743.9 700.4 L744.6 700.4 L745.4 700.3 L746.1 700.2 L746.9 700.1 L747.6 700 L748.4 699.8 L749.1 699.7 L749.9 699.6 L750.6 699.5 L751.4 699.3 L752.1 699.2 L752.9 699 L753.6 698.9 L754.4 698.7 L755.1 698.5 L755.9 698.3 L756.6 698.1 L757.4 697.9 L758.1 697.7 L758.9 697.4 L759.6 697.2 L760.4 696.9 L761.1 696.6 L761.9 696.3 L762.6 696 L763.4 695.6 L764.1 695.2 L764.9 694.8 L765.6 694.3 L766.4 693.8 L767.1 693.3 L767.9 692.7 L768.6 692.1 L769.4 691.4 L770.1 690.6 L770.9 689.7 L771.6 688.8 L772.4 687.8 L773.1 686.7 L773.9 685.4 L774.6 684 L775.4 682.5 L776.1 680.8 L776.9 678.9 L777.6 676.8 L778.4 674.7 L779.1 672.4 L779.9 670.2 L780.6 668.3 L781.4 667 L782.1 666.5 L782.9 667 L783.6 668.7 L784.4 671.2 L785.1 674.5 L785.9 678.1 L786.6 681.8 L787.4 685.3 L788.1 688.5 L788.9 691.4 L789.6 693.9 L790.4 696 L791.1 697.8 L791.9 699.3 L792.6 700.5 L793.4 701.6 L794.1 702.5 L794.9 703.2 L795.6 703.8 L796.4 704.3 L797.1 704.8 L797.9 705.1 L798.6 705.4 L799.4 705.7 L800.1 705.9 L800.9 706.1 L801.6 706.2 L802.4 706.3 L803.1 706.4 L803.9 706.5 L804.6 706.6 L805.4 706.6 L806.1 706.7 L806.9 706.7 L807.6 706.7 L808.4 706.8 L809.1 706.8 L809.9 706.8 L810.6 706.8 L811.4 706.8 L812.1 706.8 L812.9 706.8 L813.6 706.8 L814.4 706.8 L815.1 706.8 L815.9 706.8 L816.6 706.7 L817.4 706.7 L818.1 706.7 L818.9 706.7 L819.6 706.7 L820.4 706.7 L821.1 706.6 L821.9 706.6 L822.6 706.6 L823.4 706.6 L824.1 706.6 L824.9 706.6 L825.6 706.5 L826.4 706.5 L827.1 706.5 L827.9 706.5 L828.6 706.5 L829.4 706.4 L830.1 706.4 L830.9 706.4 L831.6 706.4 L832.4 706.4 L833.1 706.4 L833.9 706.3 L834.6 706.3 L835.4 706.3 L836.1 706.3 L836.9 706.3 L837.6 706.3 L838.4 706.2 L839.1 706.2 L839.9 706.2 L840.6 706.2 L841.4 706.2 L842.1 706.2 L842.9 706.2 L843.6 706.1 L844.4 706.1 L845.1 706.1 L845.9 706.1 L846.6 706.1 L847.4 706.1 L848.1 706.1 L848.9 706 L849.6 706 L850.4 706 L851.1 706 L851.9 706 L852.6 706 L853.4 706 L854.1 706 L854.9 705.9 L855.6 705.9 L856.4 705.9 L857.1 705.9 L857.9 705.9 L858.6 705.9 L859.4 705.9 L860.1 705.9 L860.9 705.9 L861.6 705.8 L862.4 705.8 L863.1 705.8 L863.9 705.8 L864.6 705.8 L865.4 705.8 L866.1 705.8 L866.9 705.8 L867.6 705.8 L868.4 705.8 L869.1 705.8 L869.9 705.7 L870.6 705.7 L871.4 705.7 L872.1 705.7 L872.9 705.7 L873.6 705.7 L874.4 705.7 L875.1 705.7 L875.9 705.7 L876.6 705.7 L877.4 705.7 L878.1 705.7 L878.9 705.6 L879.6 705.6 L880.4 705.6 L881.1 705.6 L881.9 705.6 L882.6 705.6 L883.4 705.6 L884.1 705.6 L884.9 705.6 L885.6 705.6 L886.4 705.6 L887.1 705.6 L887.9 705.6 L888.6 705.6 L889.4 705.6 L890.1 705.5 L890.9 705.5 L891.6 705.5 L892.4 705.5 L893.1 705.5 L893.9 705.5 L894.6 705.5 L895.4 705.5 L896.1 705.5 L896.9 705.5 L897.6 705.5 L898.4 705.5 L899.1 705.5 L899.9 705.5 L900.6 705.5 L901.4 705.5 L902.1 705.5 L902.9 705.4 L903.6 705.4 L904.4 705.4 L905.1 705.4 L905.9 705.4 L906.6 705.4 L907.4 705.4 L908.1 705.4 L908.9 705.4 L909.6 705.4 L910.4 705.4 L911.1 705.4 L911.9 705.4 L912.6 705.4 L913.4 705.4 L914.1 705.4 L914.9 705.4 L915.6 705.4 L916.4 705.4 L917.1 705.4 L917.9 705.4 L918.6 705.3 L919.4 705.3 L920.1 705.3 L920.9 705.3 L921.6 705.3 L922.4 705.3 L923.1 705.3 L923.9 705.3 L924.6 705.3 L925.4 705.3 L926.1 705.3 L926.9 705.3 L927.6 705.3 L928.4 705.3 L929.1 705.3 L929.9 705.3 L930.6 705.3 L931.4 705.3 L932.1 705.3 L932.9 705.3 L933.6 705.3 L934.4 705.3 L935.1 705.3 L935.9 705.3 L936.6 705.3 L937.4 705.3 L938.1 705.3 L938.9 705.2 L939.6 705.2 L940.4 705.2 L941.1 705.2 L941.9 705.2 L942.6 705.2 L942.8 705.2" stroke="#4aabe0" stroke-width="3.4"/>
<path d="M702.6 693.6 L703.4 693.4 L704.1 693.3 L704.9 693.2 L705.6 693.1 L706.4 693 L707.1 692.8 L707.9 692.7 L708.6 692.6 L709.4 692.4 L710.1 692.3 L710.9 692.1 L711.6 692 L712.4 691.8 L713.1 691.7 L713.9 691.5 L714.6 691.4 L715.4 691.2 L716.1 691 L716.9 690.9 L717.6 690.7 L718.4 690.5 L719.1 690.3 L719.9 690.1 L720.6 689.9 L721.4 689.7 L722.1 689.5 L722.9 689.3 L723.6 689.1 L724.4 688.9 L725.1 688.6 L725.9 688.4 L726.6 688.1 L727.4 687.9 L728.1 687.6 L728.9 687.3 L729.6 687.1 L730.4 686.8 L731.1 686.5 L731.9 686.2 L732.6 685.9 L733.4 685.5 L734.1 685.2 L734.9 684.9 L735.6 684.5 L736.4 684.1 L737.1 683.7 L737.9 683.3 L738.6 682.9 L739.4 682.5 L740.1 682 L740.9 681.6 L741.6 681.1 L742.4 680.6 L743.1 680 L743.9 679.5 L744.6 678.9 L745.4 678.3 L746.1 677.7 L746.9 677 L747.6 676.3 L748.4 675.6 L749.1 674.9 L749.9 674.1 L750.6 673.3 L751.4 672.4 L752.1 671.5 L752.9 670.5 L753.6 669.5 L754.4 668.4 L755.1 667.3 L755.9 666.1 L756.6 664.8 L757.4 663.5 L758.1 662 L758.9 660.5 L759.6 658.9 L760.4 657.1 L761.1 655.3 L761.9 653.3 L762.6 651.2 L763.4 648.9 L764.1 646.4 L764.9 643.8 L765.6 641 L766.4 637.9 L767.1 634.6 L767.9 631 L768.6 627.2 L769.4 623 L770.1 618.5 L770.9 613.6 L771.6 608.4 L772.4 602.8 L773.1 596.8 L773.9 590.4 L774.6 583.7 L775.4 576.8 L776.1 569.8 L776.9 562.9 L777.6 556.5 L778.4 551 L779.1 546.8 L779.9 544.5 L780.6 544.6 L781.4 547.6 L782.1 553.6 L782.9 562.3 L783.6 573.4 L784.4 586 L785.1 599.5 L785.9 613 L786.6 626.1 L787.4 638.3 L788.1 649.3 L788.9 659.2 L789.6 667.9 L790.4 675.5 L791.1 682 L791.9 687.6 L792.6 692.4 L793.4 696.5 L794.1 700 L794.9 702.9 L795.6 705.4 L796.4 707.5 L797.1 709.3 L797.9 710.9 L798.6 712.2 L799.4 713.3 L800.1 714.2 L800.9 714.9 L801.6 715.6 L802.4 716.1 L803.1 716.6 L803.9 717 L804.6 717.3 L805.4 717.5 L806.1 717.7 L806.9 717.8 L807.6 718 L808.4 718 L809.1 718.1 L809.9 718.1 L810.6 718.1 L811.4 718.1 L812.1 718.1 L812.9 718.1 L813.6 718 L814.4 718 L815.1 717.9 L815.9 717.8 L816.6 717.7 L817.4 717.6 L818.1 717.6 L818.9 717.5 L819.6 717.4 L820.4 717.3 L821.1 717.2 L821.9 717.1 L822.6 717 L823.4 716.9 L824.1 716.7 L824.9 716.6 L825.6 716.5 L826.4 716.4 L827.1 716.3 L827.9 716.2 L828.6 716.1 L829.4 716 L830.1 715.9 L830.9 715.8 L831.6 715.7 L832.4 715.6 L833.1 715.5 L833.9 715.4 L834.6 715.3 L835.4 715.2 L836.1 715.1 L836.9 715 L837.6 714.9 L838.4 714.8 L839.1 714.7 L839.9 714.6 L840.6 714.6 L841.4 714.5 L842.1 714.4 L842.9 714.3 L843.6 714.2 L844.4 714.1 L845.1 714 L845.9 714 L846.6 713.9 L847.4 713.8 L848.1 713.7 L848.9 713.7 L849.6 713.6 L850.4 713.5 L851.1 713.4 L851.9 713.4 L852.6 713.3 L853.4 713.2 L854.1 713.2 L854.9 713.1 L855.6 713 L856.4 713 L857.1 712.9 L857.9 712.8 L858.6 712.8 L859.4 712.7 L860.1 712.6 L860.9 712.6 L861.6 712.5 L862.4 712.5 L863.1 712.4 L863.9 712.3 L864.6 712.3 L865.4 712.2 L866.1 712.2 L866.9 712.1 L867.6 712.1 L868.4 712 L869.1 712 L869.9 711.9 L870.6 711.8 L871.4 711.8 L872.1 711.7 L872.9 711.7 L873.6 711.7 L874.4 711.6 L875.1 711.6 L875.9 711.5 L876.6 711.5 L877.4 711.4 L878.1 711.4 L878.9 711.3 L879.6 711.3 L880.4 711.2 L881.1 711.2 L881.9 711.2 L882.6 711.1 L883.4 711.1 L884.1 711 L884.9 711 L885.6 710.9 L886.4 710.9 L887.1 710.9 L887.9 710.8 L888.6 710.8 L889.4 710.8 L890.1 710.7 L890.9 710.7 L891.6 710.6 L892.4 710.6 L893.1 710.6 L893.9 710.5 L894.6 710.5 L895.4 710.5 L896.1 710.4 L896.9 710.4 L897.6 710.4 L898.4 710.3 L899.1 710.3 L899.9 710.3 L900.6 710.2 L901.4 710.2 L902.1 710.2 L902.9 710.1 L903.6 710.1 L904.4 710.1 L905.1 710.1 L905.9 710 L906.6 710 L907.4 710 L908.1 709.9 L908.9 709.9 L909.6 709.9 L910.4 709.9 L911.1 709.8 L911.9 709.8 L912.6 709.8 L913.4 709.7 L914.1 709.7 L914.9 709.7 L915.6 709.7 L916.4 709.6 L917.1 709.6 L917.9 709.6 L918.6 709.6 L919.4 709.5 L920.1 709.5 L920.9 709.5 L921.6 709.5 L922.4 709.4 L923.1 709.4 L923.9 709.4 L924.6 709.4 L925.4 709.4 L926.1 709.3 L926.9 709.3 L927.6 709.3 L928.4 709.3 L929.1 709.2 L929.9 709.2 L930.6 709.2 L931.4 709.2 L932.1 709.2 L932.9 709.1 L933.6 709.1 L934.4 709.1 L935.1 709.1 L935.9 709.1 L936.6 709 L937.4 709 L938.1 709 L938.9 709 L939.6 709 L940.4 708.9 L941.1 708.9 L941.9 708.9 L942.6 708.9 L942.8 708.9" stroke="#d81820" stroke-width="3.4"/>
</g>
<g stroke="#111" stroke-width="1.1" fill="none">
<rect x="704.6" y="530.6" width="236.2" height="206.8"/>
<path d="M704.6 538.2h5"/>
<path d="M704.6 621.8h5"/>
<path d="M704.6 704.3h5"/>
<path d="M783.2 737.4v-4.5"/>
<path d="M861.5 737.4v-4.5"/>
</g>
<g font-family="Liberation Sans, sans-serif" font-size="18.8" fill="#0a0a0a" stroke="#0a0a0a" stroke-width="0.25">
<text x="829.1" y="608.7">proposed</text>
<text x="829.1" y="655.6">conventional</text>
</g>
<path d="M795.4 625L817 612.6" stroke="#d81820" stroke-width="1.7" fill="none"/><path d="M824 608.4L813.4 609.6L817.6 617Z" fill="#d81820"/>
<path d="M818.6 690.1L826.2 669.8" stroke="#4aabe0" stroke-width="1.7" fill="none"/><path d="M829.2 662.2L822.2 670.4L830.2 673.4Z" fill="#4aabe0"/>
<text font-family="Liberation Sans, sans-serif" font-size="21.3" fill="#0a0a0a" stroke="#0a0a0a" stroke-width="0.3" x="772.3" y="764">Frequency</text>
<text font-family="Liberation Sans, sans-serif" font-size="21.3" fill="#0a0a0a" stroke="#0a0a0a" stroke-width="0.3" transform="translate(689.5 716.8) rotate(-90)">Fano-induced CD</text>
<g font-family="Liberation Sans, sans-serif" font-weight="bold" font-size="25" fill="#0a0a0a" stroke="#0a0a0a" stroke-width="0.4">
<text x="30.4" y="30.7">a</text>
<text x="326.6" y="30.7">b</text>
<text x="638.4" y="30.6">c</text>
<text x="30.6" y="281">d</text>
<text x="30.4" y="649.4">e</text>
<text x="638" y="280.4">f</text>
<text x="638.2" y="538.8">g</text>
</g>
<g font-family="Liberation Sans, sans-serif" font-size="22" fill="#0a0a0a" stroke="#0a0a0a" stroke-width="0.3">
<text x="108" y="282.8">M3</text><text x="295.7" y="282.8">M4</text><text x="484" y="282.8">M6</text>
<text x="63.8" y="767.8">Honeycomb</text><text x="274" y="767.2">Square</text><text x="447.6" y="767.2">Hexagonal</text>
</g>
</svg>
</body></html>
